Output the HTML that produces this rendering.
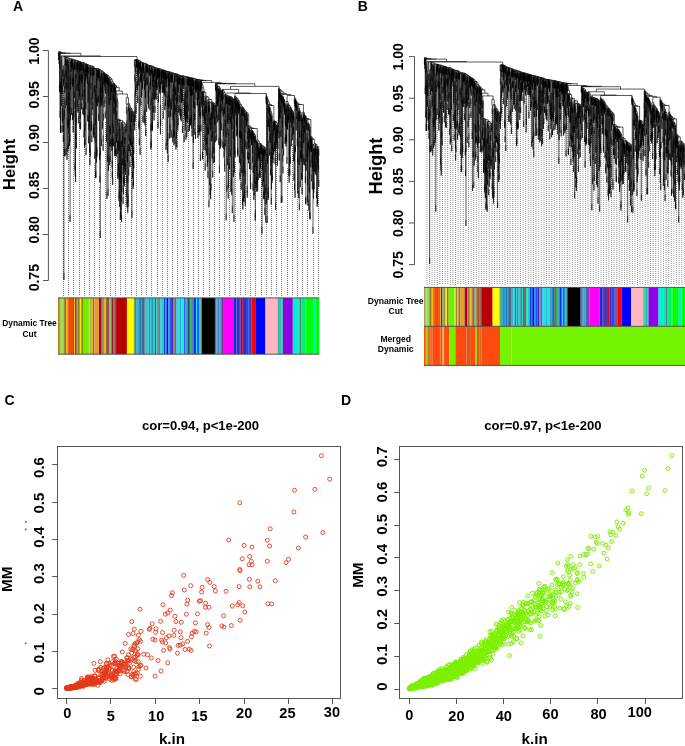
<!DOCTYPE html><html><head><meta charset="utf-8"><style>html,body{margin:0;padding:0;background:#fff;overflow:hidden}svg{display:block;will-change:transform}</style></head><body><svg width="685" height="746" viewBox="0 0 685 746"><rect width="685" height="746" fill="#fff"/><g font-family="Liberation Sans, sans-serif" font-weight="bold" fill="#000"><text x="13.0" y="10.8" font-size="14.0" text-anchor="start">A</text><text x="357.8" y="10.5" font-size="14.0" text-anchor="start">B</text><text x="4.4" y="404.7" font-size="14.0" text-anchor="start">C</text><text x="341.0" y="404.7" font-size="14.0" text-anchor="start">D</text></g><g stroke="#555" stroke-width="1" fill="none"><path d="M48.4 50.5V280.5M43.0 50.5H48.4M43.0 96.5H48.4M43.0 142.5H48.4M43.0 188.5H48.4M43.0 234.5H48.4M43.0 280.5H48.4"/></g><g font-family="Liberation Sans, sans-serif" font-weight="bold" fill="#000"><text x="38.6" y="51.1" font-size="14.0" text-anchor="middle" transform="rotate(-90 38.6 51.1)">1.00</text><text x="38.6" y="94.8" font-size="14.0" text-anchor="middle" transform="rotate(-90 38.6 94.8)">0.95</text><text x="38.6" y="137.9" font-size="14.0" text-anchor="middle" transform="rotate(-90 38.6 137.9)">0.90</text><text x="38.6" y="185.3" font-size="14.0" text-anchor="middle" transform="rotate(-90 38.6 185.3)">0.85</text><text x="38.6" y="229.9" font-size="14.0" text-anchor="middle" transform="rotate(-90 38.6 229.9)">0.80</text><text x="38.6" y="277.7" font-size="14.0" text-anchor="middle" transform="rotate(-90 38.6 277.7)">0.75</text><text x="15.0" y="164.3" font-size="16.5" text-anchor="middle" transform="rotate(-90 15.0 164.3)">Height</text></g><path d="M63.5 91V296M68.5 130V296M73.5 122V296M79.5 104V296M84.5 91V296M89.5 122V296M94.5 163V296M99.5 187V296M105.5 122V296M110.5 139V296M115.5 99V296M120.5 222V296M125.5 138V296M131.5 126V296M136.5 71V296M141.5 102V296M146.5 116V296M151.5 135V296M157.5 94V296M162.5 97V296M167.5 111V296M172.5 146V296M177.5 95V296M183.5 90V296M188.5 115V296M193.5 112V296M198.5 104V296M203.5 110V296M209.5 211V296M214.5 158V296M219.5 177V296M224.5 176V296M229.5 109V296M235.5 162V296M240.5 142V296M245.5 188V296M250.5 193V296M255.5 171V296M261.5 156V296M266.5 108V296M271.5 194V296M276.5 140V296M281.5 207V296M287.5 168V296M292.5 144V296M297.5 167V296M302.5 176V296M307.5 210V296M313.5 238V296M318.5 174V296" stroke="#7a7a7a" stroke-width="1" stroke-dasharray="1 1" fill="none"/><defs><path id="dg" d="M58.8 51.6V51.5H60.7V52.7M59.1 57.1V52.7H62.3V52.8M59.3 59.7V52.8H65.2V53.2M59.8 53.7V53.2H70.6V53.3M60.3 86.0V53.3H80.9V55.9M61.2 56.0V55.9H100.7V56.5M64.3 56.6V56.5H137.0V59.6M135.9 59.6V59.6H138.1V60.1M137.4 60.1V60.1H138.8V60.5M138.2 60.7V60.5H139.5V60.7M138.6 61.4V60.7H140.3V61.7M139.6 61.8V61.7H141.0V61.9M140.2 62.1V61.9H141.9V62.6M140.9 62.8V62.6H142.9V62.9M142.2 63.2V62.9H143.6V63.1M142.8 63.4V63.1H144.3V63.3M143.3 63.4V63.3H145.3V63.4M144.3 72.3V63.4H146.3V64.1M145.8 64.4V64.1H146.8V64.1M146.3 64.2V64.1H147.4V64.6M146.7 67.3V64.6H148.0V65.2M147.3 65.4V65.2H148.7V65.3M147.7 72.2V65.3H149.7V65.6M148.7 66.7V65.6H150.7V65.6M149.3 72.5V65.6H152.2V66.3M150.6 66.4V66.3H153.7V67.2M152.5 67.2V67.2H155.0V67.3M154.3 68.8V67.3H155.6V67.6M154.9 68.3V67.6H156.4V68.1M155.7 68.7V68.1H157.1V68.3M156.7 79.4V68.3H157.4V68.3M157.0 83.1V68.3H157.8V68.5M157.2 75.4V68.5H158.4V68.6M157.4 72.5V68.6H159.3V68.8M158.2 69.0V68.8H160.3V69.0M158.9 69.0V69.0H161.7V69.8M160.4 69.9V69.8H163.1V70.0M162.2 70.1V70.0H163.9V70.2M163.2 70.4V70.2H164.7V70.6M164.1 70.8V70.6H165.4V70.8M164.8 71.2V70.8H165.9V70.8M165.3 71.9V70.8H166.6V71.5M165.7 78.4V71.5H167.5V71.5M166.1 72.7V71.5H169.0V71.8M167.8 71.9V71.8H170.1V72.2M169.1 72.6V72.2H171.2V72.4M169.8 72.6V72.4H172.5V72.9M171.4 73.1V72.9H173.6V73.3M172.6 73.6V73.3H174.6V73.5M173.9 81.3V73.5H175.2V73.7M174.4 75.2V73.7H176.0V73.9M175.0 74.3V73.9H177.1V74.3M176.2 74.4V74.3H177.9V74.4M177.2 74.6V74.4H178.7V74.8M177.9 75.2V74.8H179.4V75.4M178.5 78.1V75.4H180.4V75.8M179.1 78.4V75.8H181.6V75.8M179.5 82.7V75.8H183.8V76.2M182.1 76.2V76.2H185.5V76.6M184.2 78.3V76.6H186.9V76.8M185.8 77.6V76.8H188.0V77.1M187.0 78.9V77.1H188.9V77.3M188.0 77.4V77.3H189.8V77.4M189.1 84.3V77.4H190.5V77.5M189.6 78.0V77.5H191.3V77.9M190.5 78.4V77.9H192.2V78.0M191.4 78.2V78.0H192.9V78.3M191.9 78.7V78.3H193.9V78.4M192.7 78.7V78.4H195.1V78.8M193.7 79.7V78.8H196.5V79.4M195.0 80.6V79.4H198.1V79.5M196.1 79.5V79.5H200.0V79.8M197.4 80.0V79.8H202.6V80.4M198.9 80.9V80.4H206.2V80.5M200.9 80.7V80.5H211.5V82.4M202.3 85.1V82.4H220.7V83.4M215.6 83.7V83.4H225.7V83.4M215.8 90.3V83.4H235.7V83.8M216.5 83.8V83.8H254.8V86.4M230.6 89.4V86.4H279.0V88.1M278.6 88.3V88.1H279.4V89.4M279.0 131.4V89.4H279.9V89.6M279.4 111.8V89.6H280.4V89.8M279.7 109.4V89.8H281.0V90.8M279.9 93.3V90.8H282.1V92.0M280.4 92.9V92.0H283.8V93.5M281.1 94.5V93.5H286.5V94.5M282.2 95.9V94.5H290.9V95.5M287.1 101.6V95.5H294.6V97.3M294.3 104.2V97.3H295.0V99.2M294.5 106.1V99.2H295.5V99.2M295.1 99.9V99.2H295.9V99.4M295.6 106.3V99.4H296.1V101.3M295.8 108.2V101.3H296.4V101.6M296.0 104.0V101.6H296.8V101.7M296.4 108.6V101.7H297.2V102.9M296.5 109.8V102.9H297.9V103.1M296.8 103.3V103.1H298.9V104.4M297.1 111.3V104.4H300.8V104.5M298.2 106.0V104.5H303.4V112.0M302.8 118.8V112.0H304.0V112.3M303.7 114.4V112.3H304.2V113.9M304.0 157.5V113.9H304.4V114.8M304.2 121.7V114.8H304.7V115.0M304.4 125.2V115.0H304.9V115.3M304.6 122.2V115.3H305.3V115.9M304.8 127.4V115.9H305.7V116.6M305.2 134.4V116.6H306.1V116.8M305.5 123.7V116.8H306.7V118.5M305.8 196.6V118.5H307.6V118.6M306.1 163.8V118.6H309.1V119.5M307.2 119.9V119.5H310.9V136.6M310.5 143.5V136.6H311.4V136.7M310.8 137.3V136.7H312.0V137.9M311.4 145.1V137.9H312.6V138.4M311.8 139.9V138.4H313.4V139.4M312.3 144.0V139.4H314.6V143.9M313.5 145.3V143.9H315.7V143.9M315.2 144.8V143.9H316.2V144.5M315.6 148.9V144.5H316.9V146.2M316.2 149.3V146.2H317.6V146.8M317.0 147.2V146.8H318.2V146.8M317.7 148.8V146.8H318.7V148.8M318.4 151.3V148.8H318.9V155.7M318.2 155.3V151.3H318.6V165.6M318.5 172.5V165.6H318.7V180.0M318.7 186.9V180.0H318.8V186.9M318.0 162.2V155.3H318.3V158.6M318.2 162.9V158.6H318.4V165.5M318.2 169.8V162.9H318.3V169.8M317.6 196.6V148.8H317.8V148.9M317.8 155.8V148.9H317.9V155.8M317.5 203.5V196.6H317.6V203.5M316.9 154.1V147.2H317.1V153.0M317.0 159.9V153.0H317.3V156.0M317.2 199.8V156.0H317.4V162.9M317.1 206.7V199.8H317.2V206.7M316.0 161.8V149.3H316.4V152.9M316.2 159.8V152.9H316.6V160.8M316.4 168.7V160.8H316.7V167.7M316.3 175.6V168.7H316.5V191.4M316.5 198.3V191.4H316.6V198.3M315.9 165.0V161.8H316.1V168.7M315.8 171.9V165.0H315.9V171.9M315.5 155.8V148.9H315.7V155.8M314.9 148.4V144.8H315.4V167.6M315.3 174.5V167.6H315.4V174.5M314.7 148.9V148.4H315.2V155.3M314.5 159.6V148.9H314.9V151.3M314.8 158.1V151.3H315.0V158.2M314.8 165.0V158.1H314.9V165.0M314.4 165.0V159.6H314.6V166.5M314.4 171.9V165.0H314.5V171.9M312.9 150.1V145.3H314.0V147.7M313.8 148.8V147.7H314.2V154.6M313.5 149.3V148.8H314.1V182.1M314.0 189.0V182.1H314.1V189.0M313.3 156.2V149.3H313.7V159.7M313.5 191.6V159.7H313.8V185.7M313.7 192.6V185.7H313.9V192.6M313.5 198.5V191.6H313.6V198.5M312.8 161.0V150.1H313.1V152.6M313.0 227.0V152.6H313.2V159.5M312.9 233.9V227.0H313.1V233.9M312.7 167.9V161.0H312.8V167.9M312.1 155.7V144.0H312.5V164.2M312.4 182.4V164.2H312.6V171.1M312.3 189.3V182.4H312.4V189.3M312.0 162.6V155.7H312.2V162.6M311.7 174.5V139.9H311.9V146.8M311.6 181.4V174.5H311.8V181.4M311.4 152.0V145.1H311.5V152.0M310.6 144.2V137.3H311.0V138.9M310.9 139.5V138.9H311.2V144.1M311.1 151.0V144.1H311.3V151.0M310.8 160.4V139.5H311.0V146.4M310.7 167.3V160.4H310.9V167.3M306.5 120.0V119.9H307.9V122.7M307.4 123.9V122.7H308.4V123.3M308.1 130.2V123.3H308.6V123.8M308.3 130.7V123.8H308.9V124.2M308.4 131.1V124.2H309.5V126.4M309.0 126.6V126.4H309.9V127.0M309.7 129.6V127.0H310.1V138.1M310.0 212.5V138.1H310.3V144.7M310.2 151.6V144.7H310.3V151.6M310.0 219.4V212.5H310.1V219.4M309.6 136.5V129.6H309.8V211.6M309.7 218.5V211.6H309.8V218.5M308.8 140.6V126.6H309.3V171.1M309.2 185.6V171.1H309.4V178.0M309.2 192.5V185.6H309.3V192.5M308.6 142.7V140.6H308.9V150.2M308.8 203.8V150.2H309.0V157.1M308.8 210.7V203.8H308.9V210.7M308.5 149.6V142.7H308.6V149.6M307.1 133.4V123.9H307.8V138.0M307.7 178.4V138.0H307.9V198.9M307.9 205.8V198.9H308.0V205.8M307.6 185.3V178.4H307.7V185.3M306.9 155.2V133.4H307.3V142.7M307.2 149.6V142.7H307.4V195.1M307.3 202.0V195.1H307.5V202.0M307.1 156.5V149.6H307.2V156.5M306.8 162.1V155.2H307.0V162.1M306.3 126.9V120.0H306.6V121.8M306.5 123.0V121.8H306.7V128.7M306.4 129.9V123.0H306.6V129.9M306.0 170.7V163.8H306.2V170.7M305.7 203.5V196.6H305.8V197.6M305.8 204.5V197.6H305.9V204.5M305.1 141.3V134.4H305.3V176.2M305.3 183.1V176.2H305.4V183.1M304.7 134.3V127.4H304.9V158.7M304.9 165.6V158.7H305.0V165.6M304.4 132.1V125.2H304.5V132.1M304.0 164.4V157.5H304.1V164.4M303.5 129.9V114.4H303.8V121.3M303.4 136.8V129.9H303.6V136.2M303.6 143.1V136.2H303.7V143.1M302.6 165.0V118.8H303.1V125.3M302.9 141.2V125.3H303.3V132.2M302.8 148.1V141.2H303.1V154.5M303.0 158.0V154.5H303.2V161.4M302.9 164.9V158.0H303.1V164.9M302.5 172.9V165.0H302.7V171.9M302.4 179.8V172.9H302.5V179.8M297.5 114.8V106.0H298.9V108.0M298.4 110.8V108.0H299.4V109.1M299.0 141.4V109.1H299.8V110.5M299.4 111.8V110.5H300.2V112.0M299.7 130.8V112.0H300.6V112.6M300.0 114.1V112.6H301.3V114.8M300.8 114.9V114.8H301.7V116.7M301.3 117.2V116.7H302.1V118.1M301.9 119.4V118.1H302.3V125.0M301.8 150.7V119.4H302.1V187.4M302.0 194.3V187.4H302.1V194.3M301.7 157.6V150.7H301.9V157.6M301.2 154.9V117.2H301.5V133.2M301.4 172.5V133.2H301.6V140.1M301.4 179.4V172.5H301.5V179.4M301.1 161.8V154.9H301.2V161.8M300.6 141.2V114.9H301.0V121.8M300.5 149.5V141.2H300.8V148.1M300.3 150.9V149.5H300.6V151.4M300.6 158.3V151.4H300.7V158.3M300.2 157.8V150.9H300.4V180.3M300.3 187.2V180.3H300.4V187.2M299.9 121.0V114.1H300.1V121.0M299.7 137.7V130.8H299.8V137.7M299.3 203.4V111.8H299.5V118.7M299.3 210.3V203.4H299.4V210.3M298.9 148.3V141.4H299.1V158.1M299.0 165.0V158.1H299.1V165.0M298.3 112.3V110.8H298.6V111.0M298.5 117.9V111.0H298.7V191.2M298.6 198.1V191.2H298.8V198.1M298.2 114.2V112.3H298.4V119.2M298.1 121.1V114.2H298.2V121.1M297.3 139.1V114.8H297.7V119.5M297.5 156.5V119.5H297.9V182.0M297.8 188.9V182.0H298.0V188.9M297.5 163.4V156.5H297.6V186.7M297.6 193.6V186.7H297.7V193.6M297.2 146.0V139.1H297.3V146.0M296.7 112.3V103.3H296.9V110.2M296.7 119.2V112.3H296.8V119.2M295.9 110.9V104.0H296.1V117.1M296.0 124.0V117.1H296.2V123.6M296.1 130.5V123.6H296.3V130.5M294.8 146.8V99.9H295.4V100.1M295.3 145.0V100.1H295.5V107.0M295.2 151.9V145.0H295.4V151.9M294.7 183.4V146.8H294.9V146.9M294.8 153.8V146.9H295.0V190.9M295.0 197.8V190.9H295.1V197.8M294.6 190.3V183.4H294.7V190.3M286.1 104.1V101.6H288.0V103.3M287.5 106.8V103.3H288.5V104.2M288.0 104.7V104.2H289.0V105.5M288.5 107.2V105.5H289.6V105.6M289.0 112.5V105.6H290.1V107.4M289.3 109.6V107.4H290.9V107.6M290.5 108.0V107.6H291.4V109.0M291.0 111.0V109.0H291.7V109.5M291.5 110.3V109.5H292.0V110.4M291.7 117.3V110.4H292.2V111.0M291.9 117.9V111.0H292.6V111.3M292.0 118.2V111.3H293.2V112.3M292.7 112.6V112.3H293.6V115.6M293.4 122.5V115.6H293.9V116.2M293.6 126.8V116.2H294.1V154.7M294.0 173.9V154.7H294.2V161.6M293.9 180.8V173.9H294.1V180.8M293.5 133.7V126.8H293.7V154.3M293.7 161.2V154.3H293.8V161.2M292.4 118.0V112.6H293.0V112.9M292.9 116.0V112.9H293.2V113.0M293.2 119.9V113.0H293.3V119.9M292.7 125.8V116.0H293.0V122.9M292.6 132.7V125.8H292.8V127.8M292.8 134.7V127.8H292.9V134.7M292.2 132.9V118.0H292.5V124.9M292.1 139.8V132.9H292.3V133.4M292.2 140.3V133.4H292.4V140.3M291.4 139.3V110.3H291.6V117.2M291.3 146.2V139.3H291.5V146.2M290.9 115.8V111.0H291.1V120.7M291.1 127.6V120.7H291.2V127.6M290.8 122.7V115.8H290.9V122.7M290.3 109.4V108.0H290.7V114.9M290.1 125.9V109.4H290.5V113.0M290.4 119.9V113.0H290.6V119.9M289.9 143.6V125.9H290.2V157.0M290.2 163.9V157.0H290.3V163.9M289.8 168.6V143.6H290.0V150.5M289.8 175.5V168.6H289.9V175.5M289.2 175.8V109.6H289.5V148.8M289.4 155.7V148.8H289.6V159.6M289.5 166.5V159.6H289.6V166.5M289.1 182.7V175.8H289.2V182.7M288.3 114.1V107.2H288.6V113.6M288.5 120.5V113.6H288.7V113.7M288.6 120.6V113.7H288.8V169.1M288.7 176.0V169.1H288.9V176.0M287.9 111.6V104.7H288.1V116.2M288.1 123.1V116.2H288.2V123.1M287.2 122.7V106.8H287.7V113.7M287.6 115.5V113.7H287.8V120.6M287.5 122.1V115.5H287.7V122.4M287.4 129.0V122.1H287.6V129.0M287.2 129.6V122.7H287.3V129.6M285.5 119.7V104.1H286.7V105.0M286.5 106.8V105.0H287.0V156.9M286.9 163.8V156.9H287.0V163.8M286.2 108.9V106.8H286.8V113.7M286.0 109.4V108.9H286.5V134.1M286.4 141.0V134.1H286.6V135.1M286.5 142.0V135.1H286.6V142.0M285.8 133.7V109.4H286.2V136.5M286.1 143.4V136.5H286.3V143.4M285.7 140.6V133.7H285.9V139.7M285.9 146.6V139.7H286.0V146.6M285.5 126.6V119.7H285.6V126.6M281.7 96.1V95.9H282.7V96.2M282.3 115.8V96.2H283.1V96.9M282.8 154.9V96.9H283.3V97.2M283.1 104.1V97.2H283.5V98.2M283.3 105.1V98.2H283.7V99.0M283.4 105.9V99.0H283.9V99.3M283.7 99.8V99.3H284.2V99.9M283.9 106.8V99.9H284.5V100.7M284.2 101.7V100.7H284.8V103.6M284.6 107.8V103.6H285.0V104.3M284.8 111.2V104.3H285.2V110.0M285.1 117.0V110.0H285.3V116.9M285.0 137.0V117.0H285.2V123.9M285.0 143.9V137.0H285.1V143.9M284.6 114.7V107.8H284.7V114.7M284.0 108.6V101.7H284.3V102.6M284.2 109.5V102.6H284.4V105.2M284.3 112.1V105.2H284.4V112.1M283.6 148.4V99.8H283.8V106.7M283.5 155.3V148.4H283.7V155.3M282.7 161.8V154.9H282.9V166.4M282.9 173.3V166.4H283.0V173.3M282.2 122.7V115.8H282.4V120.7M282.3 127.6V120.7H282.5V141.6M282.5 148.5V141.6H282.6V148.5M281.6 103.0V96.1H281.8V96.4M281.7 103.3V96.4H282.0V98.4M281.9 195.7V98.4H282.1V105.3M281.8 202.6V195.7H282.0V202.6M280.8 104.8V94.5H281.3V94.8M281.2 196.1V94.8H281.4V101.7M281.2 203.0V196.1H281.3V203.0M280.7 111.7V104.8H280.9V106.2M280.9 129.8V106.2H281.0V113.1M280.8 136.7V129.8H280.9V136.7M280.3 111.3V92.9H280.5V99.8M280.2 175.2V111.3H280.4V118.2M280.1 182.1V175.2H280.3V182.1M279.9 100.2V93.3H280.0V100.2M279.6 116.3V109.4H279.7V116.3M279.3 153.7V111.8H279.5V118.7M279.2 160.6V153.7H279.4V160.6M279.0 138.3V131.4H279.1V138.3M278.5 101.3V88.3H278.8V115.3M278.7 122.2V115.3H278.8V122.2M278.4 119.9V101.3H278.6V108.2M278.3 126.8V119.9H278.4V126.8M222.4 89.6V89.4H238.7V93.0M226.7 95.4V93.0H250.6V93.5M235.0 96.5V93.5H266.3V94.1M266.1 101.0V94.1H266.5V96.6M266.2 103.5V96.6H266.9V96.7M266.6 96.9V96.7H267.1V97.1M266.9 104.0V97.1H267.4V98.7M267.0 105.6V98.7H267.9V99.9M267.3 120.0V99.9H268.5V102.1M267.6 156.9V102.1H269.4V104.1M268.4 105.6V104.1H270.3V104.6M268.9 111.5V104.6H271.7V105.5M269.6 107.1V105.5H273.9V120.8M273.2 122.1V120.8H274.6V121.1M274.0 121.5V121.1H275.1V121.2M274.5 122.3V121.2H275.8V121.7M275.0 121.7V121.7H276.5V122.8M275.6 123.5V122.8H277.4V124.9M276.9 125.2V124.9H277.9V125.6M277.7 130.4V125.6H278.1V125.8M278.1 132.7V125.8H278.2V132.7M277.6 153.0V130.4H277.9V142.0M277.8 148.9V142.0H277.9V148.9M277.5 159.9V153.0H277.7V159.9M276.5 125.3V125.2H277.2V138.1M277.1 145.0V138.1H277.3V158.9M277.3 165.8V158.9H277.4V165.8M276.2 125.3V125.3H276.9V126.1M276.8 128.3V126.1H277.0V133.0M276.7 129.3V128.3H276.9V135.2M276.6 131.2V129.3H276.8V136.2M276.5 138.1V131.2H276.6V138.1M276.0 141.5V125.3H276.3V136.0M276.2 142.9V136.0H276.4V142.9M276.0 148.4V141.5H276.1V148.4M275.4 142.9V123.5H275.7V133.2M275.6 203.0V133.2H275.8V140.1M275.6 209.9V203.0H275.7V209.9M275.3 149.8V142.9H275.4V149.8M274.9 128.6V121.7H275.1V157.6M275.1 164.5V157.6H275.2V164.5M274.4 129.2V122.3H274.6V142.1M274.5 149.0V142.1H274.7V144.6M274.7 151.5V144.6H274.8V151.5M273.8 121.7V121.5H274.2V123.6M274.1 130.5V123.6H274.3V130.5M273.7 129.5V121.7H274.0V123.3M273.9 130.2V123.3H274.0V130.2M273.6 148.2V129.5H273.8V136.4M273.5 155.1V148.2H273.6V155.1M273.0 124.6V122.1H273.4V129.0M272.8 153.0V124.6H273.1V146.5M273.0 156.3V146.5H273.2V153.4M273.0 163.2V156.3H273.1V163.2M272.7 159.9V153.0H272.8V159.9M269.2 118.9V107.1H270.0V108.0M269.6 108.2V108.0H270.3V108.6M269.8 115.5V108.6H270.7V111.3M270.1 132.9V111.3H271.4V113.2M270.8 113.9V113.2H272.0V115.9M271.7 116.3V115.9H272.3V130.4M272.1 160.7V130.4H272.5V144.0M272.5 150.9V144.0H272.6V150.9M272.0 176.0V160.7H272.3V173.4M272.2 180.3V173.4H272.3V180.3M271.9 182.9V176.0H272.1V182.9M271.6 152.5V116.3H271.8V123.2M271.5 182.6V152.5H271.7V159.4M271.4 189.5V182.6H271.5V189.5M270.5 114.8V113.9H271.1V115.0M271.0 151.9V115.0H271.2V197.5M271.2 204.4V197.5H271.3V204.4M270.9 158.8V151.9H271.0V158.8M270.4 121.7V114.8H270.7V159.2M270.6 168.4V159.2H270.8V166.1M270.5 175.3V168.4H270.6V175.3M270.0 139.8V132.9H270.2V136.0M270.1 142.9V136.0H270.2V142.9M269.5 148.7V108.2H269.7V115.1M269.5 155.6V148.7H269.6V155.6M269.1 125.8V118.9H269.3V124.5M269.2 131.4V124.5H269.3V131.4M268.1 140.9V105.6H268.6V106.0M268.5 112.9V106.0H268.7V120.1M268.7 127.0V120.1H268.8V127.0M267.9 153.4V140.9H268.4V190.8M268.3 197.7V190.8H268.4V197.7M267.8 160.3V153.4H268.0V187.1M267.9 194.0V187.1H268.1V193.1M268.0 200.0V193.1H268.2V200.0M267.5 163.8V156.9H267.6V163.8M267.2 216.2V120.0H267.4V126.9M267.1 223.1V216.2H267.2V223.1M266.4 97.0V96.9H266.7V103.8M266.3 103.9V97.0H266.5V196.9M266.5 203.8V196.9H266.6V203.8M234.5 108.4V96.5H235.5V96.7M234.8 103.6V96.7H236.1V97.6M235.5 98.2V97.6H236.7V98.1M236.1 98.8V98.1H237.4V98.6M236.6 129.4V98.6H238.1V100.1M237.5 100.1V100.1H238.8V100.7M238.2 102.2V100.7H239.3V102.0M238.6 102.1V102.0H240.0V104.1M239.4 105.2V104.1H240.6V104.3M239.8 111.2V104.3H241.4V105.9M240.7 106.9V105.9H242.2V107.0M241.4 108.4V107.0H242.9V107.7M242.4 108.0V107.7H243.4V107.9M242.9 169.1V107.9H243.9V109.0M243.3 109.0V109.0H244.4V109.6M243.8 116.5V109.6H245.1V110.8M244.5 110.8V110.8H245.6V111.2M244.9 112.9V111.2H246.3V112.5M245.9 113.4V112.5H246.7V112.7M246.2 142.0V112.7H247.2V112.8M246.5 119.1V112.8H248.0V114.6M247.3 114.7V114.6H248.7V125.7M247.8 152.4V125.7H249.6V126.1M248.6 126.1V126.1H250.6V127.6M249.2 128.3V127.6H252.1V128.2M249.9 134.7V128.2H254.3V128.5M251.3 129.8V128.5H257.3V140.0M256.3 141.1V140.0H258.3V141.2M257.2 142.0V141.2H259.4V143.5M258.2 144.4V143.5H260.6V143.7M259.9 144.6V143.7H261.2V144.1M260.8 144.5V144.1H261.6V145.1M261.2 145.1V145.1H262.1V145.7M261.5 147.1V145.7H262.6V145.7M261.9 147.0V145.7H263.3V146.5M262.8 148.0V146.5H263.9V146.5M263.2 148.9V146.5H264.6V147.6M264.0 148.8V147.6H265.1V147.7M264.6 154.6V147.7H265.6V148.9M265.4 150.1V148.9H265.9V155.8M265.2 166.2V150.1H265.5V159.7M265.4 166.6V159.7H265.7V187.6M265.6 194.5V187.6H265.7V215.7M265.7 222.6V215.7H265.8V222.6M265.0 184.7V166.2H265.3V173.1M264.9 197.6V184.7H265.2V191.6M264.8 208.2V197.6H265.0V204.5M264.8 215.1V208.2H264.9V215.1M263.7 192.2V148.8H264.3V149.2M264.1 149.7V149.2H264.5V156.1M264.0 153.5V149.7H264.3V191.9M264.3 198.8V191.9H264.4V198.8M263.9 160.4V153.5H264.1V190.6M264.0 197.5V190.6H264.1V197.5M263.6 199.1V192.2H263.7V199.1M263.1 155.8V148.9H263.3V149.2M263.2 156.1V149.2H263.4V174.6M263.3 181.5V174.6H263.5V181.5M262.6 148.4V148.0H262.9V154.9M262.4 153.9V148.4H262.8V155.3M262.3 156.1V153.9H262.6V179.7M262.6 186.6V179.7H262.7V186.6M262.2 163.0V156.1H262.4V163.2M262.3 170.1V163.2H262.4V170.1M261.8 153.9V147.0H262.0V227.0M261.9 233.9V227.0H262.0V233.9M261.5 147.8V147.1H261.6V154.0M261.4 154.7V147.8H261.5V154.7M261.1 152.0V145.1H261.3V152.0M260.7 147.2V144.5H260.9V154.6M260.9 161.5V154.6H261.0V161.5M260.6 154.1V147.2H260.7V154.1M259.4 147.6V144.6H260.4V161.5M260.3 168.4V161.5H260.5V168.4M259.1 151.2V147.6H259.7V149.2M259.4 156.1V149.2H260.0V158.7M259.8 162.5V158.7H260.1V171.1M260.1 178.0V171.1H260.2V178.0M259.7 168.8V162.5H260.0V169.4M259.6 170.8V168.8H259.8V175.7M259.6 177.7V170.8H259.7V177.7M259.0 158.1V151.2H259.2V154.5M259.2 161.4V154.5H259.3V161.4M257.9 151.3V144.4H258.5V146.4M258.2 147.3V146.4H258.8V147.0M258.7 151.6V147.0H258.9V153.9M258.7 158.5V151.6H258.8V158.5M258.0 154.2V147.3H258.3V147.9M258.2 173.2V147.9H258.5V150.3M258.4 157.2V150.3H258.5V157.2M258.1 180.1V173.2H258.3V180.1M256.9 176.9V142.0H257.5V142.0M257.3 143.1V142.0H257.7V184.5M257.6 191.4V184.5H257.7V191.4M257.2 153.7V143.1H257.5V150.0M257.1 160.6V153.7H257.3V177.7M257.2 184.6V177.7H257.4V184.6M256.8 183.8V176.9H257.0V183.8M256.0 146.9V141.1H256.5V141.1M256.4 148.0V141.1H256.6V184.8M256.6 191.7V184.8H256.7V191.7M255.9 160.0V146.9H256.2V163.9M256.1 180.7V163.9H256.3V170.8M256.0 187.6V180.7H256.2V187.6M255.8 166.9V160.0H255.9V166.9M250.7 130.5V129.8H251.9V130.5M251.5 131.2V130.5H252.3V130.8M251.9 130.8V130.8H252.6V131.0M252.1 137.9V131.0H253.1V132.0M252.5 132.3V132.0H253.7V133.0M253.3 133.1V133.0H254.2V134.2M253.7 141.1V134.2H254.6V134.3M254.0 164.3V134.3H255.2V135.9M254.8 136.2V135.9H255.7V142.8M254.4 143.1V136.2H255.2V136.3M254.9 137.2V136.3H255.5V143.2M254.6 137.5V137.2H255.1V143.5M254.9 181.7V143.5H255.3V210.1M255.2 213.8V210.1H255.4V217.0M255.1 220.7V213.8H255.3V220.7M254.9 188.6V181.7H255.0V188.6M254.6 177.0V137.5H254.7V144.4M254.5 183.9V177.0H254.6V183.9M253.9 193.0V164.3H254.2V188.1M254.1 195.0V188.1H254.2V195.0M253.8 199.9V193.0H254.0V199.9M253.1 135.3V133.1H253.5V133.3M253.4 140.2V133.3H253.6V140.2M253.0 183.8V135.3H253.2V166.0M253.2 172.9V166.0H253.3V172.9M252.9 190.7V183.8H253.1V190.7M252.3 156.2V132.3H252.7V139.4M252.6 146.5V139.4H252.8V146.3M252.5 153.4V146.5H252.7V153.4M252.3 163.1V156.2H252.4V163.1M251.9 137.7V130.8H252.0V137.7M251.3 137.3V131.2H251.7V132.1M251.6 138.1V132.1H251.8V139.0M251.5 145.0V138.1H251.6V145.0M251.2 144.2V137.3H251.4V144.2M250.2 131.8V130.5H251.1V137.4M250.1 138.7V131.8H250.4V132.0M250.2 138.9V132.0H250.7V144.4M250.4 174.7V144.4H250.9V163.2M250.8 170.1V163.2H251.0V170.1M250.3 181.6V174.7H250.5V181.9M250.4 188.8V181.9H250.6V182.2M250.6 189.1V182.2H250.7V189.1M249.8 141.6V134.7H249.9V141.6M248.9 135.2V128.3H249.4V129.0M249.3 129.0V129.0H249.6V162.0M249.5 168.9V162.0H249.7V168.9M249.1 140.6V129.0H249.4V135.9M249.0 147.5V140.6H249.2V152.7M249.1 159.6V152.7H249.3V159.6M248.4 128.1V126.1H248.8V133.0M248.3 135.9V128.1H248.6V156.4M248.5 163.3V156.4H248.6V163.3M248.2 141.7V135.9H248.4V142.8M248.1 148.6V141.7H248.2V148.6M247.7 159.3V152.4H247.9V152.4M247.8 159.3V152.4H248.0V159.3M247.1 117.0V114.7H247.6V121.6M246.8 118.9V117.0H247.3V131.8M247.2 185.8V131.8H247.5V138.7M247.1 192.7V185.8H247.3V190.7M247.2 197.6V190.7H247.3V197.6M246.7 119.5V118.9H246.9V125.8M246.7 126.4V119.5H246.8V126.4M246.4 126.0V119.1H246.5V126.0M246.2 148.9V142.0H246.3V148.9M245.7 118.8V113.4H246.0V120.3M245.5 125.6V118.8H245.9V125.7M245.3 140.1V125.6H245.8V132.5M245.1 147.0V140.1H245.5V170.3M245.4 177.5V170.3H245.6V177.2M245.3 199.2V177.5H245.5V184.4M245.2 206.1V199.2H245.4V206.1M244.9 119.8V112.9H245.0V119.8M244.3 114.8V110.8H244.7V117.7M244.1 120.0V114.8H244.5V191.1M244.5 198.0V191.1H244.6V198.0M244.0 195.3V120.0H244.3V166.7M244.2 173.6V166.7H244.3V173.6M243.9 202.2V195.3H244.1V202.2M243.2 115.9V109.0H243.4V151.5M243.3 158.4V151.5H243.5V160.2M243.4 167.1V160.2H243.6V194.5M243.5 201.4V194.5H243.7V201.4M242.8 202.6V169.1H243.0V176.0M242.8 209.5V202.6H242.9V209.5M242.1 108.1V108.0H242.6V114.9M241.9 137.2V108.1H242.3V109.5M242.2 116.4V109.5H242.4V197.8M242.4 204.7V197.8H242.5V204.7M241.8 166.1V137.2H242.1V146.7M242.0 153.6V146.7H242.1V153.6M241.7 173.0V166.1H241.9V173.0M241.3 115.3V108.4H241.5V132.6M241.5 139.5V132.6H241.6V139.5M240.4 114.0V106.9H241.0V135.4M240.9 142.3V135.4H241.1V182.9M241.1 189.8V182.9H241.2V189.8M240.2 131.1V114.0H240.5V131.2M240.4 138.1V131.2H240.7V131.2M240.6 138.1V131.2H240.7V158.5M240.7 165.4V158.5H240.8V165.4M240.1 169.2V131.1H240.3V138.0M240.0 172.7V169.2H240.2V176.1M239.9 179.6V172.7H240.0V179.6M239.3 155.9V105.2H239.6V130.6M239.5 137.5V130.6H239.6V137.5M239.3 162.8V155.9H239.4V162.8M238.5 109.0V102.1H238.8V102.8M238.6 109.7V102.8H239.0V105.2M238.9 105.9V105.2H239.1V112.1M238.8 107.4V105.9H239.0V112.8M238.7 114.3V107.4H238.9V114.3M238.1 102.9V102.2H238.3V109.1M238.1 109.8V102.9H238.2V109.8M237.0 100.2V100.1H237.9V149.8M237.8 156.7V149.8H238.0V156.7M236.8 107.1V100.2H237.3V101.1M237.1 118.0V101.1H237.5V101.7M237.4 128.3V101.7H237.6V147.6M237.6 154.5V147.6H237.7V154.5M237.3 135.2V128.3H237.4V135.2M237.0 120.7V118.0H237.2V124.9M236.9 127.6V120.7H237.0V127.6M236.5 136.3V129.4H236.6V136.3M236.0 105.9V98.8H236.3V118.4M236.3 125.3V118.4H236.4V125.3M235.9 112.8V105.9H236.1V108.9M236.0 115.8V108.9H236.1V115.8M235.2 98.7V98.2H235.7V105.1M235.0 105.6V98.7H235.4V99.1M235.2 105.5V99.1H235.5V101.3M235.5 108.2V101.3H235.6V108.2M235.2 150.7V105.5H235.3V112.4M235.1 157.6V150.7H235.2V157.6M234.4 165.6V108.4H234.6V146.6M234.6 153.5V146.6H234.7V153.5M234.3 172.5V165.6H234.4V172.5M225.7 95.6V95.4H227.8V95.8M226.5 96.4V95.8H229.0V96.3M228.0 96.5V96.3H230.0V96.7M229.3 97.0V96.7H230.8V96.7M230.2 98.5V96.7H231.4V97.1M230.9 98.4V97.1H231.8V97.5M231.2 178.7V97.5H232.4V98.2M231.8 98.9V98.2H233.1V98.8M232.6 99.0V98.8H233.5V99.3M233.2 132.0V99.3H233.8V99.6M233.6 112.3V99.6H234.1V126.5M234.0 215.0V126.5H234.2V133.4M233.9 221.9V215.0H234.0V221.9M233.5 119.2V112.3H233.7V161.2M233.7 168.1V161.2H233.8V168.1M233.1 138.9V132.0H233.3V170.1M233.3 177.0V170.1H233.4V177.0M232.4 107.8V99.0H232.8V99.7M232.6 106.6V99.7H232.9V100.3M232.8 106.0V100.3H233.0V107.2M232.7 112.9V106.0H232.9V112.9M232.3 206.2V107.8H232.5V114.7M232.2 213.1V206.2H232.4V213.1M231.5 104.1V98.9H232.0V111.7M231.9 122.3V111.7H232.1V118.6M231.8 129.2V122.3H232.0V129.2M231.4 111.0V104.1H231.6V188.0M231.6 194.9V188.0H231.7V194.9M231.2 185.6V178.7H231.3V185.6M230.8 116.8V98.4H231.0V105.3M230.7 123.7V116.8H230.9V185.2M230.8 192.1V185.2H230.9V192.1M230.0 105.4V98.5H230.4V107.8M230.3 116.2V107.8H230.5V114.7M230.2 149.6V116.2H230.4V123.1M230.1 156.5V149.6H230.3V156.5M229.0 113.4V97.0H229.6V97.5M229.3 97.7V97.5H229.8V97.6M229.7 104.5V97.6H229.9V104.5M229.2 104.6V97.7H229.5V98.4M229.4 105.3V98.4H229.6V162.3M229.5 169.2V162.3H229.6V169.2M229.0 120.3V113.4H229.1V120.3M227.7 96.5V96.5H228.3V97.5M228.0 117.1V97.5H228.7V98.2M228.5 128.9V98.2H228.8V105.1M228.4 132.9V128.9H228.7V135.8M228.3 191.7V132.9H228.5V181.2M228.4 188.1V181.2H228.6V188.1M228.2 198.6V191.7H228.3V198.6M227.9 124.0V117.1H228.1V124.0M227.6 115.1V96.5H227.8V103.4M227.5 122.0V115.1H227.7V122.0M226.3 96.5V96.4H226.8V96.6M226.6 103.5V96.6H227.0V97.6M226.8 104.5V97.6H227.2V106.3M227.0 127.8V106.3H227.3V158.3M227.3 165.2V158.3H227.4V165.2M226.9 184.8V127.8H227.1V134.7M226.9 191.7V184.8H227.0V191.7M226.2 213.5V96.5H226.4V97.5M226.4 104.4V97.5H226.5V104.4M226.1 220.4V213.5H226.2V220.4M225.6 102.5V95.6H225.8V119.3M225.7 126.2V119.3H225.9V130.6M225.8 137.5V130.6H226.0V137.5M221.9 90.7V89.6H223.0V90.1M222.3 90.5V90.1H223.6V90.9M222.9 92.4V90.9H224.3V92.7M223.4 99.6V92.7H225.2V93.9M224.9 94.4V93.9H225.5V100.8M224.5 96.0V94.4H225.3V139.3M225.2 146.2V139.3H225.3V146.2M224.1 103.3V96.0H224.9V119.8M224.8 143.9V119.8H225.1V126.7M224.6 159.2V143.9H224.9V150.8M224.5 166.1V159.2H224.7V164.7M224.7 171.6V164.7H224.8V171.6M223.9 108.9V103.3H224.3V107.3M224.3 114.2V107.3H224.4V114.2M223.7 123.6V108.9H224.1V150.8M224.0 157.7V150.8H224.1V157.7M223.6 129.5V123.6H223.9V130.5M223.5 136.4V129.5H223.7V142.4M223.6 149.3V142.4H223.8V149.3M222.8 140.9V92.4H223.1V107.1M223.0 114.0V107.1H223.2V109.6M223.1 116.5V109.6H223.2V116.5M222.7 147.8V140.9H222.8V147.8M222.2 97.4V90.5H222.4V91.1M222.3 98.0V91.1H222.5V96.3M222.5 103.2V96.3H222.6V103.2M221.8 97.6V90.7H222.0V103.8M221.9 110.7V103.8H222.1V110.7M216.0 126.4V83.8H217.0V85.1M216.5 85.7V85.1H217.5V85.9M217.1 86.2V85.9H218.0V86.1M217.3 115.6V86.1H218.7V86.5M217.8 95.1V86.5H219.6V87.9M218.8 88.0V87.9H220.4V90.0M220.0 104.7V90.0H220.9V90.2M220.5 139.1V90.2H221.3V90.8M221.0 92.1V90.8H221.6V93.2M221.4 94.7V93.2H221.7V100.1M221.3 123.4V94.7H221.5V101.6M221.3 130.3V123.4H221.4V130.3M220.9 105.7V92.1H221.2V99.0M220.8 139.4V105.7H221.0V112.6M220.8 146.3V139.4H220.9V146.3M220.4 146.0V139.1H220.6V140.5M220.5 147.4V140.5H220.6V147.4M219.9 111.6V104.7H220.1V117.4M220.0 124.3V117.4H220.2V141.9M220.1 148.8V141.9H220.2V148.8M218.2 94.9V88.0H219.4V88.8M219.0 89.2V88.8H219.7V95.7M218.6 89.4V89.2H219.4V89.8M219.3 109.5V89.8H219.6V96.7M219.2 116.4V109.5H219.4V166.3M219.3 173.2V166.3H219.5V173.2M218.3 96.3V89.4H218.9V90.2M218.7 91.3V90.2H219.1V97.1M218.6 94.6V91.3H218.9V138.1M218.8 145.0V138.1H218.9V145.0M218.5 113.5V94.6H218.7V101.5M218.4 120.4V113.5H218.6V120.4M217.7 97.1V95.1H218.0V102.0M217.5 104.0V97.1H217.8V97.4M217.7 99.3V97.4H217.9V104.3M217.6 106.2V99.3H217.8V106.2M217.2 122.5V115.6H217.4V122.5M217.0 93.1V86.2H217.1V93.1M216.3 101.1V85.7H216.8V91.9M216.7 133.7V91.9H216.9V98.8M216.6 140.6V133.7H216.7V140.6M216.2 108.0V101.1H216.4V110.7M216.3 117.6V110.7H216.5V117.6M215.9 133.3V126.4H216.1V133.3M215.6 90.6V83.7H215.7V90.6M201.7 97.5V85.1H203.0V87.8M202.0 91.2V87.8H203.9V91.6M203.0 91.6V91.6H204.8V92.4M203.8 98.5V92.4H205.8V96.0M204.9 101.0V96.0H206.7V96.7M205.6 97.5V96.7H207.7V97.1M206.4 101.3V97.1H208.9V99.4M207.5 103.5V99.4H210.3V99.5M208.8 101.0V99.5H211.7V102.0M210.7 102.3V102.0H212.7V102.8M212.1 110.5V102.8H213.4V102.9M212.5 106.2V102.9H214.3V103.4M213.6 103.7V103.4H215.0V105.1M214.8 116.7V105.1H215.3V105.1M215.2 112.0V105.1H215.4V135.3M215.3 142.2V135.3H215.4V142.2M214.6 117.3V116.7H215.0V118.5M214.9 125.4V118.5H215.0V125.4M214.5 138.3V117.3H214.8V124.2M214.4 145.2V138.3H214.6V155.1M214.5 162.0V155.1H214.6V162.0M213.3 104.0V103.7H213.9V104.5M213.7 111.4V104.5H214.1V105.2M213.9 111.5V105.2H214.2V147.2M214.1 154.1V147.2H214.3V154.1M213.9 118.4V111.5H214.0V118.4M213.1 109.3V104.0H213.5V105.2M213.5 112.1V105.2H213.6V112.1M213.0 145.6V109.3H213.3V156.3M213.2 163.2V156.3H213.3V163.2M213.0 152.5V145.6H213.1V152.5M212.4 113.1V106.2H212.7V131.1M212.6 138.0V131.1H212.8V170.8M212.7 177.7V170.8H212.8V177.7M211.9 117.4V110.5H212.2V112.7M212.1 151.6V112.7H212.3V119.6M212.0 158.5V151.6H212.2V158.5M209.9 107.9V102.3H211.6V103.1M211.3 111.8V103.1H211.8V110.0M211.1 113.4V111.8H211.6V122.1M211.5 134.3V122.1H211.7V129.0M211.4 141.2V134.3H211.5V141.2M211.0 116.5V113.4H211.3V120.3M210.9 183.6V116.5H211.1V123.4M210.8 184.0V183.6H211.0V190.5M210.7 192.4V184.0H210.9V190.9M210.6 199.3V192.4H210.7V199.3M209.7 118.5V107.9H210.1V113.5M210.0 120.4V113.5H210.3V117.6M210.2 188.1V117.6H210.4V123.4M210.3 130.3V123.4H210.5V130.3M210.1 195.0V188.1H210.2V195.0M209.6 125.4V118.5H209.8V178.0M209.7 184.9V178.0H209.8V184.9M208.5 101.9V101.0H209.2V101.0M208.9 148.2V101.0H209.4V105.3M209.3 112.2V105.3H209.4V112.2M208.8 155.1V148.2H209.1V154.5M209.0 200.4V154.5H209.2V161.4M208.9 207.3V200.4H209.0V207.3M208.3 106.6V101.9H208.6V127.3M208.5 134.2V127.3H208.7V134.2M208.3 113.5V106.6H208.4V113.5M207.2 128.1V103.5H207.9V114.2M207.7 155.5V114.2H208.0V127.9M207.9 171.2V127.9H208.1V134.8M207.9 178.1V171.2H208.0V178.1M207.6 162.4V155.5H207.7V162.4M207.1 135.0V128.1H207.4V152.3M207.3 159.9V152.3H207.5V159.2M207.2 166.8V159.9H207.4V166.8M206.2 107.2V101.3H206.6V106.1M206.4 113.0V106.1H206.8V124.3M206.7 138.1V124.3H207.0V131.2M206.6 148.6V138.1H206.8V145.0M206.6 155.5V148.6H206.7V155.5M206.1 137.3V107.2H206.3V114.1M206.1 144.2V137.3H206.2V144.2M205.5 104.4V97.5H205.8V104.9M205.7 111.8V104.9H205.9V143.7M205.8 150.6V143.7H205.9V150.6M204.5 101.5V101.0H205.3V117.6M205.2 163.6V117.6H205.4V124.5M205.1 170.5V163.6H205.3V170.5M204.2 115.8V101.5H204.8V104.0M204.7 107.6V104.0H204.9V135.1M204.9 142.0V135.1H205.0V142.0M204.6 113.3V107.6H204.7V114.5M204.5 120.2V113.3H204.6V120.2M204.0 143.1V115.8H204.3V116.9M204.2 123.8V116.9H204.4V123.8M204.0 150.0V143.1H204.1V150.0M203.7 105.4V98.5H203.8V105.4M202.6 92.4V91.6H203.5V91.9M203.3 94.3V91.9H203.6V98.8M203.3 110.4V94.3H203.4V101.2M203.2 117.3V110.4H203.3V117.3M202.3 108.6V92.4H202.9V92.9M202.8 107.2V92.9H203.1V99.8M202.6 151.5V107.2H202.9V114.1M202.5 158.4V151.5H202.7V152.6M202.7 159.5V152.6H202.8V159.5M202.3 115.5V108.6H202.4V115.5M202.0 100.6V91.2H202.1V98.1M201.9 107.5V100.6H202.0V107.5M201.6 104.4V97.5H201.8V104.4M200.4 80.9V80.7H201.4V81.0M201.3 81.4V81.0H201.5V87.9M201.2 81.4V81.4H201.4V88.3M201.1 88.3V81.4H201.2V88.3M200.1 81.4V80.9H200.8V81.8M200.7 88.7V81.8H200.9V124.5M200.8 131.4V124.5H201.0V131.4M199.9 109.3V81.4H200.3V82.2M200.1 85.0V82.2H200.5V111.6M200.4 154.1V111.6H200.6V118.5M200.3 161.0V154.1H200.5V161.0M200.1 91.9V85.0H200.2V91.9M199.8 116.2V109.3H199.9V116.2M198.6 82.2V80.9H199.3V81.0M199.0 104.5V81.0H199.6V83.5M199.4 101.4V83.5H199.7V90.4M199.3 125.5V101.4H199.5V108.3M199.3 132.4V125.5H199.4V132.4M198.9 111.4V104.5H199.1V128.5M199.0 135.4V128.5H199.2V135.4M198.4 88.5V82.2H198.7V93.1M198.6 100.0V93.1H198.8V100.0M198.4 95.4V88.5H198.5V95.4M196.9 85.9V80.0H197.9V80.2M197.7 80.5V80.2H198.2V124.9M198.1 131.8V124.9H198.2V131.8M197.5 80.7V80.5H197.9V131.0M197.8 137.9V131.0H198.0V137.9M197.4 83.3V80.7H197.7V98.3M197.6 105.2V98.3H197.7V105.2M197.3 90.2V83.3H197.5V90.2M196.8 92.8V85.9H197.0V93.1M196.9 100.0V93.1H197.1V98.5M197.1 105.4V98.5H197.2V105.4M195.7 80.5V79.5H196.5V79.5M196.4 86.4V79.5H196.6V82.4M196.5 89.3V82.4H196.7V89.3M195.5 80.6V80.5H196.0V81.3M195.8 83.7V81.3H196.2V82.0M196.1 85.7V82.0H196.3V88.9M196.0 92.6V85.7H196.2V92.6M195.8 90.6V83.7H195.9V90.6M195.4 87.5V80.6H195.6V131.8M195.5 138.7V131.8H195.6V138.7M194.8 92.3V80.6H195.2V82.5M195.1 89.4V82.5H195.2V89.4M194.6 101.5V92.3H195.0V99.2M194.5 108.4V101.5H194.8V102.1M194.7 113.1V102.1H194.9V109.0M194.6 120.0V113.1H194.7V120.0M193.4 84.4V79.7H194.0V80.2M193.9 82.2V80.2H194.2V119.0M194.1 125.9V119.0H194.3V127.9M194.2 134.8V127.9H194.3V134.8M193.8 89.1V82.2H193.9V89.1M193.2 88.5V84.4H193.6V100.7M193.6 107.6V100.7H193.7V107.6M193.1 162.2V88.5H193.4V136.0M193.3 142.9V136.0H193.4V142.9M193.0 169.1V162.2H193.2V169.1M192.5 79.4V78.7H192.8V78.9M192.8 85.8V78.9H192.9V85.8M192.3 80.0V79.4H192.6V86.3M192.3 86.9V80.0H192.4V88.3M192.4 95.2V88.3H192.5V95.2M191.8 122.0V78.7H192.1V129.4M192.0 136.3V129.4H192.1V136.3M191.7 128.9V122.0H191.9V128.9M191.3 78.8V78.2H191.6V85.1M191.1 88.7V78.8H191.4V114.6M191.3 121.5V114.6H191.5V121.5M191.1 95.6V88.7H191.2V95.6M190.2 78.9V78.4H190.9V118.4M190.8 125.3V118.4H190.9V125.3M190.0 116.8V78.9H190.3V80.3M190.2 87.2V80.3H190.5V83.5M190.4 118.4V83.5H190.6V88.7M190.6 95.6V88.7H190.7V95.6M190.3 125.3V118.4H190.4V125.3M189.9 123.7V116.8H190.0V123.7M189.4 84.5V78.0H189.8V84.9M189.3 91.4V84.5H189.5V119.6M189.5 124.3V119.6H189.6V126.5M189.4 131.2V124.3H189.5V131.2M187.4 84.3V77.4H188.5V77.6M188.3 78.6V77.6H188.8V77.7M188.7 78.5V77.7H188.9V78.5M188.9 85.4V78.5H189.0V85.4M188.6 85.4V78.5H188.7V85.4M188.1 78.6V78.6H188.5V85.5M187.9 80.3V78.6H188.3V104.5M188.2 111.4V104.5H188.3V111.4M187.7 112.3V80.3H188.0V125.2M188.0 132.1V125.2H188.1V132.1M187.6 115.8V112.3H187.8V119.2M187.6 122.7V115.8H187.7V122.7M186.9 85.8V78.9H187.1V91.0M187.0 97.9V91.0H187.2V111.7M187.2 118.6V111.7H187.3V118.6M185.1 78.0V77.6H186.4V86.6M186.3 102.0V86.6H186.6V111.2M186.5 118.1V111.2H186.7V130.3M186.7 137.2V130.3H186.8V137.2M186.1 106.2V102.0H186.4V108.9M186.0 114.8V106.2H186.3V113.1M185.9 132.9V114.8H186.1V121.7M185.9 139.8V132.9H186.0V139.8M184.8 93.7V78.0H185.5V90.8M185.3 123.7V90.8H185.6V113.2M185.5 115.5V113.2H185.7V120.1M185.5 122.4V115.5H185.6V122.4M185.2 130.6V123.7H185.3V130.6M184.6 102.1V93.7H185.0V112.7M185.0 119.6V112.7H185.1V119.6M184.5 108.6V102.1H184.8V105.1M184.7 112.0V105.1H184.8V112.0M184.4 115.5V108.6H184.6V115.5M184.0 98.3V78.3H184.3V85.2M183.9 105.2V98.3H184.1V135.2M184.0 142.1V135.2H184.2V142.1M180.9 76.4V76.2H183.2V76.7M183.0 83.6V76.7H183.4V76.8M183.2 79.1V76.8H183.6V77.3M183.5 77.4V77.3H183.7V82.2M183.7 89.1V82.2H183.8V89.1M183.4 84.3V77.4H183.5V84.3M183.1 86.0V79.1H183.3V86.0M179.8 76.9V76.4H182.1V76.4M181.4 76.9V76.4H182.8V77.8M182.7 84.7V77.8H182.9V84.7M180.8 77.3V76.9H182.0V78.0M181.8 78.7V78.0H182.3V78.2M182.2 94.2V78.2H182.5V93.6M182.4 100.5V93.6H182.6V126.1M182.5 133.0V126.1H182.6V133.0M182.1 101.1V94.2H182.2V101.1M181.6 96.0V78.7H181.9V94.0M181.8 100.9V94.0H182.0V100.9M181.6 102.9V96.0H181.7V102.9M180.6 77.9V77.3H181.1V80.5M180.9 87.4V80.5H181.2V89.7M181.1 96.6V89.7H181.3V108.9M181.2 114.5V108.9H181.4V115.8M181.2 121.4V114.5H181.3V121.4M180.4 87.8V77.9H180.8V84.8M180.3 94.7V87.8H180.6V108.7M180.5 112.6V108.7H180.7V115.6M180.4 119.5V112.6H180.5V119.5M179.6 83.8V76.9H179.9V77.2M179.8 84.1V77.2H180.0V95.7M179.9 108.6V95.7H180.1V102.6M179.9 115.5V108.6H180.0V115.5M178.9 85.7V78.4H179.4V85.3M178.7 92.6V85.7H179.1V95.0M179.0 105.6V95.0H179.2V101.9M178.9 105.7V105.6H179.1V112.5M178.8 112.6V105.7H179.0V112.6M178.4 78.4V78.1H178.6V85.0M178.3 85.3V78.4H178.4V85.3M177.7 123.5V75.2H178.0V84.3M177.9 91.2V84.3H178.1V118.1M178.1 125.0V118.1H178.2V125.0M177.7 130.4V123.5H177.8V130.4M177.0 76.1V74.6H177.4V76.9M177.3 95.3V76.9H177.5V83.8M177.3 102.2V95.3H177.4V102.2M176.8 140.3V76.1H177.1V88.2M177.0 95.1V88.2H177.1V95.1M176.8 147.2V140.3H176.9V147.2M175.8 74.7V74.4H176.6V81.3M175.6 81.6V74.7H176.0V93.7M175.7 100.6V93.7H176.3V97.1M176.2 97.5V97.1H176.5V104.0M176.0 105.1V97.5H176.3V131.7M176.2 138.6V131.7H176.4V138.6M175.9 142.6V105.1H176.1V112.0M175.8 149.5V142.6H176.0V149.5M174.7 108.0V74.3H175.2V86.6M175.1 104.9V86.6H175.4V88.4M175.3 95.3V88.4H175.5V95.3M175.0 136.8V104.9H175.2V111.8M174.9 143.7V136.8H175.1V143.7M174.7 114.9V108.0H174.8V114.9M174.3 129.6V75.2H174.5V82.1M174.3 136.5V129.6H174.4V136.5M173.7 131.2V81.3H174.1V120.1M174.0 138.5V120.1H174.2V127.0M173.9 145.4V138.5H174.0V145.4M173.6 138.1V131.2H173.8V138.1M172.3 73.8V73.6H173.0V83.1M172.7 135.4V83.1H173.3V84.5M173.1 88.5V84.5H173.5V91.4M172.9 95.3V88.5H173.3V129.9M173.2 136.8V129.9H173.4V136.8M172.9 102.2V95.3H173.0V113.2M173.0 120.1V113.2H173.1V120.1M172.6 142.3V135.4H172.7V142.3M172.2 73.9V73.8H172.5V80.7M172.0 74.2V73.9H172.3V80.8M171.9 75.4V74.2H172.1V76.0M172.1 82.9V76.0H172.2V82.9M171.8 82.3V75.4H171.9V82.3M171.1 73.4V73.1H171.7V80.0M170.8 73.9V73.4H171.5V102.6M171.4 109.5V102.6H171.5V109.5M170.5 80.8V73.9H171.1V75.1M170.9 98.4V75.1H171.3V82.0M170.7 110.0V98.4H171.1V129.7M171.0 131.1V129.7H171.2V136.6M170.9 138.0V131.1H171.0V138.0M170.6 116.9V110.0H170.8V116.9M169.5 131.5V72.6H170.1V75.6M169.9 81.1V75.6H170.4V82.5M169.7 88.0V81.1H170.1V99.4M169.9 99.7V99.4H170.2V124.2M170.1 131.1V124.2H170.2V131.1M169.9 106.6V99.7H170.0V106.6M169.5 138.4V131.5H169.6V138.4M168.9 72.7V72.6H169.3V95.5M169.2 102.4V95.5H169.3V102.4M168.7 110.5V72.7H169.0V79.0M168.9 85.9V79.0H169.1V85.9M168.7 117.4V110.5H168.8V117.4M167.6 78.8V71.9H168.0V72.6M167.8 79.5V72.6H168.3V73.1M168.1 74.4V73.1H168.5V101.6M168.4 108.5V101.6H168.6V108.5M168.0 134.0V74.4H168.3V81.3M167.9 140.9V134.0H168.1V155.0M168.0 161.9V155.0H168.2V161.9M165.8 79.6V72.7H166.4V72.8M166.1 74.3V72.8H166.6V73.0M166.4 76.5V73.0H166.9V79.8M166.7 80.4V79.8H167.0V91.1M166.9 98.0V91.1H167.2V95.4M167.1 138.6V95.4H167.4V99.7M167.3 146.6V99.7H167.5V106.6M167.3 153.5V146.6H167.4V153.5M167.0 145.5V138.6H167.1V145.5M166.6 87.3V80.4H166.7V87.3M166.3 83.4V76.5H166.5V83.4M166.0 143.1V74.3H166.2V81.2M165.9 150.0V143.1H166.1V150.0M165.2 78.8V71.9H165.4V73.4M165.3 80.3V73.4H165.5V98.9M165.4 105.8V98.9H165.6V105.8M164.6 88.3V71.2H164.9V89.8M164.8 103.2V89.8H165.0V96.7M164.8 110.1V103.2H164.9V110.1M164.5 95.2V88.3H164.6V95.2M163.9 71.8V70.8H164.2V79.1M164.1 86.0V79.1H164.3V83.8M164.3 90.7V83.8H164.4V90.7M163.8 86.2V71.8H164.0V78.7M163.7 93.1V86.2H163.9V93.1M162.8 70.5V70.4H163.5V70.6M163.4 85.3V70.6H163.6V77.5M163.3 111.8V85.3H163.5V92.2M163.2 118.7V111.8H163.3V118.7M162.7 77.4V70.5H163.0V71.9M162.9 80.7V71.9H163.1V78.8M162.8 87.6V80.7H163.0V87.6M161.9 70.3V70.1H162.6V77.0M161.6 71.2V70.3H162.2V70.7M162.0 77.6V70.7H162.3V85.3M162.2 86.1V85.3H162.4V92.2M162.2 93.0V86.1H162.3V93.0M161.4 78.1V71.2H161.7V71.4M161.6 77.6V71.4H161.8V75.9M161.8 82.8V75.9H161.9V82.8M161.5 84.5V77.6H161.7V84.5M159.6 70.0V69.9H161.2V71.0M161.1 71.1V71.0H161.3V77.9M161.0 78.0V71.1H161.1V78.0M159.3 76.9V70.0H160.0V70.5M159.6 70.6V70.5H160.4V78.9M160.1 85.8V78.9H160.6V82.4M160.4 82.5V82.4H160.9V89.3M160.2 89.4V82.5H160.5V104.7M160.4 127.5V104.7H160.7V119.3M160.6 126.2V119.3H160.7V126.2M160.4 134.4V127.5H160.5V134.4M159.4 77.5V70.6H159.8V72.5M159.6 85.4V72.5H159.9V86.9M159.8 93.8V86.9H160.0V93.8M159.6 92.3V85.4H159.7V92.3M158.8 75.9V69.0H159.1V72.7M159.0 80.2V72.7H159.2V79.6M158.9 87.1V80.2H159.0V87.1M157.9 69.3V69.0H158.6V71.1M158.5 78.0V71.1H158.7V78.0M157.7 69.8V69.3H158.0V69.6M157.9 76.5V69.6H158.2V70.7M158.1 121.6V70.7H158.3V95.5M158.3 102.4V95.5H158.4V102.4M158.0 128.5V121.6H158.1V128.5M157.6 76.7V69.8H157.7V76.7M157.4 79.4V72.5H157.5V79.4M157.0 90.0V83.1H157.1V90.0M156.6 81.3V79.4H156.8V86.3M156.6 88.2V81.3H156.7V88.2M155.4 80.3V68.7H155.9V69.6M155.7 76.5V69.6H156.2V69.7M156.0 78.9V69.7H156.3V75.9M156.2 92.7V75.9H156.4V82.8M156.2 99.6V92.7H156.3V99.6M155.9 85.6V78.9H156.1V85.8M155.8 92.5V85.6H155.9V92.5M155.3 91.9V80.3H155.5V87.2M155.3 98.8V91.9H155.4V98.8M154.7 68.8V68.3H155.0V80.1M154.9 106.0V80.1H155.1V87.0M154.9 112.9V106.0H155.0V112.9M154.6 75.7V68.8H154.8V75.7M154.2 75.7V68.8H154.4V92.8M154.4 99.7V92.8H154.5V99.7M151.8 74.1V67.2H153.2V67.3M152.5 68.8V67.3H153.8V71.2M153.6 71.4V71.2H154.0V113.6M154.0 120.5V113.6H154.1V120.5M153.4 74.7V71.4H153.8V78.3M153.2 81.6V74.7H153.6V85.1M153.5 92.9V85.1H153.7V92.0M153.4 105.8V92.9H153.6V99.8M153.3 112.7V105.8H153.5V112.7M152.3 69.0V68.8H152.8V69.2M152.7 76.1V69.2H153.0V75.2M152.9 79.8V75.2H153.1V82.1M152.8 86.7V79.8H152.9V86.7M152.1 92.7V69.0H152.5V123.3M152.4 130.2V123.3H152.5V130.2M152.0 124.4V92.7H152.2V121.9M152.1 128.8V121.9H152.3V128.8M151.9 131.3V124.4H152.0V131.3M149.7 66.5V66.4H151.4V67.4M151.3 67.7V67.4H151.6V74.3M151.0 70.8V67.7H151.5V74.6M150.8 123.9V70.8H151.3V98.0M151.2 140.5V98.0H151.4V104.9M151.1 147.4V140.5H151.2V147.4M150.7 130.8V123.9H150.9V142.5M150.8 149.4V142.5H151.0V149.4M149.4 73.4V66.5H150.0V66.5M149.6 69.0V66.5H150.4V68.8M150.2 69.3V68.8H150.6V75.7M150.0 82.7V69.3H150.4V78.4M150.3 85.3V78.4H150.5V85.3M149.8 89.6V82.7H150.1V82.9M150.0 103.3V82.9H150.2V89.8M149.9 110.2V103.3H150.1V110.2M149.5 75.9V69.0H149.7V75.9M148.2 67.9V66.7H149.2V73.6M147.9 97.4V67.9H148.5V69.7M148.2 90.5V69.7H148.8V86.2M148.5 89.3V86.2H149.0V93.1M148.4 96.2V89.3H148.7V89.8M148.6 101.5V89.8H148.8V95.7M148.8 102.6V95.7H148.9V102.6M148.5 108.4V101.5H148.6V108.4M148.1 97.4V90.5H148.2V97.4M147.9 104.3V97.4H148.0V104.3M147.1 77.2V65.4H147.5V65.9M147.5 72.8V65.9H147.6V72.8M146.9 84.1V77.2H147.2V77.8M147.1 84.7V77.8H147.3V78.7M147.2 85.6V78.7H147.3V85.6M146.6 104.9V67.3H146.8V74.2M146.6 111.8V104.9H146.7V111.8M146.2 71.1V64.2H146.4V64.9M146.3 71.8V64.9H146.4V71.8M145.5 66.6V64.4H146.0V71.3M145.2 67.8V66.6H145.9V73.5M144.8 82.9V67.8H145.5V70.7M145.3 91.0V70.7H145.6V79.9M145.5 86.8V79.9H145.7V129.1M145.6 136.0V129.1H145.8V136.0M145.2 97.9V91.0H145.4V97.9M144.7 89.8V82.9H145.0V108.3M144.9 115.2V108.3H145.1V118.6M145.0 125.5V118.6H145.1V125.5M144.0 73.8V72.3H144.6V79.2M143.8 80.7V73.8H144.1V75.5M143.9 82.4V75.5H144.4V83.4M144.2 110.5V83.4H144.5V90.3M144.1 116.1V110.5H144.3V117.4M144.1 123.0V116.1H144.2V123.0M143.2 70.3V63.4H143.5V64.1M143.4 66.4V64.1H143.6V64.5M143.6 71.4V64.5H143.7V71.4M143.3 73.3V66.4H143.4V73.3M142.7 64.3V63.4H143.0V115.6M142.9 122.5V115.6H143.0V122.5M142.6 81.5V64.3H142.8V71.2M142.5 88.4V81.5H142.6V88.4M142.1 66.1V63.2H142.4V70.1M141.9 66.8V66.1H142.3V73.0M141.7 69.2V66.8H142.1V83.2M142.0 90.1V83.2H142.1V90.1M141.6 89.2V69.2H141.9V76.1M141.5 90.8V89.2H141.7V96.1M141.5 97.7V90.8H141.6V97.7M140.7 69.7V62.8H141.1V68.0M140.9 98.7V68.0H141.2V73.2M141.1 75.6V73.2H141.3V80.1M141.1 82.5V75.6H141.2V82.5M140.8 105.6V98.7H141.0V105.6M140.0 62.7V62.1H140.4V63.0M140.3 69.9V63.0H140.5V74.6M140.4 81.5V74.6H140.6V81.5M139.9 69.6V62.7H140.1V148.0M140.0 154.9V148.0H140.2V154.9M139.5 63.6V61.8H139.8V68.7M139.3 66.5V63.6H139.6V70.5M139.1 76.9V66.5H139.5V73.4M139.0 120.3V76.9H139.3V138.4M139.3 145.3V138.4H139.4V145.3M138.9 127.2V120.3H139.1V122.4M139.0 129.3V122.4H139.1V129.3M138.5 78.6V61.4H138.7V68.3M138.5 85.5V78.6H138.6V85.5M138.1 61.3V60.7H138.3V67.6M137.9 66.7V61.3H138.2V68.2M137.8 73.6V66.7H138.0V70.0M138.0 76.9V70.0H138.1V76.9M137.2 60.2V60.1H137.6V96.2M137.6 103.1V96.2H137.7V103.1M136.9 61.2V60.2H137.4V67.1M136.8 68.1V61.2H137.0V80.8M136.9 87.7V80.8H137.1V82.1M137.0 89.0V82.1H137.2V83.5M137.2 90.4V83.5H137.3V90.4M135.3 59.6V59.6H136.6V59.7M136.5 60.0V59.7H136.7V66.6M136.4 66.9V60.0H136.5V66.9M134.6 60.0V59.6H135.9V59.9M135.6 65.3V59.9H136.3V66.8M135.4 72.2V65.3H135.9V66.7M135.7 77.9V66.7H136.1V73.6M135.5 86.6V77.9H135.8V89.5M135.7 96.4V89.5H135.9V106.6M135.9 113.5V106.6H136.0V113.5M135.5 93.5V86.6H135.6V93.5M134.4 66.9V60.0H134.8V74.4M134.6 81.3V74.4H134.9V93.3M134.8 123.6V93.3H135.1V110.8M135.0 114.8V110.8H135.2V117.7M135.0 121.7V114.8H135.1V121.7M134.7 130.5V123.6H134.8V130.5M62.8 66.0V56.6H65.8V57.4M64.4 64.9V57.4H67.2V57.5M65.7 58.0V57.5H68.8V58.7M67.3 59.3V58.7H70.3V58.8M69.2 59.5V58.8H71.5V59.0M71.0 59.7V59.0H71.9V59.2M71.3 66.1V59.2H72.6V59.2M71.6 60.4V59.2H73.5V59.8M72.3 60.0V59.8H74.8V60.0M74.0 62.5V60.0H75.5V60.1M74.4 91.2V60.1H76.7V60.7M75.4 60.8V60.7H78.1V61.3M77.1 61.9V61.3H79.0V61.5M78.2 61.6V61.5H79.9V61.6M79.0 63.2V61.6H80.8V62.4M79.4 88.7V62.4H82.2V62.5M80.6 62.5V62.5H83.9V63.0M82.8 63.1V63.0H85.0V63.3M83.5 63.4V63.3H86.4V64.4M85.5 64.5V64.4H87.4V64.5M86.7 64.9V64.5H88.1V64.7M87.1 65.6V64.7H89.0V65.8M87.7 65.8V65.8H90.3V65.8M89.1 66.8V65.8H91.5V65.8M90.4 66.7V65.8H92.6V66.6M91.6 67.0V66.6H93.6V67.0M93.0 67.3V67.0H94.2V67.9M93.7 74.8V67.9H94.7V68.5M93.9 69.2V68.5H95.4V68.5M94.3 85.9V68.5H96.5V68.6M95.2 85.3V68.6H97.8V68.6M96.5 69.0V68.6H99.1V69.3M98.2 69.8V69.3H100.1V69.7M99.4 74.5V69.7H100.8V70.5M99.9 74.7V70.5H101.7V71.2M100.8 80.6V71.2H102.7V71.7M101.7 72.1V71.7H103.6V72.4M103.1 73.3V72.4H104.1V72.7M103.8 79.6V72.7H104.4V72.7M104.0 100.3V72.7H104.8V73.8M104.2 80.7V73.8H105.3V74.0M104.6 74.1V74.0H106.0V74.1M105.7 75.0V74.1H106.3V74.2M105.9 81.1V74.2H106.6V74.4M106.1 76.7V74.4H107.0V74.8M106.4 74.9V74.8H107.7V75.3M107.0 75.6V75.3H108.3V76.0M107.5 76.4V76.0H109.1V77.6M108.5 78.6V77.6H109.7V77.6M108.9 84.5V77.6H110.4V78.0M109.5 80.5V78.0H111.3V79.4M110.3 80.2V79.4H112.3V81.4M111.4 82.4V81.4H113.1V83.0M112.4 84.9V83.0H113.8V83.1M113.3 83.9V83.1H114.3V84.0M113.8 84.7V84.0H114.7V84.3M114.2 84.6V84.3H115.1V85.3M114.6 149.3V85.3H115.6V85.4M114.9 85.8V85.4H116.4V87.0M115.3 106.9V87.0H117.4V87.3M115.7 88.0V87.3H119.2V91.0M116.2 113.0V91.0H122.3V94.0M117.1 98.9V94.0H127.4V97.7M126.2 104.6V97.7H128.5V103.5M127.6 104.4V103.5H129.4V104.8M128.9 108.9V104.8H130.0V107.1M129.4 108.6V107.1H130.6V108.0M129.8 114.9V108.0H131.5V108.8M130.9 108.9V108.8H132.1V110.8M131.6 111.9V110.8H132.6V111.6M132.0 152.9V111.6H133.1V111.7M132.6 141.9V111.7H133.7V112.4M133.3 113.0V112.4H134.1V114.8M134.1 121.7V114.8H134.2V118.4M134.2 125.3V118.4H134.3V125.3M133.1 182.0V113.0H133.5V136.4M133.3 143.3V136.4H133.8V146.9M133.6 157.0V146.9H133.9V153.8M133.5 179.4V157.0H133.7V161.6M133.7 168.5V161.6H133.8V168.5M133.4 186.3V179.4H133.5V186.3M133.0 188.9V182.0H133.1V188.9M132.3 142.6V141.9H132.8V148.0M132.7 171.6V148.0H132.9V154.9M132.6 178.5V171.6H132.7V178.5M132.2 149.5V142.6H132.4V158.7M132.4 165.6V158.7H132.5V165.6M131.9 211.0V152.9H132.1V159.8M131.8 217.9V211.0H132.0V217.9M131.4 115.2V111.9H131.7V118.8M131.3 122.1V115.2H131.5V139.6M131.4 146.5V139.6H131.6V146.5M130.7 111.7V108.9H131.2V115.8M130.3 118.8V111.7H131.0V115.3M130.9 122.2V115.3H131.1V122.2M130.0 138.1V118.8H130.6V120.5M130.4 124.6V120.5H130.7V138.0M130.7 144.9V138.0H130.8V144.9M130.3 149.4V124.6H130.5V131.5M130.3 156.3V149.4H130.4V156.3M129.9 160.3V138.1H130.1V145.0M129.9 167.2V160.3H130.0V167.2M129.3 144.3V108.6H129.6V112.7M129.5 119.6V112.7H129.6V119.6M129.2 151.2V144.3H129.4V151.2M128.7 144.2V108.9H129.0V134.3M129.0 141.2V134.3H129.1V141.2M128.6 151.1V144.2H128.8V168.6M128.7 175.5V168.6H128.8V175.5M126.8 107.0V104.4H128.5V111.3M126.4 113.9V107.0H127.2V109.3M126.8 120.5V109.3H127.6V145.9M127.4 153.8V145.9H127.9V149.3M127.7 206.0V149.3H128.1V175.7M127.9 182.6V175.7H128.2V194.7M128.1 200.0V194.7H128.3V201.6M128.1 206.9V200.0H128.2V206.9M127.7 212.9V206.0H127.8V212.9M127.3 160.7V153.8H127.5V155.3M127.4 162.2V155.3H127.5V162.2M126.7 175.8V120.5H127.0V197.6M126.9 204.5V197.6H127.1V200.4M127.0 207.3V200.4H127.2V207.3M126.6 190.4V175.8H126.8V182.7M126.5 197.3V190.4H126.6V197.3M116.8 110.3V98.9H117.5V100.8M117.0 107.7V100.8H117.9V119.0M117.3 129.2V119.0H118.6V119.1M117.6 126.0V119.1H119.5V120.2M118.0 142.1V120.2H121.0V120.4M119.4 120.4V120.4H122.6V122.1M121.8 122.5V122.1H123.4V122.2M122.4 126.0V122.2H124.4V124.0M123.3 133.1V124.0H125.6V124.1M125.1 126.7V124.1H126.0V124.7M126.0 131.6V124.7H126.1V131.6M124.3 127.4V126.7H125.8V133.6M123.8 134.3V127.4H124.8V129.1M124.4 137.8V129.1H125.2V130.5M125.0 137.0V130.5H125.4V151.6M125.2 158.5V151.6H125.6V160.1M125.5 164.6V160.1H125.7V167.0M125.4 167.9V164.6H125.6V171.5M125.3 174.8V167.9H125.5V174.8M124.9 143.9V137.0H125.1V143.9M124.2 148.9V137.8H124.7V145.4M124.6 162.7V145.4H124.8V152.3M124.5 169.6V162.7H124.7V169.6M124.0 158.7V148.9H124.4V179.4M124.3 186.3V179.4H124.4V186.3M123.9 165.6V158.7H124.1V176.2M124.0 183.1V176.2H124.2V183.1M123.1 147.6V133.1H123.5V177.1M123.4 184.0V177.1H123.6V187.5M123.5 194.4V187.5H123.6V194.4M123.0 167.5V147.6H123.2V154.5M122.9 174.4V167.5H123.0V197.0M123.0 203.9V197.0H123.1V203.9M122.3 140.2V126.0H122.6V135.7M122.5 142.6V135.7H122.7V158.4M122.6 165.3V158.4H122.7V165.3M122.2 147.1V140.2H122.3V147.1M121.5 124.2V122.5H122.1V129.4M121.1 141.1V124.2H121.8V161.3M121.7 185.3V161.3H121.9V168.2M121.7 192.2V185.3H121.8V192.2M120.9 142.5V141.1H121.4V176.5M121.3 183.4V176.5H121.5V215.0M121.4 221.9V215.0H121.6V221.9M120.7 203.1V142.5H121.1V173.0M121.0 194.7V173.0H121.2V179.9M120.9 201.6V194.7H121.0V201.6M120.6 211.3V203.1H120.8V210.0M120.5 218.2V211.3H120.6V218.2M118.9 122.8V120.4H119.9V121.2M119.7 173.2V121.2H120.2V128.9M120.1 170.5V128.9H120.3V213.1M120.2 220.0V213.1H120.4V220.0M120.0 177.4V170.5H120.1V177.4M119.6 173.4V173.2H119.9V180.1M119.5 180.3V173.4H119.7V200.0M119.6 206.9V200.0H119.7V206.9M118.7 140.3V122.8H119.1V126.3M119.0 193.9V126.3H119.3V191.2M119.2 198.1V191.2H119.3V198.1M118.9 200.8V193.9H119.1V200.8M118.6 143.8V140.3H118.8V147.2M118.6 150.7V143.8H118.7V150.7M117.8 172.2V142.1H118.2V163.5M118.1 169.7V163.5H118.4V163.8M118.3 170.7V163.8H118.4V170.7M118.0 176.6V169.7H118.2V176.6M117.8 179.1V172.2H117.9V179.1M117.1 136.1V129.2H117.4V140.3M117.3 147.2V140.3H117.5V147.2M117.3 154.1V147.2H117.4V154.1M116.7 135.7V110.3H116.9V117.2M116.6 142.6V135.7H116.7V142.6M116.0 119.9V113.0H116.4V133.1M116.2 148.7V133.1H116.5V140.0M116.1 149.8V148.7H116.3V155.6M116.1 156.7V149.8H116.2V156.7M115.6 94.9V88.0H115.8V99.8M115.7 106.7V99.8H115.8V106.7M115.2 113.8V106.9H115.4V148.1M115.3 155.0V148.1H115.4V155.0M114.8 92.7V85.8H115.0V141.7M114.9 148.6V141.7H115.0V148.6M114.5 156.2V149.3H114.7V156.2M114.1 91.5V84.6H114.3V96.5M114.3 103.4V96.5H114.4V103.4M113.7 91.6V84.7H113.9V106.8M113.9 113.7V106.8H114.0V113.7M113.0 138.9V83.9H113.5V93.5M113.4 126.2V93.5H113.6V100.4M113.3 139.5V126.2H113.5V133.1M113.2 146.4V139.5H113.3V146.4M113.0 145.8V138.9H113.1V145.8M112.1 160.5V84.9H112.6V120.5M112.4 127.4V120.5H112.7V137.9M112.6 178.1V137.9H112.8V144.8M112.6 185.0V178.1H112.7V185.0M112.0 167.4V160.5H112.2V171.4M112.2 178.3V171.4H112.3V178.3M111.2 85.5V82.4H111.6V84.4M111.5 91.3V84.4H111.8V85.0M111.7 91.9V85.0H111.9V144.0M111.8 150.9V144.0H111.9V150.9M111.1 137.3V85.5H111.4V92.4M111.0 144.2V137.3H111.2V139.6M111.1 146.5V139.6H111.3V146.5M110.0 125.5V80.2H110.7V82.7M110.5 87.6V82.7H110.8V93.5M110.7 100.4V93.5H110.9V100.4M110.4 127.9V87.6H110.6V94.5M110.4 134.8V127.9H110.5V134.8M109.9 139.4V125.5H110.2V155.4M110.1 162.3V155.4H110.2V162.3M109.8 146.3V139.4H110.0V146.3M109.3 84.8V80.5H109.7V87.4M109.1 97.8V84.8H109.4V125.3M109.3 132.2V125.3H109.5V158.3M109.4 165.2V158.3H109.6V165.2M109.1 104.7V97.8H109.2V104.7M108.2 79.4V78.6H108.7V79.0M108.7 85.9V79.0H108.8V85.9M108.0 85.4V79.4H108.5V164.0M108.4 170.9V164.0H108.5V170.9M107.9 92.3V85.4H108.2V89.2M108.1 188.8V89.2H108.3V96.1M108.0 195.7V188.8H108.1V195.7M107.4 83.3V76.4H107.7V78.4M107.6 155.1V78.4H107.8V85.3M107.5 162.0V155.1H107.6V162.0M106.9 76.4V75.6H107.2V82.5M106.7 83.3V76.4H107.0V77.5M106.9 192.1V77.5H107.1V84.4M106.8 199.0V192.1H107.0V199.0M106.3 81.8V74.9H106.5V134.7M106.4 141.6V134.7H106.6V141.6M106.1 83.6V76.7H106.2V83.6M105.6 75.2V75.0H105.8V81.9M105.5 86.8V75.2H105.7V82.1M105.4 93.7V86.8H105.5V93.7M104.4 75.5V74.1H104.8V74.6M104.7 79.9V74.6H105.0V84.0M104.9 90.9V84.0H105.1V96.7M105.0 103.6V96.7H105.2V111.4M105.1 118.3V111.4H105.3V118.3M104.6 86.8V79.9H104.8V86.8M104.4 82.4V75.5H104.5V82.4M104.0 107.2V100.3H104.1V107.2M102.5 73.3V73.3H103.6V77.9M103.6 84.8V77.9H103.7V84.8M102.2 85.4V73.3H102.8V78.0M102.6 81.0V78.0H103.1V86.4M102.9 91.4V86.4H103.3V113.8M103.2 135.3V113.8H103.5V120.7M103.1 143.8V135.3H103.3V142.2M103.1 150.7V143.8H103.2V150.7M102.8 98.3V91.4H102.9V98.3M102.5 121.8V81.0H102.7V87.9M102.4 128.7V121.8H102.5V128.7M102.2 92.3V85.4H102.3V92.3M101.4 72.6V72.1H102.0V98.1M101.9 105.0V98.1H102.0V105.0M101.2 79.5V72.6H101.6V73.7M101.5 95.3V73.7H101.8V80.6M101.4 139.2V95.3H101.6V102.2M101.4 146.1V139.2H101.5V146.1M100.7 94.0V80.6H101.0V85.8M100.9 99.8V85.8H101.1V92.7M100.8 106.7V99.8H101.0V106.7M100.6 100.9V94.0H100.7V100.9M99.6 152.8V74.7H100.2V76.1M100.0 88.1V76.1H100.4V148.7M100.3 231.0V148.7H100.5V155.6M100.2 237.9V231.0H100.3V237.9M99.9 175.7V88.1H100.1V95.0M99.8 182.6V175.7H99.9V182.6M99.5 159.7V152.8H99.7V159.7M99.3 81.4V74.5H99.4V81.4M97.8 70.2V69.8H98.6V69.9M98.3 71.4V69.9H98.9V70.3M98.7 70.8V70.3H99.1V70.7M99.0 77.6V70.7H99.2V77.6M98.5 77.7V70.8H98.8V96.1M98.7 113.9V96.1H98.9V103.0M98.6 120.8V113.9H98.8V120.8M98.2 78.3V71.4H98.4V78.3M97.7 99.4V70.2H98.0V70.3M97.9 77.2V70.3H98.1V95.5M98.0 102.4V95.5H98.1V102.4M97.6 106.3V99.4H97.7V106.3M96.1 69.1V69.0H97.0V69.2M96.6 98.0V69.2H97.3V70.4M97.2 70.5V70.4H97.5V77.3M97.1 73.6V70.5H97.3V77.4M96.9 147.0V73.6H97.2V80.5M96.8 153.9V147.0H97.0V149.6M96.9 156.5V149.6H97.1V156.5M96.5 155.7V98.0H96.7V104.9M96.4 162.6V155.7H96.6V162.6M96.0 170.9V69.1H96.2V81.2M96.2 88.1V81.2H96.3V88.1M95.9 177.8V170.9H96.0V177.8M94.9 88.7V85.3H95.5V90.4M95.3 118.4V90.4H95.7V94.8M95.6 171.3V94.8H95.8V101.7M95.5 178.2V171.3H95.6V178.2M95.3 125.3V118.4H95.4V125.3M94.6 127.5V88.7H95.1V95.6M94.5 134.4V127.5H94.7V132.6M94.6 139.5V132.6H94.9V135.6M94.8 152.0V135.6H95.0V142.5M94.7 158.9V152.0H94.9V158.9M94.2 92.8V85.9H94.3V92.8M93.8 76.1V69.2H94.0V123.6M93.9 130.5V123.6H94.1V130.5M92.8 67.8V67.3H93.2V69.6M93.0 76.5V69.6H93.4V124.9M93.2 128.1V124.9H93.5V130.6M93.4 137.5V130.6H93.6V137.5M93.2 135.0V128.1H93.3V135.0M92.7 67.9V67.8H92.9V74.7M92.6 74.8V67.9H92.8V74.8M91.1 68.4V67.0H92.1V68.6M91.8 108.2V68.6H92.3V68.6M92.2 92.3V68.6H92.5V102.3M92.4 109.2V102.3H92.5V109.2M92.1 99.2V92.3H92.3V99.2M91.7 121.4V108.2H92.0V115.1M91.5 121.7V121.4H91.8V135.3M91.7 142.2V135.3H91.9V142.2M91.5 128.6V121.7H91.6V128.6M90.8 71.2V68.4H91.3V75.3M90.7 78.1V71.2H90.9V83.0M90.8 89.9V83.0H91.1V97.8M91.0 104.7V97.8H91.2V124.2M91.1 131.1V124.2H91.2V131.1M90.2 149.5V66.7H90.5V68.2M90.4 75.1V68.2H90.6V75.1M90.2 156.4V149.5H90.3V156.4M88.6 66.9V66.8H89.6V67.9M89.3 78.5V67.9H90.0V158.5M89.9 165.4V158.5H90.0V165.4M89.1 123.2V78.5H89.5V109.3M89.3 120.1V109.3H89.6V110.7M89.5 117.6V110.7H89.7V145.5M89.7 152.4V145.5H89.8V152.4M89.3 127.0V120.1H89.4V127.0M89.0 130.1V123.2H89.1V130.1M88.3 68.1V66.9H88.9V73.8M88.0 95.4V68.1H88.6V81.6M88.4 88.5V81.6H88.7V88.5M88.2 95.4V88.5H88.5V115.3M88.4 136.4V115.3H88.6V122.2M88.4 143.3V136.4H88.5V143.3M88.0 102.3V95.4H88.1V102.3M87.6 114.5V65.8H87.8V72.7M87.6 121.4V114.5H87.7V121.4M87.0 71.2V65.6H87.3V65.9M87.2 72.8V65.9H87.4V76.5M87.3 83.4V76.5H87.4V83.4M86.9 78.1V71.2H87.0V78.1M86.6 68.9V64.9H86.8V71.8M86.5 75.8V68.9H86.7V75.8M84.8 64.5V64.5H86.2V64.6M86.0 66.6V64.6H86.4V71.5M85.7 68.4V66.6H86.3V73.5M85.6 73.7V68.4H85.9V68.6M85.8 102.3V68.6H86.1V148.3M86.0 155.2V148.3H86.1V155.2M85.7 109.2V102.3H85.9V109.2M85.5 80.6V73.7H85.6V80.6M84.3 65.4V64.5H85.3V64.6M85.2 138.2V64.6H85.4V71.5M85.1 145.1V138.2H85.2V145.1M84.0 69.1V65.4H84.7V70.0M84.5 141.0V70.0H84.8V110.4M84.7 117.3V110.4H84.9V123.4M84.8 130.3V123.4H85.0V130.3M84.4 147.9V141.0H84.6V147.9M83.8 76.0V69.1H84.2V79.8M84.1 89.2V79.8H84.3V86.7M84.0 130.5V89.2H84.2V96.1M83.9 137.4V130.5H84.1V137.4M83.4 65.7V63.4H83.7V70.3M83.3 108.3V65.7H83.5V72.6M83.3 115.2V108.3H83.4V115.2M82.5 64.2V63.1H83.1V70.0M82.2 64.5V64.2H82.9V72.4M82.7 89.9V72.4H83.0V79.3M82.6 96.8V89.9H82.8V107.1M82.8 114.0V107.1H82.9V114.0M82.0 69.3V64.5H82.5V71.4M81.7 74.7V69.3H82.2V75.6M82.1 83.0V75.6H82.4V82.5M82.0 93.3V83.0H82.2V89.9M82.0 100.2V93.3H82.1V100.2M81.6 81.6V74.7H81.8V76.4M81.7 83.3V76.4H81.8V83.3M80.0 62.5V62.5H81.1V62.6M81.0 62.8V62.6H81.3V63.5M81.2 70.4V63.5H81.4V102.5M81.3 109.4V102.5H81.5V109.4M80.9 63.1V62.8H81.1V69.7M80.8 70.0V63.1H80.9V70.0M79.7 75.9V62.5H80.3V62.7M80.1 64.5V62.7H80.5V73.7M80.4 80.6V73.7H80.6V122.5M80.5 129.4V122.5H80.7V129.4M80.0 71.4V64.5H80.2V111.7M80.1 118.6V111.7H80.3V118.6M79.6 82.8V75.9H79.8V121.6M79.8 128.5V121.6H79.9V128.5M79.4 95.6V88.7H79.5V95.6M78.8 70.1V63.2H79.1V78.2M79.0 92.7V78.2H79.2V85.1M79.0 99.6V92.7H79.1V99.6M77.7 61.7V61.6H78.7V116.4M78.6 123.3V116.4H78.7V123.3M77.5 99.4V61.7H77.9V62.4M77.7 69.3V62.4H78.1V64.7M78.0 104.5V64.7H78.3V80.9M78.2 87.8V80.9H78.4V84.1M78.3 91.0V84.1H78.5V91.0M77.9 105.7V104.5H78.1V111.4M77.8 112.6V105.7H77.9V112.6M77.4 106.3V99.4H77.5V106.3M76.9 62.1V61.9H77.3V68.8M76.7 62.3V62.1H77.1V65.0M77.0 71.9V65.0H77.2V71.9M76.4 71.7V62.3H76.9V69.2M76.2 78.6V71.7H76.6V84.2M76.5 117.6V84.2H76.8V91.1M76.4 141.6V117.6H76.6V124.5M76.4 148.5V141.6H76.5V148.5M75.0 61.6V60.8H75.8V63.5M75.7 70.4V63.5H75.9V74.4M75.9 81.3V74.4H76.0V133.9M76.0 140.8V133.9H76.1V140.8M74.6 61.8V61.6H75.3V74.4M75.1 99.8V74.4H75.5V175.1M75.5 182.0V175.1H75.6V182.0M74.9 101.8V99.8H75.3V169.5M75.2 176.4V169.5H75.3V176.4M74.8 108.7V101.8H75.0V163.0M74.9 169.9V163.0H75.1V169.9M74.5 68.7V61.8H74.7V68.7M74.3 98.1V91.2H74.4V98.1M73.9 64.0V62.5H74.2V69.4M73.7 78.2V64.0H74.0V70.9M73.6 85.1V78.2H73.8V110.8M73.8 117.7V110.8H73.9V117.7M71.8 66.9V60.0H72.7V60.1M72.3 60.1V60.1H73.1V63.2M72.9 70.1V63.2H73.3V70.8M73.1 78.0V70.8H73.4V117.7M73.4 124.6V117.7H73.5V124.6M73.0 84.9V78.0H73.2V125.6M73.1 132.5V125.6H73.2V132.5M72.1 60.4V60.1H72.6V80.0M72.5 86.9V80.0H72.7V113.1M72.6 120.0V113.1H72.7V120.0M71.9 67.3V60.4H72.2V62.9M72.1 77.3V62.9H72.3V69.8M72.1 84.2V77.3H72.2V84.2M71.5 107.9V60.4H71.7V67.3M71.4 114.8V107.9H71.6V114.8M70.8 61.4V59.7H71.2V66.6M70.5 61.5V61.4H71.0V68.3M70.3 69.2V61.5H70.8V65.2M70.8 72.1V65.2H70.9V72.1M70.1 215.0V69.2H70.4V73.6M70.3 82.8V73.6H70.6V113.6M70.5 120.5V113.6H70.6V120.5M70.3 89.7V82.8H70.4V89.7M70.0 221.9V215.0H70.1V221.9M68.9 98.1V59.5H69.4V76.9M69.2 92.5V76.9H69.7V107.0M69.6 113.9V107.0H69.8V134.8M69.7 141.7V134.8H69.9V141.7M69.1 99.4V92.5H69.3V103.3M69.2 110.2V103.3H69.4V139.0M69.3 145.9V139.0H69.5V145.9M68.8 119.5V98.1H69.0V105.0M68.7 126.4V119.5H68.8V126.4M66.6 71.6V59.3H67.9V59.9M67.4 60.3V59.9H68.3V64.4M68.2 71.3V64.4H68.5V126.7M68.4 142.2V126.7H68.6V133.6M68.3 149.1V142.2H68.4V149.1M67.2 118.2V60.3H67.7V60.4M67.5 61.5V60.4H68.0V121.5M67.9 128.4V121.5H68.0V128.4M67.4 68.4V61.5H67.6V105.0M67.5 111.9V105.0H67.7V145.0M67.6 151.9V145.0H67.8V151.9M67.1 153.0V118.2H67.3V125.1M67.0 159.9V153.0H67.1V159.9M66.5 78.5V71.6H66.8V82.9M66.7 98.3V82.9H66.9V89.8M66.6 105.2V98.3H66.7V105.2M65.4 58.7V58.0H65.9V58.3M65.7 65.2V58.3H66.1V58.6M65.9 81.6V58.6H66.2V94.1M66.2 147.7V94.1H66.3V101.0M66.1 154.6V147.7H66.2V154.6M65.8 88.5V81.6H66.0V88.5M65.3 69.9V58.7H65.6V65.6M65.2 101.0V69.9H65.4V76.8M65.1 149.4V101.0H65.3V107.9M65.0 156.3V149.4H65.2V156.3M64.0 77.4V64.9H64.8V74.0M64.7 80.9V74.0H64.8V86.1M64.8 93.0V86.1H64.9V93.0M63.7 84.3V77.4H64.2V98.1M64.0 112.5V98.1H64.4V109.6M64.3 149.2V109.6H64.5V116.5M64.3 156.1V149.2H64.4V156.1M63.9 273.0V112.5H64.1V119.4M63.9 279.9V273.0H64.0V279.9M62.2 68.6V66.0H63.4V70.0M63.2 79.5V70.0H63.6V76.9M63.0 106.0V79.5H63.5V86.4M62.8 116.8V106.0H63.2V125.7M63.1 132.6V125.7H63.3V134.9M63.2 141.8V134.9H63.4V141.8M62.7 123.7V116.8H62.9V125.0M62.8 131.9V125.0H63.0V131.9M62.0 87.0V68.6H62.4V70.4M62.3 108.1V70.4H62.6V77.3M62.2 115.0V108.1H62.4V114.3M62.3 121.2V114.3H62.4V121.2M61.9 93.9V87.0H62.1V93.9M61.0 60.7V56.0H61.5V77.4M61.3 85.1V77.4H61.6V79.0M61.5 85.9V79.0H61.7V99.2M61.7 106.1V99.2H61.8V106.1M61.3 92.0V85.1H61.4V92.0M60.8 82.8V60.7H61.1V67.6M60.7 125.5V82.8H60.9V125.9M60.9 132.8V125.9H61.0V132.8M60.6 132.4V125.5H60.7V132.4M60.2 92.9V86.0H60.4V125.7M60.4 132.6V125.7H60.5V132.6M59.6 62.1V53.7H59.9V81.4M59.8 88.3V81.4H60.0V111.0M60.0 117.9V111.0H60.1V117.9M59.5 84.9V62.1H59.7V69.0M59.4 91.8V84.9H59.6V91.8M59.1 64.0V57.1H59.2V64.0M58.7 52.9V51.6H58.9V58.5M58.7 59.8V52.9H58.8V59.8" stroke="#000" stroke-width="0.65" fill="none" vector-effect="non-scaling-stroke"/></defs><use href="#dg"/><rect x="58.00" y="297.90" width="1.05" height="56.30" fill="#c07830"/><rect x="59.00" y="297.90" width="0.95" height="56.30" fill="#70a060"/><rect x="59.90" y="297.90" width="1.05" height="56.30" fill="#a0e040"/><rect x="60.90" y="297.90" width="1.35" height="56.30" fill="#70e090"/><rect x="62.20" y="297.90" width="1.45" height="56.30" fill="#a0e040"/><rect x="63.60" y="297.90" width="0.95" height="56.30" fill="#808030"/><rect x="64.50" y="297.90" width="1.45" height="56.30" fill="#806020"/><rect x="65.90" y="297.90" width="1.95" height="56.30" fill="#f0c000"/><rect x="67.80" y="297.90" width="0.75" height="56.30" fill="#a03010"/><rect x="68.50" y="297.90" width="4.65" height="56.30" fill="#ff4500"/><rect x="73.10" y="297.90" width="1.05" height="56.30" fill="#a04020"/><rect x="74.10" y="297.90" width="1.05" height="56.30" fill="#e8d000"/><rect x="75.10" y="297.90" width="1.35" height="56.30" fill="#b01010"/><rect x="76.40" y="297.90" width="0.65" height="56.30" fill="#906030"/><rect x="77.00" y="297.90" width="1.05" height="56.30" fill="#40d0b0"/><rect x="78.00" y="297.90" width="1.05" height="56.30" fill="#808030"/><rect x="79.00" y="297.90" width="0.75" height="56.30" fill="#905020"/><rect x="79.70" y="297.90" width="1.65" height="56.30" fill="#f0f000"/><rect x="81.30" y="297.90" width="1.65" height="56.30" fill="#907020"/><rect x="82.90" y="297.90" width="6.05" height="56.30" fill="#70f000"/><rect x="88.90" y="297.90" width="1.65" height="56.30" fill="#d0e800"/><rect x="90.50" y="297.90" width="1.05" height="56.30" fill="#906020"/><rect x="91.50" y="297.90" width="1.35" height="56.30" fill="#f0c000"/><rect x="92.80" y="297.90" width="1.65" height="56.30" fill="#907030"/><rect x="94.40" y="297.90" width="4.65" height="56.30" fill="#e0a030"/><rect x="99.00" y="297.90" width="2.65" height="56.30" fill="#b00020"/><rect x="101.60" y="297.90" width="1.05" height="56.30" fill="#709060"/><rect x="102.60" y="297.90" width="1.05" height="56.30" fill="#905020"/><rect x="103.60" y="297.90" width="1.05" height="56.30" fill="#e07000"/><rect x="104.60" y="297.90" width="1.35" height="56.30" fill="#f0c000"/><rect x="105.90" y="297.90" width="1.05" height="56.30" fill="#907030"/><rect x="106.90" y="297.90" width="1.05" height="56.30" fill="#c04010"/><rect x="107.90" y="297.90" width="0.95" height="56.30" fill="#a01010"/><rect x="108.80" y="297.90" width="1.75" height="56.30" fill="#40e0a0"/><rect x="110.50" y="297.90" width="1.35" height="56.30" fill="#908030"/><rect x="111.80" y="297.90" width="1.35" height="56.30" fill="#a02010"/><rect x="113.10" y="297.90" width="1.05" height="56.30" fill="#c06020"/><rect x="114.10" y="297.90" width="1.05" height="56.30" fill="#806070"/><rect x="115.10" y="297.90" width="1.05" height="56.30" fill="#a04010"/><rect x="116.10" y="297.90" width="10.85" height="56.30" fill="#b80000"/><rect x="126.90" y="297.90" width="6.95" height="56.30" fill="#ffff00"/><rect x="133.80" y="297.90" width="1.05" height="56.30" fill="#80a040"/><rect x="134.80" y="297.90" width="1.35" height="56.30" fill="#20a070"/><rect x="136.10" y="297.90" width="1.35" height="56.30" fill="#30b0c0"/><rect x="137.40" y="297.90" width="1.05" height="56.30" fill="#3080b0"/><rect x="138.40" y="297.90" width="1.65" height="56.30" fill="#1090e0"/><rect x="140.00" y="297.90" width="1.65" height="56.30" fill="#2080c0"/><rect x="141.60" y="297.90" width="1.45" height="56.30" fill="#407080"/><rect x="143.00" y="297.90" width="1.35" height="56.30" fill="#1070e0"/><rect x="144.30" y="297.90" width="1.05" height="56.30" fill="#507080"/><rect x="145.30" y="297.90" width="1.35" height="56.30" fill="#20c0d0"/><rect x="146.60" y="297.90" width="1.05" height="56.30" fill="#2080e0"/><rect x="147.60" y="297.90" width="1.65" height="56.30" fill="#20e0c0"/><rect x="149.20" y="297.90" width="1.35" height="56.30" fill="#208080"/><rect x="150.50" y="297.90" width="1.05" height="56.30" fill="#20d0d0"/><rect x="151.50" y="297.90" width="1.35" height="56.30" fill="#1060e0"/><rect x="152.80" y="297.90" width="2.05" height="56.30" fill="#20e0a0"/><rect x="154.80" y="297.90" width="1.35" height="56.30" fill="#1060d0"/><rect x="156.10" y="297.90" width="1.35" height="56.30" fill="#20e0c0"/><rect x="157.40" y="297.90" width="1.05" height="56.30" fill="#1060e0"/><rect x="158.40" y="297.90" width="1.05" height="56.30" fill="#806060"/><rect x="159.40" y="297.90" width="1.05" height="56.30" fill="#1060e0"/><rect x="160.40" y="297.90" width="1.65" height="56.30" fill="#30e0b0"/><rect x="162.00" y="297.90" width="2.05" height="56.30" fill="#20d0d0"/><rect x="164.00" y="297.90" width="1.35" height="56.30" fill="#1040e0"/><rect x="165.30" y="297.90" width="1.35" height="56.30" fill="#2090d0"/><rect x="166.60" y="297.90" width="1.75" height="56.30" fill="#0000ff"/><rect x="168.30" y="297.90" width="1.35" height="56.30" fill="#20a0e0"/><rect x="169.60" y="297.90" width="2.35" height="56.30" fill="#2050f0"/><rect x="171.90" y="297.90" width="1.65" height="56.30" fill="#5020c0"/><rect x="173.50" y="297.90" width="1.35" height="56.30" fill="#a08020"/><rect x="174.80" y="297.90" width="1.75" height="56.30" fill="#3070e0"/><rect x="176.50" y="297.90" width="1.65" height="56.30" fill="#20d0f0"/><rect x="178.10" y="297.90" width="2.05" height="56.30" fill="#20e0e0"/><rect x="180.10" y="297.90" width="1.05" height="56.30" fill="#3090d0"/><rect x="181.10" y="297.90" width="2.95" height="56.30" fill="#10f0e0"/><rect x="184.00" y="297.90" width="1.05" height="56.30" fill="#2070e0"/><rect x="185.00" y="297.90" width="1.35" height="56.30" fill="#50a0a0"/><rect x="186.30" y="297.90" width="1.35" height="56.30" fill="#3080c0"/><rect x="187.60" y="297.90" width="1.35" height="56.30" fill="#2030b0"/><rect x="188.90" y="297.90" width="1.35" height="56.30" fill="#408040"/><rect x="190.20" y="297.90" width="1.75" height="56.30" fill="#20c020"/><rect x="191.90" y="297.90" width="0.95" height="56.30" fill="#4070a0"/><rect x="192.80" y="297.90" width="1.05" height="56.30" fill="#3080d0"/><rect x="193.80" y="297.90" width="2.35" height="56.30" fill="#1030f0"/><rect x="196.10" y="297.90" width="1.05" height="56.30" fill="#20e0f0"/><rect x="197.10" y="297.90" width="2.05" height="56.30" fill="#1060f0"/><rect x="199.10" y="297.90" width="1.35" height="56.30" fill="#20d0d0"/><rect x="200.40" y="297.90" width="1.35" height="56.30" fill="#40a090"/><rect x="201.70" y="297.90" width="13.25" height="56.30" fill="#000000"/><rect x="214.90" y="297.90" width="1.35" height="56.30" fill="#2080d0"/><rect x="216.20" y="297.90" width="1.65" height="56.30" fill="#60a0b0"/><rect x="217.80" y="297.90" width="1.35" height="56.30" fill="#3080d0"/><rect x="219.10" y="297.90" width="1.35" height="56.30" fill="#20c0e0"/><rect x="220.40" y="297.90" width="1.05" height="56.30" fill="#3060d0"/><rect x="221.40" y="297.90" width="1.75" height="56.30" fill="#803080"/><rect x="223.10" y="297.90" width="0.95" height="56.30" fill="#c020c0"/><rect x="224.00" y="297.90" width="9.95" height="56.30" fill="#ff00ff"/><rect x="233.90" y="297.90" width="2.65" height="56.30" fill="#1030e0"/><rect x="236.50" y="297.90" width="1.65" height="56.30" fill="#5030b0"/><rect x="238.10" y="297.90" width="1.05" height="56.30" fill="#2020c0"/><rect x="239.10" y="297.90" width="1.35" height="56.30" fill="#b01040"/><rect x="240.40" y="297.90" width="1.75" height="56.30" fill="#4020b0"/><rect x="242.10" y="297.90" width="1.95" height="56.30" fill="#c01040"/><rect x="244.00" y="297.90" width="2.05" height="56.30" fill="#5020b0"/><rect x="246.00" y="297.90" width="2.65" height="56.30" fill="#1050f0"/><rect x="248.60" y="297.90" width="1.45" height="56.30" fill="#6030b0"/><rect x="250.00" y="297.90" width="0.95" height="56.30" fill="#2040e0"/><rect x="250.90" y="297.90" width="0.75" height="56.30" fill="#a01020"/><rect x="251.60" y="297.90" width="4.35" height="56.30" fill="#ff0000"/><rect x="255.90" y="297.90" width="9.55" height="56.30" fill="#0000ff"/><rect x="265.40" y="297.90" width="12.45" height="56.30" fill="#ffb6c1"/><rect x="277.80" y="297.90" width="1.05" height="56.30" fill="#2090a0"/><rect x="278.80" y="297.90" width="1.35" height="56.30" fill="#00ee70"/><rect x="280.10" y="297.90" width="1.35" height="56.30" fill="#20b0c0"/><rect x="281.40" y="297.90" width="1.45" height="56.30" fill="#20e080"/><rect x="282.80" y="297.90" width="10.05" height="56.30" fill="#9000e8"/><rect x="292.80" y="297.90" width="5.45" height="56.30" fill="#00f0d8"/><rect x="298.20" y="297.90" width="1.75" height="56.30" fill="#10e0b0"/><rect x="299.90" y="297.90" width="1.65" height="56.30" fill="#508080"/><rect x="301.50" y="297.90" width="4.35" height="56.30" fill="#00f070"/><rect x="305.80" y="297.90" width="1.05" height="56.30" fill="#00ff20"/><rect x="306.80" y="297.90" width="6.25" height="56.30" fill="#00ff00"/><rect x="313.00" y="297.90" width="3.05" height="56.30" fill="#00ecd8"/><rect x="316.00" y="297.90" width="3.35" height="56.30" fill="#00ff00"/><path d="M58 297.9H319.3M58 354.2H319.3" stroke="#444" stroke-width="0.9"/><g font-family="Liberation Sans, sans-serif" font-weight="bold" fill="#000"><text x="29.5" y="325.5" font-size="8.4" text-anchor="middle">Dynamic Tree</text><text x="29.5" y="336.5" font-size="8.4" text-anchor="middle">Cut</text></g><g stroke="#555" stroke-width="1" fill="none"><path d="M414.5 56.6V264.6M409.0 56.6H414.5M409.0 98.2H414.5M409.0 139.8H414.5M409.0 181.4H414.5M409.0 223.0H414.5M409.0 264.6H414.5"/></g><g font-family="Liberation Sans, sans-serif" font-weight="bold" fill="#000"><text x="403.3" y="56.9" font-size="14.0" text-anchor="middle" transform="rotate(-90 403.3 56.9)">1.00</text><text x="403.3" y="98.5" font-size="14.0" text-anchor="middle" transform="rotate(-90 403.3 98.5)">0.95</text><text x="403.3" y="140.1" font-size="14.0" text-anchor="middle" transform="rotate(-90 403.3 140.1)">0.90</text><text x="403.3" y="181.7" font-size="14.0" text-anchor="middle" transform="rotate(-90 403.3 181.7)">0.85</text><text x="403.3" y="223.3" font-size="14.0" text-anchor="middle" transform="rotate(-90 403.3 223.3)">0.80</text><text x="403.3" y="264.9" font-size="14.0" text-anchor="middle" transform="rotate(-90 403.3 264.9)">0.75</text><text x="381.5" y="166.0" font-size="18.3" text-anchor="middle" transform="rotate(-90 381.5 166.0)">Height</text></g><path d="M426.9 76V285M429.5 91V285M432.1 106V285M434.7 110V285M437.3 118V285M439.9 77V285M442.5 97V285M445.1 101V285M447.7 105V285M450.3 148V285M452.9 80V285M455.5 152V285M458.1 113V285M460.7 143V285M463.3 111V285M465.9 230V285M468.5 103V285M471.1 99V285M473.7 192V285M476.3 100V285M478.9 147V285M481.5 111V285M484.1 169V285M486.7 197V285M489.3 190V285M491.9 109V285M494.5 173V285M497.1 147V285M499.7 125V285M502.3 75V285M504.9 146V285M507.5 83V285M510.1 121V285M512.7 91V285M515.3 83V285M517.9 131V285M520.5 83V285M523.1 86V285M525.7 99V285M528.3 84V285M530.9 86V285M533.5 86V285M536.1 89V285M538.7 123V285M541.3 88V285M543.9 128V285M546.5 91V285M549.1 91V285M551.7 141V285M554.3 92V285M556.9 101V285M559.5 95V285M562.1 93V285M564.7 137V285M567.3 109V285M569.9 127V285M572.5 146V285M575.1 116V285M577.7 158V285M580.3 161V285M582.9 125V285M585.5 115V285M588.1 108V285M590.7 129V285M593.3 125V285M595.9 156V285M598.5 117V285M601.1 116V285M603.7 156V285M606.3 140V285M608.9 119V285M611.5 134V285M614.1 144V285M616.7 168V285M619.3 141V285M621.9 184V285M624.5 158V285M627.1 154V285M629.7 193V285M632.3 199V285M634.9 133V285M637.5 126V285M640.1 131V285M642.7 135V285M645.3 120V285M647.9 126V285M650.5 115V285M653.1 131V285M655.7 151V285M658.3 135V285M660.9 152V285M663.5 185V285M666.1 184V285M668.7 164V285M671.3 199V285M673.9 133V285M676.5 166V285M679.1 156V285M681.7 170V285M684.3 171V285" stroke="#8a8a8a" stroke-width="0.9" stroke-dasharray="1 1" fill="none"/><use href="#dg" transform="matrix(1 0 0 0.904348 365.7 10.9304)"/><rect x="424.00" y="287.40" width="0.75" height="38.90" fill="#c07830"/><rect x="424.70" y="287.40" width="0.95" height="38.90" fill="#70a060"/><rect x="425.60" y="287.40" width="1.05" height="38.90" fill="#a0e040"/><rect x="426.60" y="287.40" width="1.35" height="38.90" fill="#70e090"/><rect x="427.90" y="287.40" width="1.45" height="38.90" fill="#a0e040"/><rect x="429.30" y="287.40" width="0.95" height="38.90" fill="#808030"/><rect x="430.20" y="287.40" width="1.45" height="38.90" fill="#806020"/><rect x="431.60" y="287.40" width="1.95" height="38.90" fill="#f0c000"/><rect x="433.50" y="287.40" width="0.75" height="38.90" fill="#a03010"/><rect x="434.20" y="287.40" width="4.65" height="38.90" fill="#ff4500"/><rect x="438.80" y="287.40" width="1.05" height="38.90" fill="#a04020"/><rect x="439.80" y="287.40" width="1.05" height="38.90" fill="#e8d000"/><rect x="440.80" y="287.40" width="1.35" height="38.90" fill="#b01010"/><rect x="442.10" y="287.40" width="0.65" height="38.90" fill="#906030"/><rect x="442.70" y="287.40" width="1.05" height="38.90" fill="#40d0b0"/><rect x="443.70" y="287.40" width="1.05" height="38.90" fill="#808030"/><rect x="444.70" y="287.40" width="0.75" height="38.90" fill="#905020"/><rect x="445.40" y="287.40" width="1.65" height="38.90" fill="#f0f000"/><rect x="447.00" y="287.40" width="1.65" height="38.90" fill="#907020"/><rect x="448.60" y="287.40" width="6.05" height="38.90" fill="#70f000"/><rect x="454.60" y="287.40" width="1.65" height="38.90" fill="#d0e800"/><rect x="456.20" y="287.40" width="1.05" height="38.90" fill="#906020"/><rect x="457.20" y="287.40" width="1.35" height="38.90" fill="#f0c000"/><rect x="458.50" y="287.40" width="1.65" height="38.90" fill="#907030"/><rect x="460.10" y="287.40" width="4.65" height="38.90" fill="#e0a030"/><rect x="464.70" y="287.40" width="2.65" height="38.90" fill="#b00020"/><rect x="467.30" y="287.40" width="1.05" height="38.90" fill="#709060"/><rect x="468.30" y="287.40" width="1.05" height="38.90" fill="#905020"/><rect x="469.30" y="287.40" width="1.05" height="38.90" fill="#e07000"/><rect x="470.30" y="287.40" width="1.35" height="38.90" fill="#f0c000"/><rect x="471.60" y="287.40" width="1.05" height="38.90" fill="#907030"/><rect x="472.60" y="287.40" width="1.05" height="38.90" fill="#c04010"/><rect x="473.60" y="287.40" width="0.95" height="38.90" fill="#a01010"/><rect x="474.50" y="287.40" width="1.75" height="38.90" fill="#40e0a0"/><rect x="476.20" y="287.40" width="1.35" height="38.90" fill="#908030"/><rect x="477.50" y="287.40" width="1.35" height="38.90" fill="#a02010"/><rect x="478.80" y="287.40" width="1.05" height="38.90" fill="#c06020"/><rect x="479.80" y="287.40" width="1.05" height="38.90" fill="#806070"/><rect x="480.80" y="287.40" width="1.05" height="38.90" fill="#a04010"/><rect x="481.80" y="287.40" width="10.85" height="38.90" fill="#b80000"/><rect x="492.60" y="287.40" width="6.95" height="38.90" fill="#ffff00"/><rect x="499.50" y="287.40" width="1.05" height="38.90" fill="#80a040"/><rect x="500.50" y="287.40" width="1.35" height="38.90" fill="#20a070"/><rect x="501.80" y="287.40" width="1.35" height="38.90" fill="#30b0c0"/><rect x="503.10" y="287.40" width="1.05" height="38.90" fill="#3080b0"/><rect x="504.10" y="287.40" width="1.65" height="38.90" fill="#1090e0"/><rect x="505.70" y="287.40" width="1.65" height="38.90" fill="#2080c0"/><rect x="507.30" y="287.40" width="1.45" height="38.90" fill="#407080"/><rect x="508.70" y="287.40" width="1.35" height="38.90" fill="#1070e0"/><rect x="510.00" y="287.40" width="1.05" height="38.90" fill="#507080"/><rect x="511.00" y="287.40" width="1.35" height="38.90" fill="#20c0d0"/><rect x="512.30" y="287.40" width="1.05" height="38.90" fill="#2080e0"/><rect x="513.30" y="287.40" width="1.65" height="38.90" fill="#20e0c0"/><rect x="514.90" y="287.40" width="1.35" height="38.90" fill="#208080"/><rect x="516.20" y="287.40" width="1.05" height="38.90" fill="#20d0d0"/><rect x="517.20" y="287.40" width="1.35" height="38.90" fill="#1060e0"/><rect x="518.50" y="287.40" width="2.05" height="38.90" fill="#20e0a0"/><rect x="520.50" y="287.40" width="1.35" height="38.90" fill="#1060d0"/><rect x="521.80" y="287.40" width="1.35" height="38.90" fill="#20e0c0"/><rect x="523.10" y="287.40" width="1.05" height="38.90" fill="#1060e0"/><rect x="524.10" y="287.40" width="1.05" height="38.90" fill="#806060"/><rect x="525.10" y="287.40" width="1.05" height="38.90" fill="#1060e0"/><rect x="526.10" y="287.40" width="1.65" height="38.90" fill="#30e0b0"/><rect x="527.70" y="287.40" width="2.05" height="38.90" fill="#20d0d0"/><rect x="529.70" y="287.40" width="1.35" height="38.90" fill="#1040e0"/><rect x="531.00" y="287.40" width="1.35" height="38.90" fill="#2090d0"/><rect x="532.30" y="287.40" width="1.75" height="38.90" fill="#0000ff"/><rect x="534.00" y="287.40" width="1.35" height="38.90" fill="#20a0e0"/><rect x="535.30" y="287.40" width="2.35" height="38.90" fill="#2050f0"/><rect x="537.60" y="287.40" width="1.65" height="38.90" fill="#5020c0"/><rect x="539.20" y="287.40" width="1.35" height="38.90" fill="#a08020"/><rect x="540.50" y="287.40" width="1.75" height="38.90" fill="#3070e0"/><rect x="542.20" y="287.40" width="1.65" height="38.90" fill="#20d0f0"/><rect x="543.80" y="287.40" width="2.05" height="38.90" fill="#20e0e0"/><rect x="545.80" y="287.40" width="1.05" height="38.90" fill="#3090d0"/><rect x="546.80" y="287.40" width="2.95" height="38.90" fill="#10f0e0"/><rect x="549.70" y="287.40" width="1.05" height="38.90" fill="#2070e0"/><rect x="550.70" y="287.40" width="1.35" height="38.90" fill="#50a0a0"/><rect x="552.00" y="287.40" width="1.35" height="38.90" fill="#3080c0"/><rect x="553.30" y="287.40" width="1.35" height="38.90" fill="#2030b0"/><rect x="554.60" y="287.40" width="1.35" height="38.90" fill="#408040"/><rect x="555.90" y="287.40" width="1.75" height="38.90" fill="#20c020"/><rect x="557.60" y="287.40" width="0.95" height="38.90" fill="#4070a0"/><rect x="558.50" y="287.40" width="1.05" height="38.90" fill="#3080d0"/><rect x="559.50" y="287.40" width="2.35" height="38.90" fill="#1030f0"/><rect x="561.80" y="287.40" width="1.05" height="38.90" fill="#20e0f0"/><rect x="562.80" y="287.40" width="2.05" height="38.90" fill="#1060f0"/><rect x="564.80" y="287.40" width="1.35" height="38.90" fill="#20d0d0"/><rect x="566.10" y="287.40" width="1.35" height="38.90" fill="#40a090"/><rect x="567.40" y="287.40" width="13.25" height="38.90" fill="#000000"/><rect x="580.60" y="287.40" width="1.35" height="38.90" fill="#2080d0"/><rect x="581.90" y="287.40" width="1.65" height="38.90" fill="#60a0b0"/><rect x="583.50" y="287.40" width="1.35" height="38.90" fill="#3080d0"/><rect x="584.80" y="287.40" width="1.35" height="38.90" fill="#20c0e0"/><rect x="586.10" y="287.40" width="1.05" height="38.90" fill="#3060d0"/><rect x="587.10" y="287.40" width="1.75" height="38.90" fill="#803080"/><rect x="588.80" y="287.40" width="0.95" height="38.90" fill="#c020c0"/><rect x="589.70" y="287.40" width="9.95" height="38.90" fill="#ff00ff"/><rect x="599.60" y="287.40" width="2.65" height="38.90" fill="#1030e0"/><rect x="602.20" y="287.40" width="1.65" height="38.90" fill="#5030b0"/><rect x="603.80" y="287.40" width="1.05" height="38.90" fill="#2020c0"/><rect x="604.80" y="287.40" width="1.35" height="38.90" fill="#b01040"/><rect x="606.10" y="287.40" width="1.75" height="38.90" fill="#4020b0"/><rect x="607.80" y="287.40" width="1.95" height="38.90" fill="#c01040"/><rect x="609.70" y="287.40" width="2.05" height="38.90" fill="#5020b0"/><rect x="611.70" y="287.40" width="2.65" height="38.90" fill="#1050f0"/><rect x="614.30" y="287.40" width="1.45" height="38.90" fill="#6030b0"/><rect x="615.70" y="287.40" width="0.95" height="38.90" fill="#2040e0"/><rect x="616.60" y="287.40" width="0.75" height="38.90" fill="#a01020"/><rect x="617.30" y="287.40" width="4.35" height="38.90" fill="#ff0000"/><rect x="621.60" y="287.40" width="9.55" height="38.90" fill="#0000ff"/><rect x="631.10" y="287.40" width="12.45" height="38.90" fill="#ffb6c1"/><rect x="643.50" y="287.40" width="1.05" height="38.90" fill="#2090a0"/><rect x="644.50" y="287.40" width="1.35" height="38.90" fill="#00ee70"/><rect x="645.80" y="287.40" width="1.35" height="38.90" fill="#20b0c0"/><rect x="647.10" y="287.40" width="1.45" height="38.90" fill="#20e080"/><rect x="648.50" y="287.40" width="10.05" height="38.90" fill="#9000e8"/><rect x="658.50" y="287.40" width="5.45" height="38.90" fill="#00f0d8"/><rect x="663.90" y="287.40" width="1.75" height="38.90" fill="#10e0b0"/><rect x="665.60" y="287.40" width="1.65" height="38.90" fill="#508080"/><rect x="667.20" y="287.40" width="4.35" height="38.90" fill="#00f070"/><rect x="671.50" y="287.40" width="1.05" height="38.90" fill="#00ff20"/><rect x="672.50" y="287.40" width="6.25" height="38.90" fill="#00ff00"/><rect x="678.70" y="287.40" width="3.05" height="38.90" fill="#00ecd8"/><rect x="681.70" y="287.40" width="3.35" height="38.90" fill="#00ff00"/><rect x="424.00" y="326.30" width="1.85" height="39.10" fill="#ff4a10"/><rect x="425.80" y="326.30" width="1.55" height="39.10" fill="#a0d020"/><rect x="427.30" y="326.30" width="2.95" height="39.10" fill="#c08020"/><rect x="430.20" y="326.30" width="1.55" height="39.10" fill="#ff4a10"/><rect x="431.70" y="326.30" width="0.75" height="39.10" fill="#c05020"/><rect x="432.40" y="326.30" width="6.65" height="39.10" fill="#ff4a10"/><rect x="439.00" y="326.30" width="1.45" height="39.10" fill="#e06020"/><rect x="440.40" y="326.30" width="2.25" height="39.10" fill="#ff4a10"/><rect x="442.60" y="326.30" width="1.55" height="39.10" fill="#a0e020"/><rect x="444.10" y="326.30" width="5.15" height="39.10" fill="#ff4a10"/><rect x="449.20" y="326.30" width="6.25" height="39.10" fill="#74f000"/><rect x="455.40" y="326.30" width="11.15" height="39.10" fill="#ff4a10"/><rect x="466.50" y="326.30" width="3.65" height="39.10" fill="#d06020"/><rect x="470.10" y="326.30" width="5.55" height="39.10" fill="#ff4a10"/><rect x="475.60" y="326.30" width="1.45" height="39.10" fill="#90e020"/><rect x="477.00" y="326.30" width="2.65" height="39.10" fill="#ff4a10"/><rect x="479.60" y="326.30" width="2.25" height="39.10" fill="#d07020"/><rect x="481.80" y="326.30" width="18.25" height="39.10" fill="#ff4a10"/><rect x="500.00" y="326.30" width="9.95" height="39.10" fill="#74f400"/><rect x="509.90" y="326.30" width="1.55" height="39.10" fill="#90e000"/><rect x="511.40" y="326.30" width="173.65" height="39.10" fill="#74f400"/><path d="M424 287.4H685M424 326.3H685M424 365.4H685" stroke="#444" stroke-width="0.9"/><g font-family="Liberation Sans, sans-serif" font-weight="bold" fill="#000"><text x="395.7" y="304.0" font-size="8.6" text-anchor="middle">Dynamic Tree</text><text x="395.7" y="314.4" font-size="8.6" text-anchor="middle">Cut</text><text x="395.7" y="341.6" font-size="8.6" text-anchor="middle">Merged</text><text x="395.7" y="351.6" font-size="8.6" text-anchor="middle">Dynamic</text></g><rect x="57.5" y="446.5" width="283.0" height="252.0" fill="none" stroke="#555" stroke-width="1"/><path d="M52.2 688.5H57.5M52.2 651.5H57.5M52.2 614.5H57.5M52.2 576.5H57.5M52.2 539.5H57.5M52.2 502.5H57.5M52.2 464.5H57.5M66.5 698.5V704.0M110.5 698.5V704.0M155.5 698.5V704.0M199.5 698.5V704.0M244.5 698.5V704.0M288.5 698.5V704.0M332.5 698.5V704.0" stroke="#555" stroke-width="1" fill="none"/><g font-family="Liberation Sans, sans-serif" font-weight="bold" fill="#000"><text x="44.4" y="691.4" font-size="15.0" text-anchor="middle" transform="rotate(-90 44.4 691.4)">0</text><text x="44.4" y="652.9" font-size="15.0" text-anchor="middle" transform="rotate(-90 44.4 652.9)">0.1</text><text x="44.4" y="613.5" font-size="15.0" text-anchor="middle" transform="rotate(-90 44.4 613.5)">0.2</text><text x="44.4" y="573.6" font-size="15.0" text-anchor="middle" transform="rotate(-90 44.4 573.6)">0.3</text><text x="44.4" y="537.2" font-size="15.0" text-anchor="middle" transform="rotate(-90 44.4 537.2)">0.4</text><text x="44.4" y="503.1" font-size="15.0" text-anchor="middle" transform="rotate(-90 44.4 503.1)">0.5</text><text x="44.4" y="467.5" font-size="15.0" text-anchor="middle" transform="rotate(-90 44.4 467.5)">0.6</text><text x="67.2" y="718.0" font-size="14.6" text-anchor="middle">0</text><text x="110.8" y="720.5" font-size="14.6" text-anchor="middle">5</text><text x="156.2" y="720.5" font-size="14.6" text-anchor="middle">10</text><text x="199.4" y="720.5" font-size="14.6" text-anchor="middle">15</text><text x="244.2" y="717.5" font-size="14.6" text-anchor="middle">20</text><text x="287.4" y="717.5" font-size="14.6" text-anchor="middle">25</text><text x="331.9" y="717.4" font-size="14.6" text-anchor="middle">30</text><text x="200.5" y="430.0" font-size="13.1" text-anchor="middle">cor=0.94, p&lt;1e-200</text><text x="11.8" y="579.3" font-size="15.2" text-anchor="middle" transform="rotate(-90 11.8 579.3)">MM</text><text x="172.0" y="744.3" font-size="15.2" text-anchor="middle">k.in</text></g><rect x="399.5" y="446.5" width="283.0" height="252.0" fill="none" stroke="#555" stroke-width="1"/><path d="M394.2 689.5H399.5M394.2 656.5H399.5M394.2 623.5H399.5M394.2 590.5H399.5M394.2 557.5H399.5M394.2 525.5H399.5M394.2 492.5H399.5M394.2 459.5H399.5M409.5 698.5V704.0M456.5 698.5V704.0M503.5 698.5V704.0M550.5 698.5V704.0M597.5 698.5V704.0M645.5 698.5V704.0" stroke="#555" stroke-width="1" fill="none"/><g font-family="Liberation Sans, sans-serif" font-weight="bold" fill="#000"><text x="387.0" y="686.7" font-size="15.0" text-anchor="middle" transform="rotate(-90 387.0 686.7)">0</text><text x="387.0" y="654.5" font-size="15.0" text-anchor="middle" transform="rotate(-90 387.0 654.5)">0.1</text><text x="387.0" y="619.2" font-size="15.0" text-anchor="middle" transform="rotate(-90 387.0 619.2)">0.2</text><text x="387.0" y="586.3" font-size="15.0" text-anchor="middle" transform="rotate(-90 387.0 586.3)">0.3</text><text x="387.0" y="554.4" font-size="15.0" text-anchor="middle" transform="rotate(-90 387.0 554.4)">0.4</text><text x="387.0" y="524.3" font-size="15.0" text-anchor="middle" transform="rotate(-90 387.0 524.3)">0.5</text><text x="387.0" y="492.0" font-size="15.0" text-anchor="middle" transform="rotate(-90 387.0 492.0)">0.6</text><text x="387.0" y="456.8" font-size="15.0" text-anchor="middle" transform="rotate(-90 387.0 456.8)">0.7</text><text x="409.2" y="720.2" font-size="14.6" text-anchor="middle">0</text><text x="456.4" y="720.8" font-size="14.6" text-anchor="middle">20</text><text x="503.8" y="720.8" font-size="14.6" text-anchor="middle">40</text><text x="550.4" y="718.8" font-size="14.6" text-anchor="middle">60</text><text x="598.6" y="718.8" font-size="14.6" text-anchor="middle">80</text><text x="639.7" y="716.8" font-size="14.6" text-anchor="middle">100</text><text x="542.9" y="430.0" font-size="13.1" text-anchor="middle">cor=0.97, p&lt;1e-200</text><text x="363.2" y="575.2" font-size="15.2" text-anchor="middle" transform="rotate(-90 363.2 575.2)">MM</text><text x="534.7" y="744.3" font-size="15.2" text-anchor="middle">k.in</text></g><g fill="#555"><circle cx="25.9" cy="522.0" r="0.9"/><circle cx="25.7" cy="529.4" r="0.9"/><circle cx="25.6" cy="643.3" r="0.9"/></g><path d="M96.2 670.4a2.00 2.00 0 1 0 4.00 0a2.00 2.00 0 1 0 -4.00 0M76.4 685.5a2.00 2.00 0 1 0 4.00 0a2.00 2.00 0 1 0 -4.00 0M85.2 683.7a2.00 2.00 0 1 0 4.00 0a2.00 2.00 0 1 0 -4.00 0M72.9 686.2a2.00 2.00 0 1 0 4.00 0a2.00 2.00 0 1 0 -4.00 0M64.9 688.4a2.00 2.00 0 1 0 4.00 0a2.00 2.00 0 1 0 -4.00 0M71.3 687.8a2.00 2.00 0 1 0 4.00 0a2.00 2.00 0 1 0 -4.00 0M74.7 686.3a2.00 2.00 0 1 0 4.00 0a2.00 2.00 0 1 0 -4.00 0M66.2 687.9a2.00 2.00 0 1 0 4.00 0a2.00 2.00 0 1 0 -4.00 0M65.3 688.5a2.00 2.00 0 1 0 4.00 0a2.00 2.00 0 1 0 -4.00 0M80.4 684.6a2.00 2.00 0 1 0 4.00 0a2.00 2.00 0 1 0 -4.00 0M81.8 682.3a2.00 2.00 0 1 0 4.00 0a2.00 2.00 0 1 0 -4.00 0M83.0 682.9a2.00 2.00 0 1 0 4.00 0a2.00 2.00 0 1 0 -4.00 0M68.0 687.1a2.00 2.00 0 1 0 4.00 0a2.00 2.00 0 1 0 -4.00 0M99.3 680.3a2.00 2.00 0 1 0 4.00 0a2.00 2.00 0 1 0 -4.00 0M87.3 683.1a2.00 2.00 0 1 0 4.00 0a2.00 2.00 0 1 0 -4.00 0M96.6 682.0a2.00 2.00 0 1 0 4.00 0a2.00 2.00 0 1 0 -4.00 0M72.7 686.8a2.00 2.00 0 1 0 4.00 0a2.00 2.00 0 1 0 -4.00 0M65.7 687.7a2.00 2.00 0 1 0 4.00 0a2.00 2.00 0 1 0 -4.00 0M71.4 687.5a2.00 2.00 0 1 0 4.00 0a2.00 2.00 0 1 0 -4.00 0M73.5 686.7a2.00 2.00 0 1 0 4.00 0a2.00 2.00 0 1 0 -4.00 0M98.3 661.6a2.00 2.00 0 1 0 4.00 0a2.00 2.00 0 1 0 -4.00 0M65.1 688.5a2.00 2.00 0 1 0 4.00 0a2.00 2.00 0 1 0 -4.00 0M66.5 688.2a2.00 2.00 0 1 0 4.00 0a2.00 2.00 0 1 0 -4.00 0M78.2 686.2a2.00 2.00 0 1 0 4.00 0a2.00 2.00 0 1 0 -4.00 0M70.1 687.2a2.00 2.00 0 1 0 4.00 0a2.00 2.00 0 1 0 -4.00 0M75.5 683.4a2.00 2.00 0 1 0 4.00 0a2.00 2.00 0 1 0 -4.00 0M83.4 680.9a2.00 2.00 0 1 0 4.00 0a2.00 2.00 0 1 0 -4.00 0M65.1 688.2a2.00 2.00 0 1 0 4.00 0a2.00 2.00 0 1 0 -4.00 0M92.7 682.7a2.00 2.00 0 1 0 4.00 0a2.00 2.00 0 1 0 -4.00 0M64.4 688.0a2.00 2.00 0 1 0 4.00 0a2.00 2.00 0 1 0 -4.00 0M98.7 667.4a2.00 2.00 0 1 0 4.00 0a2.00 2.00 0 1 0 -4.00 0M79.2 685.6a2.00 2.00 0 1 0 4.00 0a2.00 2.00 0 1 0 -4.00 0M69.3 686.4a2.00 2.00 0 1 0 4.00 0a2.00 2.00 0 1 0 -4.00 0M75.5 687.1a2.00 2.00 0 1 0 4.00 0a2.00 2.00 0 1 0 -4.00 0M85.3 676.9a2.00 2.00 0 1 0 4.00 0a2.00 2.00 0 1 0 -4.00 0M72.7 686.0a2.00 2.00 0 1 0 4.00 0a2.00 2.00 0 1 0 -4.00 0M71.3 687.0a2.00 2.00 0 1 0 4.00 0a2.00 2.00 0 1 0 -4.00 0M81.7 686.0a2.00 2.00 0 1 0 4.00 0a2.00 2.00 0 1 0 -4.00 0M88.0 684.3a2.00 2.00 0 1 0 4.00 0a2.00 2.00 0 1 0 -4.00 0M70.2 686.6a2.00 2.00 0 1 0 4.00 0a2.00 2.00 0 1 0 -4.00 0M70.4 687.7a2.00 2.00 0 1 0 4.00 0a2.00 2.00 0 1 0 -4.00 0M69.3 687.2a2.00 2.00 0 1 0 4.00 0a2.00 2.00 0 1 0 -4.00 0M98.2 682.3a2.00 2.00 0 1 0 4.00 0a2.00 2.00 0 1 0 -4.00 0M85.8 677.6a2.00 2.00 0 1 0 4.00 0a2.00 2.00 0 1 0 -4.00 0M64.6 688.3a2.00 2.00 0 1 0 4.00 0a2.00 2.00 0 1 0 -4.00 0M73.5 687.4a2.00 2.00 0 1 0 4.00 0a2.00 2.00 0 1 0 -4.00 0M65.9 688.4a2.00 2.00 0 1 0 4.00 0a2.00 2.00 0 1 0 -4.00 0M84.4 684.5a2.00 2.00 0 1 0 4.00 0a2.00 2.00 0 1 0 -4.00 0M80.6 684.9a2.00 2.00 0 1 0 4.00 0a2.00 2.00 0 1 0 -4.00 0M76.9 685.9a2.00 2.00 0 1 0 4.00 0a2.00 2.00 0 1 0 -4.00 0M74.0 685.5a2.00 2.00 0 1 0 4.00 0a2.00 2.00 0 1 0 -4.00 0M87.0 683.4a2.00 2.00 0 1 0 4.00 0a2.00 2.00 0 1 0 -4.00 0M69.6 686.7a2.00 2.00 0 1 0 4.00 0a2.00 2.00 0 1 0 -4.00 0M70.9 687.6a2.00 2.00 0 1 0 4.00 0a2.00 2.00 0 1 0 -4.00 0M105.8 673.2a2.00 2.00 0 1 0 4.00 0a2.00 2.00 0 1 0 -4.00 0M84.8 684.6a2.00 2.00 0 1 0 4.00 0a2.00 2.00 0 1 0 -4.00 0M85.6 684.1a2.00 2.00 0 1 0 4.00 0a2.00 2.00 0 1 0 -4.00 0M66.4 688.2a2.00 2.00 0 1 0 4.00 0a2.00 2.00 0 1 0 -4.00 0M77.6 686.8a2.00 2.00 0 1 0 4.00 0a2.00 2.00 0 1 0 -4.00 0M70.6 687.0a2.00 2.00 0 1 0 4.00 0a2.00 2.00 0 1 0 -4.00 0M66.3 688.2a2.00 2.00 0 1 0 4.00 0a2.00 2.00 0 1 0 -4.00 0M88.3 681.5a2.00 2.00 0 1 0 4.00 0a2.00 2.00 0 1 0 -4.00 0M98.8 681.5a2.00 2.00 0 1 0 4.00 0a2.00 2.00 0 1 0 -4.00 0M79.0 685.2a2.00 2.00 0 1 0 4.00 0a2.00 2.00 0 1 0 -4.00 0M103.7 672.2a2.00 2.00 0 1 0 4.00 0a2.00 2.00 0 1 0 -4.00 0M66.3 687.8a2.00 2.00 0 1 0 4.00 0a2.00 2.00 0 1 0 -4.00 0M78.6 686.1a2.00 2.00 0 1 0 4.00 0a2.00 2.00 0 1 0 -4.00 0M99.3 681.3a2.00 2.00 0 1 0 4.00 0a2.00 2.00 0 1 0 -4.00 0M67.7 688.2a2.00 2.00 0 1 0 4.00 0a2.00 2.00 0 1 0 -4.00 0M111.0 676.3a2.00 2.00 0 1 0 4.00 0a2.00 2.00 0 1 0 -4.00 0M74.3 685.1a2.00 2.00 0 1 0 4.00 0a2.00 2.00 0 1 0 -4.00 0M78.0 684.8a2.00 2.00 0 1 0 4.00 0a2.00 2.00 0 1 0 -4.00 0M100.7 673.4a2.00 2.00 0 1 0 4.00 0a2.00 2.00 0 1 0 -4.00 0M117.1 665.5a2.00 2.00 0 1 0 4.00 0a2.00 2.00 0 1 0 -4.00 0M90.2 678.1a2.00 2.00 0 1 0 4.00 0a2.00 2.00 0 1 0 -4.00 0M66.3 687.8a2.00 2.00 0 1 0 4.00 0a2.00 2.00 0 1 0 -4.00 0M90.9 679.9a2.00 2.00 0 1 0 4.00 0a2.00 2.00 0 1 0 -4.00 0M123.1 665.8a2.00 2.00 0 1 0 4.00 0a2.00 2.00 0 1 0 -4.00 0M77.1 684.7a2.00 2.00 0 1 0 4.00 0a2.00 2.00 0 1 0 -4.00 0M78.7 684.3a2.00 2.00 0 1 0 4.00 0a2.00 2.00 0 1 0 -4.00 0M75.6 686.3a2.00 2.00 0 1 0 4.00 0a2.00 2.00 0 1 0 -4.00 0M91.0 679.6a2.00 2.00 0 1 0 4.00 0a2.00 2.00 0 1 0 -4.00 0M93.1 670.3a2.00 2.00 0 1 0 4.00 0a2.00 2.00 0 1 0 -4.00 0M79.6 685.4a2.00 2.00 0 1 0 4.00 0a2.00 2.00 0 1 0 -4.00 0M64.4 688.5a2.00 2.00 0 1 0 4.00 0a2.00 2.00 0 1 0 -4.00 0M79.7 684.9a2.00 2.00 0 1 0 4.00 0a2.00 2.00 0 1 0 -4.00 0M71.2 687.5a2.00 2.00 0 1 0 4.00 0a2.00 2.00 0 1 0 -4.00 0M117.2 670.4a2.00 2.00 0 1 0 4.00 0a2.00 2.00 0 1 0 -4.00 0M75.2 685.7a2.00 2.00 0 1 0 4.00 0a2.00 2.00 0 1 0 -4.00 0M77.6 682.7a2.00 2.00 0 1 0 4.00 0a2.00 2.00 0 1 0 -4.00 0M77.9 685.1a2.00 2.00 0 1 0 4.00 0a2.00 2.00 0 1 0 -4.00 0M92.4 680.8a2.00 2.00 0 1 0 4.00 0a2.00 2.00 0 1 0 -4.00 0M66.9 688.0a2.00 2.00 0 1 0 4.00 0a2.00 2.00 0 1 0 -4.00 0M74.4 687.5a2.00 2.00 0 1 0 4.00 0a2.00 2.00 0 1 0 -4.00 0M66.0 688.3a2.00 2.00 0 1 0 4.00 0a2.00 2.00 0 1 0 -4.00 0M82.8 683.3a2.00 2.00 0 1 0 4.00 0a2.00 2.00 0 1 0 -4.00 0M114.5 675.2a2.00 2.00 0 1 0 4.00 0a2.00 2.00 0 1 0 -4.00 0M68.5 687.4a2.00 2.00 0 1 0 4.00 0a2.00 2.00 0 1 0 -4.00 0M77.1 685.3a2.00 2.00 0 1 0 4.00 0a2.00 2.00 0 1 0 -4.00 0M77.1 685.2a2.00 2.00 0 1 0 4.00 0a2.00 2.00 0 1 0 -4.00 0M68.3 686.8a2.00 2.00 0 1 0 4.00 0a2.00 2.00 0 1 0 -4.00 0M89.8 682.8a2.00 2.00 0 1 0 4.00 0a2.00 2.00 0 1 0 -4.00 0M72.8 686.7a2.00 2.00 0 1 0 4.00 0a2.00 2.00 0 1 0 -4.00 0M80.8 685.4a2.00 2.00 0 1 0 4.00 0a2.00 2.00 0 1 0 -4.00 0M78.0 685.4a2.00 2.00 0 1 0 4.00 0a2.00 2.00 0 1 0 -4.00 0M97.0 669.1a2.00 2.00 0 1 0 4.00 0a2.00 2.00 0 1 0 -4.00 0M64.8 687.9a2.00 2.00 0 1 0 4.00 0a2.00 2.00 0 1 0 -4.00 0M64.4 687.8a2.00 2.00 0 1 0 4.00 0a2.00 2.00 0 1 0 -4.00 0M68.7 687.4a2.00 2.00 0 1 0 4.00 0a2.00 2.00 0 1 0 -4.00 0M71.7 686.6a2.00 2.00 0 1 0 4.00 0a2.00 2.00 0 1 0 -4.00 0M88.2 678.9a2.00 2.00 0 1 0 4.00 0a2.00 2.00 0 1 0 -4.00 0M78.3 685.0a2.00 2.00 0 1 0 4.00 0a2.00 2.00 0 1 0 -4.00 0M90.9 680.0a2.00 2.00 0 1 0 4.00 0a2.00 2.00 0 1 0 -4.00 0M75.7 686.2a2.00 2.00 0 1 0 4.00 0a2.00 2.00 0 1 0 -4.00 0M91.9 663.4a2.00 2.00 0 1 0 4.00 0a2.00 2.00 0 1 0 -4.00 0M68.8 687.2a2.00 2.00 0 1 0 4.00 0a2.00 2.00 0 1 0 -4.00 0M86.1 679.3a2.00 2.00 0 1 0 4.00 0a2.00 2.00 0 1 0 -4.00 0M69.4 687.0a2.00 2.00 0 1 0 4.00 0a2.00 2.00 0 1 0 -4.00 0M78.1 685.5a2.00 2.00 0 1 0 4.00 0a2.00 2.00 0 1 0 -4.00 0M90.8 679.3a2.00 2.00 0 1 0 4.00 0a2.00 2.00 0 1 0 -4.00 0M83.0 680.5a2.00 2.00 0 1 0 4.00 0a2.00 2.00 0 1 0 -4.00 0M83.4 683.7a2.00 2.00 0 1 0 4.00 0a2.00 2.00 0 1 0 -4.00 0M71.7 687.0a2.00 2.00 0 1 0 4.00 0a2.00 2.00 0 1 0 -4.00 0M64.6 688.4a2.00 2.00 0 1 0 4.00 0a2.00 2.00 0 1 0 -4.00 0M65.2 688.3a2.00 2.00 0 1 0 4.00 0a2.00 2.00 0 1 0 -4.00 0M67.1 687.4a2.00 2.00 0 1 0 4.00 0a2.00 2.00 0 1 0 -4.00 0M74.4 685.4a2.00 2.00 0 1 0 4.00 0a2.00 2.00 0 1 0 -4.00 0M67.6 688.2a2.00 2.00 0 1 0 4.00 0a2.00 2.00 0 1 0 -4.00 0M65.2 688.5a2.00 2.00 0 1 0 4.00 0a2.00 2.00 0 1 0 -4.00 0M76.4 685.0a2.00 2.00 0 1 0 4.00 0a2.00 2.00 0 1 0 -4.00 0M65.7 687.6a2.00 2.00 0 1 0 4.00 0a2.00 2.00 0 1 0 -4.00 0M80.0 684.4a2.00 2.00 0 1 0 4.00 0a2.00 2.00 0 1 0 -4.00 0M69.9 687.7a2.00 2.00 0 1 0 4.00 0a2.00 2.00 0 1 0 -4.00 0M72.4 687.7a2.00 2.00 0 1 0 4.00 0a2.00 2.00 0 1 0 -4.00 0M90.2 681.0a2.00 2.00 0 1 0 4.00 0a2.00 2.00 0 1 0 -4.00 0M77.1 684.4a2.00 2.00 0 1 0 4.00 0a2.00 2.00 0 1 0 -4.00 0M89.8 680.0a2.00 2.00 0 1 0 4.00 0a2.00 2.00 0 1 0 -4.00 0M73.0 687.0a2.00 2.00 0 1 0 4.00 0a2.00 2.00 0 1 0 -4.00 0M71.5 686.9a2.00 2.00 0 1 0 4.00 0a2.00 2.00 0 1 0 -4.00 0M82.4 682.9a2.00 2.00 0 1 0 4.00 0a2.00 2.00 0 1 0 -4.00 0M75.7 685.7a2.00 2.00 0 1 0 4.00 0a2.00 2.00 0 1 0 -4.00 0M90.1 684.3a2.00 2.00 0 1 0 4.00 0a2.00 2.00 0 1 0 -4.00 0M72.8 687.3a2.00 2.00 0 1 0 4.00 0a2.00 2.00 0 1 0 -4.00 0M79.6 680.1a2.00 2.00 0 1 0 4.00 0a2.00 2.00 0 1 0 -4.00 0M78.2 685.2a2.00 2.00 0 1 0 4.00 0a2.00 2.00 0 1 0 -4.00 0M94.1 681.6a2.00 2.00 0 1 0 4.00 0a2.00 2.00 0 1 0 -4.00 0M71.0 687.8a2.00 2.00 0 1 0 4.00 0a2.00 2.00 0 1 0 -4.00 0M75.5 686.6a2.00 2.00 0 1 0 4.00 0a2.00 2.00 0 1 0 -4.00 0M79.5 678.4a2.00 2.00 0 1 0 4.00 0a2.00 2.00 0 1 0 -4.00 0M65.1 688.5a2.00 2.00 0 1 0 4.00 0a2.00 2.00 0 1 0 -4.00 0M64.8 688.1a2.00 2.00 0 1 0 4.00 0a2.00 2.00 0 1 0 -4.00 0M70.3 687.3a2.00 2.00 0 1 0 4.00 0a2.00 2.00 0 1 0 -4.00 0M91.9 680.9a2.00 2.00 0 1 0 4.00 0a2.00 2.00 0 1 0 -4.00 0M95.3 682.5a2.00 2.00 0 1 0 4.00 0a2.00 2.00 0 1 0 -4.00 0M65.4 688.4a2.00 2.00 0 1 0 4.00 0a2.00 2.00 0 1 0 -4.00 0M82.5 682.9a2.00 2.00 0 1 0 4.00 0a2.00 2.00 0 1 0 -4.00 0M85.8 683.1a2.00 2.00 0 1 0 4.00 0a2.00 2.00 0 1 0 -4.00 0M102.9 674.1a2.00 2.00 0 1 0 4.00 0a2.00 2.00 0 1 0 -4.00 0M81.2 685.9a2.00 2.00 0 1 0 4.00 0a2.00 2.00 0 1 0 -4.00 0M97.9 682.5a2.00 2.00 0 1 0 4.00 0a2.00 2.00 0 1 0 -4.00 0M129.6 652.9a2.00 2.00 0 1 0 4.00 0a2.00 2.00 0 1 0 -4.00 0M86.9 677.1a2.00 2.00 0 1 0 4.00 0a2.00 2.00 0 1 0 -4.00 0M112.7 677.7a2.00 2.00 0 1 0 4.00 0a2.00 2.00 0 1 0 -4.00 0M117.0 671.4a2.00 2.00 0 1 0 4.00 0a2.00 2.00 0 1 0 -4.00 0M112.6 656.3a2.00 2.00 0 1 0 4.00 0a2.00 2.00 0 1 0 -4.00 0M69.3 688.0a2.00 2.00 0 1 0 4.00 0a2.00 2.00 0 1 0 -4.00 0M67.2 687.8a2.00 2.00 0 1 0 4.00 0a2.00 2.00 0 1 0 -4.00 0M87.8 683.4a2.00 2.00 0 1 0 4.00 0a2.00 2.00 0 1 0 -4.00 0M102.0 672.1a2.00 2.00 0 1 0 4.00 0a2.00 2.00 0 1 0 -4.00 0M74.9 685.7a2.00 2.00 0 1 0 4.00 0a2.00 2.00 0 1 0 -4.00 0M75.8 685.0a2.00 2.00 0 1 0 4.00 0a2.00 2.00 0 1 0 -4.00 0M69.5 687.6a2.00 2.00 0 1 0 4.00 0a2.00 2.00 0 1 0 -4.00 0M102.1 679.1a2.00 2.00 0 1 0 4.00 0a2.00 2.00 0 1 0 -4.00 0M115.5 663.1a2.00 2.00 0 1 0 4.00 0a2.00 2.00 0 1 0 -4.00 0M105.8 659.8a2.00 2.00 0 1 0 4.00 0a2.00 2.00 0 1 0 -4.00 0M136.5 669.3a2.00 2.00 0 1 0 4.00 0a2.00 2.00 0 1 0 -4.00 0M89.9 678.0a2.00 2.00 0 1 0 4.00 0a2.00 2.00 0 1 0 -4.00 0M79.7 685.0a2.00 2.00 0 1 0 4.00 0a2.00 2.00 0 1 0 -4.00 0M80.4 681.8a2.00 2.00 0 1 0 4.00 0a2.00 2.00 0 1 0 -4.00 0M104.7 670.0a2.00 2.00 0 1 0 4.00 0a2.00 2.00 0 1 0 -4.00 0M73.3 686.5a2.00 2.00 0 1 0 4.00 0a2.00 2.00 0 1 0 -4.00 0M90.6 683.9a2.00 2.00 0 1 0 4.00 0a2.00 2.00 0 1 0 -4.00 0M75.0 686.6a2.00 2.00 0 1 0 4.00 0a2.00 2.00 0 1 0 -4.00 0M64.4 688.2a2.00 2.00 0 1 0 4.00 0a2.00 2.00 0 1 0 -4.00 0M67.0 687.0a2.00 2.00 0 1 0 4.00 0a2.00 2.00 0 1 0 -4.00 0M104.3 676.4a2.00 2.00 0 1 0 4.00 0a2.00 2.00 0 1 0 -4.00 0M130.4 659.0a2.00 2.00 0 1 0 4.00 0a2.00 2.00 0 1 0 -4.00 0M74.6 685.5a2.00 2.00 0 1 0 4.00 0a2.00 2.00 0 1 0 -4.00 0M118.9 665.7a2.00 2.00 0 1 0 4.00 0a2.00 2.00 0 1 0 -4.00 0M73.5 686.1a2.00 2.00 0 1 0 4.00 0a2.00 2.00 0 1 0 -4.00 0M78.0 682.9a2.00 2.00 0 1 0 4.00 0a2.00 2.00 0 1 0 -4.00 0M73.9 687.4a2.00 2.00 0 1 0 4.00 0a2.00 2.00 0 1 0 -4.00 0M123.3 663.0a2.00 2.00 0 1 0 4.00 0a2.00 2.00 0 1 0 -4.00 0M69.3 688.1a2.00 2.00 0 1 0 4.00 0a2.00 2.00 0 1 0 -4.00 0M119.5 663.4a2.00 2.00 0 1 0 4.00 0a2.00 2.00 0 1 0 -4.00 0M80.6 681.7a2.00 2.00 0 1 0 4.00 0a2.00 2.00 0 1 0 -4.00 0M114.4 673.8a2.00 2.00 0 1 0 4.00 0a2.00 2.00 0 1 0 -4.00 0M90.4 677.9a2.00 2.00 0 1 0 4.00 0a2.00 2.00 0 1 0 -4.00 0M83.0 683.3a2.00 2.00 0 1 0 4.00 0a2.00 2.00 0 1 0 -4.00 0M128.8 648.9a2.00 2.00 0 1 0 4.00 0a2.00 2.00 0 1 0 -4.00 0M68.5 687.5a2.00 2.00 0 1 0 4.00 0a2.00 2.00 0 1 0 -4.00 0M113.9 664.3a2.00 2.00 0 1 0 4.00 0a2.00 2.00 0 1 0 -4.00 0M126.3 661.0a2.00 2.00 0 1 0 4.00 0a2.00 2.00 0 1 0 -4.00 0M104.3 678.0a2.00 2.00 0 1 0 4.00 0a2.00 2.00 0 1 0 -4.00 0M104.1 668.9a2.00 2.00 0 1 0 4.00 0a2.00 2.00 0 1 0 -4.00 0M91.8 679.7a2.00 2.00 0 1 0 4.00 0a2.00 2.00 0 1 0 -4.00 0M136.2 661.6a2.00 2.00 0 1 0 4.00 0a2.00 2.00 0 1 0 -4.00 0M70.3 687.1a2.00 2.00 0 1 0 4.00 0a2.00 2.00 0 1 0 -4.00 0M96.3 677.6a2.00 2.00 0 1 0 4.00 0a2.00 2.00 0 1 0 -4.00 0M86.2 680.9a2.00 2.00 0 1 0 4.00 0a2.00 2.00 0 1 0 -4.00 0M71.8 686.3a2.00 2.00 0 1 0 4.00 0a2.00 2.00 0 1 0 -4.00 0M104.3 676.4a2.00 2.00 0 1 0 4.00 0a2.00 2.00 0 1 0 -4.00 0M122.5 671.7a2.00 2.00 0 1 0 4.00 0a2.00 2.00 0 1 0 -4.00 0M125.3 657.6a2.00 2.00 0 1 0 4.00 0a2.00 2.00 0 1 0 -4.00 0M72.9 685.5a2.00 2.00 0 1 0 4.00 0a2.00 2.00 0 1 0 -4.00 0M112.2 672.1a2.00 2.00 0 1 0 4.00 0a2.00 2.00 0 1 0 -4.00 0M138.3 676.2a2.00 2.00 0 1 0 4.00 0a2.00 2.00 0 1 0 -4.00 0M104.7 671.4a2.00 2.00 0 1 0 4.00 0a2.00 2.00 0 1 0 -4.00 0M120.3 652.0a2.00 2.00 0 1 0 4.00 0a2.00 2.00 0 1 0 -4.00 0M90.7 680.8a2.00 2.00 0 1 0 4.00 0a2.00 2.00 0 1 0 -4.00 0M68.5 687.1a2.00 2.00 0 1 0 4.00 0a2.00 2.00 0 1 0 -4.00 0M109.8 678.2a2.00 2.00 0 1 0 4.00 0a2.00 2.00 0 1 0 -4.00 0M105.1 670.1a2.00 2.00 0 1 0 4.00 0a2.00 2.00 0 1 0 -4.00 0M114.4 659.2a2.00 2.00 0 1 0 4.00 0a2.00 2.00 0 1 0 -4.00 0M118.6 666.7a2.00 2.00 0 1 0 4.00 0a2.00 2.00 0 1 0 -4.00 0M138.5 641.4a2.00 2.00 0 1 0 4.00 0a2.00 2.00 0 1 0 -4.00 0M80.7 682.3a2.00 2.00 0 1 0 4.00 0a2.00 2.00 0 1 0 -4.00 0M92.9 678.8a2.00 2.00 0 1 0 4.00 0a2.00 2.00 0 1 0 -4.00 0M79.6 684.9a2.00 2.00 0 1 0 4.00 0a2.00 2.00 0 1 0 -4.00 0M97.1 678.3a2.00 2.00 0 1 0 4.00 0a2.00 2.00 0 1 0 -4.00 0M70.0 687.6a2.00 2.00 0 1 0 4.00 0a2.00 2.00 0 1 0 -4.00 0M96.5 680.6a2.00 2.00 0 1 0 4.00 0a2.00 2.00 0 1 0 -4.00 0M133.1 643.5a2.00 2.00 0 1 0 4.00 0a2.00 2.00 0 1 0 -4.00 0M66.2 688.1a2.00 2.00 0 1 0 4.00 0a2.00 2.00 0 1 0 -4.00 0M112.4 663.5a2.00 2.00 0 1 0 4.00 0a2.00 2.00 0 1 0 -4.00 0M81.7 684.7a2.00 2.00 0 1 0 4.00 0a2.00 2.00 0 1 0 -4.00 0M76.7 684.1a2.00 2.00 0 1 0 4.00 0a2.00 2.00 0 1 0 -4.00 0M104.4 667.6a2.00 2.00 0 1 0 4.00 0a2.00 2.00 0 1 0 -4.00 0M64.6 688.5a2.00 2.00 0 1 0 4.00 0a2.00 2.00 0 1 0 -4.00 0M96.7 681.4a2.00 2.00 0 1 0 4.00 0a2.00 2.00 0 1 0 -4.00 0M88.5 682.8a2.00 2.00 0 1 0 4.00 0a2.00 2.00 0 1 0 -4.00 0M64.7 688.6a2.00 2.00 0 1 0 4.00 0a2.00 2.00 0 1 0 -4.00 0M75.3 685.3a2.00 2.00 0 1 0 4.00 0a2.00 2.00 0 1 0 -4.00 0M71.3 687.7a2.00 2.00 0 1 0 4.00 0a2.00 2.00 0 1 0 -4.00 0M91.5 681.4a2.00 2.00 0 1 0 4.00 0a2.00 2.00 0 1 0 -4.00 0M65.4 688.0a2.00 2.00 0 1 0 4.00 0a2.00 2.00 0 1 0 -4.00 0M87.3 680.7a2.00 2.00 0 1 0 4.00 0a2.00 2.00 0 1 0 -4.00 0M89.0 681.7a2.00 2.00 0 1 0 4.00 0a2.00 2.00 0 1 0 -4.00 0M103.0 675.8a2.00 2.00 0 1 0 4.00 0a2.00 2.00 0 1 0 -4.00 0M138.0 609.2a2.00 2.00 0 1 0 4.00 0a2.00 2.00 0 1 0 -4.00 0M75.6 686.8a2.00 2.00 0 1 0 4.00 0a2.00 2.00 0 1 0 -4.00 0M77.0 684.6a2.00 2.00 0 1 0 4.00 0a2.00 2.00 0 1 0 -4.00 0M131.3 649.8a2.00 2.00 0 1 0 4.00 0a2.00 2.00 0 1 0 -4.00 0M81.7 684.5a2.00 2.00 0 1 0 4.00 0a2.00 2.00 0 1 0 -4.00 0M82.8 685.0a2.00 2.00 0 1 0 4.00 0a2.00 2.00 0 1 0 -4.00 0M100.3 679.4a2.00 2.00 0 1 0 4.00 0a2.00 2.00 0 1 0 -4.00 0M104.4 663.4a2.00 2.00 0 1 0 4.00 0a2.00 2.00 0 1 0 -4.00 0M89.4 680.5a2.00 2.00 0 1 0 4.00 0a2.00 2.00 0 1 0 -4.00 0M68.4 688.0a2.00 2.00 0 1 0 4.00 0a2.00 2.00 0 1 0 -4.00 0M128.4 658.8a2.00 2.00 0 1 0 4.00 0a2.00 2.00 0 1 0 -4.00 0M75.7 685.4a2.00 2.00 0 1 0 4.00 0a2.00 2.00 0 1 0 -4.00 0M114.1 672.0a2.00 2.00 0 1 0 4.00 0a2.00 2.00 0 1 0 -4.00 0M92.5 684.1a2.00 2.00 0 1 0 4.00 0a2.00 2.00 0 1 0 -4.00 0M136.8 666.5a2.00 2.00 0 1 0 4.00 0a2.00 2.00 0 1 0 -4.00 0M76.2 686.6a2.00 2.00 0 1 0 4.00 0a2.00 2.00 0 1 0 -4.00 0M118.2 673.8a2.00 2.00 0 1 0 4.00 0a2.00 2.00 0 1 0 -4.00 0M119.8 661.5a2.00 2.00 0 1 0 4.00 0a2.00 2.00 0 1 0 -4.00 0M76.8 685.3a2.00 2.00 0 1 0 4.00 0a2.00 2.00 0 1 0 -4.00 0M125.9 674.6a2.00 2.00 0 1 0 4.00 0a2.00 2.00 0 1 0 -4.00 0M130.5 649.4a2.00 2.00 0 1 0 4.00 0a2.00 2.00 0 1 0 -4.00 0M72.6 685.9a2.00 2.00 0 1 0 4.00 0a2.00 2.00 0 1 0 -4.00 0M104.7 667.3a2.00 2.00 0 1 0 4.00 0a2.00 2.00 0 1 0 -4.00 0M77.3 683.8a2.00 2.00 0 1 0 4.00 0a2.00 2.00 0 1 0 -4.00 0M126.5 634.4a2.00 2.00 0 1 0 4.00 0a2.00 2.00 0 1 0 -4.00 0M77.2 685.5a2.00 2.00 0 1 0 4.00 0a2.00 2.00 0 1 0 -4.00 0M109.9 670.2a2.00 2.00 0 1 0 4.00 0a2.00 2.00 0 1 0 -4.00 0M83.3 684.2a2.00 2.00 0 1 0 4.00 0a2.00 2.00 0 1 0 -4.00 0M83.0 681.6a2.00 2.00 0 1 0 4.00 0a2.00 2.00 0 1 0 -4.00 0M89.4 680.1a2.00 2.00 0 1 0 4.00 0a2.00 2.00 0 1 0 -4.00 0M76.4 686.1a2.00 2.00 0 1 0 4.00 0a2.00 2.00 0 1 0 -4.00 0M66.2 688.5a2.00 2.00 0 1 0 4.00 0a2.00 2.00 0 1 0 -4.00 0M119.5 662.6a2.00 2.00 0 1 0 4.00 0a2.00 2.00 0 1 0 -4.00 0M127.0 668.1a2.00 2.00 0 1 0 4.00 0a2.00 2.00 0 1 0 -4.00 0M85.8 678.7a2.00 2.00 0 1 0 4.00 0a2.00 2.00 0 1 0 -4.00 0M67.0 687.8a2.00 2.00 0 1 0 4.00 0a2.00 2.00 0 1 0 -4.00 0M107.1 668.7a2.00 2.00 0 1 0 4.00 0a2.00 2.00 0 1 0 -4.00 0M132.2 660.8a2.00 2.00 0 1 0 4.00 0a2.00 2.00 0 1 0 -4.00 0M74.9 686.2a2.00 2.00 0 1 0 4.00 0a2.00 2.00 0 1 0 -4.00 0M78.9 684.3a2.00 2.00 0 1 0 4.00 0a2.00 2.00 0 1 0 -4.00 0M133.3 650.7a2.00 2.00 0 1 0 4.00 0a2.00 2.00 0 1 0 -4.00 0M102.4 681.1a2.00 2.00 0 1 0 4.00 0a2.00 2.00 0 1 0 -4.00 0M86.9 677.6a2.00 2.00 0 1 0 4.00 0a2.00 2.00 0 1 0 -4.00 0M69.6 687.5a2.00 2.00 0 1 0 4.00 0a2.00 2.00 0 1 0 -4.00 0M77.5 685.7a2.00 2.00 0 1 0 4.00 0a2.00 2.00 0 1 0 -4.00 0M129.1 676.7a2.00 2.00 0 1 0 4.00 0a2.00 2.00 0 1 0 -4.00 0M111.9 679.6a2.00 2.00 0 1 0 4.00 0a2.00 2.00 0 1 0 -4.00 0M92.9 676.2a2.00 2.00 0 1 0 4.00 0a2.00 2.00 0 1 0 -4.00 0M103.1 674.0a2.00 2.00 0 1 0 4.00 0a2.00 2.00 0 1 0 -4.00 0M135.1 655.6a2.00 2.00 0 1 0 4.00 0a2.00 2.00 0 1 0 -4.00 0M66.3 688.4a2.00 2.00 0 1 0 4.00 0a2.00 2.00 0 1 0 -4.00 0M130.4 674.3a2.00 2.00 0 1 0 4.00 0a2.00 2.00 0 1 0 -4.00 0M83.9 684.5a2.00 2.00 0 1 0 4.00 0a2.00 2.00 0 1 0 -4.00 0M91.7 680.6a2.00 2.00 0 1 0 4.00 0a2.00 2.00 0 1 0 -4.00 0M114.1 671.3a2.00 2.00 0 1 0 4.00 0a2.00 2.00 0 1 0 -4.00 0M69.9 687.1a2.00 2.00 0 1 0 4.00 0a2.00 2.00 0 1 0 -4.00 0M131.1 633.5a2.00 2.00 0 1 0 4.00 0a2.00 2.00 0 1 0 -4.00 0M72.7 687.3a2.00 2.00 0 1 0 4.00 0a2.00 2.00 0 1 0 -4.00 0M90.0 677.8a2.00 2.00 0 1 0 4.00 0a2.00 2.00 0 1 0 -4.00 0M87.1 680.3a2.00 2.00 0 1 0 4.00 0a2.00 2.00 0 1 0 -4.00 0M96.4 670.0a2.00 2.00 0 1 0 4.00 0a2.00 2.00 0 1 0 -4.00 0M106.2 666.6a2.00 2.00 0 1 0 4.00 0a2.00 2.00 0 1 0 -4.00 0M67.9 687.7a2.00 2.00 0 1 0 4.00 0a2.00 2.00 0 1 0 -4.00 0M66.5 688.1a2.00 2.00 0 1 0 4.00 0a2.00 2.00 0 1 0 -4.00 0M95.9 685.3a2.00 2.00 0 1 0 4.00 0a2.00 2.00 0 1 0 -4.00 0M137.4 639.7a2.00 2.00 0 1 0 4.00 0a2.00 2.00 0 1 0 -4.00 0M66.2 688.2a2.00 2.00 0 1 0 4.00 0a2.00 2.00 0 1 0 -4.00 0M80.0 684.8a2.00 2.00 0 1 0 4.00 0a2.00 2.00 0 1 0 -4.00 0M107.8 664.9a2.00 2.00 0 1 0 4.00 0a2.00 2.00 0 1 0 -4.00 0M100.8 678.4a2.00 2.00 0 1 0 4.00 0a2.00 2.00 0 1 0 -4.00 0M107.8 679.2a2.00 2.00 0 1 0 4.00 0a2.00 2.00 0 1 0 -4.00 0M107.0 663.3a2.00 2.00 0 1 0 4.00 0a2.00 2.00 0 1 0 -4.00 0M88.8 680.6a2.00 2.00 0 1 0 4.00 0a2.00 2.00 0 1 0 -4.00 0M76.9 686.5a2.00 2.00 0 1 0 4.00 0a2.00 2.00 0 1 0 -4.00 0M79.7 683.5a2.00 2.00 0 1 0 4.00 0a2.00 2.00 0 1 0 -4.00 0M82.3 683.3a2.00 2.00 0 1 0 4.00 0a2.00 2.00 0 1 0 -4.00 0M113.0 679.1a2.00 2.00 0 1 0 4.00 0a2.00 2.00 0 1 0 -4.00 0M109.7 675.7a2.00 2.00 0 1 0 4.00 0a2.00 2.00 0 1 0 -4.00 0M68.9 688.1a2.00 2.00 0 1 0 4.00 0a2.00 2.00 0 1 0 -4.00 0M114.4 668.9a2.00 2.00 0 1 0 4.00 0a2.00 2.00 0 1 0 -4.00 0M78.1 685.2a2.00 2.00 0 1 0 4.00 0a2.00 2.00 0 1 0 -4.00 0M134.1 661.6a2.00 2.00 0 1 0 4.00 0a2.00 2.00 0 1 0 -4.00 0M65.1 688.1a2.00 2.00 0 1 0 4.00 0a2.00 2.00 0 1 0 -4.00 0M93.4 682.5a2.00 2.00 0 1 0 4.00 0a2.00 2.00 0 1 0 -4.00 0M124.7 657.8a2.00 2.00 0 1 0 4.00 0a2.00 2.00 0 1 0 -4.00 0M116.8 670.4a2.00 2.00 0 1 0 4.00 0a2.00 2.00 0 1 0 -4.00 0M109.5 674.4a2.00 2.00 0 1 0 4.00 0a2.00 2.00 0 1 0 -4.00 0M66.9 688.2a2.00 2.00 0 1 0 4.00 0a2.00 2.00 0 1 0 -4.00 0M132.8 646.0a2.00 2.00 0 1 0 4.00 0a2.00 2.00 0 1 0 -4.00 0M79.0 685.0a2.00 2.00 0 1 0 4.00 0a2.00 2.00 0 1 0 -4.00 0M91.3 680.1a2.00 2.00 0 1 0 4.00 0a2.00 2.00 0 1 0 -4.00 0M66.9 688.1a2.00 2.00 0 1 0 4.00 0a2.00 2.00 0 1 0 -4.00 0M66.9 688.3a2.00 2.00 0 1 0 4.00 0a2.00 2.00 0 1 0 -4.00 0M92.0 678.5a2.00 2.00 0 1 0 4.00 0a2.00 2.00 0 1 0 -4.00 0M78.1 685.4a2.00 2.00 0 1 0 4.00 0a2.00 2.00 0 1 0 -4.00 0M94.9 679.8a2.00 2.00 0 1 0 4.00 0a2.00 2.00 0 1 0 -4.00 0M113.6 678.3a2.00 2.00 0 1 0 4.00 0a2.00 2.00 0 1 0 -4.00 0M78.5 683.9a2.00 2.00 0 1 0 4.00 0a2.00 2.00 0 1 0 -4.00 0M92.2 682.0a2.00 2.00 0 1 0 4.00 0a2.00 2.00 0 1 0 -4.00 0M70.4 687.8a2.00 2.00 0 1 0 4.00 0a2.00 2.00 0 1 0 -4.00 0M101.2 676.5a2.00 2.00 0 1 0 4.00 0a2.00 2.00 0 1 0 -4.00 0M114.6 670.5a2.00 2.00 0 1 0 4.00 0a2.00 2.00 0 1 0 -4.00 0M101.0 678.3a2.00 2.00 0 1 0 4.00 0a2.00 2.00 0 1 0 -4.00 0M115.5 671.4a2.00 2.00 0 1 0 4.00 0a2.00 2.00 0 1 0 -4.00 0M80.9 684.3a2.00 2.00 0 1 0 4.00 0a2.00 2.00 0 1 0 -4.00 0M91.1 683.2a2.00 2.00 0 1 0 4.00 0a2.00 2.00 0 1 0 -4.00 0M80.0 684.7a2.00 2.00 0 1 0 4.00 0a2.00 2.00 0 1 0 -4.00 0M66.4 687.7a2.00 2.00 0 1 0 4.00 0a2.00 2.00 0 1 0 -4.00 0M125.1 671.6a2.00 2.00 0 1 0 4.00 0a2.00 2.00 0 1 0 -4.00 0M117.9 665.7a2.00 2.00 0 1 0 4.00 0a2.00 2.00 0 1 0 -4.00 0M110.6 661.7a2.00 2.00 0 1 0 4.00 0a2.00 2.00 0 1 0 -4.00 0M133.6 674.3a2.00 2.00 0 1 0 4.00 0a2.00 2.00 0 1 0 -4.00 0M85.8 679.6a2.00 2.00 0 1 0 4.00 0a2.00 2.00 0 1 0 -4.00 0M81.0 686.1a2.00 2.00 0 1 0 4.00 0a2.00 2.00 0 1 0 -4.00 0M134.9 642.9a2.00 2.00 0 1 0 4.00 0a2.00 2.00 0 1 0 -4.00 0M76.6 686.6a2.00 2.00 0 1 0 4.00 0a2.00 2.00 0 1 0 -4.00 0M127.5 663.2a2.00 2.00 0 1 0 4.00 0a2.00 2.00 0 1 0 -4.00 0M135.3 653.9a2.00 2.00 0 1 0 4.00 0a2.00 2.00 0 1 0 -4.00 0M111.4 656.4a2.00 2.00 0 1 0 4.00 0a2.00 2.00 0 1 0 -4.00 0M110.5 670.5a2.00 2.00 0 1 0 4.00 0a2.00 2.00 0 1 0 -4.00 0M67.9 687.4a2.00 2.00 0 1 0 4.00 0a2.00 2.00 0 1 0 -4.00 0M68.1 687.7a2.00 2.00 0 1 0 4.00 0a2.00 2.00 0 1 0 -4.00 0M95.4 682.4a2.00 2.00 0 1 0 4.00 0a2.00 2.00 0 1 0 -4.00 0M98.8 674.3a2.00 2.00 0 1 0 4.00 0a2.00 2.00 0 1 0 -4.00 0M89.3 680.5a2.00 2.00 0 1 0 4.00 0a2.00 2.00 0 1 0 -4.00 0M133.5 656.9a2.00 2.00 0 1 0 4.00 0a2.00 2.00 0 1 0 -4.00 0M123.9 667.8a2.00 2.00 0 1 0 4.00 0a2.00 2.00 0 1 0 -4.00 0M108.9 676.8a2.00 2.00 0 1 0 4.00 0a2.00 2.00 0 1 0 -4.00 0M81.2 684.3a2.00 2.00 0 1 0 4.00 0a2.00 2.00 0 1 0 -4.00 0M127.3 660.7a2.00 2.00 0 1 0 4.00 0a2.00 2.00 0 1 0 -4.00 0M89.9 676.0a2.00 2.00 0 1 0 4.00 0a2.00 2.00 0 1 0 -4.00 0M65.0 688.5a2.00 2.00 0 1 0 4.00 0a2.00 2.00 0 1 0 -4.00 0M126.4 654.8a2.00 2.00 0 1 0 4.00 0a2.00 2.00 0 1 0 -4.00 0M92.9 675.7a2.00 2.00 0 1 0 4.00 0a2.00 2.00 0 1 0 -4.00 0M92.2 684.3a2.00 2.00 0 1 0 4.00 0a2.00 2.00 0 1 0 -4.00 0M64.5 688.1a2.00 2.00 0 1 0 4.00 0a2.00 2.00 0 1 0 -4.00 0M100.4 678.3a2.00 2.00 0 1 0 4.00 0a2.00 2.00 0 1 0 -4.00 0M119.1 661.5a2.00 2.00 0 1 0 4.00 0a2.00 2.00 0 1 0 -4.00 0M117.7 667.8a2.00 2.00 0 1 0 4.00 0a2.00 2.00 0 1 0 -4.00 0M113.0 662.7a2.00 2.00 0 1 0 4.00 0a2.00 2.00 0 1 0 -4.00 0M104.5 674.4a2.00 2.00 0 1 0 4.00 0a2.00 2.00 0 1 0 -4.00 0M114.1 678.7a2.00 2.00 0 1 0 4.00 0a2.00 2.00 0 1 0 -4.00 0M126.2 667.5a2.00 2.00 0 1 0 4.00 0a2.00 2.00 0 1 0 -4.00 0M131.9 657.2a2.00 2.00 0 1 0 4.00 0a2.00 2.00 0 1 0 -4.00 0M129.8 621.6a2.00 2.00 0 1 0 4.00 0a2.00 2.00 0 1 0 -4.00 0M100.0 674.2a2.00 2.00 0 1 0 4.00 0a2.00 2.00 0 1 0 -4.00 0M113.2 661.1a2.00 2.00 0 1 0 4.00 0a2.00 2.00 0 1 0 -4.00 0M119.0 665.6a2.00 2.00 0 1 0 4.00 0a2.00 2.00 0 1 0 -4.00 0M131.7 667.1a2.00 2.00 0 1 0 4.00 0a2.00 2.00 0 1 0 -4.00 0M122.0 669.7a2.00 2.00 0 1 0 4.00 0a2.00 2.00 0 1 0 -4.00 0M131.3 675.2a2.00 2.00 0 1 0 4.00 0a2.00 2.00 0 1 0 -4.00 0M126.8 668.8a2.00 2.00 0 1 0 4.00 0a2.00 2.00 0 1 0 -4.00 0M102.8 667.4a2.00 2.00 0 1 0 4.00 0a2.00 2.00 0 1 0 -4.00 0M138.3 665.7a2.00 2.00 0 1 0 4.00 0a2.00 2.00 0 1 0 -4.00 0M121.7 664.2a2.00 2.00 0 1 0 4.00 0a2.00 2.00 0 1 0 -4.00 0M123.5 664.4a2.00 2.00 0 1 0 4.00 0a2.00 2.00 0 1 0 -4.00 0M110.0 676.5a2.00 2.00 0 1 0 4.00 0a2.00 2.00 0 1 0 -4.00 0M135.2 673.2a2.00 2.00 0 1 0 4.00 0a2.00 2.00 0 1 0 -4.00 0M138.9 665.2a2.00 2.00 0 1 0 4.00 0a2.00 2.00 0 1 0 -4.00 0M113.3 674.1a2.00 2.00 0 1 0 4.00 0a2.00 2.00 0 1 0 -4.00 0M119.0 663.6a2.00 2.00 0 1 0 4.00 0a2.00 2.00 0 1 0 -4.00 0M102.4 673.8a2.00 2.00 0 1 0 4.00 0a2.00 2.00 0 1 0 -4.00 0M129.7 676.6a2.00 2.00 0 1 0 4.00 0a2.00 2.00 0 1 0 -4.00 0M125.1 660.6a2.00 2.00 0 1 0 4.00 0a2.00 2.00 0 1 0 -4.00 0M109.0 675.1a2.00 2.00 0 1 0 4.00 0a2.00 2.00 0 1 0 -4.00 0M132.3 629.3a2.00 2.00 0 1 0 4.00 0a2.00 2.00 0 1 0 -4.00 0M121.3 670.6a2.00 2.00 0 1 0 4.00 0a2.00 2.00 0 1 0 -4.00 0M136.2 654.6a2.00 2.00 0 1 0 4.00 0a2.00 2.00 0 1 0 -4.00 0M132.0 645.2a2.00 2.00 0 1 0 4.00 0a2.00 2.00 0 1 0 -4.00 0M103.8 674.1a2.00 2.00 0 1 0 4.00 0a2.00 2.00 0 1 0 -4.00 0M109.2 665.6a2.00 2.00 0 1 0 4.00 0a2.00 2.00 0 1 0 -4.00 0M133.1 673.5a2.00 2.00 0 1 0 4.00 0a2.00 2.00 0 1 0 -4.00 0M101.2 677.7a2.00 2.00 0 1 0 4.00 0a2.00 2.00 0 1 0 -4.00 0M105.0 676.5a2.00 2.00 0 1 0 4.00 0a2.00 2.00 0 1 0 -4.00 0M135.8 648.8a2.00 2.00 0 1 0 4.00 0a2.00 2.00 0 1 0 -4.00 0M131.6 671.7a2.00 2.00 0 1 0 4.00 0a2.00 2.00 0 1 0 -4.00 0M109.9 680.4a2.00 2.00 0 1 0 4.00 0a2.00 2.00 0 1 0 -4.00 0M113.2 663.4a2.00 2.00 0 1 0 4.00 0a2.00 2.00 0 1 0 -4.00 0M101.4 668.1a2.00 2.00 0 1 0 4.00 0a2.00 2.00 0 1 0 -4.00 0M104.9 663.9a2.00 2.00 0 1 0 4.00 0a2.00 2.00 0 1 0 -4.00 0M100.4 671.6a2.00 2.00 0 1 0 4.00 0a2.00 2.00 0 1 0 -4.00 0M319.4 455.7a2.00 2.00 0 1 0 4.00 0a2.00 2.00 0 1 0 -4.00 0M327.7 479.1a2.00 2.00 0 1 0 4.00 0a2.00 2.00 0 1 0 -4.00 0M292.5 490.3a2.00 2.00 0 1 0 4.00 0a2.00 2.00 0 1 0 -4.00 0M312.9 489.4a2.00 2.00 0 1 0 4.00 0a2.00 2.00 0 1 0 -4.00 0M237.7 502.8a2.00 2.00 0 1 0 4.00 0a2.00 2.00 0 1 0 -4.00 0M291.9 512.1a2.00 2.00 0 1 0 4.00 0a2.00 2.00 0 1 0 -4.00 0M268.2 528.8a2.00 2.00 0 1 0 4.00 0a2.00 2.00 0 1 0 -4.00 0M320.9 532.5a2.00 2.00 0 1 0 4.00 0a2.00 2.00 0 1 0 -4.00 0M303.6 537.0a2.00 2.00 0 1 0 4.00 0a2.00 2.00 0 1 0 -4.00 0M226.8 540.1a2.00 2.00 0 1 0 4.00 0a2.00 2.00 0 1 0 -4.00 0M265.3 540.3a2.00 2.00 0 1 0 4.00 0a2.00 2.00 0 1 0 -4.00 0M242.1 545.4a2.00 2.00 0 1 0 4.00 0a2.00 2.00 0 1 0 -4.00 0M249.9 547.1a2.00 2.00 0 1 0 4.00 0a2.00 2.00 0 1 0 -4.00 0M267.6 546.0a2.00 2.00 0 1 0 4.00 0a2.00 2.00 0 1 0 -4.00 0M296.4 548.1a2.00 2.00 0 1 0 4.00 0a2.00 2.00 0 1 0 -4.00 0M247.6 556.5a2.00 2.00 0 1 0 4.00 0a2.00 2.00 0 1 0 -4.00 0M240.2 558.8a2.00 2.00 0 1 0 4.00 0a2.00 2.00 0 1 0 -4.00 0M249.3 561.3a2.00 2.00 0 1 0 4.00 0a2.00 2.00 0 1 0 -4.00 0M286.5 559.4a2.00 2.00 0 1 0 4.00 0a2.00 2.00 0 1 0 -4.00 0M284.0 562.7a2.00 2.00 0 1 0 4.00 0a2.00 2.00 0 1 0 -4.00 0M265.3 561.3a2.00 2.00 0 1 0 4.00 0a2.00 2.00 0 1 0 -4.00 0M247.0 564.8a2.00 2.00 0 1 0 4.00 0a2.00 2.00 0 1 0 -4.00 0M250.1 564.8a2.00 2.00 0 1 0 4.00 0a2.00 2.00 0 1 0 -4.00 0M237.7 569.5a2.00 2.00 0 1 0 4.00 0a2.00 2.00 0 1 0 -4.00 0M238.1 570.7a2.00 2.00 0 1 0 4.00 0a2.00 2.00 0 1 0 -4.00 0M205.6 579.6a2.00 2.00 0 1 0 4.00 0a2.00 2.00 0 1 0 -4.00 0M207.9 582.4a2.00 2.00 0 1 0 4.00 0a2.00 2.00 0 1 0 -4.00 0M200.1 587.4a2.00 2.00 0 1 0 4.00 0a2.00 2.00 0 1 0 -4.00 0M199.6 592.1a2.00 2.00 0 1 0 4.00 0a2.00 2.00 0 1 0 -4.00 0M212.2 586.6a2.00 2.00 0 1 0 4.00 0a2.00 2.00 0 1 0 -4.00 0M213.4 590.9a2.00 2.00 0 1 0 4.00 0a2.00 2.00 0 1 0 -4.00 0M224.1 591.3a2.00 2.00 0 1 0 4.00 0a2.00 2.00 0 1 0 -4.00 0M237.1 586.6a2.00 2.00 0 1 0 4.00 0a2.00 2.00 0 1 0 -4.00 0M247.4 579.3a2.00 2.00 0 1 0 4.00 0a2.00 2.00 0 1 0 -4.00 0M247.8 586.8a2.00 2.00 0 1 0 4.00 0a2.00 2.00 0 1 0 -4.00 0M255.8 581.2a2.00 2.00 0 1 0 4.00 0a2.00 2.00 0 1 0 -4.00 0M257.9 586.8a2.00 2.00 0 1 0 4.00 0a2.00 2.00 0 1 0 -4.00 0M273.3 580.8a2.00 2.00 0 1 0 4.00 0a2.00 2.00 0 1 0 -4.00 0M198.6 600.8a2.00 2.00 0 1 0 4.00 0a2.00 2.00 0 1 0 -4.00 0M203.6 603.2a2.00 2.00 0 1 0 4.00 0a2.00 2.00 0 1 0 -4.00 0M203.4 607.3a2.00 2.00 0 1 0 4.00 0a2.00 2.00 0 1 0 -4.00 0M206.9 607.3a2.00 2.00 0 1 0 4.00 0a2.00 2.00 0 1 0 -4.00 0M230.3 606.1a2.00 2.00 0 1 0 4.00 0a2.00 2.00 0 1 0 -4.00 0M235.7 604.7a2.00 2.00 0 1 0 4.00 0a2.00 2.00 0 1 0 -4.00 0M237.1 602.6a2.00 2.00 0 1 0 4.00 0a2.00 2.00 0 1 0 -4.00 0M240.8 605.9a2.00 2.00 0 1 0 4.00 0a2.00 2.00 0 1 0 -4.00 0M242.9 612.1a2.00 2.00 0 1 0 4.00 0a2.00 2.00 0 1 0 -4.00 0M265.9 603.8a2.00 2.00 0 1 0 4.00 0a2.00 2.00 0 1 0 -4.00 0M269.6 603.8a2.00 2.00 0 1 0 4.00 0a2.00 2.00 0 1 0 -4.00 0M221.5 615.8a2.00 2.00 0 1 0 4.00 0a2.00 2.00 0 1 0 -4.00 0M238.1 620.3a2.00 2.00 0 1 0 4.00 0a2.00 2.00 0 1 0 -4.00 0M205.6 624.6a2.00 2.00 0 1 0 4.00 0a2.00 2.00 0 1 0 -4.00 0M207.1 627.5a2.00 2.00 0 1 0 4.00 0a2.00 2.00 0 1 0 -4.00 0M219.8 625.9a2.00 2.00 0 1 0 4.00 0a2.00 2.00 0 1 0 -4.00 0M221.9 627.1a2.00 2.00 0 1 0 4.00 0a2.00 2.00 0 1 0 -4.00 0M229.3 625.5a2.00 2.00 0 1 0 4.00 0a2.00 2.00 0 1 0 -4.00 0M204.2 633.1a2.00 2.00 0 1 0 4.00 0a2.00 2.00 0 1 0 -4.00 0M207.5 646.0a2.00 2.00 0 1 0 4.00 0a2.00 2.00 0 1 0 -4.00 0M181.7 575.4a2.00 2.00 0 1 0 4.00 0a2.00 2.00 0 1 0 -4.00 0M188.7 585.7a2.00 2.00 0 1 0 4.00 0a2.00 2.00 0 1 0 -4.00 0M170.3 592.8a2.00 2.00 0 1 0 4.00 0a2.00 2.00 0 1 0 -4.00 0M169.5 595.6a2.00 2.00 0 1 0 4.00 0a2.00 2.00 0 1 0 -4.00 0M182.3 590.0a2.00 2.00 0 1 0 4.00 0a2.00 2.00 0 1 0 -4.00 0M185.7 600.1a2.00 2.00 0 1 0 4.00 0a2.00 2.00 0 1 0 -4.00 0M184.9 604.1a2.00 2.00 0 1 0 4.00 0a2.00 2.00 0 1 0 -4.00 0M197.3 601.1a2.00 2.00 0 1 0 4.00 0a2.00 2.00 0 1 0 -4.00 0M160.9 604.8a2.00 2.00 0 1 0 4.00 0a2.00 2.00 0 1 0 -4.00 0M168.2 610.1a2.00 2.00 0 1 0 4.00 0a2.00 2.00 0 1 0 -4.00 0M165.8 612.9a2.00 2.00 0 1 0 4.00 0a2.00 2.00 0 1 0 -4.00 0M163.3 614.2a2.00 2.00 0 1 0 4.00 0a2.00 2.00 0 1 0 -4.00 0M184.4 614.2a2.00 2.00 0 1 0 4.00 0a2.00 2.00 0 1 0 -4.00 0M195.4 613.8a2.00 2.00 0 1 0 4.00 0a2.00 2.00 0 1 0 -4.00 0M172.9 616.3a2.00 2.00 0 1 0 4.00 0a2.00 2.00 0 1 0 -4.00 0M158.6 621.3a2.00 2.00 0 1 0 4.00 0a2.00 2.00 0 1 0 -4.00 0M174.0 621.5a2.00 2.00 0 1 0 4.00 0a2.00 2.00 0 1 0 -4.00 0M179.3 622.3a2.00 2.00 0 1 0 4.00 0a2.00 2.00 0 1 0 -4.00 0M193.4 622.8a2.00 2.00 0 1 0 4.00 0a2.00 2.00 0 1 0 -4.00 0M150.2 623.8a2.00 2.00 0 1 0 4.00 0a2.00 2.00 0 1 0 -4.00 0M147.4 629.4a2.00 2.00 0 1 0 4.00 0a2.00 2.00 0 1 0 -4.00 0M147.9 628.3a2.00 2.00 0 1 0 4.00 0a2.00 2.00 0 1 0 -4.00 0M154.0 628.8a2.00 2.00 0 1 0 4.00 0a2.00 2.00 0 1 0 -4.00 0M153.6 632.2a2.00 2.00 0 1 0 4.00 0a2.00 2.00 0 1 0 -4.00 0M138.9 631.3a2.00 2.00 0 1 0 4.00 0a2.00 2.00 0 1 0 -4.00 0M123.2 643.4a2.00 2.00 0 1 0 4.00 0a2.00 2.00 0 1 0 -4.00 0M135.6 641.8a2.00 2.00 0 1 0 4.00 0a2.00 2.00 0 1 0 -4.00 0M136.3 635.2a2.00 2.00 0 1 0 4.00 0a2.00 2.00 0 1 0 -4.00 0M153.1 676.1a2.00 2.00 0 1 0 4.00 0a2.00 2.00 0 1 0 -4.00 0M159.0 671.0a2.00 2.00 0 1 0 4.00 0a2.00 2.00 0 1 0 -4.00 0M165.7 662.8a2.00 2.00 0 1 0 4.00 0a2.00 2.00 0 1 0 -4.00 0M133.3 679.1a2.00 2.00 0 1 0 4.00 0a2.00 2.00 0 1 0 -4.00 0M134.4 679.6a2.00 2.00 0 1 0 4.00 0a2.00 2.00 0 1 0 -4.00 0M156.0 660.5a2.00 2.00 0 1 0 4.00 0a2.00 2.00 0 1 0 -4.00 0M144.0 668.0a2.00 2.00 0 1 0 4.00 0a2.00 2.00 0 1 0 -4.00 0M160.5 632.6a2.00 2.00 0 1 0 4.00 0a2.00 2.00 0 1 0 -4.00 0M172.2 630.3a2.00 2.00 0 1 0 4.00 0a2.00 2.00 0 1 0 -4.00 0M178.3 631.8a2.00 2.00 0 1 0 4.00 0a2.00 2.00 0 1 0 -4.00 0M190.0 633.2a2.00 2.00 0 1 0 4.00 0a2.00 2.00 0 1 0 -4.00 0M192.4 631.3a2.00 2.00 0 1 0 4.00 0a2.00 2.00 0 1 0 -4.00 0M194.3 631.8a2.00 2.00 0 1 0 4.00 0a2.00 2.00 0 1 0 -4.00 0M171.8 635.4a2.00 2.00 0 1 0 4.00 0a2.00 2.00 0 1 0 -4.00 0M167.1 636.0a2.00 2.00 0 1 0 4.00 0a2.00 2.00 0 1 0 -4.00 0M164.3 637.7a2.00 2.00 0 1 0 4.00 0a2.00 2.00 0 1 0 -4.00 0M178.9 637.7a2.00 2.00 0 1 0 4.00 0a2.00 2.00 0 1 0 -4.00 0M189.4 636.7a2.00 2.00 0 1 0 4.00 0a2.00 2.00 0 1 0 -4.00 0M150.8 639.2a2.00 2.00 0 1 0 4.00 0a2.00 2.00 0 1 0 -4.00 0M153.0 640.1a2.00 2.00 0 1 0 4.00 0a2.00 2.00 0 1 0 -4.00 0M159.6 640.1a2.00 2.00 0 1 0 4.00 0a2.00 2.00 0 1 0 -4.00 0M160.5 642.0a2.00 2.00 0 1 0 4.00 0a2.00 2.00 0 1 0 -4.00 0M163.7 642.9a2.00 2.00 0 1 0 4.00 0a2.00 2.00 0 1 0 -4.00 0M185.5 641.4a2.00 2.00 0 1 0 4.00 0a2.00 2.00 0 1 0 -4.00 0M180.8 643.9a2.00 2.00 0 1 0 4.00 0a2.00 2.00 0 1 0 -4.00 0M167.5 647.6a2.00 2.00 0 1 0 4.00 0a2.00 2.00 0 1 0 -4.00 0M168.0 649.1a2.00 2.00 0 1 0 4.00 0a2.00 2.00 0 1 0 -4.00 0M176.1 645.4a2.00 2.00 0 1 0 4.00 0a2.00 2.00 0 1 0 -4.00 0M178.3 645.2a2.00 2.00 0 1 0 4.00 0a2.00 2.00 0 1 0 -4.00 0M183.0 649.5a2.00 2.00 0 1 0 4.00 0a2.00 2.00 0 1 0 -4.00 0M187.2 649.1a2.00 2.00 0 1 0 4.00 0a2.00 2.00 0 1 0 -4.00 0M189.2 650.4a2.00 2.00 0 1 0 4.00 0a2.00 2.00 0 1 0 -4.00 0M161.5 650.4a2.00 2.00 0 1 0 4.00 0a2.00 2.00 0 1 0 -4.00 0M175.5 653.2a2.00 2.00 0 1 0 4.00 0a2.00 2.00 0 1 0 -4.00 0M141.8 654.2a2.00 2.00 0 1 0 4.00 0a2.00 2.00 0 1 0 -4.00 0M145.5 654.7a2.00 2.00 0 1 0 4.00 0a2.00 2.00 0 1 0 -4.00 0M149.3 657.9a2.00 2.00 0 1 0 4.00 0a2.00 2.00 0 1 0 -4.00 0" fill="none" stroke="#e23a1a" stroke-width="0.90"/><path d="M439.7 674.1a1.90 1.90 0 1 0 3.80 0a1.90 1.90 0 1 0 -3.80 0M431.2 681.6a1.90 1.90 0 1 0 3.80 0a1.90 1.90 0 1 0 -3.80 0M426.6 680.4a1.90 1.90 0 1 0 3.80 0a1.90 1.90 0 1 0 -3.80 0M441.7 672.7a1.90 1.90 0 1 0 3.80 0a1.90 1.90 0 1 0 -3.80 0M425.7 678.9a1.90 1.90 0 1 0 3.80 0a1.90 1.90 0 1 0 -3.80 0M459.2 661.3a1.90 1.90 0 1 0 3.80 0a1.90 1.90 0 1 0 -3.80 0M443.4 677.9a1.90 1.90 0 1 0 3.80 0a1.90 1.90 0 1 0 -3.80 0M438.7 679.8a1.90 1.90 0 1 0 3.80 0a1.90 1.90 0 1 0 -3.80 0M412.1 687.2a1.90 1.90 0 1 0 3.80 0a1.90 1.90 0 1 0 -3.80 0M408.7 686.9a1.90 1.90 0 1 0 3.80 0a1.90 1.90 0 1 0 -3.80 0M412.9 686.6a1.90 1.90 0 1 0 3.80 0a1.90 1.90 0 1 0 -3.80 0M445.3 678.5a1.90 1.90 0 1 0 3.80 0a1.90 1.90 0 1 0 -3.80 0M438.0 677.7a1.90 1.90 0 1 0 3.80 0a1.90 1.90 0 1 0 -3.80 0M410.5 687.8a1.90 1.90 0 1 0 3.80 0a1.90 1.90 0 1 0 -3.80 0M444.9 666.8a1.90 1.90 0 1 0 3.80 0a1.90 1.90 0 1 0 -3.80 0M419.2 684.4a1.90 1.90 0 1 0 3.80 0a1.90 1.90 0 1 0 -3.80 0M419.3 686.2a1.90 1.90 0 1 0 3.80 0a1.90 1.90 0 1 0 -3.80 0M479.8 650.7a1.90 1.90 0 1 0 3.80 0a1.90 1.90 0 1 0 -3.80 0M436.0 670.8a1.90 1.90 0 1 0 3.80 0a1.90 1.90 0 1 0 -3.80 0M441.9 673.8a1.90 1.90 0 1 0 3.80 0a1.90 1.90 0 1 0 -3.80 0M442.3 679.1a1.90 1.90 0 1 0 3.80 0a1.90 1.90 0 1 0 -3.80 0M410.4 687.8a1.90 1.90 0 1 0 3.80 0a1.90 1.90 0 1 0 -3.80 0M443.9 672.7a1.90 1.90 0 1 0 3.80 0a1.90 1.90 0 1 0 -3.80 0M565.6 564.5a1.90 1.90 0 1 0 3.80 0a1.90 1.90 0 1 0 -3.80 0M413.6 686.2a1.90 1.90 0 1 0 3.80 0a1.90 1.90 0 1 0 -3.80 0M463.4 661.5a1.90 1.90 0 1 0 3.80 0a1.90 1.90 0 1 0 -3.80 0M468.7 666.2a1.90 1.90 0 1 0 3.80 0a1.90 1.90 0 1 0 -3.80 0M467.9 658.5a1.90 1.90 0 1 0 3.80 0a1.90 1.90 0 1 0 -3.80 0M421.7 680.7a1.90 1.90 0 1 0 3.80 0a1.90 1.90 0 1 0 -3.80 0M426.3 684.0a1.90 1.90 0 1 0 3.80 0a1.90 1.90 0 1 0 -3.80 0M413.8 687.2a1.90 1.90 0 1 0 3.80 0a1.90 1.90 0 1 0 -3.80 0M433.4 681.3a1.90 1.90 0 1 0 3.80 0a1.90 1.90 0 1 0 -3.80 0M496.0 635.6a1.90 1.90 0 1 0 3.80 0a1.90 1.90 0 1 0 -3.80 0M419.5 684.3a1.90 1.90 0 1 0 3.80 0a1.90 1.90 0 1 0 -3.80 0M408.1 688.4a1.90 1.90 0 1 0 3.80 0a1.90 1.90 0 1 0 -3.80 0M436.5 674.2a1.90 1.90 0 1 0 3.80 0a1.90 1.90 0 1 0 -3.80 0M469.1 656.8a1.90 1.90 0 1 0 3.80 0a1.90 1.90 0 1 0 -3.80 0M428.7 680.0a1.90 1.90 0 1 0 3.80 0a1.90 1.90 0 1 0 -3.80 0M523.5 628.4a1.90 1.90 0 1 0 3.80 0a1.90 1.90 0 1 0 -3.80 0M430.4 681.5a1.90 1.90 0 1 0 3.80 0a1.90 1.90 0 1 0 -3.80 0M435.7 678.5a1.90 1.90 0 1 0 3.80 0a1.90 1.90 0 1 0 -3.80 0M414.6 683.8a1.90 1.90 0 1 0 3.80 0a1.90 1.90 0 1 0 -3.80 0M426.8 681.8a1.90 1.90 0 1 0 3.80 0a1.90 1.90 0 1 0 -3.80 0M467.2 656.7a1.90 1.90 0 1 0 3.80 0a1.90 1.90 0 1 0 -3.80 0M468.0 659.5a1.90 1.90 0 1 0 3.80 0a1.90 1.90 0 1 0 -3.80 0M490.0 639.8a1.90 1.90 0 1 0 3.80 0a1.90 1.90 0 1 0 -3.80 0M463.7 666.3a1.90 1.90 0 1 0 3.80 0a1.90 1.90 0 1 0 -3.80 0M452.9 675.6a1.90 1.90 0 1 0 3.80 0a1.90 1.90 0 1 0 -3.80 0M417.7 684.3a1.90 1.90 0 1 0 3.80 0a1.90 1.90 0 1 0 -3.80 0M422.8 680.6a1.90 1.90 0 1 0 3.80 0a1.90 1.90 0 1 0 -3.80 0M459.4 673.4a1.90 1.90 0 1 0 3.80 0a1.90 1.90 0 1 0 -3.80 0M433.2 681.1a1.90 1.90 0 1 0 3.80 0a1.90 1.90 0 1 0 -3.80 0M460.7 666.6a1.90 1.90 0 1 0 3.80 0a1.90 1.90 0 1 0 -3.80 0M437.0 675.9a1.90 1.90 0 1 0 3.80 0a1.90 1.90 0 1 0 -3.80 0M415.4 686.6a1.90 1.90 0 1 0 3.80 0a1.90 1.90 0 1 0 -3.80 0M418.4 680.6a1.90 1.90 0 1 0 3.80 0a1.90 1.90 0 1 0 -3.80 0M446.6 673.5a1.90 1.90 0 1 0 3.80 0a1.90 1.90 0 1 0 -3.80 0M423.5 682.3a1.90 1.90 0 1 0 3.80 0a1.90 1.90 0 1 0 -3.80 0M408.1 688.2a1.90 1.90 0 1 0 3.80 0a1.90 1.90 0 1 0 -3.80 0M453.6 665.0a1.90 1.90 0 1 0 3.80 0a1.90 1.90 0 1 0 -3.80 0M477.6 650.8a1.90 1.90 0 1 0 3.80 0a1.90 1.90 0 1 0 -3.80 0M472.6 652.3a1.90 1.90 0 1 0 3.80 0a1.90 1.90 0 1 0 -3.80 0M473.9 658.6a1.90 1.90 0 1 0 3.80 0a1.90 1.90 0 1 0 -3.80 0M410.5 686.7a1.90 1.90 0 1 0 3.80 0a1.90 1.90 0 1 0 -3.80 0M517.1 613.1a1.90 1.90 0 1 0 3.80 0a1.90 1.90 0 1 0 -3.80 0M431.2 673.4a1.90 1.90 0 1 0 3.80 0a1.90 1.90 0 1 0 -3.80 0M416.6 684.7a1.90 1.90 0 1 0 3.80 0a1.90 1.90 0 1 0 -3.80 0M424.5 683.1a1.90 1.90 0 1 0 3.80 0a1.90 1.90 0 1 0 -3.80 0M419.5 682.2a1.90 1.90 0 1 0 3.80 0a1.90 1.90 0 1 0 -3.80 0M412.8 686.6a1.90 1.90 0 1 0 3.80 0a1.90 1.90 0 1 0 -3.80 0M434.7 677.7a1.90 1.90 0 1 0 3.80 0a1.90 1.90 0 1 0 -3.80 0M440.1 674.9a1.90 1.90 0 1 0 3.80 0a1.90 1.90 0 1 0 -3.80 0M429.8 681.4a1.90 1.90 0 1 0 3.80 0a1.90 1.90 0 1 0 -3.80 0M439.9 677.1a1.90 1.90 0 1 0 3.80 0a1.90 1.90 0 1 0 -3.80 0M430.5 679.5a1.90 1.90 0 1 0 3.80 0a1.90 1.90 0 1 0 -3.80 0M419.3 686.2a1.90 1.90 0 1 0 3.80 0a1.90 1.90 0 1 0 -3.80 0M421.8 683.3a1.90 1.90 0 1 0 3.80 0a1.90 1.90 0 1 0 -3.80 0M452.5 676.6a1.90 1.90 0 1 0 3.80 0a1.90 1.90 0 1 0 -3.80 0M411.1 688.0a1.90 1.90 0 1 0 3.80 0a1.90 1.90 0 1 0 -3.80 0M422.6 681.8a1.90 1.90 0 1 0 3.80 0a1.90 1.90 0 1 0 -3.80 0M471.5 659.4a1.90 1.90 0 1 0 3.80 0a1.90 1.90 0 1 0 -3.80 0M442.1 673.4a1.90 1.90 0 1 0 3.80 0a1.90 1.90 0 1 0 -3.80 0M457.6 666.4a1.90 1.90 0 1 0 3.80 0a1.90 1.90 0 1 0 -3.80 0M435.0 683.6a1.90 1.90 0 1 0 3.80 0a1.90 1.90 0 1 0 -3.80 0M413.4 685.7a1.90 1.90 0 1 0 3.80 0a1.90 1.90 0 1 0 -3.80 0M425.3 682.8a1.90 1.90 0 1 0 3.80 0a1.90 1.90 0 1 0 -3.80 0M438.5 678.3a1.90 1.90 0 1 0 3.80 0a1.90 1.90 0 1 0 -3.80 0M425.3 682.8a1.90 1.90 0 1 0 3.80 0a1.90 1.90 0 1 0 -3.80 0M430.5 685.1a1.90 1.90 0 1 0 3.80 0a1.90 1.90 0 1 0 -3.80 0M440.4 680.7a1.90 1.90 0 1 0 3.80 0a1.90 1.90 0 1 0 -3.80 0M468.6 657.3a1.90 1.90 0 1 0 3.80 0a1.90 1.90 0 1 0 -3.80 0M424.1 685.6a1.90 1.90 0 1 0 3.80 0a1.90 1.90 0 1 0 -3.80 0M483.6 647.0a1.90 1.90 0 1 0 3.80 0a1.90 1.90 0 1 0 -3.80 0M435.1 676.0a1.90 1.90 0 1 0 3.80 0a1.90 1.90 0 1 0 -3.80 0M474.0 662.9a1.90 1.90 0 1 0 3.80 0a1.90 1.90 0 1 0 -3.80 0M482.0 657.4a1.90 1.90 0 1 0 3.80 0a1.90 1.90 0 1 0 -3.80 0M522.8 627.3a1.90 1.90 0 1 0 3.80 0a1.90 1.90 0 1 0 -3.80 0M478.5 659.5a1.90 1.90 0 1 0 3.80 0a1.90 1.90 0 1 0 -3.80 0M479.2 655.1a1.90 1.90 0 1 0 3.80 0a1.90 1.90 0 1 0 -3.80 0M520.4 622.6a1.90 1.90 0 1 0 3.80 0a1.90 1.90 0 1 0 -3.80 0M409.5 688.4a1.90 1.90 0 1 0 3.80 0a1.90 1.90 0 1 0 -3.80 0M416.0 686.9a1.90 1.90 0 1 0 3.80 0a1.90 1.90 0 1 0 -3.80 0M477.2 645.1a1.90 1.90 0 1 0 3.80 0a1.90 1.90 0 1 0 -3.80 0M441.2 675.3a1.90 1.90 0 1 0 3.80 0a1.90 1.90 0 1 0 -3.80 0M441.0 677.9a1.90 1.90 0 1 0 3.80 0a1.90 1.90 0 1 0 -3.80 0M410.6 688.1a1.90 1.90 0 1 0 3.80 0a1.90 1.90 0 1 0 -3.80 0M416.6 685.4a1.90 1.90 0 1 0 3.80 0a1.90 1.90 0 1 0 -3.80 0M460.0 665.7a1.90 1.90 0 1 0 3.80 0a1.90 1.90 0 1 0 -3.80 0M455.5 665.0a1.90 1.90 0 1 0 3.80 0a1.90 1.90 0 1 0 -3.80 0M422.1 684.1a1.90 1.90 0 1 0 3.80 0a1.90 1.90 0 1 0 -3.80 0M417.9 684.6a1.90 1.90 0 1 0 3.80 0a1.90 1.90 0 1 0 -3.80 0M419.7 685.6a1.90 1.90 0 1 0 3.80 0a1.90 1.90 0 1 0 -3.80 0M452.6 677.1a1.90 1.90 0 1 0 3.80 0a1.90 1.90 0 1 0 -3.80 0M436.7 679.8a1.90 1.90 0 1 0 3.80 0a1.90 1.90 0 1 0 -3.80 0M411.1 687.9a1.90 1.90 0 1 0 3.80 0a1.90 1.90 0 1 0 -3.80 0M471.9 663.6a1.90 1.90 0 1 0 3.80 0a1.90 1.90 0 1 0 -3.80 0M442.5 673.4a1.90 1.90 0 1 0 3.80 0a1.90 1.90 0 1 0 -3.80 0M496.6 634.7a1.90 1.90 0 1 0 3.80 0a1.90 1.90 0 1 0 -3.80 0M408.2 687.6a1.90 1.90 0 1 0 3.80 0a1.90 1.90 0 1 0 -3.80 0M421.5 684.8a1.90 1.90 0 1 0 3.80 0a1.90 1.90 0 1 0 -3.80 0M509.1 621.9a1.90 1.90 0 1 0 3.80 0a1.90 1.90 0 1 0 -3.80 0M413.9 686.6a1.90 1.90 0 1 0 3.80 0a1.90 1.90 0 1 0 -3.80 0M495.0 638.3a1.90 1.90 0 1 0 3.80 0a1.90 1.90 0 1 0 -3.80 0M441.3 674.0a1.90 1.90 0 1 0 3.80 0a1.90 1.90 0 1 0 -3.80 0M441.0 677.4a1.90 1.90 0 1 0 3.80 0a1.90 1.90 0 1 0 -3.80 0M462.2 667.3a1.90 1.90 0 1 0 3.80 0a1.90 1.90 0 1 0 -3.80 0M415.6 684.8a1.90 1.90 0 1 0 3.80 0a1.90 1.90 0 1 0 -3.80 0M421.5 684.1a1.90 1.90 0 1 0 3.80 0a1.90 1.90 0 1 0 -3.80 0M412.8 687.2a1.90 1.90 0 1 0 3.80 0a1.90 1.90 0 1 0 -3.80 0M439.4 673.7a1.90 1.90 0 1 0 3.80 0a1.90 1.90 0 1 0 -3.80 0M540.0 603.8a1.90 1.90 0 1 0 3.80 0a1.90 1.90 0 1 0 -3.80 0M426.3 683.5a1.90 1.90 0 1 0 3.80 0a1.90 1.90 0 1 0 -3.80 0M454.3 662.2a1.90 1.90 0 1 0 3.80 0a1.90 1.90 0 1 0 -3.80 0M448.9 670.5a1.90 1.90 0 1 0 3.80 0a1.90 1.90 0 1 0 -3.80 0M442.6 678.6a1.90 1.90 0 1 0 3.80 0a1.90 1.90 0 1 0 -3.80 0M431.4 680.4a1.90 1.90 0 1 0 3.80 0a1.90 1.90 0 1 0 -3.80 0M498.9 640.1a1.90 1.90 0 1 0 3.80 0a1.90 1.90 0 1 0 -3.80 0M439.5 677.7a1.90 1.90 0 1 0 3.80 0a1.90 1.90 0 1 0 -3.80 0M424.2 680.5a1.90 1.90 0 1 0 3.80 0a1.90 1.90 0 1 0 -3.80 0M484.5 658.5a1.90 1.90 0 1 0 3.80 0a1.90 1.90 0 1 0 -3.80 0M468.0 668.7a1.90 1.90 0 1 0 3.80 0a1.90 1.90 0 1 0 -3.80 0M447.5 671.4a1.90 1.90 0 1 0 3.80 0a1.90 1.90 0 1 0 -3.80 0M433.2 681.3a1.90 1.90 0 1 0 3.80 0a1.90 1.90 0 1 0 -3.80 0M522.6 621.8a1.90 1.90 0 1 0 3.80 0a1.90 1.90 0 1 0 -3.80 0M437.7 681.1a1.90 1.90 0 1 0 3.80 0a1.90 1.90 0 1 0 -3.80 0M422.5 680.6a1.90 1.90 0 1 0 3.80 0a1.90 1.90 0 1 0 -3.80 0M460.0 660.8a1.90 1.90 0 1 0 3.80 0a1.90 1.90 0 1 0 -3.80 0M429.3 681.9a1.90 1.90 0 1 0 3.80 0a1.90 1.90 0 1 0 -3.80 0M437.4 679.9a1.90 1.90 0 1 0 3.80 0a1.90 1.90 0 1 0 -3.80 0M428.1 680.6a1.90 1.90 0 1 0 3.80 0a1.90 1.90 0 1 0 -3.80 0M432.7 676.9a1.90 1.90 0 1 0 3.80 0a1.90 1.90 0 1 0 -3.80 0M410.1 687.9a1.90 1.90 0 1 0 3.80 0a1.90 1.90 0 1 0 -3.80 0M418.5 685.4a1.90 1.90 0 1 0 3.80 0a1.90 1.90 0 1 0 -3.80 0M419.9 686.1a1.90 1.90 0 1 0 3.80 0a1.90 1.90 0 1 0 -3.80 0M430.1 680.1a1.90 1.90 0 1 0 3.80 0a1.90 1.90 0 1 0 -3.80 0M446.6 665.2a1.90 1.90 0 1 0 3.80 0a1.90 1.90 0 1 0 -3.80 0M416.3 686.9a1.90 1.90 0 1 0 3.80 0a1.90 1.90 0 1 0 -3.80 0M567.1 606.5a1.90 1.90 0 1 0 3.80 0a1.90 1.90 0 1 0 -3.80 0M433.2 682.7a1.90 1.90 0 1 0 3.80 0a1.90 1.90 0 1 0 -3.80 0M451.7 671.8a1.90 1.90 0 1 0 3.80 0a1.90 1.90 0 1 0 -3.80 0M414.7 685.2a1.90 1.90 0 1 0 3.80 0a1.90 1.90 0 1 0 -3.80 0M417.6 684.0a1.90 1.90 0 1 0 3.80 0a1.90 1.90 0 1 0 -3.80 0M523.6 618.2a1.90 1.90 0 1 0 3.80 0a1.90 1.90 0 1 0 -3.80 0M462.3 667.4a1.90 1.90 0 1 0 3.80 0a1.90 1.90 0 1 0 -3.80 0M433.4 675.3a1.90 1.90 0 1 0 3.80 0a1.90 1.90 0 1 0 -3.80 0M412.0 687.0a1.90 1.90 0 1 0 3.80 0a1.90 1.90 0 1 0 -3.80 0M520.0 608.7a1.90 1.90 0 1 0 3.80 0a1.90 1.90 0 1 0 -3.80 0M417.0 685.3a1.90 1.90 0 1 0 3.80 0a1.90 1.90 0 1 0 -3.80 0M425.4 682.3a1.90 1.90 0 1 0 3.80 0a1.90 1.90 0 1 0 -3.80 0M433.2 676.1a1.90 1.90 0 1 0 3.80 0a1.90 1.90 0 1 0 -3.80 0M450.8 674.9a1.90 1.90 0 1 0 3.80 0a1.90 1.90 0 1 0 -3.80 0M438.3 681.1a1.90 1.90 0 1 0 3.80 0a1.90 1.90 0 1 0 -3.80 0M436.9 676.8a1.90 1.90 0 1 0 3.80 0a1.90 1.90 0 1 0 -3.80 0M553.3 615.9a1.90 1.90 0 1 0 3.80 0a1.90 1.90 0 1 0 -3.80 0M441.6 674.7a1.90 1.90 0 1 0 3.80 0a1.90 1.90 0 1 0 -3.80 0M454.7 664.5a1.90 1.90 0 1 0 3.80 0a1.90 1.90 0 1 0 -3.80 0M470.0 657.8a1.90 1.90 0 1 0 3.80 0a1.90 1.90 0 1 0 -3.80 0M421.7 683.9a1.90 1.90 0 1 0 3.80 0a1.90 1.90 0 1 0 -3.80 0M419.8 683.7a1.90 1.90 0 1 0 3.80 0a1.90 1.90 0 1 0 -3.80 0M437.8 676.7a1.90 1.90 0 1 0 3.80 0a1.90 1.90 0 1 0 -3.80 0M414.2 687.5a1.90 1.90 0 1 0 3.80 0a1.90 1.90 0 1 0 -3.80 0M414.2 685.8a1.90 1.90 0 1 0 3.80 0a1.90 1.90 0 1 0 -3.80 0M490.6 649.8a1.90 1.90 0 1 0 3.80 0a1.90 1.90 0 1 0 -3.80 0M426.1 678.8a1.90 1.90 0 1 0 3.80 0a1.90 1.90 0 1 0 -3.80 0M435.4 675.8a1.90 1.90 0 1 0 3.80 0a1.90 1.90 0 1 0 -3.80 0M429.5 681.4a1.90 1.90 0 1 0 3.80 0a1.90 1.90 0 1 0 -3.80 0M433.6 678.6a1.90 1.90 0 1 0 3.80 0a1.90 1.90 0 1 0 -3.80 0M486.8 648.0a1.90 1.90 0 1 0 3.80 0a1.90 1.90 0 1 0 -3.80 0M419.7 682.8a1.90 1.90 0 1 0 3.80 0a1.90 1.90 0 1 0 -3.80 0M454.8 672.4a1.90 1.90 0 1 0 3.80 0a1.90 1.90 0 1 0 -3.80 0M488.5 649.0a1.90 1.90 0 1 0 3.80 0a1.90 1.90 0 1 0 -3.80 0M413.5 684.8a1.90 1.90 0 1 0 3.80 0a1.90 1.90 0 1 0 -3.80 0M475.3 655.2a1.90 1.90 0 1 0 3.80 0a1.90 1.90 0 1 0 -3.80 0M408.5 688.4a1.90 1.90 0 1 0 3.80 0a1.90 1.90 0 1 0 -3.80 0M464.4 654.8a1.90 1.90 0 1 0 3.80 0a1.90 1.90 0 1 0 -3.80 0M428.3 681.2a1.90 1.90 0 1 0 3.80 0a1.90 1.90 0 1 0 -3.80 0M414.5 686.8a1.90 1.90 0 1 0 3.80 0a1.90 1.90 0 1 0 -3.80 0M434.1 672.3a1.90 1.90 0 1 0 3.80 0a1.90 1.90 0 1 0 -3.80 0M422.3 684.9a1.90 1.90 0 1 0 3.80 0a1.90 1.90 0 1 0 -3.80 0M409.6 687.1a1.90 1.90 0 1 0 3.80 0a1.90 1.90 0 1 0 -3.80 0M485.7 642.0a1.90 1.90 0 1 0 3.80 0a1.90 1.90 0 1 0 -3.80 0M491.2 647.0a1.90 1.90 0 1 0 3.80 0a1.90 1.90 0 1 0 -3.80 0M415.6 686.5a1.90 1.90 0 1 0 3.80 0a1.90 1.90 0 1 0 -3.80 0M426.4 680.8a1.90 1.90 0 1 0 3.80 0a1.90 1.90 0 1 0 -3.80 0M424.7 681.5a1.90 1.90 0 1 0 3.80 0a1.90 1.90 0 1 0 -3.80 0M430.4 684.1a1.90 1.90 0 1 0 3.80 0a1.90 1.90 0 1 0 -3.80 0M412.6 687.6a1.90 1.90 0 1 0 3.80 0a1.90 1.90 0 1 0 -3.80 0M479.7 654.9a1.90 1.90 0 1 0 3.80 0a1.90 1.90 0 1 0 -3.80 0M439.8 677.0a1.90 1.90 0 1 0 3.80 0a1.90 1.90 0 1 0 -3.80 0M416.5 687.1a1.90 1.90 0 1 0 3.80 0a1.90 1.90 0 1 0 -3.80 0M425.1 684.6a1.90 1.90 0 1 0 3.80 0a1.90 1.90 0 1 0 -3.80 0M419.7 685.0a1.90 1.90 0 1 0 3.80 0a1.90 1.90 0 1 0 -3.80 0M432.5 679.0a1.90 1.90 0 1 0 3.80 0a1.90 1.90 0 1 0 -3.80 0M463.9 663.4a1.90 1.90 0 1 0 3.80 0a1.90 1.90 0 1 0 -3.80 0M464.7 663.5a1.90 1.90 0 1 0 3.80 0a1.90 1.90 0 1 0 -3.80 0M415.0 687.7a1.90 1.90 0 1 0 3.80 0a1.90 1.90 0 1 0 -3.80 0M441.4 678.4a1.90 1.90 0 1 0 3.80 0a1.90 1.90 0 1 0 -3.80 0M417.6 685.5a1.90 1.90 0 1 0 3.80 0a1.90 1.90 0 1 0 -3.80 0M409.3 687.6a1.90 1.90 0 1 0 3.80 0a1.90 1.90 0 1 0 -3.80 0M415.1 688.0a1.90 1.90 0 1 0 3.80 0a1.90 1.90 0 1 0 -3.80 0M437.7 671.4a1.90 1.90 0 1 0 3.80 0a1.90 1.90 0 1 0 -3.80 0M410.6 687.3a1.90 1.90 0 1 0 3.80 0a1.90 1.90 0 1 0 -3.80 0M420.4 685.8a1.90 1.90 0 1 0 3.80 0a1.90 1.90 0 1 0 -3.80 0M454.3 666.8a1.90 1.90 0 1 0 3.80 0a1.90 1.90 0 1 0 -3.80 0M420.8 685.5a1.90 1.90 0 1 0 3.80 0a1.90 1.90 0 1 0 -3.80 0M420.2 683.4a1.90 1.90 0 1 0 3.80 0a1.90 1.90 0 1 0 -3.80 0M416.6 685.5a1.90 1.90 0 1 0 3.80 0a1.90 1.90 0 1 0 -3.80 0M408.7 687.9a1.90 1.90 0 1 0 3.80 0a1.90 1.90 0 1 0 -3.80 0M430.0 676.2a1.90 1.90 0 1 0 3.80 0a1.90 1.90 0 1 0 -3.80 0M438.6 678.5a1.90 1.90 0 1 0 3.80 0a1.90 1.90 0 1 0 -3.80 0M441.4 673.2a1.90 1.90 0 1 0 3.80 0a1.90 1.90 0 1 0 -3.80 0M415.6 683.4a1.90 1.90 0 1 0 3.80 0a1.90 1.90 0 1 0 -3.80 0M416.0 684.9a1.90 1.90 0 1 0 3.80 0a1.90 1.90 0 1 0 -3.80 0M472.1 651.5a1.90 1.90 0 1 0 3.80 0a1.90 1.90 0 1 0 -3.80 0M416.8 684.8a1.90 1.90 0 1 0 3.80 0a1.90 1.90 0 1 0 -3.80 0M429.0 679.0a1.90 1.90 0 1 0 3.80 0a1.90 1.90 0 1 0 -3.80 0M415.1 687.1a1.90 1.90 0 1 0 3.80 0a1.90 1.90 0 1 0 -3.80 0M415.1 685.7a1.90 1.90 0 1 0 3.80 0a1.90 1.90 0 1 0 -3.80 0M410.7 686.8a1.90 1.90 0 1 0 3.80 0a1.90 1.90 0 1 0 -3.80 0M512.9 624.9a1.90 1.90 0 1 0 3.80 0a1.90 1.90 0 1 0 -3.80 0M427.9 681.4a1.90 1.90 0 1 0 3.80 0a1.90 1.90 0 1 0 -3.80 0M408.5 688.1a1.90 1.90 0 1 0 3.80 0a1.90 1.90 0 1 0 -3.80 0M438.6 676.4a1.90 1.90 0 1 0 3.80 0a1.90 1.90 0 1 0 -3.80 0M436.6 676.3a1.90 1.90 0 1 0 3.80 0a1.90 1.90 0 1 0 -3.80 0M437.5 678.7a1.90 1.90 0 1 0 3.80 0a1.90 1.90 0 1 0 -3.80 0M506.0 623.9a1.90 1.90 0 1 0 3.80 0a1.90 1.90 0 1 0 -3.80 0M435.2 675.5a1.90 1.90 0 1 0 3.80 0a1.90 1.90 0 1 0 -3.80 0M437.5 679.0a1.90 1.90 0 1 0 3.80 0a1.90 1.90 0 1 0 -3.80 0M420.4 685.3a1.90 1.90 0 1 0 3.80 0a1.90 1.90 0 1 0 -3.80 0M415.6 685.9a1.90 1.90 0 1 0 3.80 0a1.90 1.90 0 1 0 -3.80 0M436.3 677.7a1.90 1.90 0 1 0 3.80 0a1.90 1.90 0 1 0 -3.80 0M433.8 680.0a1.90 1.90 0 1 0 3.80 0a1.90 1.90 0 1 0 -3.80 0M417.0 683.6a1.90 1.90 0 1 0 3.80 0a1.90 1.90 0 1 0 -3.80 0M424.4 685.1a1.90 1.90 0 1 0 3.80 0a1.90 1.90 0 1 0 -3.80 0M439.5 675.1a1.90 1.90 0 1 0 3.80 0a1.90 1.90 0 1 0 -3.80 0M442.0 674.1a1.90 1.90 0 1 0 3.80 0a1.90 1.90 0 1 0 -3.80 0M422.9 683.5a1.90 1.90 0 1 0 3.80 0a1.90 1.90 0 1 0 -3.80 0M445.0 679.8a1.90 1.90 0 1 0 3.80 0a1.90 1.90 0 1 0 -3.80 0M427.3 683.6a1.90 1.90 0 1 0 3.80 0a1.90 1.90 0 1 0 -3.80 0M416.5 685.3a1.90 1.90 0 1 0 3.80 0a1.90 1.90 0 1 0 -3.80 0M424.3 679.2a1.90 1.90 0 1 0 3.80 0a1.90 1.90 0 1 0 -3.80 0M413.6 687.3a1.90 1.90 0 1 0 3.80 0a1.90 1.90 0 1 0 -3.80 0M444.8 678.5a1.90 1.90 0 1 0 3.80 0a1.90 1.90 0 1 0 -3.80 0M426.9 681.0a1.90 1.90 0 1 0 3.80 0a1.90 1.90 0 1 0 -3.80 0M409.6 687.6a1.90 1.90 0 1 0 3.80 0a1.90 1.90 0 1 0 -3.80 0M448.6 671.4a1.90 1.90 0 1 0 3.80 0a1.90 1.90 0 1 0 -3.80 0M454.5 675.7a1.90 1.90 0 1 0 3.80 0a1.90 1.90 0 1 0 -3.80 0M431.6 681.1a1.90 1.90 0 1 0 3.80 0a1.90 1.90 0 1 0 -3.80 0M456.5 664.3a1.90 1.90 0 1 0 3.80 0a1.90 1.90 0 1 0 -3.80 0M410.6 687.2a1.90 1.90 0 1 0 3.80 0a1.90 1.90 0 1 0 -3.80 0M497.6 628.3a1.90 1.90 0 1 0 3.80 0a1.90 1.90 0 1 0 -3.80 0M448.2 674.3a1.90 1.90 0 1 0 3.80 0a1.90 1.90 0 1 0 -3.80 0M483.2 645.4a1.90 1.90 0 1 0 3.80 0a1.90 1.90 0 1 0 -3.80 0M410.8 686.5a1.90 1.90 0 1 0 3.80 0a1.90 1.90 0 1 0 -3.80 0M422.5 681.8a1.90 1.90 0 1 0 3.80 0a1.90 1.90 0 1 0 -3.80 0M428.6 679.9a1.90 1.90 0 1 0 3.80 0a1.90 1.90 0 1 0 -3.80 0M542.3 602.5a1.90 1.90 0 1 0 3.80 0a1.90 1.90 0 1 0 -3.80 0M436.3 676.5a1.90 1.90 0 1 0 3.80 0a1.90 1.90 0 1 0 -3.80 0M412.9 687.4a1.90 1.90 0 1 0 3.80 0a1.90 1.90 0 1 0 -3.80 0M456.3 670.7a1.90 1.90 0 1 0 3.80 0a1.90 1.90 0 1 0 -3.80 0M443.5 672.4a1.90 1.90 0 1 0 3.80 0a1.90 1.90 0 1 0 -3.80 0M419.9 680.9a1.90 1.90 0 1 0 3.80 0a1.90 1.90 0 1 0 -3.80 0M471.3 659.9a1.90 1.90 0 1 0 3.80 0a1.90 1.90 0 1 0 -3.80 0M491.2 645.4a1.90 1.90 0 1 0 3.80 0a1.90 1.90 0 1 0 -3.80 0M430.3 677.4a1.90 1.90 0 1 0 3.80 0a1.90 1.90 0 1 0 -3.80 0M416.2 686.8a1.90 1.90 0 1 0 3.80 0a1.90 1.90 0 1 0 -3.80 0M463.6 668.5a1.90 1.90 0 1 0 3.80 0a1.90 1.90 0 1 0 -3.80 0M451.3 671.9a1.90 1.90 0 1 0 3.80 0a1.90 1.90 0 1 0 -3.80 0M428.8 683.6a1.90 1.90 0 1 0 3.80 0a1.90 1.90 0 1 0 -3.80 0M418.3 686.6a1.90 1.90 0 1 0 3.80 0a1.90 1.90 0 1 0 -3.80 0M429.6 681.0a1.90 1.90 0 1 0 3.80 0a1.90 1.90 0 1 0 -3.80 0M454.4 671.0a1.90 1.90 0 1 0 3.80 0a1.90 1.90 0 1 0 -3.80 0M439.1 680.8a1.90 1.90 0 1 0 3.80 0a1.90 1.90 0 1 0 -3.80 0M461.8 658.6a1.90 1.90 0 1 0 3.80 0a1.90 1.90 0 1 0 -3.80 0M538.2 610.3a1.90 1.90 0 1 0 3.80 0a1.90 1.90 0 1 0 -3.80 0M451.4 675.2a1.90 1.90 0 1 0 3.80 0a1.90 1.90 0 1 0 -3.80 0M474.3 659.3a1.90 1.90 0 1 0 3.80 0a1.90 1.90 0 1 0 -3.80 0M438.3 675.8a1.90 1.90 0 1 0 3.80 0a1.90 1.90 0 1 0 -3.80 0M561.5 582.0a1.90 1.90 0 1 0 3.80 0a1.90 1.90 0 1 0 -3.80 0M438.0 677.4a1.90 1.90 0 1 0 3.80 0a1.90 1.90 0 1 0 -3.80 0M509.8 607.3a1.90 1.90 0 1 0 3.80 0a1.90 1.90 0 1 0 -3.80 0M519.3 615.4a1.90 1.90 0 1 0 3.80 0a1.90 1.90 0 1 0 -3.80 0M433.7 675.9a1.90 1.90 0 1 0 3.80 0a1.90 1.90 0 1 0 -3.80 0M474.3 661.8a1.90 1.90 0 1 0 3.80 0a1.90 1.90 0 1 0 -3.80 0M410.7 687.4a1.90 1.90 0 1 0 3.80 0a1.90 1.90 0 1 0 -3.80 0M452.5 666.5a1.90 1.90 0 1 0 3.80 0a1.90 1.90 0 1 0 -3.80 0M410.6 687.3a1.90 1.90 0 1 0 3.80 0a1.90 1.90 0 1 0 -3.80 0M459.4 672.7a1.90 1.90 0 1 0 3.80 0a1.90 1.90 0 1 0 -3.80 0M426.1 681.4a1.90 1.90 0 1 0 3.80 0a1.90 1.90 0 1 0 -3.80 0M432.2 679.3a1.90 1.90 0 1 0 3.80 0a1.90 1.90 0 1 0 -3.80 0M417.5 684.4a1.90 1.90 0 1 0 3.80 0a1.90 1.90 0 1 0 -3.80 0M447.1 672.7a1.90 1.90 0 1 0 3.80 0a1.90 1.90 0 1 0 -3.80 0M468.3 655.2a1.90 1.90 0 1 0 3.80 0a1.90 1.90 0 1 0 -3.80 0M417.3 685.4a1.90 1.90 0 1 0 3.80 0a1.90 1.90 0 1 0 -3.80 0M429.1 676.1a1.90 1.90 0 1 0 3.80 0a1.90 1.90 0 1 0 -3.80 0M447.4 675.0a1.90 1.90 0 1 0 3.80 0a1.90 1.90 0 1 0 -3.80 0M422.6 681.3a1.90 1.90 0 1 0 3.80 0a1.90 1.90 0 1 0 -3.80 0M500.4 630.2a1.90 1.90 0 1 0 3.80 0a1.90 1.90 0 1 0 -3.80 0M565.5 559.7a1.90 1.90 0 1 0 3.80 0a1.90 1.90 0 1 0 -3.80 0M447.6 673.7a1.90 1.90 0 1 0 3.80 0a1.90 1.90 0 1 0 -3.80 0M435.6 675.6a1.90 1.90 0 1 0 3.80 0a1.90 1.90 0 1 0 -3.80 0M443.8 678.6a1.90 1.90 0 1 0 3.80 0a1.90 1.90 0 1 0 -3.80 0M418.9 686.3a1.90 1.90 0 1 0 3.80 0a1.90 1.90 0 1 0 -3.80 0M411.3 687.4a1.90 1.90 0 1 0 3.80 0a1.90 1.90 0 1 0 -3.80 0M420.1 685.2a1.90 1.90 0 1 0 3.80 0a1.90 1.90 0 1 0 -3.80 0M447.4 671.3a1.90 1.90 0 1 0 3.80 0a1.90 1.90 0 1 0 -3.80 0M429.6 681.2a1.90 1.90 0 1 0 3.80 0a1.90 1.90 0 1 0 -3.80 0M417.9 683.4a1.90 1.90 0 1 0 3.80 0a1.90 1.90 0 1 0 -3.80 0M415.8 687.3a1.90 1.90 0 1 0 3.80 0a1.90 1.90 0 1 0 -3.80 0M438.7 675.1a1.90 1.90 0 1 0 3.80 0a1.90 1.90 0 1 0 -3.80 0M429.1 681.2a1.90 1.90 0 1 0 3.80 0a1.90 1.90 0 1 0 -3.80 0M469.7 663.2a1.90 1.90 0 1 0 3.80 0a1.90 1.90 0 1 0 -3.80 0M415.7 686.6a1.90 1.90 0 1 0 3.80 0a1.90 1.90 0 1 0 -3.80 0M436.0 681.4a1.90 1.90 0 1 0 3.80 0a1.90 1.90 0 1 0 -3.80 0M571.3 568.7a1.90 1.90 0 1 0 3.80 0a1.90 1.90 0 1 0 -3.80 0M428.7 683.3a1.90 1.90 0 1 0 3.80 0a1.90 1.90 0 1 0 -3.80 0M459.4 669.4a1.90 1.90 0 1 0 3.80 0a1.90 1.90 0 1 0 -3.80 0M425.3 684.9a1.90 1.90 0 1 0 3.80 0a1.90 1.90 0 1 0 -3.80 0M538.9 625.6a1.90 1.90 0 1 0 3.80 0a1.90 1.90 0 1 0 -3.80 0M468.8 658.9a1.90 1.90 0 1 0 3.80 0a1.90 1.90 0 1 0 -3.80 0M420.9 685.6a1.90 1.90 0 1 0 3.80 0a1.90 1.90 0 1 0 -3.80 0M433.5 677.5a1.90 1.90 0 1 0 3.80 0a1.90 1.90 0 1 0 -3.80 0M468.7 663.9a1.90 1.90 0 1 0 3.80 0a1.90 1.90 0 1 0 -3.80 0M420.5 683.8a1.90 1.90 0 1 0 3.80 0a1.90 1.90 0 1 0 -3.80 0M423.2 682.1a1.90 1.90 0 1 0 3.80 0a1.90 1.90 0 1 0 -3.80 0M449.0 673.2a1.90 1.90 0 1 0 3.80 0a1.90 1.90 0 1 0 -3.80 0M563.6 601.9a1.90 1.90 0 1 0 3.80 0a1.90 1.90 0 1 0 -3.80 0M413.5 685.3a1.90 1.90 0 1 0 3.80 0a1.90 1.90 0 1 0 -3.80 0M442.4 672.6a1.90 1.90 0 1 0 3.80 0a1.90 1.90 0 1 0 -3.80 0M452.7 671.1a1.90 1.90 0 1 0 3.80 0a1.90 1.90 0 1 0 -3.80 0M450.8 669.4a1.90 1.90 0 1 0 3.80 0a1.90 1.90 0 1 0 -3.80 0M430.1 681.9a1.90 1.90 0 1 0 3.80 0a1.90 1.90 0 1 0 -3.80 0M424.6 682.6a1.90 1.90 0 1 0 3.80 0a1.90 1.90 0 1 0 -3.80 0M409.5 687.4a1.90 1.90 0 1 0 3.80 0a1.90 1.90 0 1 0 -3.80 0M551.0 598.0a1.90 1.90 0 1 0 3.80 0a1.90 1.90 0 1 0 -3.80 0M508.2 626.7a1.90 1.90 0 1 0 3.80 0a1.90 1.90 0 1 0 -3.80 0M421.7 678.7a1.90 1.90 0 1 0 3.80 0a1.90 1.90 0 1 0 -3.80 0M437.8 674.8a1.90 1.90 0 1 0 3.80 0a1.90 1.90 0 1 0 -3.80 0M430.7 682.4a1.90 1.90 0 1 0 3.80 0a1.90 1.90 0 1 0 -3.80 0M427.0 683.4a1.90 1.90 0 1 0 3.80 0a1.90 1.90 0 1 0 -3.80 0M415.0 684.6a1.90 1.90 0 1 0 3.80 0a1.90 1.90 0 1 0 -3.80 0M432.2 676.7a1.90 1.90 0 1 0 3.80 0a1.90 1.90 0 1 0 -3.80 0M470.1 653.0a1.90 1.90 0 1 0 3.80 0a1.90 1.90 0 1 0 -3.80 0M433.1 676.4a1.90 1.90 0 1 0 3.80 0a1.90 1.90 0 1 0 -3.80 0M449.7 668.5a1.90 1.90 0 1 0 3.80 0a1.90 1.90 0 1 0 -3.80 0M526.0 620.6a1.90 1.90 0 1 0 3.80 0a1.90 1.90 0 1 0 -3.80 0M442.5 672.3a1.90 1.90 0 1 0 3.80 0a1.90 1.90 0 1 0 -3.80 0M520.9 635.8a1.90 1.90 0 1 0 3.80 0a1.90 1.90 0 1 0 -3.80 0M421.8 681.7a1.90 1.90 0 1 0 3.80 0a1.90 1.90 0 1 0 -3.80 0M467.7 661.9a1.90 1.90 0 1 0 3.80 0a1.90 1.90 0 1 0 -3.80 0M513.6 610.6a1.90 1.90 0 1 0 3.80 0a1.90 1.90 0 1 0 -3.80 0M472.3 651.2a1.90 1.90 0 1 0 3.80 0a1.90 1.90 0 1 0 -3.80 0M421.9 682.8a1.90 1.90 0 1 0 3.80 0a1.90 1.90 0 1 0 -3.80 0M428.7 680.7a1.90 1.90 0 1 0 3.80 0a1.90 1.90 0 1 0 -3.80 0M422.3 684.5a1.90 1.90 0 1 0 3.80 0a1.90 1.90 0 1 0 -3.80 0M451.4 669.8a1.90 1.90 0 1 0 3.80 0a1.90 1.90 0 1 0 -3.80 0M433.3 679.1a1.90 1.90 0 1 0 3.80 0a1.90 1.90 0 1 0 -3.80 0M420.2 685.2a1.90 1.90 0 1 0 3.80 0a1.90 1.90 0 1 0 -3.80 0M413.4 686.8a1.90 1.90 0 1 0 3.80 0a1.90 1.90 0 1 0 -3.80 0M422.3 684.4a1.90 1.90 0 1 0 3.80 0a1.90 1.90 0 1 0 -3.80 0M437.9 679.4a1.90 1.90 0 1 0 3.80 0a1.90 1.90 0 1 0 -3.80 0M469.5 661.6a1.90 1.90 0 1 0 3.80 0a1.90 1.90 0 1 0 -3.80 0M453.3 663.3a1.90 1.90 0 1 0 3.80 0a1.90 1.90 0 1 0 -3.80 0M466.1 666.9a1.90 1.90 0 1 0 3.80 0a1.90 1.90 0 1 0 -3.80 0M502.2 635.8a1.90 1.90 0 1 0 3.80 0a1.90 1.90 0 1 0 -3.80 0M454.8 669.8a1.90 1.90 0 1 0 3.80 0a1.90 1.90 0 1 0 -3.80 0M411.1 686.4a1.90 1.90 0 1 0 3.80 0a1.90 1.90 0 1 0 -3.80 0M431.6 680.2a1.90 1.90 0 1 0 3.80 0a1.90 1.90 0 1 0 -3.80 0M411.9 687.6a1.90 1.90 0 1 0 3.80 0a1.90 1.90 0 1 0 -3.80 0M443.3 673.7a1.90 1.90 0 1 0 3.80 0a1.90 1.90 0 1 0 -3.80 0M409.4 688.1a1.90 1.90 0 1 0 3.80 0a1.90 1.90 0 1 0 -3.80 0M436.7 682.3a1.90 1.90 0 1 0 3.80 0a1.90 1.90 0 1 0 -3.80 0M442.9 675.9a1.90 1.90 0 1 0 3.80 0a1.90 1.90 0 1 0 -3.80 0M462.2 664.4a1.90 1.90 0 1 0 3.80 0a1.90 1.90 0 1 0 -3.80 0M438.4 678.8a1.90 1.90 0 1 0 3.80 0a1.90 1.90 0 1 0 -3.80 0M426.3 680.4a1.90 1.90 0 1 0 3.80 0a1.90 1.90 0 1 0 -3.80 0M474.2 656.6a1.90 1.90 0 1 0 3.80 0a1.90 1.90 0 1 0 -3.80 0M425.8 680.5a1.90 1.90 0 1 0 3.80 0a1.90 1.90 0 1 0 -3.80 0M426.1 677.0a1.90 1.90 0 1 0 3.80 0a1.90 1.90 0 1 0 -3.80 0M444.9 673.8a1.90 1.90 0 1 0 3.80 0a1.90 1.90 0 1 0 -3.80 0M409.0 687.9a1.90 1.90 0 1 0 3.80 0a1.90 1.90 0 1 0 -3.80 0M474.9 656.4a1.90 1.90 0 1 0 3.80 0a1.90 1.90 0 1 0 -3.80 0M437.1 679.1a1.90 1.90 0 1 0 3.80 0a1.90 1.90 0 1 0 -3.80 0M466.1 656.9a1.90 1.90 0 1 0 3.80 0a1.90 1.90 0 1 0 -3.80 0M414.0 684.5a1.90 1.90 0 1 0 3.80 0a1.90 1.90 0 1 0 -3.80 0M517.7 613.9a1.90 1.90 0 1 0 3.80 0a1.90 1.90 0 1 0 -3.80 0M496.9 628.2a1.90 1.90 0 1 0 3.80 0a1.90 1.90 0 1 0 -3.80 0M483.0 652.8a1.90 1.90 0 1 0 3.80 0a1.90 1.90 0 1 0 -3.80 0M434.6 680.0a1.90 1.90 0 1 0 3.80 0a1.90 1.90 0 1 0 -3.80 0M473.2 653.6a1.90 1.90 0 1 0 3.80 0a1.90 1.90 0 1 0 -3.80 0M436.9 676.2a1.90 1.90 0 1 0 3.80 0a1.90 1.90 0 1 0 -3.80 0M500.4 635.0a1.90 1.90 0 1 0 3.80 0a1.90 1.90 0 1 0 -3.80 0M409.2 686.6a1.90 1.90 0 1 0 3.80 0a1.90 1.90 0 1 0 -3.80 0M440.2 677.2a1.90 1.90 0 1 0 3.80 0a1.90 1.90 0 1 0 -3.80 0M507.9 618.4a1.90 1.90 0 1 0 3.80 0a1.90 1.90 0 1 0 -3.80 0M475.7 656.2a1.90 1.90 0 1 0 3.80 0a1.90 1.90 0 1 0 -3.80 0M478.8 651.2a1.90 1.90 0 1 0 3.80 0a1.90 1.90 0 1 0 -3.80 0M473.5 654.1a1.90 1.90 0 1 0 3.80 0a1.90 1.90 0 1 0 -3.80 0M445.2 672.6a1.90 1.90 0 1 0 3.80 0a1.90 1.90 0 1 0 -3.80 0M417.3 682.9a1.90 1.90 0 1 0 3.80 0a1.90 1.90 0 1 0 -3.80 0M457.9 671.2a1.90 1.90 0 1 0 3.80 0a1.90 1.90 0 1 0 -3.80 0M427.0 682.7a1.90 1.90 0 1 0 3.80 0a1.90 1.90 0 1 0 -3.80 0M431.1 678.1a1.90 1.90 0 1 0 3.80 0a1.90 1.90 0 1 0 -3.80 0M435.4 679.3a1.90 1.90 0 1 0 3.80 0a1.90 1.90 0 1 0 -3.80 0M438.9 671.3a1.90 1.90 0 1 0 3.80 0a1.90 1.90 0 1 0 -3.80 0M416.7 684.7a1.90 1.90 0 1 0 3.80 0a1.90 1.90 0 1 0 -3.80 0M467.8 659.0a1.90 1.90 0 1 0 3.80 0a1.90 1.90 0 1 0 -3.80 0M446.2 672.5a1.90 1.90 0 1 0 3.80 0a1.90 1.90 0 1 0 -3.80 0M495.3 639.4a1.90 1.90 0 1 0 3.80 0a1.90 1.90 0 1 0 -3.80 0M567.8 575.3a1.90 1.90 0 1 0 3.80 0a1.90 1.90 0 1 0 -3.80 0M471.8 654.7a1.90 1.90 0 1 0 3.80 0a1.90 1.90 0 1 0 -3.80 0M443.2 674.9a1.90 1.90 0 1 0 3.80 0a1.90 1.90 0 1 0 -3.80 0M412.3 687.1a1.90 1.90 0 1 0 3.80 0a1.90 1.90 0 1 0 -3.80 0M438.0 679.1a1.90 1.90 0 1 0 3.80 0a1.90 1.90 0 1 0 -3.80 0M446.4 676.3a1.90 1.90 0 1 0 3.80 0a1.90 1.90 0 1 0 -3.80 0M450.0 667.2a1.90 1.90 0 1 0 3.80 0a1.90 1.90 0 1 0 -3.80 0M440.9 676.5a1.90 1.90 0 1 0 3.80 0a1.90 1.90 0 1 0 -3.80 0M425.0 683.0a1.90 1.90 0 1 0 3.80 0a1.90 1.90 0 1 0 -3.80 0M480.7 651.5a1.90 1.90 0 1 0 3.80 0a1.90 1.90 0 1 0 -3.80 0M444.9 671.1a1.90 1.90 0 1 0 3.80 0a1.90 1.90 0 1 0 -3.80 0M489.0 638.0a1.90 1.90 0 1 0 3.80 0a1.90 1.90 0 1 0 -3.80 0M421.1 685.3a1.90 1.90 0 1 0 3.80 0a1.90 1.90 0 1 0 -3.80 0M451.3 671.6a1.90 1.90 0 1 0 3.80 0a1.90 1.90 0 1 0 -3.80 0M498.9 632.7a1.90 1.90 0 1 0 3.80 0a1.90 1.90 0 1 0 -3.80 0M499.1 633.6a1.90 1.90 0 1 0 3.80 0a1.90 1.90 0 1 0 -3.80 0M414.8 686.6a1.90 1.90 0 1 0 3.80 0a1.90 1.90 0 1 0 -3.80 0M436.5 676.4a1.90 1.90 0 1 0 3.80 0a1.90 1.90 0 1 0 -3.80 0M428.9 682.3a1.90 1.90 0 1 0 3.80 0a1.90 1.90 0 1 0 -3.80 0M499.1 638.7a1.90 1.90 0 1 0 3.80 0a1.90 1.90 0 1 0 -3.80 0M455.5 676.5a1.90 1.90 0 1 0 3.80 0a1.90 1.90 0 1 0 -3.80 0M422.3 683.8a1.90 1.90 0 1 0 3.80 0a1.90 1.90 0 1 0 -3.80 0M438.6 679.0a1.90 1.90 0 1 0 3.80 0a1.90 1.90 0 1 0 -3.80 0M425.7 680.0a1.90 1.90 0 1 0 3.80 0a1.90 1.90 0 1 0 -3.80 0M440.7 670.5a1.90 1.90 0 1 0 3.80 0a1.90 1.90 0 1 0 -3.80 0M427.2 685.4a1.90 1.90 0 1 0 3.80 0a1.90 1.90 0 1 0 -3.80 0M447.5 674.6a1.90 1.90 0 1 0 3.80 0a1.90 1.90 0 1 0 -3.80 0M499.8 624.3a1.90 1.90 0 1 0 3.80 0a1.90 1.90 0 1 0 -3.80 0M475.5 650.6a1.90 1.90 0 1 0 3.80 0a1.90 1.90 0 1 0 -3.80 0M551.9 602.4a1.90 1.90 0 1 0 3.80 0a1.90 1.90 0 1 0 -3.80 0M467.8 664.1a1.90 1.90 0 1 0 3.80 0a1.90 1.90 0 1 0 -3.80 0M471.6 654.7a1.90 1.90 0 1 0 3.80 0a1.90 1.90 0 1 0 -3.80 0M457.6 665.3a1.90 1.90 0 1 0 3.80 0a1.90 1.90 0 1 0 -3.80 0M437.1 678.4a1.90 1.90 0 1 0 3.80 0a1.90 1.90 0 1 0 -3.80 0M415.7 686.2a1.90 1.90 0 1 0 3.80 0a1.90 1.90 0 1 0 -3.80 0M432.5 682.3a1.90 1.90 0 1 0 3.80 0a1.90 1.90 0 1 0 -3.80 0M454.0 668.0a1.90 1.90 0 1 0 3.80 0a1.90 1.90 0 1 0 -3.80 0M417.5 685.9a1.90 1.90 0 1 0 3.80 0a1.90 1.90 0 1 0 -3.80 0M438.8 674.9a1.90 1.90 0 1 0 3.80 0a1.90 1.90 0 1 0 -3.80 0M434.7 677.1a1.90 1.90 0 1 0 3.80 0a1.90 1.90 0 1 0 -3.80 0M435.1 677.1a1.90 1.90 0 1 0 3.80 0a1.90 1.90 0 1 0 -3.80 0M440.3 675.7a1.90 1.90 0 1 0 3.80 0a1.90 1.90 0 1 0 -3.80 0M463.2 665.4a1.90 1.90 0 1 0 3.80 0a1.90 1.90 0 1 0 -3.80 0M429.4 679.7a1.90 1.90 0 1 0 3.80 0a1.90 1.90 0 1 0 -3.80 0M434.5 679.7a1.90 1.90 0 1 0 3.80 0a1.90 1.90 0 1 0 -3.80 0M417.7 685.9a1.90 1.90 0 1 0 3.80 0a1.90 1.90 0 1 0 -3.80 0M427.9 680.6a1.90 1.90 0 1 0 3.80 0a1.90 1.90 0 1 0 -3.80 0M418.9 685.6a1.90 1.90 0 1 0 3.80 0a1.90 1.90 0 1 0 -3.80 0M454.8 667.1a1.90 1.90 0 1 0 3.80 0a1.90 1.90 0 1 0 -3.80 0M544.8 606.9a1.90 1.90 0 1 0 3.80 0a1.90 1.90 0 1 0 -3.80 0M422.0 684.3a1.90 1.90 0 1 0 3.80 0a1.90 1.90 0 1 0 -3.80 0M456.8 669.0a1.90 1.90 0 1 0 3.80 0a1.90 1.90 0 1 0 -3.80 0M441.4 674.0a1.90 1.90 0 1 0 3.80 0a1.90 1.90 0 1 0 -3.80 0M408.8 688.7a1.90 1.90 0 1 0 3.80 0a1.90 1.90 0 1 0 -3.80 0M407.6 687.8a1.90 1.90 0 1 0 3.80 0a1.90 1.90 0 1 0 -3.80 0M420.7 685.0a1.90 1.90 0 1 0 3.80 0a1.90 1.90 0 1 0 -3.80 0M432.8 679.6a1.90 1.90 0 1 0 3.80 0a1.90 1.90 0 1 0 -3.80 0M411.3 686.8a1.90 1.90 0 1 0 3.80 0a1.90 1.90 0 1 0 -3.80 0M415.3 685.7a1.90 1.90 0 1 0 3.80 0a1.90 1.90 0 1 0 -3.80 0M416.7 684.1a1.90 1.90 0 1 0 3.80 0a1.90 1.90 0 1 0 -3.80 0M415.4 684.1a1.90 1.90 0 1 0 3.80 0a1.90 1.90 0 1 0 -3.80 0M411.8 686.5a1.90 1.90 0 1 0 3.80 0a1.90 1.90 0 1 0 -3.80 0M430.0 679.0a1.90 1.90 0 1 0 3.80 0a1.90 1.90 0 1 0 -3.80 0M463.0 665.8a1.90 1.90 0 1 0 3.80 0a1.90 1.90 0 1 0 -3.80 0M446.7 671.7a1.90 1.90 0 1 0 3.80 0a1.90 1.90 0 1 0 -3.80 0M416.6 685.2a1.90 1.90 0 1 0 3.80 0a1.90 1.90 0 1 0 -3.80 0M432.0 677.1a1.90 1.90 0 1 0 3.80 0a1.90 1.90 0 1 0 -3.80 0M438.2 673.1a1.90 1.90 0 1 0 3.80 0a1.90 1.90 0 1 0 -3.80 0M408.2 688.5a1.90 1.90 0 1 0 3.80 0a1.90 1.90 0 1 0 -3.80 0M479.6 658.5a1.90 1.90 0 1 0 3.80 0a1.90 1.90 0 1 0 -3.80 0M419.5 682.4a1.90 1.90 0 1 0 3.80 0a1.90 1.90 0 1 0 -3.80 0M411.8 687.9a1.90 1.90 0 1 0 3.80 0a1.90 1.90 0 1 0 -3.80 0M414.7 685.4a1.90 1.90 0 1 0 3.80 0a1.90 1.90 0 1 0 -3.80 0M427.8 682.0a1.90 1.90 0 1 0 3.80 0a1.90 1.90 0 1 0 -3.80 0M419.0 686.6a1.90 1.90 0 1 0 3.80 0a1.90 1.90 0 1 0 -3.80 0M479.8 650.9a1.90 1.90 0 1 0 3.80 0a1.90 1.90 0 1 0 -3.80 0M428.6 683.2a1.90 1.90 0 1 0 3.80 0a1.90 1.90 0 1 0 -3.80 0M410.4 688.1a1.90 1.90 0 1 0 3.80 0a1.90 1.90 0 1 0 -3.80 0M407.6 688.8a1.90 1.90 0 1 0 3.80 0a1.90 1.90 0 1 0 -3.80 0M422.6 679.6a1.90 1.90 0 1 0 3.80 0a1.90 1.90 0 1 0 -3.80 0M553.1 600.8a1.90 1.90 0 1 0 3.80 0a1.90 1.90 0 1 0 -3.80 0M414.2 685.0a1.90 1.90 0 1 0 3.80 0a1.90 1.90 0 1 0 -3.80 0M496.8 627.8a1.90 1.90 0 1 0 3.80 0a1.90 1.90 0 1 0 -3.80 0M416.9 686.4a1.90 1.90 0 1 0 3.80 0a1.90 1.90 0 1 0 -3.80 0M431.3 679.8a1.90 1.90 0 1 0 3.80 0a1.90 1.90 0 1 0 -3.80 0M445.6 677.2a1.90 1.90 0 1 0 3.80 0a1.90 1.90 0 1 0 -3.80 0M432.9 677.5a1.90 1.90 0 1 0 3.80 0a1.90 1.90 0 1 0 -3.80 0M421.0 684.5a1.90 1.90 0 1 0 3.80 0a1.90 1.90 0 1 0 -3.80 0M447.7 676.8a1.90 1.90 0 1 0 3.80 0a1.90 1.90 0 1 0 -3.80 0M422.4 686.4a1.90 1.90 0 1 0 3.80 0a1.90 1.90 0 1 0 -3.80 0M453.0 667.6a1.90 1.90 0 1 0 3.80 0a1.90 1.90 0 1 0 -3.80 0M411.0 686.7a1.90 1.90 0 1 0 3.80 0a1.90 1.90 0 1 0 -3.80 0M413.8 687.4a1.90 1.90 0 1 0 3.80 0a1.90 1.90 0 1 0 -3.80 0M433.1 682.1a1.90 1.90 0 1 0 3.80 0a1.90 1.90 0 1 0 -3.80 0M433.0 679.5a1.90 1.90 0 1 0 3.80 0a1.90 1.90 0 1 0 -3.80 0M472.0 651.9a1.90 1.90 0 1 0 3.80 0a1.90 1.90 0 1 0 -3.80 0M426.9 679.0a1.90 1.90 0 1 0 3.80 0a1.90 1.90 0 1 0 -3.80 0M438.0 680.8a1.90 1.90 0 1 0 3.80 0a1.90 1.90 0 1 0 -3.80 0M433.9 677.3a1.90 1.90 0 1 0 3.80 0a1.90 1.90 0 1 0 -3.80 0M453.7 664.8a1.90 1.90 0 1 0 3.80 0a1.90 1.90 0 1 0 -3.80 0M453.3 668.4a1.90 1.90 0 1 0 3.80 0a1.90 1.90 0 1 0 -3.80 0M435.5 678.4a1.90 1.90 0 1 0 3.80 0a1.90 1.90 0 1 0 -3.80 0M472.8 660.1a1.90 1.90 0 1 0 3.80 0a1.90 1.90 0 1 0 -3.80 0M509.6 643.6a1.90 1.90 0 1 0 3.80 0a1.90 1.90 0 1 0 -3.80 0M420.3 684.8a1.90 1.90 0 1 0 3.80 0a1.90 1.90 0 1 0 -3.80 0M421.7 685.1a1.90 1.90 0 1 0 3.80 0a1.90 1.90 0 1 0 -3.80 0M420.9 683.2a1.90 1.90 0 1 0 3.80 0a1.90 1.90 0 1 0 -3.80 0M419.7 684.0a1.90 1.90 0 1 0 3.80 0a1.90 1.90 0 1 0 -3.80 0M420.6 680.2a1.90 1.90 0 1 0 3.80 0a1.90 1.90 0 1 0 -3.80 0M438.3 670.6a1.90 1.90 0 1 0 3.80 0a1.90 1.90 0 1 0 -3.80 0M466.9 658.8a1.90 1.90 0 1 0 3.80 0a1.90 1.90 0 1 0 -3.80 0M420.1 683.6a1.90 1.90 0 1 0 3.80 0a1.90 1.90 0 1 0 -3.80 0M451.7 676.1a1.90 1.90 0 1 0 3.80 0a1.90 1.90 0 1 0 -3.80 0M425.2 684.0a1.90 1.90 0 1 0 3.80 0a1.90 1.90 0 1 0 -3.80 0M444.6 676.6a1.90 1.90 0 1 0 3.80 0a1.90 1.90 0 1 0 -3.80 0M465.4 669.8a1.90 1.90 0 1 0 3.80 0a1.90 1.90 0 1 0 -3.80 0M415.4 685.1a1.90 1.90 0 1 0 3.80 0a1.90 1.90 0 1 0 -3.80 0M417.0 686.5a1.90 1.90 0 1 0 3.80 0a1.90 1.90 0 1 0 -3.80 0M443.0 675.8a1.90 1.90 0 1 0 3.80 0a1.90 1.90 0 1 0 -3.80 0M418.5 683.8a1.90 1.90 0 1 0 3.80 0a1.90 1.90 0 1 0 -3.80 0M434.4 677.4a1.90 1.90 0 1 0 3.80 0a1.90 1.90 0 1 0 -3.80 0M489.6 631.2a1.90 1.90 0 1 0 3.80 0a1.90 1.90 0 1 0 -3.80 0M419.0 685.7a1.90 1.90 0 1 0 3.80 0a1.90 1.90 0 1 0 -3.80 0M417.3 683.8a1.90 1.90 0 1 0 3.80 0a1.90 1.90 0 1 0 -3.80 0M441.2 675.1a1.90 1.90 0 1 0 3.80 0a1.90 1.90 0 1 0 -3.80 0M428.6 683.0a1.90 1.90 0 1 0 3.80 0a1.90 1.90 0 1 0 -3.80 0M459.9 672.8a1.90 1.90 0 1 0 3.80 0a1.90 1.90 0 1 0 -3.80 0M431.9 682.9a1.90 1.90 0 1 0 3.80 0a1.90 1.90 0 1 0 -3.80 0M414.2 684.6a1.90 1.90 0 1 0 3.80 0a1.90 1.90 0 1 0 -3.80 0M407.6 688.2a1.90 1.90 0 1 0 3.80 0a1.90 1.90 0 1 0 -3.80 0M447.7 668.1a1.90 1.90 0 1 0 3.80 0a1.90 1.90 0 1 0 -3.80 0M419.2 683.3a1.90 1.90 0 1 0 3.80 0a1.90 1.90 0 1 0 -3.80 0M439.5 675.5a1.90 1.90 0 1 0 3.80 0a1.90 1.90 0 1 0 -3.80 0M418.4 686.0a1.90 1.90 0 1 0 3.80 0a1.90 1.90 0 1 0 -3.80 0M448.0 671.0a1.90 1.90 0 1 0 3.80 0a1.90 1.90 0 1 0 -3.80 0M480.5 659.1a1.90 1.90 0 1 0 3.80 0a1.90 1.90 0 1 0 -3.80 0M482.1 642.9a1.90 1.90 0 1 0 3.80 0a1.90 1.90 0 1 0 -3.80 0M495.4 642.5a1.90 1.90 0 1 0 3.80 0a1.90 1.90 0 1 0 -3.80 0M435.0 676.2a1.90 1.90 0 1 0 3.80 0a1.90 1.90 0 1 0 -3.80 0M476.4 661.6a1.90 1.90 0 1 0 3.80 0a1.90 1.90 0 1 0 -3.80 0M447.3 679.7a1.90 1.90 0 1 0 3.80 0a1.90 1.90 0 1 0 -3.80 0M428.7 678.8a1.90 1.90 0 1 0 3.80 0a1.90 1.90 0 1 0 -3.80 0M423.7 681.9a1.90 1.90 0 1 0 3.80 0a1.90 1.90 0 1 0 -3.80 0M417.9 684.7a1.90 1.90 0 1 0 3.80 0a1.90 1.90 0 1 0 -3.80 0M480.0 657.7a1.90 1.90 0 1 0 3.80 0a1.90 1.90 0 1 0 -3.80 0M437.0 677.6a1.90 1.90 0 1 0 3.80 0a1.90 1.90 0 1 0 -3.80 0M418.9 682.6a1.90 1.90 0 1 0 3.80 0a1.90 1.90 0 1 0 -3.80 0M432.0 681.7a1.90 1.90 0 1 0 3.80 0a1.90 1.90 0 1 0 -3.80 0M542.6 600.8a1.90 1.90 0 1 0 3.80 0a1.90 1.90 0 1 0 -3.80 0M410.8 687.8a1.90 1.90 0 1 0 3.80 0a1.90 1.90 0 1 0 -3.80 0M411.1 687.6a1.90 1.90 0 1 0 3.80 0a1.90 1.90 0 1 0 -3.80 0M507.0 625.8a1.90 1.90 0 1 0 3.80 0a1.90 1.90 0 1 0 -3.80 0M410.6 686.8a1.90 1.90 0 1 0 3.80 0a1.90 1.90 0 1 0 -3.80 0M503.9 631.4a1.90 1.90 0 1 0 3.80 0a1.90 1.90 0 1 0 -3.80 0M421.7 682.2a1.90 1.90 0 1 0 3.80 0a1.90 1.90 0 1 0 -3.80 0M450.3 668.7a1.90 1.90 0 1 0 3.80 0a1.90 1.90 0 1 0 -3.80 0M498.5 642.2a1.90 1.90 0 1 0 3.80 0a1.90 1.90 0 1 0 -3.80 0M498.7 642.4a1.90 1.90 0 1 0 3.80 0a1.90 1.90 0 1 0 -3.80 0M467.6 661.5a1.90 1.90 0 1 0 3.80 0a1.90 1.90 0 1 0 -3.80 0M435.4 674.7a1.90 1.90 0 1 0 3.80 0a1.90 1.90 0 1 0 -3.80 0M428.3 680.0a1.90 1.90 0 1 0 3.80 0a1.90 1.90 0 1 0 -3.80 0M428.9 680.6a1.90 1.90 0 1 0 3.80 0a1.90 1.90 0 1 0 -3.80 0M517.3 616.4a1.90 1.90 0 1 0 3.80 0a1.90 1.90 0 1 0 -3.80 0M447.7 678.6a1.90 1.90 0 1 0 3.80 0a1.90 1.90 0 1 0 -3.80 0M490.6 643.0a1.90 1.90 0 1 0 3.80 0a1.90 1.90 0 1 0 -3.80 0M426.5 681.2a1.90 1.90 0 1 0 3.80 0a1.90 1.90 0 1 0 -3.80 0M446.9 675.0a1.90 1.90 0 1 0 3.80 0a1.90 1.90 0 1 0 -3.80 0M425.8 677.0a1.90 1.90 0 1 0 3.80 0a1.90 1.90 0 1 0 -3.80 0M568.3 603.3a1.90 1.90 0 1 0 3.80 0a1.90 1.90 0 1 0 -3.80 0M413.2 687.2a1.90 1.90 0 1 0 3.80 0a1.90 1.90 0 1 0 -3.80 0M456.3 668.4a1.90 1.90 0 1 0 3.80 0a1.90 1.90 0 1 0 -3.80 0M474.5 654.3a1.90 1.90 0 1 0 3.80 0a1.90 1.90 0 1 0 -3.80 0M417.3 686.6a1.90 1.90 0 1 0 3.80 0a1.90 1.90 0 1 0 -3.80 0M473.4 659.6a1.90 1.90 0 1 0 3.80 0a1.90 1.90 0 1 0 -3.80 0M452.2 669.0a1.90 1.90 0 1 0 3.80 0a1.90 1.90 0 1 0 -3.80 0M512.8 621.9a1.90 1.90 0 1 0 3.80 0a1.90 1.90 0 1 0 -3.80 0M435.5 672.2a1.90 1.90 0 1 0 3.80 0a1.90 1.90 0 1 0 -3.80 0M480.4 649.8a1.90 1.90 0 1 0 3.80 0a1.90 1.90 0 1 0 -3.80 0M452.1 674.5a1.90 1.90 0 1 0 3.80 0a1.90 1.90 0 1 0 -3.80 0M424.6 682.6a1.90 1.90 0 1 0 3.80 0a1.90 1.90 0 1 0 -3.80 0M463.6 661.5a1.90 1.90 0 1 0 3.80 0a1.90 1.90 0 1 0 -3.80 0M456.0 664.3a1.90 1.90 0 1 0 3.80 0a1.90 1.90 0 1 0 -3.80 0M523.0 610.4a1.90 1.90 0 1 0 3.80 0a1.90 1.90 0 1 0 -3.80 0M410.9 688.2a1.90 1.90 0 1 0 3.80 0a1.90 1.90 0 1 0 -3.80 0M411.2 687.2a1.90 1.90 0 1 0 3.80 0a1.90 1.90 0 1 0 -3.80 0M418.6 684.5a1.90 1.90 0 1 0 3.80 0a1.90 1.90 0 1 0 -3.80 0M463.8 660.3a1.90 1.90 0 1 0 3.80 0a1.90 1.90 0 1 0 -3.80 0M486.9 648.5a1.90 1.90 0 1 0 3.80 0a1.90 1.90 0 1 0 -3.80 0M433.3 679.6a1.90 1.90 0 1 0 3.80 0a1.90 1.90 0 1 0 -3.80 0M446.0 673.4a1.90 1.90 0 1 0 3.80 0a1.90 1.90 0 1 0 -3.80 0M438.6 674.3a1.90 1.90 0 1 0 3.80 0a1.90 1.90 0 1 0 -3.80 0M409.4 687.0a1.90 1.90 0 1 0 3.80 0a1.90 1.90 0 1 0 -3.80 0M417.6 685.7a1.90 1.90 0 1 0 3.80 0a1.90 1.90 0 1 0 -3.80 0M477.2 659.2a1.90 1.90 0 1 0 3.80 0a1.90 1.90 0 1 0 -3.80 0M473.5 647.7a1.90 1.90 0 1 0 3.80 0a1.90 1.90 0 1 0 -3.80 0M493.5 635.8a1.90 1.90 0 1 0 3.80 0a1.90 1.90 0 1 0 -3.80 0M465.6 663.4a1.90 1.90 0 1 0 3.80 0a1.90 1.90 0 1 0 -3.80 0M447.7 671.5a1.90 1.90 0 1 0 3.80 0a1.90 1.90 0 1 0 -3.80 0M450.4 667.3a1.90 1.90 0 1 0 3.80 0a1.90 1.90 0 1 0 -3.80 0M411.5 688.0a1.90 1.90 0 1 0 3.80 0a1.90 1.90 0 1 0 -3.80 0M547.5 599.3a1.90 1.90 0 1 0 3.80 0a1.90 1.90 0 1 0 -3.80 0M432.8 682.6a1.90 1.90 0 1 0 3.80 0a1.90 1.90 0 1 0 -3.80 0M479.7 653.3a1.90 1.90 0 1 0 3.80 0a1.90 1.90 0 1 0 -3.80 0M470.5 662.5a1.90 1.90 0 1 0 3.80 0a1.90 1.90 0 1 0 -3.80 0M461.7 670.3a1.90 1.90 0 1 0 3.80 0a1.90 1.90 0 1 0 -3.80 0M509.3 613.2a1.90 1.90 0 1 0 3.80 0a1.90 1.90 0 1 0 -3.80 0M433.0 682.6a1.90 1.90 0 1 0 3.80 0a1.90 1.90 0 1 0 -3.80 0M479.7 650.5a1.90 1.90 0 1 0 3.80 0a1.90 1.90 0 1 0 -3.80 0M454.6 670.5a1.90 1.90 0 1 0 3.80 0a1.90 1.90 0 1 0 -3.80 0M412.6 685.3a1.90 1.90 0 1 0 3.80 0a1.90 1.90 0 1 0 -3.80 0M421.0 686.2a1.90 1.90 0 1 0 3.80 0a1.90 1.90 0 1 0 -3.80 0M412.9 686.5a1.90 1.90 0 1 0 3.80 0a1.90 1.90 0 1 0 -3.80 0M409.8 688.3a1.90 1.90 0 1 0 3.80 0a1.90 1.90 0 1 0 -3.80 0M455.5 666.3a1.90 1.90 0 1 0 3.80 0a1.90 1.90 0 1 0 -3.80 0M481.4 653.5a1.90 1.90 0 1 0 3.80 0a1.90 1.90 0 1 0 -3.80 0M429.8 678.3a1.90 1.90 0 1 0 3.80 0a1.90 1.90 0 1 0 -3.80 0M429.5 680.2a1.90 1.90 0 1 0 3.80 0a1.90 1.90 0 1 0 -3.80 0M412.4 687.1a1.90 1.90 0 1 0 3.80 0a1.90 1.90 0 1 0 -3.80 0M451.1 670.4a1.90 1.90 0 1 0 3.80 0a1.90 1.90 0 1 0 -3.80 0M416.4 685.8a1.90 1.90 0 1 0 3.80 0a1.90 1.90 0 1 0 -3.80 0M463.4 662.0a1.90 1.90 0 1 0 3.80 0a1.90 1.90 0 1 0 -3.80 0M465.6 669.9a1.90 1.90 0 1 0 3.80 0a1.90 1.90 0 1 0 -3.80 0M409.0 688.1a1.90 1.90 0 1 0 3.80 0a1.90 1.90 0 1 0 -3.80 0M455.9 671.7a1.90 1.90 0 1 0 3.80 0a1.90 1.90 0 1 0 -3.80 0M472.4 654.3a1.90 1.90 0 1 0 3.80 0a1.90 1.90 0 1 0 -3.80 0M414.5 687.6a1.90 1.90 0 1 0 3.80 0a1.90 1.90 0 1 0 -3.80 0M502.0 636.0a1.90 1.90 0 1 0 3.80 0a1.90 1.90 0 1 0 -3.80 0M445.0 677.9a1.90 1.90 0 1 0 3.80 0a1.90 1.90 0 1 0 -3.80 0M465.9 664.4a1.90 1.90 0 1 0 3.80 0a1.90 1.90 0 1 0 -3.80 0M470.1 659.2a1.90 1.90 0 1 0 3.80 0a1.90 1.90 0 1 0 -3.80 0M417.5 682.6a1.90 1.90 0 1 0 3.80 0a1.90 1.90 0 1 0 -3.80 0M528.9 614.2a1.90 1.90 0 1 0 3.80 0a1.90 1.90 0 1 0 -3.80 0M438.9 676.1a1.90 1.90 0 1 0 3.80 0a1.90 1.90 0 1 0 -3.80 0M434.0 679.4a1.90 1.90 0 1 0 3.80 0a1.90 1.90 0 1 0 -3.80 0M409.4 687.3a1.90 1.90 0 1 0 3.80 0a1.90 1.90 0 1 0 -3.80 0M416.3 685.1a1.90 1.90 0 1 0 3.80 0a1.90 1.90 0 1 0 -3.80 0M436.1 679.4a1.90 1.90 0 1 0 3.80 0a1.90 1.90 0 1 0 -3.80 0M506.5 643.9a1.90 1.90 0 1 0 3.80 0a1.90 1.90 0 1 0 -3.80 0M500.3 627.5a1.90 1.90 0 1 0 3.80 0a1.90 1.90 0 1 0 -3.80 0M429.5 681.3a1.90 1.90 0 1 0 3.80 0a1.90 1.90 0 1 0 -3.80 0M413.1 687.2a1.90 1.90 0 1 0 3.80 0a1.90 1.90 0 1 0 -3.80 0M412.3 686.8a1.90 1.90 0 1 0 3.80 0a1.90 1.90 0 1 0 -3.80 0M532.4 600.4a1.90 1.90 0 1 0 3.80 0a1.90 1.90 0 1 0 -3.80 0M447.9 678.6a1.90 1.90 0 1 0 3.80 0a1.90 1.90 0 1 0 -3.80 0M414.2 686.5a1.90 1.90 0 1 0 3.80 0a1.90 1.90 0 1 0 -3.80 0M518.1 621.0a1.90 1.90 0 1 0 3.80 0a1.90 1.90 0 1 0 -3.80 0M458.9 659.6a1.90 1.90 0 1 0 3.80 0a1.90 1.90 0 1 0 -3.80 0M469.9 665.7a1.90 1.90 0 1 0 3.80 0a1.90 1.90 0 1 0 -3.80 0M475.1 651.5a1.90 1.90 0 1 0 3.80 0a1.90 1.90 0 1 0 -3.80 0M450.1 673.6a1.90 1.90 0 1 0 3.80 0a1.90 1.90 0 1 0 -3.80 0M423.7 679.1a1.90 1.90 0 1 0 3.80 0a1.90 1.90 0 1 0 -3.80 0M409.3 688.1a1.90 1.90 0 1 0 3.80 0a1.90 1.90 0 1 0 -3.80 0M411.4 687.7a1.90 1.90 0 1 0 3.80 0a1.90 1.90 0 1 0 -3.80 0M416.8 684.9a1.90 1.90 0 1 0 3.80 0a1.90 1.90 0 1 0 -3.80 0M457.6 662.7a1.90 1.90 0 1 0 3.80 0a1.90 1.90 0 1 0 -3.80 0M419.2 685.4a1.90 1.90 0 1 0 3.80 0a1.90 1.90 0 1 0 -3.80 0M472.1 659.3a1.90 1.90 0 1 0 3.80 0a1.90 1.90 0 1 0 -3.80 0M477.9 655.6a1.90 1.90 0 1 0 3.80 0a1.90 1.90 0 1 0 -3.80 0M518.9 611.8a1.90 1.90 0 1 0 3.80 0a1.90 1.90 0 1 0 -3.80 0M521.6 605.2a1.90 1.90 0 1 0 3.80 0a1.90 1.90 0 1 0 -3.80 0M527.9 629.5a1.90 1.90 0 1 0 3.80 0a1.90 1.90 0 1 0 -3.80 0M445.7 672.8a1.90 1.90 0 1 0 3.80 0a1.90 1.90 0 1 0 -3.80 0M443.2 678.6a1.90 1.90 0 1 0 3.80 0a1.90 1.90 0 1 0 -3.80 0M421.6 685.9a1.90 1.90 0 1 0 3.80 0a1.90 1.90 0 1 0 -3.80 0M447.8 675.8a1.90 1.90 0 1 0 3.80 0a1.90 1.90 0 1 0 -3.80 0M442.4 672.7a1.90 1.90 0 1 0 3.80 0a1.90 1.90 0 1 0 -3.80 0M420.9 683.3a1.90 1.90 0 1 0 3.80 0a1.90 1.90 0 1 0 -3.80 0M408.4 688.1a1.90 1.90 0 1 0 3.80 0a1.90 1.90 0 1 0 -3.80 0M508.7 629.7a1.90 1.90 0 1 0 3.80 0a1.90 1.90 0 1 0 -3.80 0M461.2 663.5a1.90 1.90 0 1 0 3.80 0a1.90 1.90 0 1 0 -3.80 0M415.6 685.2a1.90 1.90 0 1 0 3.80 0a1.90 1.90 0 1 0 -3.80 0M425.2 682.4a1.90 1.90 0 1 0 3.80 0a1.90 1.90 0 1 0 -3.80 0M472.5 658.2a1.90 1.90 0 1 0 3.80 0a1.90 1.90 0 1 0 -3.80 0M423.8 682.5a1.90 1.90 0 1 0 3.80 0a1.90 1.90 0 1 0 -3.80 0M450.2 669.2a1.90 1.90 0 1 0 3.80 0a1.90 1.90 0 1 0 -3.80 0M488.5 635.7a1.90 1.90 0 1 0 3.80 0a1.90 1.90 0 1 0 -3.80 0M477.4 660.4a1.90 1.90 0 1 0 3.80 0a1.90 1.90 0 1 0 -3.80 0M434.2 682.5a1.90 1.90 0 1 0 3.80 0a1.90 1.90 0 1 0 -3.80 0M417.6 686.9a1.90 1.90 0 1 0 3.80 0a1.90 1.90 0 1 0 -3.80 0M428.0 683.5a1.90 1.90 0 1 0 3.80 0a1.90 1.90 0 1 0 -3.80 0M471.9 658.1a1.90 1.90 0 1 0 3.80 0a1.90 1.90 0 1 0 -3.80 0M433.4 679.3a1.90 1.90 0 1 0 3.80 0a1.90 1.90 0 1 0 -3.80 0M533.4 604.8a1.90 1.90 0 1 0 3.80 0a1.90 1.90 0 1 0 -3.80 0M545.9 588.8a1.90 1.90 0 1 0 3.80 0a1.90 1.90 0 1 0 -3.80 0M520.8 604.6a1.90 1.90 0 1 0 3.80 0a1.90 1.90 0 1 0 -3.80 0M470.5 664.1a1.90 1.90 0 1 0 3.80 0a1.90 1.90 0 1 0 -3.80 0M413.3 686.3a1.90 1.90 0 1 0 3.80 0a1.90 1.90 0 1 0 -3.80 0M537.9 598.5a1.90 1.90 0 1 0 3.80 0a1.90 1.90 0 1 0 -3.80 0M473.1 660.2a1.90 1.90 0 1 0 3.80 0a1.90 1.90 0 1 0 -3.80 0M421.8 686.2a1.90 1.90 0 1 0 3.80 0a1.90 1.90 0 1 0 -3.80 0M417.9 684.9a1.90 1.90 0 1 0 3.80 0a1.90 1.90 0 1 0 -3.80 0M422.6 679.8a1.90 1.90 0 1 0 3.80 0a1.90 1.90 0 1 0 -3.80 0M445.0 673.9a1.90 1.90 0 1 0 3.80 0a1.90 1.90 0 1 0 -3.80 0M411.1 688.3a1.90 1.90 0 1 0 3.80 0a1.90 1.90 0 1 0 -3.80 0M498.6 622.6a1.90 1.90 0 1 0 3.80 0a1.90 1.90 0 1 0 -3.80 0M428.7 678.8a1.90 1.90 0 1 0 3.80 0a1.90 1.90 0 1 0 -3.80 0M462.6 665.5a1.90 1.90 0 1 0 3.80 0a1.90 1.90 0 1 0 -3.80 0M409.3 688.4a1.90 1.90 0 1 0 3.80 0a1.90 1.90 0 1 0 -3.80 0M487.9 631.8a1.90 1.90 0 1 0 3.80 0a1.90 1.90 0 1 0 -3.80 0M435.9 681.1a1.90 1.90 0 1 0 3.80 0a1.90 1.90 0 1 0 -3.80 0M413.4 687.1a1.90 1.90 0 1 0 3.80 0a1.90 1.90 0 1 0 -3.80 0M521.8 614.8a1.90 1.90 0 1 0 3.80 0a1.90 1.90 0 1 0 -3.80 0M427.2 681.0a1.90 1.90 0 1 0 3.80 0a1.90 1.90 0 1 0 -3.80 0M426.5 682.5a1.90 1.90 0 1 0 3.80 0a1.90 1.90 0 1 0 -3.80 0M417.2 685.6a1.90 1.90 0 1 0 3.80 0a1.90 1.90 0 1 0 -3.80 0M412.7 686.2a1.90 1.90 0 1 0 3.80 0a1.90 1.90 0 1 0 -3.80 0M436.1 676.5a1.90 1.90 0 1 0 3.80 0a1.90 1.90 0 1 0 -3.80 0M439.4 672.2a1.90 1.90 0 1 0 3.80 0a1.90 1.90 0 1 0 -3.80 0M426.5 680.3a1.90 1.90 0 1 0 3.80 0a1.90 1.90 0 1 0 -3.80 0M414.2 687.4a1.90 1.90 0 1 0 3.80 0a1.90 1.90 0 1 0 -3.80 0M520.2 613.5a1.90 1.90 0 1 0 3.80 0a1.90 1.90 0 1 0 -3.80 0M528.4 609.1a1.90 1.90 0 1 0 3.80 0a1.90 1.90 0 1 0 -3.80 0M417.6 686.0a1.90 1.90 0 1 0 3.80 0a1.90 1.90 0 1 0 -3.80 0M504.1 625.0a1.90 1.90 0 1 0 3.80 0a1.90 1.90 0 1 0 -3.80 0M439.7 673.5a1.90 1.90 0 1 0 3.80 0a1.90 1.90 0 1 0 -3.80 0M435.9 679.9a1.90 1.90 0 1 0 3.80 0a1.90 1.90 0 1 0 -3.80 0M564.2 566.4a1.90 1.90 0 1 0 3.80 0a1.90 1.90 0 1 0 -3.80 0M554.0 591.7a1.90 1.90 0 1 0 3.80 0a1.90 1.90 0 1 0 -3.80 0M425.7 681.6a1.90 1.90 0 1 0 3.80 0a1.90 1.90 0 1 0 -3.80 0M467.5 668.6a1.90 1.90 0 1 0 3.80 0a1.90 1.90 0 1 0 -3.80 0M421.5 683.3a1.90 1.90 0 1 0 3.80 0a1.90 1.90 0 1 0 -3.80 0M409.3 688.3a1.90 1.90 0 1 0 3.80 0a1.90 1.90 0 1 0 -3.80 0M476.2 662.9a1.90 1.90 0 1 0 3.80 0a1.90 1.90 0 1 0 -3.80 0M454.5 668.5a1.90 1.90 0 1 0 3.80 0a1.90 1.90 0 1 0 -3.80 0M468.0 654.7a1.90 1.90 0 1 0 3.80 0a1.90 1.90 0 1 0 -3.80 0M428.8 681.6a1.90 1.90 0 1 0 3.80 0a1.90 1.90 0 1 0 -3.80 0M456.0 672.8a1.90 1.90 0 1 0 3.80 0a1.90 1.90 0 1 0 -3.80 0M442.3 670.6a1.90 1.90 0 1 0 3.80 0a1.90 1.90 0 1 0 -3.80 0M408.0 688.6a1.90 1.90 0 1 0 3.80 0a1.90 1.90 0 1 0 -3.80 0M430.8 680.1a1.90 1.90 0 1 0 3.80 0a1.90 1.90 0 1 0 -3.80 0M409.5 687.5a1.90 1.90 0 1 0 3.80 0a1.90 1.90 0 1 0 -3.80 0M438.3 680.1a1.90 1.90 0 1 0 3.80 0a1.90 1.90 0 1 0 -3.80 0M414.0 686.7a1.90 1.90 0 1 0 3.80 0a1.90 1.90 0 1 0 -3.80 0M413.1 687.5a1.90 1.90 0 1 0 3.80 0a1.90 1.90 0 1 0 -3.80 0M509.7 628.5a1.90 1.90 0 1 0 3.80 0a1.90 1.90 0 1 0 -3.80 0M424.9 681.1a1.90 1.90 0 1 0 3.80 0a1.90 1.90 0 1 0 -3.80 0M428.0 682.3a1.90 1.90 0 1 0 3.80 0a1.90 1.90 0 1 0 -3.80 0M448.0 672.4a1.90 1.90 0 1 0 3.80 0a1.90 1.90 0 1 0 -3.80 0M415.7 685.3a1.90 1.90 0 1 0 3.80 0a1.90 1.90 0 1 0 -3.80 0M418.1 686.0a1.90 1.90 0 1 0 3.80 0a1.90 1.90 0 1 0 -3.80 0M451.3 667.8a1.90 1.90 0 1 0 3.80 0a1.90 1.90 0 1 0 -3.80 0M444.1 673.6a1.90 1.90 0 1 0 3.80 0a1.90 1.90 0 1 0 -3.80 0M420.3 685.9a1.90 1.90 0 1 0 3.80 0a1.90 1.90 0 1 0 -3.80 0M536.2 606.0a1.90 1.90 0 1 0 3.80 0a1.90 1.90 0 1 0 -3.80 0M422.2 685.9a1.90 1.90 0 1 0 3.80 0a1.90 1.90 0 1 0 -3.80 0M417.5 684.8a1.90 1.90 0 1 0 3.80 0a1.90 1.90 0 1 0 -3.80 0M450.0 670.7a1.90 1.90 0 1 0 3.80 0a1.90 1.90 0 1 0 -3.80 0M418.7 685.5a1.90 1.90 0 1 0 3.80 0a1.90 1.90 0 1 0 -3.80 0M495.5 646.6a1.90 1.90 0 1 0 3.80 0a1.90 1.90 0 1 0 -3.80 0M446.6 671.9a1.90 1.90 0 1 0 3.80 0a1.90 1.90 0 1 0 -3.80 0M418.7 684.4a1.90 1.90 0 1 0 3.80 0a1.90 1.90 0 1 0 -3.80 0M424.8 681.8a1.90 1.90 0 1 0 3.80 0a1.90 1.90 0 1 0 -3.80 0M434.4 682.8a1.90 1.90 0 1 0 3.80 0a1.90 1.90 0 1 0 -3.80 0M446.5 674.6a1.90 1.90 0 1 0 3.80 0a1.90 1.90 0 1 0 -3.80 0M447.4 674.8a1.90 1.90 0 1 0 3.80 0a1.90 1.90 0 1 0 -3.80 0M450.0 668.3a1.90 1.90 0 1 0 3.80 0a1.90 1.90 0 1 0 -3.80 0M411.2 686.8a1.90 1.90 0 1 0 3.80 0a1.90 1.90 0 1 0 -3.80 0M437.4 676.3a1.90 1.90 0 1 0 3.80 0a1.90 1.90 0 1 0 -3.80 0M407.7 688.5a1.90 1.90 0 1 0 3.80 0a1.90 1.90 0 1 0 -3.80 0M428.2 681.6a1.90 1.90 0 1 0 3.80 0a1.90 1.90 0 1 0 -3.80 0M431.7 673.8a1.90 1.90 0 1 0 3.80 0a1.90 1.90 0 1 0 -3.80 0M455.5 670.0a1.90 1.90 0 1 0 3.80 0a1.90 1.90 0 1 0 -3.80 0M417.2 685.7a1.90 1.90 0 1 0 3.80 0a1.90 1.90 0 1 0 -3.80 0M444.8 677.0a1.90 1.90 0 1 0 3.80 0a1.90 1.90 0 1 0 -3.80 0M423.8 682.0a1.90 1.90 0 1 0 3.80 0a1.90 1.90 0 1 0 -3.80 0M437.7 677.1a1.90 1.90 0 1 0 3.80 0a1.90 1.90 0 1 0 -3.80 0M415.4 684.2a1.90 1.90 0 1 0 3.80 0a1.90 1.90 0 1 0 -3.80 0M477.5 652.8a1.90 1.90 0 1 0 3.80 0a1.90 1.90 0 1 0 -3.80 0M474.1 663.2a1.90 1.90 0 1 0 3.80 0a1.90 1.90 0 1 0 -3.80 0M409.2 687.0a1.90 1.90 0 1 0 3.80 0a1.90 1.90 0 1 0 -3.80 0M427.6 681.9a1.90 1.90 0 1 0 3.80 0a1.90 1.90 0 1 0 -3.80 0M425.1 681.6a1.90 1.90 0 1 0 3.80 0a1.90 1.90 0 1 0 -3.80 0M411.4 687.2a1.90 1.90 0 1 0 3.80 0a1.90 1.90 0 1 0 -3.80 0M427.6 681.9a1.90 1.90 0 1 0 3.80 0a1.90 1.90 0 1 0 -3.80 0M411.8 686.5a1.90 1.90 0 1 0 3.80 0a1.90 1.90 0 1 0 -3.80 0M439.2 676.5a1.90 1.90 0 1 0 3.80 0a1.90 1.90 0 1 0 -3.80 0M462.8 668.5a1.90 1.90 0 1 0 3.80 0a1.90 1.90 0 1 0 -3.80 0M419.5 685.5a1.90 1.90 0 1 0 3.80 0a1.90 1.90 0 1 0 -3.80 0M457.4 667.1a1.90 1.90 0 1 0 3.80 0a1.90 1.90 0 1 0 -3.80 0M502.3 625.6a1.90 1.90 0 1 0 3.80 0a1.90 1.90 0 1 0 -3.80 0M419.7 684.5a1.90 1.90 0 1 0 3.80 0a1.90 1.90 0 1 0 -3.80 0M488.7 645.3a1.90 1.90 0 1 0 3.80 0a1.90 1.90 0 1 0 -3.80 0M490.0 641.4a1.90 1.90 0 1 0 3.80 0a1.90 1.90 0 1 0 -3.80 0M501.7 632.1a1.90 1.90 0 1 0 3.80 0a1.90 1.90 0 1 0 -3.80 0M436.4 681.8a1.90 1.90 0 1 0 3.80 0a1.90 1.90 0 1 0 -3.80 0M445.6 676.0a1.90 1.90 0 1 0 3.80 0a1.90 1.90 0 1 0 -3.80 0M417.4 683.2a1.90 1.90 0 1 0 3.80 0a1.90 1.90 0 1 0 -3.80 0M473.8 655.6a1.90 1.90 0 1 0 3.80 0a1.90 1.90 0 1 0 -3.80 0M467.0 667.1a1.90 1.90 0 1 0 3.80 0a1.90 1.90 0 1 0 -3.80 0M450.0 678.0a1.90 1.90 0 1 0 3.80 0a1.90 1.90 0 1 0 -3.80 0M436.3 678.1a1.90 1.90 0 1 0 3.80 0a1.90 1.90 0 1 0 -3.80 0M420.1 684.5a1.90 1.90 0 1 0 3.80 0a1.90 1.90 0 1 0 -3.80 0M407.4 688.8a1.90 1.90 0 1 0 3.80 0a1.90 1.90 0 1 0 -3.80 0M422.0 684.4a1.90 1.90 0 1 0 3.80 0a1.90 1.90 0 1 0 -3.80 0M432.3 678.5a1.90 1.90 0 1 0 3.80 0a1.90 1.90 0 1 0 -3.80 0M417.3 684.3a1.90 1.90 0 1 0 3.80 0a1.90 1.90 0 1 0 -3.80 0M421.1 683.4a1.90 1.90 0 1 0 3.80 0a1.90 1.90 0 1 0 -3.80 0M415.9 686.6a1.90 1.90 0 1 0 3.80 0a1.90 1.90 0 1 0 -3.80 0M540.3 598.8a1.90 1.90 0 1 0 3.80 0a1.90 1.90 0 1 0 -3.80 0M409.3 687.9a1.90 1.90 0 1 0 3.80 0a1.90 1.90 0 1 0 -3.80 0M493.6 643.6a1.90 1.90 0 1 0 3.80 0a1.90 1.90 0 1 0 -3.80 0M496.7 633.8a1.90 1.90 0 1 0 3.80 0a1.90 1.90 0 1 0 -3.80 0M434.3 682.5a1.90 1.90 0 1 0 3.80 0a1.90 1.90 0 1 0 -3.80 0M411.4 686.7a1.90 1.90 0 1 0 3.80 0a1.90 1.90 0 1 0 -3.80 0M421.8 681.2a1.90 1.90 0 1 0 3.80 0a1.90 1.90 0 1 0 -3.80 0M442.2 672.4a1.90 1.90 0 1 0 3.80 0a1.90 1.90 0 1 0 -3.80 0M474.9 657.4a1.90 1.90 0 1 0 3.80 0a1.90 1.90 0 1 0 -3.80 0M459.1 659.2a1.90 1.90 0 1 0 3.80 0a1.90 1.90 0 1 0 -3.80 0M453.9 662.0a1.90 1.90 0 1 0 3.80 0a1.90 1.90 0 1 0 -3.80 0M425.6 683.7a1.90 1.90 0 1 0 3.80 0a1.90 1.90 0 1 0 -3.80 0M487.7 644.3a1.90 1.90 0 1 0 3.80 0a1.90 1.90 0 1 0 -3.80 0M414.8 685.6a1.90 1.90 0 1 0 3.80 0a1.90 1.90 0 1 0 -3.80 0M420.2 683.6a1.90 1.90 0 1 0 3.80 0a1.90 1.90 0 1 0 -3.80 0M443.5 673.3a1.90 1.90 0 1 0 3.80 0a1.90 1.90 0 1 0 -3.80 0M470.1 663.8a1.90 1.90 0 1 0 3.80 0a1.90 1.90 0 1 0 -3.80 0M455.5 670.5a1.90 1.90 0 1 0 3.80 0a1.90 1.90 0 1 0 -3.80 0M457.7 666.0a1.90 1.90 0 1 0 3.80 0a1.90 1.90 0 1 0 -3.80 0M424.4 678.6a1.90 1.90 0 1 0 3.80 0a1.90 1.90 0 1 0 -3.80 0M482.5 644.7a1.90 1.90 0 1 0 3.80 0a1.90 1.90 0 1 0 -3.80 0M420.8 682.2a1.90 1.90 0 1 0 3.80 0a1.90 1.90 0 1 0 -3.80 0M411.6 687.1a1.90 1.90 0 1 0 3.80 0a1.90 1.90 0 1 0 -3.80 0M414.1 686.7a1.90 1.90 0 1 0 3.80 0a1.90 1.90 0 1 0 -3.80 0M453.9 672.0a1.90 1.90 0 1 0 3.80 0a1.90 1.90 0 1 0 -3.80 0M472.4 664.7a1.90 1.90 0 1 0 3.80 0a1.90 1.90 0 1 0 -3.80 0M415.3 686.4a1.90 1.90 0 1 0 3.80 0a1.90 1.90 0 1 0 -3.80 0M437.2 676.8a1.90 1.90 0 1 0 3.80 0a1.90 1.90 0 1 0 -3.80 0M550.9 601.3a1.90 1.90 0 1 0 3.80 0a1.90 1.90 0 1 0 -3.80 0M448.8 676.6a1.90 1.90 0 1 0 3.80 0a1.90 1.90 0 1 0 -3.80 0M514.8 638.3a1.90 1.90 0 1 0 3.80 0a1.90 1.90 0 1 0 -3.80 0M487.2 657.5a1.90 1.90 0 1 0 3.80 0a1.90 1.90 0 1 0 -3.80 0M494.5 630.5a1.90 1.90 0 1 0 3.80 0a1.90 1.90 0 1 0 -3.80 0M428.9 676.4a1.90 1.90 0 1 0 3.80 0a1.90 1.90 0 1 0 -3.80 0M451.6 666.3a1.90 1.90 0 1 0 3.80 0a1.90 1.90 0 1 0 -3.80 0M419.1 683.9a1.90 1.90 0 1 0 3.80 0a1.90 1.90 0 1 0 -3.80 0M500.1 631.0a1.90 1.90 0 1 0 3.80 0a1.90 1.90 0 1 0 -3.80 0M422.7 685.0a1.90 1.90 0 1 0 3.80 0a1.90 1.90 0 1 0 -3.80 0M440.1 668.5a1.90 1.90 0 1 0 3.80 0a1.90 1.90 0 1 0 -3.80 0M463.0 664.5a1.90 1.90 0 1 0 3.80 0a1.90 1.90 0 1 0 -3.80 0M427.1 681.8a1.90 1.90 0 1 0 3.80 0a1.90 1.90 0 1 0 -3.80 0M431.2 680.8a1.90 1.90 0 1 0 3.80 0a1.90 1.90 0 1 0 -3.80 0M413.3 687.5a1.90 1.90 0 1 0 3.80 0a1.90 1.90 0 1 0 -3.80 0M433.9 677.4a1.90 1.90 0 1 0 3.80 0a1.90 1.90 0 1 0 -3.80 0M411.9 685.8a1.90 1.90 0 1 0 3.80 0a1.90 1.90 0 1 0 -3.80 0M453.5 668.4a1.90 1.90 0 1 0 3.80 0a1.90 1.90 0 1 0 -3.80 0M441.9 679.9a1.90 1.90 0 1 0 3.80 0a1.90 1.90 0 1 0 -3.80 0M488.7 658.1a1.90 1.90 0 1 0 3.80 0a1.90 1.90 0 1 0 -3.80 0M430.6 676.5a1.90 1.90 0 1 0 3.80 0a1.90 1.90 0 1 0 -3.80 0M488.0 639.3a1.90 1.90 0 1 0 3.80 0a1.90 1.90 0 1 0 -3.80 0M494.6 649.0a1.90 1.90 0 1 0 3.80 0a1.90 1.90 0 1 0 -3.80 0M499.4 637.4a1.90 1.90 0 1 0 3.80 0a1.90 1.90 0 1 0 -3.80 0M470.5 649.5a1.90 1.90 0 1 0 3.80 0a1.90 1.90 0 1 0 -3.80 0M455.1 670.8a1.90 1.90 0 1 0 3.80 0a1.90 1.90 0 1 0 -3.80 0M447.9 673.6a1.90 1.90 0 1 0 3.80 0a1.90 1.90 0 1 0 -3.80 0M425.2 682.5a1.90 1.90 0 1 0 3.80 0a1.90 1.90 0 1 0 -3.80 0M436.2 676.7a1.90 1.90 0 1 0 3.80 0a1.90 1.90 0 1 0 -3.80 0M436.7 677.5a1.90 1.90 0 1 0 3.80 0a1.90 1.90 0 1 0 -3.80 0M568.8 569.5a1.90 1.90 0 1 0 3.80 0a1.90 1.90 0 1 0 -3.80 0M412.8 687.2a1.90 1.90 0 1 0 3.80 0a1.90 1.90 0 1 0 -3.80 0M430.0 681.7a1.90 1.90 0 1 0 3.80 0a1.90 1.90 0 1 0 -3.80 0M447.2 677.9a1.90 1.90 0 1 0 3.80 0a1.90 1.90 0 1 0 -3.80 0M416.2 685.7a1.90 1.90 0 1 0 3.80 0a1.90 1.90 0 1 0 -3.80 0M468.1 651.0a1.90 1.90 0 1 0 3.80 0a1.90 1.90 0 1 0 -3.80 0M421.3 683.5a1.90 1.90 0 1 0 3.80 0a1.90 1.90 0 1 0 -3.80 0M451.0 666.7a1.90 1.90 0 1 0 3.80 0a1.90 1.90 0 1 0 -3.80 0M439.0 676.2a1.90 1.90 0 1 0 3.80 0a1.90 1.90 0 1 0 -3.80 0M461.6 663.7a1.90 1.90 0 1 0 3.80 0a1.90 1.90 0 1 0 -3.80 0M412.1 688.3a1.90 1.90 0 1 0 3.80 0a1.90 1.90 0 1 0 -3.80 0M449.5 673.7a1.90 1.90 0 1 0 3.80 0a1.90 1.90 0 1 0 -3.80 0M514.8 638.9a1.90 1.90 0 1 0 3.80 0a1.90 1.90 0 1 0 -3.80 0M475.7 660.7a1.90 1.90 0 1 0 3.80 0a1.90 1.90 0 1 0 -3.80 0M437.6 678.3a1.90 1.90 0 1 0 3.80 0a1.90 1.90 0 1 0 -3.80 0M439.6 677.2a1.90 1.90 0 1 0 3.80 0a1.90 1.90 0 1 0 -3.80 0M444.0 677.8a1.90 1.90 0 1 0 3.80 0a1.90 1.90 0 1 0 -3.80 0M431.2 680.5a1.90 1.90 0 1 0 3.80 0a1.90 1.90 0 1 0 -3.80 0M417.8 684.4a1.90 1.90 0 1 0 3.80 0a1.90 1.90 0 1 0 -3.80 0M437.9 675.8a1.90 1.90 0 1 0 3.80 0a1.90 1.90 0 1 0 -3.80 0M435.8 679.9a1.90 1.90 0 1 0 3.80 0a1.90 1.90 0 1 0 -3.80 0M566.0 583.1a1.90 1.90 0 1 0 3.80 0a1.90 1.90 0 1 0 -3.80 0M457.4 670.5a1.90 1.90 0 1 0 3.80 0a1.90 1.90 0 1 0 -3.80 0M436.8 677.9a1.90 1.90 0 1 0 3.80 0a1.90 1.90 0 1 0 -3.80 0M451.2 672.3a1.90 1.90 0 1 0 3.80 0a1.90 1.90 0 1 0 -3.80 0M439.0 672.6a1.90 1.90 0 1 0 3.80 0a1.90 1.90 0 1 0 -3.80 0M418.0 682.1a1.90 1.90 0 1 0 3.80 0a1.90 1.90 0 1 0 -3.80 0M416.2 685.1a1.90 1.90 0 1 0 3.80 0a1.90 1.90 0 1 0 -3.80 0M429.7 676.0a1.90 1.90 0 1 0 3.80 0a1.90 1.90 0 1 0 -3.80 0M482.1 660.3a1.90 1.90 0 1 0 3.80 0a1.90 1.90 0 1 0 -3.80 0M414.7 686.0a1.90 1.90 0 1 0 3.80 0a1.90 1.90 0 1 0 -3.80 0M411.6 687.2a1.90 1.90 0 1 0 3.80 0a1.90 1.90 0 1 0 -3.80 0M436.3 674.5a1.90 1.90 0 1 0 3.80 0a1.90 1.90 0 1 0 -3.80 0M421.5 684.1a1.90 1.90 0 1 0 3.80 0a1.90 1.90 0 1 0 -3.80 0M420.4 686.2a1.90 1.90 0 1 0 3.80 0a1.90 1.90 0 1 0 -3.80 0M522.9 627.8a1.90 1.90 0 1 0 3.80 0a1.90 1.90 0 1 0 -3.80 0M435.9 676.8a1.90 1.90 0 1 0 3.80 0a1.90 1.90 0 1 0 -3.80 0M459.4 666.5a1.90 1.90 0 1 0 3.80 0a1.90 1.90 0 1 0 -3.80 0M434.9 677.4a1.90 1.90 0 1 0 3.80 0a1.90 1.90 0 1 0 -3.80 0M469.5 655.3a1.90 1.90 0 1 0 3.80 0a1.90 1.90 0 1 0 -3.80 0M434.5 680.2a1.90 1.90 0 1 0 3.80 0a1.90 1.90 0 1 0 -3.80 0M432.0 678.5a1.90 1.90 0 1 0 3.80 0a1.90 1.90 0 1 0 -3.80 0M464.3 662.0a1.90 1.90 0 1 0 3.80 0a1.90 1.90 0 1 0 -3.80 0M434.7 679.5a1.90 1.90 0 1 0 3.80 0a1.90 1.90 0 1 0 -3.80 0M500.9 638.0a1.90 1.90 0 1 0 3.80 0a1.90 1.90 0 1 0 -3.80 0M419.7 685.2a1.90 1.90 0 1 0 3.80 0a1.90 1.90 0 1 0 -3.80 0M515.4 613.8a1.90 1.90 0 1 0 3.80 0a1.90 1.90 0 1 0 -3.80 0M413.8 686.3a1.90 1.90 0 1 0 3.80 0a1.90 1.90 0 1 0 -3.80 0M425.5 682.4a1.90 1.90 0 1 0 3.80 0a1.90 1.90 0 1 0 -3.80 0M440.7 674.0a1.90 1.90 0 1 0 3.80 0a1.90 1.90 0 1 0 -3.80 0M413.5 685.2a1.90 1.90 0 1 0 3.80 0a1.90 1.90 0 1 0 -3.80 0M421.6 682.9a1.90 1.90 0 1 0 3.80 0a1.90 1.90 0 1 0 -3.80 0M466.0 657.8a1.90 1.90 0 1 0 3.80 0a1.90 1.90 0 1 0 -3.80 0M429.5 682.5a1.90 1.90 0 1 0 3.80 0a1.90 1.90 0 1 0 -3.80 0M418.9 684.9a1.90 1.90 0 1 0 3.80 0a1.90 1.90 0 1 0 -3.80 0M467.0 661.1a1.90 1.90 0 1 0 3.80 0a1.90 1.90 0 1 0 -3.80 0M439.8 674.2a1.90 1.90 0 1 0 3.80 0a1.90 1.90 0 1 0 -3.80 0M458.8 673.2a1.90 1.90 0 1 0 3.80 0a1.90 1.90 0 1 0 -3.80 0M511.9 620.7a1.90 1.90 0 1 0 3.80 0a1.90 1.90 0 1 0 -3.80 0M436.7 677.2a1.90 1.90 0 1 0 3.80 0a1.90 1.90 0 1 0 -3.80 0M448.9 668.1a1.90 1.90 0 1 0 3.80 0a1.90 1.90 0 1 0 -3.80 0M407.8 688.7a1.90 1.90 0 1 0 3.80 0a1.90 1.90 0 1 0 -3.80 0M443.6 678.9a1.90 1.90 0 1 0 3.80 0a1.90 1.90 0 1 0 -3.80 0M418.2 684.8a1.90 1.90 0 1 0 3.80 0a1.90 1.90 0 1 0 -3.80 0M452.7 674.7a1.90 1.90 0 1 0 3.80 0a1.90 1.90 0 1 0 -3.80 0M417.9 683.3a1.90 1.90 0 1 0 3.80 0a1.90 1.90 0 1 0 -3.80 0M424.6 684.6a1.90 1.90 0 1 0 3.80 0a1.90 1.90 0 1 0 -3.80 0M411.8 686.9a1.90 1.90 0 1 0 3.80 0a1.90 1.90 0 1 0 -3.80 0M467.1 663.8a1.90 1.90 0 1 0 3.80 0a1.90 1.90 0 1 0 -3.80 0M437.3 678.4a1.90 1.90 0 1 0 3.80 0a1.90 1.90 0 1 0 -3.80 0M428.5 680.8a1.90 1.90 0 1 0 3.80 0a1.90 1.90 0 1 0 -3.80 0M414.6 686.9a1.90 1.90 0 1 0 3.80 0a1.90 1.90 0 1 0 -3.80 0M493.1 636.6a1.90 1.90 0 1 0 3.80 0a1.90 1.90 0 1 0 -3.80 0M409.1 687.7a1.90 1.90 0 1 0 3.80 0a1.90 1.90 0 1 0 -3.80 0M485.3 662.3a1.90 1.90 0 1 0 3.80 0a1.90 1.90 0 1 0 -3.80 0M450.8 672.6a1.90 1.90 0 1 0 3.80 0a1.90 1.90 0 1 0 -3.80 0M423.1 685.0a1.90 1.90 0 1 0 3.80 0a1.90 1.90 0 1 0 -3.80 0M439.7 675.6a1.90 1.90 0 1 0 3.80 0a1.90 1.90 0 1 0 -3.80 0M410.5 687.7a1.90 1.90 0 1 0 3.80 0a1.90 1.90 0 1 0 -3.80 0M508.3 633.2a1.90 1.90 0 1 0 3.80 0a1.90 1.90 0 1 0 -3.80 0M412.0 686.9a1.90 1.90 0 1 0 3.80 0a1.90 1.90 0 1 0 -3.80 0M422.1 685.0a1.90 1.90 0 1 0 3.80 0a1.90 1.90 0 1 0 -3.80 0M475.5 661.1a1.90 1.90 0 1 0 3.80 0a1.90 1.90 0 1 0 -3.80 0M426.0 683.4a1.90 1.90 0 1 0 3.80 0a1.90 1.90 0 1 0 -3.80 0M444.6 671.1a1.90 1.90 0 1 0 3.80 0a1.90 1.90 0 1 0 -3.80 0M443.2 674.0a1.90 1.90 0 1 0 3.80 0a1.90 1.90 0 1 0 -3.80 0M420.1 684.3a1.90 1.90 0 1 0 3.80 0a1.90 1.90 0 1 0 -3.80 0M424.3 681.7a1.90 1.90 0 1 0 3.80 0a1.90 1.90 0 1 0 -3.80 0M535.4 620.4a1.90 1.90 0 1 0 3.80 0a1.90 1.90 0 1 0 -3.80 0M475.2 656.3a1.90 1.90 0 1 0 3.80 0a1.90 1.90 0 1 0 -3.80 0M459.0 668.6a1.90 1.90 0 1 0 3.80 0a1.90 1.90 0 1 0 -3.80 0M439.0 673.6a1.90 1.90 0 1 0 3.80 0a1.90 1.90 0 1 0 -3.80 0M416.9 685.8a1.90 1.90 0 1 0 3.80 0a1.90 1.90 0 1 0 -3.80 0M411.8 687.7a1.90 1.90 0 1 0 3.80 0a1.90 1.90 0 1 0 -3.80 0M460.6 664.5a1.90 1.90 0 1 0 3.80 0a1.90 1.90 0 1 0 -3.80 0M422.0 682.8a1.90 1.90 0 1 0 3.80 0a1.90 1.90 0 1 0 -3.80 0M428.9 680.8a1.90 1.90 0 1 0 3.80 0a1.90 1.90 0 1 0 -3.80 0M413.7 685.2a1.90 1.90 0 1 0 3.80 0a1.90 1.90 0 1 0 -3.80 0M409.2 687.7a1.90 1.90 0 1 0 3.80 0a1.90 1.90 0 1 0 -3.80 0M440.4 675.0a1.90 1.90 0 1 0 3.80 0a1.90 1.90 0 1 0 -3.80 0M416.0 686.4a1.90 1.90 0 1 0 3.80 0a1.90 1.90 0 1 0 -3.80 0M553.4 608.8a1.90 1.90 0 1 0 3.80 0a1.90 1.90 0 1 0 -3.80 0M526.3 603.7a1.90 1.90 0 1 0 3.80 0a1.90 1.90 0 1 0 -3.80 0M428.8 677.9a1.90 1.90 0 1 0 3.80 0a1.90 1.90 0 1 0 -3.80 0M489.4 643.0a1.90 1.90 0 1 0 3.80 0a1.90 1.90 0 1 0 -3.80 0M417.2 685.2a1.90 1.90 0 1 0 3.80 0a1.90 1.90 0 1 0 -3.80 0M489.9 646.4a1.90 1.90 0 1 0 3.80 0a1.90 1.90 0 1 0 -3.80 0M565.6 570.7a1.90 1.90 0 1 0 3.80 0a1.90 1.90 0 1 0 -3.80 0M461.7 659.5a1.90 1.90 0 1 0 3.80 0a1.90 1.90 0 1 0 -3.80 0M575.1 573.6a1.90 1.90 0 1 0 3.80 0a1.90 1.90 0 1 0 -3.80 0M435.1 676.5a1.90 1.90 0 1 0 3.80 0a1.90 1.90 0 1 0 -3.80 0M429.5 681.5a1.90 1.90 0 1 0 3.80 0a1.90 1.90 0 1 0 -3.80 0M464.2 657.9a1.90 1.90 0 1 0 3.80 0a1.90 1.90 0 1 0 -3.80 0M437.6 674.4a1.90 1.90 0 1 0 3.80 0a1.90 1.90 0 1 0 -3.80 0M460.6 672.9a1.90 1.90 0 1 0 3.80 0a1.90 1.90 0 1 0 -3.80 0M442.4 676.5a1.90 1.90 0 1 0 3.80 0a1.90 1.90 0 1 0 -3.80 0M417.5 686.4a1.90 1.90 0 1 0 3.80 0a1.90 1.90 0 1 0 -3.80 0M411.7 688.0a1.90 1.90 0 1 0 3.80 0a1.90 1.90 0 1 0 -3.80 0M483.9 648.2a1.90 1.90 0 1 0 3.80 0a1.90 1.90 0 1 0 -3.80 0M420.0 683.5a1.90 1.90 0 1 0 3.80 0a1.90 1.90 0 1 0 -3.80 0M458.5 666.2a1.90 1.90 0 1 0 3.80 0a1.90 1.90 0 1 0 -3.80 0M450.4 670.2a1.90 1.90 0 1 0 3.80 0a1.90 1.90 0 1 0 -3.80 0M424.2 686.5a1.90 1.90 0 1 0 3.80 0a1.90 1.90 0 1 0 -3.80 0M410.2 687.2a1.90 1.90 0 1 0 3.80 0a1.90 1.90 0 1 0 -3.80 0M445.1 677.6a1.90 1.90 0 1 0 3.80 0a1.90 1.90 0 1 0 -3.80 0M497.1 631.4a1.90 1.90 0 1 0 3.80 0a1.90 1.90 0 1 0 -3.80 0M411.1 688.3a1.90 1.90 0 1 0 3.80 0a1.90 1.90 0 1 0 -3.80 0M442.2 678.8a1.90 1.90 0 1 0 3.80 0a1.90 1.90 0 1 0 -3.80 0M453.1 672.4a1.90 1.90 0 1 0 3.80 0a1.90 1.90 0 1 0 -3.80 0M505.7 627.1a1.90 1.90 0 1 0 3.80 0a1.90 1.90 0 1 0 -3.80 0M527.4 614.4a1.90 1.90 0 1 0 3.80 0a1.90 1.90 0 1 0 -3.80 0M450.0 669.5a1.90 1.90 0 1 0 3.80 0a1.90 1.90 0 1 0 -3.80 0M470.3 660.2a1.90 1.90 0 1 0 3.80 0a1.90 1.90 0 1 0 -3.80 0M421.2 685.4a1.90 1.90 0 1 0 3.80 0a1.90 1.90 0 1 0 -3.80 0M437.9 669.2a1.90 1.90 0 1 0 3.80 0a1.90 1.90 0 1 0 -3.80 0M412.6 685.6a1.90 1.90 0 1 0 3.80 0a1.90 1.90 0 1 0 -3.80 0M465.0 670.6a1.90 1.90 0 1 0 3.80 0a1.90 1.90 0 1 0 -3.80 0M458.2 670.9a1.90 1.90 0 1 0 3.80 0a1.90 1.90 0 1 0 -3.80 0M459.2 668.7a1.90 1.90 0 1 0 3.80 0a1.90 1.90 0 1 0 -3.80 0M462.7 661.6a1.90 1.90 0 1 0 3.80 0a1.90 1.90 0 1 0 -3.80 0M408.5 688.4a1.90 1.90 0 1 0 3.80 0a1.90 1.90 0 1 0 -3.80 0M431.6 677.0a1.90 1.90 0 1 0 3.80 0a1.90 1.90 0 1 0 -3.80 0M416.6 683.7a1.90 1.90 0 1 0 3.80 0a1.90 1.90 0 1 0 -3.80 0M428.4 682.8a1.90 1.90 0 1 0 3.80 0a1.90 1.90 0 1 0 -3.80 0M459.4 663.7a1.90 1.90 0 1 0 3.80 0a1.90 1.90 0 1 0 -3.80 0M516.4 616.0a1.90 1.90 0 1 0 3.80 0a1.90 1.90 0 1 0 -3.80 0M432.0 681.6a1.90 1.90 0 1 0 3.80 0a1.90 1.90 0 1 0 -3.80 0M419.6 685.8a1.90 1.90 0 1 0 3.80 0a1.90 1.90 0 1 0 -3.80 0M424.5 682.5a1.90 1.90 0 1 0 3.80 0a1.90 1.90 0 1 0 -3.80 0M434.0 678.8a1.90 1.90 0 1 0 3.80 0a1.90 1.90 0 1 0 -3.80 0M431.4 682.3a1.90 1.90 0 1 0 3.80 0a1.90 1.90 0 1 0 -3.80 0M445.4 673.7a1.90 1.90 0 1 0 3.80 0a1.90 1.90 0 1 0 -3.80 0M465.8 658.4a1.90 1.90 0 1 0 3.80 0a1.90 1.90 0 1 0 -3.80 0M409.9 687.9a1.90 1.90 0 1 0 3.80 0a1.90 1.90 0 1 0 -3.80 0M409.5 688.1a1.90 1.90 0 1 0 3.80 0a1.90 1.90 0 1 0 -3.80 0M420.0 683.1a1.90 1.90 0 1 0 3.80 0a1.90 1.90 0 1 0 -3.80 0M422.8 683.6a1.90 1.90 0 1 0 3.80 0a1.90 1.90 0 1 0 -3.80 0M514.1 628.7a1.90 1.90 0 1 0 3.80 0a1.90 1.90 0 1 0 -3.80 0M429.4 685.2a1.90 1.90 0 1 0 3.80 0a1.90 1.90 0 1 0 -3.80 0M479.2 650.6a1.90 1.90 0 1 0 3.80 0a1.90 1.90 0 1 0 -3.80 0M414.4 686.4a1.90 1.90 0 1 0 3.80 0a1.90 1.90 0 1 0 -3.80 0M483.8 641.6a1.90 1.90 0 1 0 3.80 0a1.90 1.90 0 1 0 -3.80 0M414.8 684.4a1.90 1.90 0 1 0 3.80 0a1.90 1.90 0 1 0 -3.80 0M432.4 680.9a1.90 1.90 0 1 0 3.80 0a1.90 1.90 0 1 0 -3.80 0M558.9 599.3a1.90 1.90 0 1 0 3.80 0a1.90 1.90 0 1 0 -3.80 0M454.4 673.8a1.90 1.90 0 1 0 3.80 0a1.90 1.90 0 1 0 -3.80 0M423.7 685.5a1.90 1.90 0 1 0 3.80 0a1.90 1.90 0 1 0 -3.80 0M479.4 647.3a1.90 1.90 0 1 0 3.80 0a1.90 1.90 0 1 0 -3.80 0M455.9 668.8a1.90 1.90 0 1 0 3.80 0a1.90 1.90 0 1 0 -3.80 0M408.0 688.2a1.90 1.90 0 1 0 3.80 0a1.90 1.90 0 1 0 -3.80 0M487.6 648.0a1.90 1.90 0 1 0 3.80 0a1.90 1.90 0 1 0 -3.80 0M435.8 678.4a1.90 1.90 0 1 0 3.80 0a1.90 1.90 0 1 0 -3.80 0M423.5 683.1a1.90 1.90 0 1 0 3.80 0a1.90 1.90 0 1 0 -3.80 0M419.3 685.5a1.90 1.90 0 1 0 3.80 0a1.90 1.90 0 1 0 -3.80 0M408.4 687.9a1.90 1.90 0 1 0 3.80 0a1.90 1.90 0 1 0 -3.80 0M442.8 677.3a1.90 1.90 0 1 0 3.80 0a1.90 1.90 0 1 0 -3.80 0M420.9 684.4a1.90 1.90 0 1 0 3.80 0a1.90 1.90 0 1 0 -3.80 0M413.5 686.6a1.90 1.90 0 1 0 3.80 0a1.90 1.90 0 1 0 -3.80 0M419.2 684.2a1.90 1.90 0 1 0 3.80 0a1.90 1.90 0 1 0 -3.80 0M575.7 607.7a1.90 1.90 0 1 0 3.80 0a1.90 1.90 0 1 0 -3.80 0M420.9 686.0a1.90 1.90 0 1 0 3.80 0a1.90 1.90 0 1 0 -3.80 0M490.8 650.9a1.90 1.90 0 1 0 3.80 0a1.90 1.90 0 1 0 -3.80 0M518.0 629.8a1.90 1.90 0 1 0 3.80 0a1.90 1.90 0 1 0 -3.80 0M442.1 676.6a1.90 1.90 0 1 0 3.80 0a1.90 1.90 0 1 0 -3.80 0M472.3 666.1a1.90 1.90 0 1 0 3.80 0a1.90 1.90 0 1 0 -3.80 0M415.5 685.5a1.90 1.90 0 1 0 3.80 0a1.90 1.90 0 1 0 -3.80 0M428.5 677.0a1.90 1.90 0 1 0 3.80 0a1.90 1.90 0 1 0 -3.80 0M443.3 674.4a1.90 1.90 0 1 0 3.80 0a1.90 1.90 0 1 0 -3.80 0M416.4 685.8a1.90 1.90 0 1 0 3.80 0a1.90 1.90 0 1 0 -3.80 0M417.0 685.5a1.90 1.90 0 1 0 3.80 0a1.90 1.90 0 1 0 -3.80 0M562.0 608.8a1.90 1.90 0 1 0 3.80 0a1.90 1.90 0 1 0 -3.80 0M498.7 633.0a1.90 1.90 0 1 0 3.80 0a1.90 1.90 0 1 0 -3.80 0M437.1 680.6a1.90 1.90 0 1 0 3.80 0a1.90 1.90 0 1 0 -3.80 0M415.1 686.3a1.90 1.90 0 1 0 3.80 0a1.90 1.90 0 1 0 -3.80 0M443.1 675.3a1.90 1.90 0 1 0 3.80 0a1.90 1.90 0 1 0 -3.80 0M415.3 686.5a1.90 1.90 0 1 0 3.80 0a1.90 1.90 0 1 0 -3.80 0M431.5 682.6a1.90 1.90 0 1 0 3.80 0a1.90 1.90 0 1 0 -3.80 0M439.5 678.7a1.90 1.90 0 1 0 3.80 0a1.90 1.90 0 1 0 -3.80 0M444.2 674.6a1.90 1.90 0 1 0 3.80 0a1.90 1.90 0 1 0 -3.80 0M421.9 685.1a1.90 1.90 0 1 0 3.80 0a1.90 1.90 0 1 0 -3.80 0M472.3 663.2a1.90 1.90 0 1 0 3.80 0a1.90 1.90 0 1 0 -3.80 0M505.7 623.4a1.90 1.90 0 1 0 3.80 0a1.90 1.90 0 1 0 -3.80 0M428.1 682.9a1.90 1.90 0 1 0 3.80 0a1.90 1.90 0 1 0 -3.80 0M445.8 677.8a1.90 1.90 0 1 0 3.80 0a1.90 1.90 0 1 0 -3.80 0M425.2 684.1a1.90 1.90 0 1 0 3.80 0a1.90 1.90 0 1 0 -3.80 0M446.1 677.8a1.90 1.90 0 1 0 3.80 0a1.90 1.90 0 1 0 -3.80 0M509.1 621.6a1.90 1.90 0 1 0 3.80 0a1.90 1.90 0 1 0 -3.80 0M423.8 684.5a1.90 1.90 0 1 0 3.80 0a1.90 1.90 0 1 0 -3.80 0M420.6 684.3a1.90 1.90 0 1 0 3.80 0a1.90 1.90 0 1 0 -3.80 0M432.8 677.9a1.90 1.90 0 1 0 3.80 0a1.90 1.90 0 1 0 -3.80 0M428.6 677.0a1.90 1.90 0 1 0 3.80 0a1.90 1.90 0 1 0 -3.80 0M446.6 678.0a1.90 1.90 0 1 0 3.80 0a1.90 1.90 0 1 0 -3.80 0M440.9 678.0a1.90 1.90 0 1 0 3.80 0a1.90 1.90 0 1 0 -3.80 0M442.9 679.8a1.90 1.90 0 1 0 3.80 0a1.90 1.90 0 1 0 -3.80 0M448.6 671.7a1.90 1.90 0 1 0 3.80 0a1.90 1.90 0 1 0 -3.80 0M449.8 668.5a1.90 1.90 0 1 0 3.80 0a1.90 1.90 0 1 0 -3.80 0M433.9 672.7a1.90 1.90 0 1 0 3.80 0a1.90 1.90 0 1 0 -3.80 0M424.4 682.5a1.90 1.90 0 1 0 3.80 0a1.90 1.90 0 1 0 -3.80 0M417.3 686.0a1.90 1.90 0 1 0 3.80 0a1.90 1.90 0 1 0 -3.80 0M439.1 678.4a1.90 1.90 0 1 0 3.80 0a1.90 1.90 0 1 0 -3.80 0M431.9 682.6a1.90 1.90 0 1 0 3.80 0a1.90 1.90 0 1 0 -3.80 0M434.2 682.8a1.90 1.90 0 1 0 3.80 0a1.90 1.90 0 1 0 -3.80 0M476.5 662.9a1.90 1.90 0 1 0 3.80 0a1.90 1.90 0 1 0 -3.80 0M421.8 680.6a1.90 1.90 0 1 0 3.80 0a1.90 1.90 0 1 0 -3.80 0M534.6 607.4a1.90 1.90 0 1 0 3.80 0a1.90 1.90 0 1 0 -3.80 0M430.7 677.9a1.90 1.90 0 1 0 3.80 0a1.90 1.90 0 1 0 -3.80 0M492.2 638.7a1.90 1.90 0 1 0 3.80 0a1.90 1.90 0 1 0 -3.80 0M427.9 679.2a1.90 1.90 0 1 0 3.80 0a1.90 1.90 0 1 0 -3.80 0M454.9 668.1a1.90 1.90 0 1 0 3.80 0a1.90 1.90 0 1 0 -3.80 0M434.2 680.9a1.90 1.90 0 1 0 3.80 0a1.90 1.90 0 1 0 -3.80 0M412.2 687.5a1.90 1.90 0 1 0 3.80 0a1.90 1.90 0 1 0 -3.80 0M454.8 666.7a1.90 1.90 0 1 0 3.80 0a1.90 1.90 0 1 0 -3.80 0M413.9 684.3a1.90 1.90 0 1 0 3.80 0a1.90 1.90 0 1 0 -3.80 0M429.8 679.8a1.90 1.90 0 1 0 3.80 0a1.90 1.90 0 1 0 -3.80 0M480.6 660.4a1.90 1.90 0 1 0 3.80 0a1.90 1.90 0 1 0 -3.80 0M423.4 681.5a1.90 1.90 0 1 0 3.80 0a1.90 1.90 0 1 0 -3.80 0M423.4 684.5a1.90 1.90 0 1 0 3.80 0a1.90 1.90 0 1 0 -3.80 0M484.7 651.2a1.90 1.90 0 1 0 3.80 0a1.90 1.90 0 1 0 -3.80 0M464.0 668.4a1.90 1.90 0 1 0 3.80 0a1.90 1.90 0 1 0 -3.80 0M467.6 657.2a1.90 1.90 0 1 0 3.80 0a1.90 1.90 0 1 0 -3.80 0M415.3 687.6a1.90 1.90 0 1 0 3.80 0a1.90 1.90 0 1 0 -3.80 0M411.7 687.0a1.90 1.90 0 1 0 3.80 0a1.90 1.90 0 1 0 -3.80 0M441.7 670.6a1.90 1.90 0 1 0 3.80 0a1.90 1.90 0 1 0 -3.80 0M472.4 649.1a1.90 1.90 0 1 0 3.80 0a1.90 1.90 0 1 0 -3.80 0M445.9 668.7a1.90 1.90 0 1 0 3.80 0a1.90 1.90 0 1 0 -3.80 0M442.5 679.8a1.90 1.90 0 1 0 3.80 0a1.90 1.90 0 1 0 -3.80 0M460.7 664.9a1.90 1.90 0 1 0 3.80 0a1.90 1.90 0 1 0 -3.80 0M478.1 648.7a1.90 1.90 0 1 0 3.80 0a1.90 1.90 0 1 0 -3.80 0M430.7 679.4a1.90 1.90 0 1 0 3.80 0a1.90 1.90 0 1 0 -3.80 0M426.9 682.4a1.90 1.90 0 1 0 3.80 0a1.90 1.90 0 1 0 -3.80 0M431.3 682.4a1.90 1.90 0 1 0 3.80 0a1.90 1.90 0 1 0 -3.80 0M428.1 679.8a1.90 1.90 0 1 0 3.80 0a1.90 1.90 0 1 0 -3.80 0M481.1 659.3a1.90 1.90 0 1 0 3.80 0a1.90 1.90 0 1 0 -3.80 0M468.5 668.8a1.90 1.90 0 1 0 3.80 0a1.90 1.90 0 1 0 -3.80 0M409.7 687.3a1.90 1.90 0 1 0 3.80 0a1.90 1.90 0 1 0 -3.80 0M425.2 682.7a1.90 1.90 0 1 0 3.80 0a1.90 1.90 0 1 0 -3.80 0M413.8 684.3a1.90 1.90 0 1 0 3.80 0a1.90 1.90 0 1 0 -3.80 0M432.2 680.2a1.90 1.90 0 1 0 3.80 0a1.90 1.90 0 1 0 -3.80 0M427.1 679.8a1.90 1.90 0 1 0 3.80 0a1.90 1.90 0 1 0 -3.80 0M420.3 685.0a1.90 1.90 0 1 0 3.80 0a1.90 1.90 0 1 0 -3.80 0M463.6 666.5a1.90 1.90 0 1 0 3.80 0a1.90 1.90 0 1 0 -3.80 0M426.5 683.1a1.90 1.90 0 1 0 3.80 0a1.90 1.90 0 1 0 -3.80 0M445.7 676.1a1.90 1.90 0 1 0 3.80 0a1.90 1.90 0 1 0 -3.80 0M431.7 677.2a1.90 1.90 0 1 0 3.80 0a1.90 1.90 0 1 0 -3.80 0M463.8 670.7a1.90 1.90 0 1 0 3.80 0a1.90 1.90 0 1 0 -3.80 0M461.7 671.7a1.90 1.90 0 1 0 3.80 0a1.90 1.90 0 1 0 -3.80 0M430.4 676.7a1.90 1.90 0 1 0 3.80 0a1.90 1.90 0 1 0 -3.80 0M454.2 668.0a1.90 1.90 0 1 0 3.80 0a1.90 1.90 0 1 0 -3.80 0M444.0 671.2a1.90 1.90 0 1 0 3.80 0a1.90 1.90 0 1 0 -3.80 0M512.8 629.1a1.90 1.90 0 1 0 3.80 0a1.90 1.90 0 1 0 -3.80 0M419.8 683.1a1.90 1.90 0 1 0 3.80 0a1.90 1.90 0 1 0 -3.80 0M445.6 679.0a1.90 1.90 0 1 0 3.80 0a1.90 1.90 0 1 0 -3.80 0M437.9 677.7a1.90 1.90 0 1 0 3.80 0a1.90 1.90 0 1 0 -3.80 0M432.6 678.8a1.90 1.90 0 1 0 3.80 0a1.90 1.90 0 1 0 -3.80 0M562.6 609.5a1.90 1.90 0 1 0 3.80 0a1.90 1.90 0 1 0 -3.80 0M449.8 674.2a1.90 1.90 0 1 0 3.80 0a1.90 1.90 0 1 0 -3.80 0M487.9 654.8a1.90 1.90 0 1 0 3.80 0a1.90 1.90 0 1 0 -3.80 0M491.9 648.1a1.90 1.90 0 1 0 3.80 0a1.90 1.90 0 1 0 -3.80 0M449.2 673.1a1.90 1.90 0 1 0 3.80 0a1.90 1.90 0 1 0 -3.80 0M451.0 672.9a1.90 1.90 0 1 0 3.80 0a1.90 1.90 0 1 0 -3.80 0M419.7 686.4a1.90 1.90 0 1 0 3.80 0a1.90 1.90 0 1 0 -3.80 0M421.8 681.3a1.90 1.90 0 1 0 3.80 0a1.90 1.90 0 1 0 -3.80 0M442.0 679.1a1.90 1.90 0 1 0 3.80 0a1.90 1.90 0 1 0 -3.80 0M478.8 652.2a1.90 1.90 0 1 0 3.80 0a1.90 1.90 0 1 0 -3.80 0M535.3 613.1a1.90 1.90 0 1 0 3.80 0a1.90 1.90 0 1 0 -3.80 0M413.5 687.8a1.90 1.90 0 1 0 3.80 0a1.90 1.90 0 1 0 -3.80 0M457.0 664.1a1.90 1.90 0 1 0 3.80 0a1.90 1.90 0 1 0 -3.80 0M482.7 651.9a1.90 1.90 0 1 0 3.80 0a1.90 1.90 0 1 0 -3.80 0M423.4 682.3a1.90 1.90 0 1 0 3.80 0a1.90 1.90 0 1 0 -3.80 0M420.2 683.7a1.90 1.90 0 1 0 3.80 0a1.90 1.90 0 1 0 -3.80 0M411.1 687.1a1.90 1.90 0 1 0 3.80 0a1.90 1.90 0 1 0 -3.80 0M463.4 667.3a1.90 1.90 0 1 0 3.80 0a1.90 1.90 0 1 0 -3.80 0M437.4 676.6a1.90 1.90 0 1 0 3.80 0a1.90 1.90 0 1 0 -3.80 0M454.4 666.3a1.90 1.90 0 1 0 3.80 0a1.90 1.90 0 1 0 -3.80 0M419.7 685.6a1.90 1.90 0 1 0 3.80 0a1.90 1.90 0 1 0 -3.80 0M440.8 679.1a1.90 1.90 0 1 0 3.80 0a1.90 1.90 0 1 0 -3.80 0M482.7 654.2a1.90 1.90 0 1 0 3.80 0a1.90 1.90 0 1 0 -3.80 0M440.2 672.7a1.90 1.90 0 1 0 3.80 0a1.90 1.90 0 1 0 -3.80 0M470.0 660.4a1.90 1.90 0 1 0 3.80 0a1.90 1.90 0 1 0 -3.80 0M494.5 631.0a1.90 1.90 0 1 0 3.80 0a1.90 1.90 0 1 0 -3.80 0M445.2 675.5a1.90 1.90 0 1 0 3.80 0a1.90 1.90 0 1 0 -3.80 0M460.7 665.8a1.90 1.90 0 1 0 3.80 0a1.90 1.90 0 1 0 -3.80 0M483.4 641.5a1.90 1.90 0 1 0 3.80 0a1.90 1.90 0 1 0 -3.80 0M479.4 643.7a1.90 1.90 0 1 0 3.80 0a1.90 1.90 0 1 0 -3.80 0M503.3 626.6a1.90 1.90 0 1 0 3.80 0a1.90 1.90 0 1 0 -3.80 0M443.4 678.4a1.90 1.90 0 1 0 3.80 0a1.90 1.90 0 1 0 -3.80 0M433.4 679.3a1.90 1.90 0 1 0 3.80 0a1.90 1.90 0 1 0 -3.80 0M575.6 572.6a1.90 1.90 0 1 0 3.80 0a1.90 1.90 0 1 0 -3.80 0M444.9 677.6a1.90 1.90 0 1 0 3.80 0a1.90 1.90 0 1 0 -3.80 0M461.9 660.0a1.90 1.90 0 1 0 3.80 0a1.90 1.90 0 1 0 -3.80 0M557.6 584.0a1.90 1.90 0 1 0 3.80 0a1.90 1.90 0 1 0 -3.80 0M429.2 683.0a1.90 1.90 0 1 0 3.80 0a1.90 1.90 0 1 0 -3.80 0M497.7 644.6a1.90 1.90 0 1 0 3.80 0a1.90 1.90 0 1 0 -3.80 0M433.7 678.8a1.90 1.90 0 1 0 3.80 0a1.90 1.90 0 1 0 -3.80 0M460.9 672.9a1.90 1.90 0 1 0 3.80 0a1.90 1.90 0 1 0 -3.80 0M470.2 655.6a1.90 1.90 0 1 0 3.80 0a1.90 1.90 0 1 0 -3.80 0M429.2 682.1a1.90 1.90 0 1 0 3.80 0a1.90 1.90 0 1 0 -3.80 0M452.5 675.5a1.90 1.90 0 1 0 3.80 0a1.90 1.90 0 1 0 -3.80 0M412.0 686.7a1.90 1.90 0 1 0 3.80 0a1.90 1.90 0 1 0 -3.80 0M425.0 684.5a1.90 1.90 0 1 0 3.80 0a1.90 1.90 0 1 0 -3.80 0M494.5 640.9a1.90 1.90 0 1 0 3.80 0a1.90 1.90 0 1 0 -3.80 0M459.4 666.2a1.90 1.90 0 1 0 3.80 0a1.90 1.90 0 1 0 -3.80 0M415.0 686.9a1.90 1.90 0 1 0 3.80 0a1.90 1.90 0 1 0 -3.80 0M417.0 684.8a1.90 1.90 0 1 0 3.80 0a1.90 1.90 0 1 0 -3.80 0M457.6 662.1a1.90 1.90 0 1 0 3.80 0a1.90 1.90 0 1 0 -3.80 0M412.1 686.4a1.90 1.90 0 1 0 3.80 0a1.90 1.90 0 1 0 -3.80 0M420.0 684.7a1.90 1.90 0 1 0 3.80 0a1.90 1.90 0 1 0 -3.80 0M435.8 675.5a1.90 1.90 0 1 0 3.80 0a1.90 1.90 0 1 0 -3.80 0M482.2 657.2a1.90 1.90 0 1 0 3.80 0a1.90 1.90 0 1 0 -3.80 0M423.4 683.8a1.90 1.90 0 1 0 3.80 0a1.90 1.90 0 1 0 -3.80 0M430.6 677.8a1.90 1.90 0 1 0 3.80 0a1.90 1.90 0 1 0 -3.80 0M444.0 678.2a1.90 1.90 0 1 0 3.80 0a1.90 1.90 0 1 0 -3.80 0M426.9 681.1a1.90 1.90 0 1 0 3.80 0a1.90 1.90 0 1 0 -3.80 0M431.6 678.4a1.90 1.90 0 1 0 3.80 0a1.90 1.90 0 1 0 -3.80 0M521.6 613.3a1.90 1.90 0 1 0 3.80 0a1.90 1.90 0 1 0 -3.80 0M530.6 593.2a1.90 1.90 0 1 0 3.80 0a1.90 1.90 0 1 0 -3.80 0M454.3 670.3a1.90 1.90 0 1 0 3.80 0a1.90 1.90 0 1 0 -3.80 0M450.6 673.5a1.90 1.90 0 1 0 3.80 0a1.90 1.90 0 1 0 -3.80 0M448.6 676.9a1.90 1.90 0 1 0 3.80 0a1.90 1.90 0 1 0 -3.80 0M507.1 625.8a1.90 1.90 0 1 0 3.80 0a1.90 1.90 0 1 0 -3.80 0M430.4 680.6a1.90 1.90 0 1 0 3.80 0a1.90 1.90 0 1 0 -3.80 0M486.8 651.9a1.90 1.90 0 1 0 3.80 0a1.90 1.90 0 1 0 -3.80 0M475.0 654.9a1.90 1.90 0 1 0 3.80 0a1.90 1.90 0 1 0 -3.80 0M537.3 589.2a1.90 1.90 0 1 0 3.80 0a1.90 1.90 0 1 0 -3.80 0M482.9 653.1a1.90 1.90 0 1 0 3.80 0a1.90 1.90 0 1 0 -3.80 0M429.1 677.6a1.90 1.90 0 1 0 3.80 0a1.90 1.90 0 1 0 -3.80 0M454.8 665.9a1.90 1.90 0 1 0 3.80 0a1.90 1.90 0 1 0 -3.80 0M453.5 670.5a1.90 1.90 0 1 0 3.80 0a1.90 1.90 0 1 0 -3.80 0M419.1 687.0a1.90 1.90 0 1 0 3.80 0a1.90 1.90 0 1 0 -3.80 0M427.8 684.9a1.90 1.90 0 1 0 3.80 0a1.90 1.90 0 1 0 -3.80 0M414.7 686.2a1.90 1.90 0 1 0 3.80 0a1.90 1.90 0 1 0 -3.80 0M410.6 687.4a1.90 1.90 0 1 0 3.80 0a1.90 1.90 0 1 0 -3.80 0M465.0 665.9a1.90 1.90 0 1 0 3.80 0a1.90 1.90 0 1 0 -3.80 0M413.3 687.9a1.90 1.90 0 1 0 3.80 0a1.90 1.90 0 1 0 -3.80 0M444.7 666.6a1.90 1.90 0 1 0 3.80 0a1.90 1.90 0 1 0 -3.80 0M422.3 683.1a1.90 1.90 0 1 0 3.80 0a1.90 1.90 0 1 0 -3.80 0M486.9 642.6a1.90 1.90 0 1 0 3.80 0a1.90 1.90 0 1 0 -3.80 0M453.9 670.0a1.90 1.90 0 1 0 3.80 0a1.90 1.90 0 1 0 -3.80 0M455.5 670.7a1.90 1.90 0 1 0 3.80 0a1.90 1.90 0 1 0 -3.80 0M477.1 656.4a1.90 1.90 0 1 0 3.80 0a1.90 1.90 0 1 0 -3.80 0M443.8 675.6a1.90 1.90 0 1 0 3.80 0a1.90 1.90 0 1 0 -3.80 0M414.7 686.2a1.90 1.90 0 1 0 3.80 0a1.90 1.90 0 1 0 -3.80 0M440.8 678.1a1.90 1.90 0 1 0 3.80 0a1.90 1.90 0 1 0 -3.80 0M455.0 668.1a1.90 1.90 0 1 0 3.80 0a1.90 1.90 0 1 0 -3.80 0M437.9 676.8a1.90 1.90 0 1 0 3.80 0a1.90 1.90 0 1 0 -3.80 0M450.3 679.3a1.90 1.90 0 1 0 3.80 0a1.90 1.90 0 1 0 -3.80 0M413.6 686.9a1.90 1.90 0 1 0 3.80 0a1.90 1.90 0 1 0 -3.80 0M448.4 671.3a1.90 1.90 0 1 0 3.80 0a1.90 1.90 0 1 0 -3.80 0M577.6 564.6a1.90 1.90 0 1 0 3.80 0a1.90 1.90 0 1 0 -3.80 0M418.1 684.4a1.90 1.90 0 1 0 3.80 0a1.90 1.90 0 1 0 -3.80 0M418.6 685.7a1.90 1.90 0 1 0 3.80 0a1.90 1.90 0 1 0 -3.80 0M470.4 661.0a1.90 1.90 0 1 0 3.80 0a1.90 1.90 0 1 0 -3.80 0M548.0 596.7a1.90 1.90 0 1 0 3.80 0a1.90 1.90 0 1 0 -3.80 0M500.9 631.9a1.90 1.90 0 1 0 3.80 0a1.90 1.90 0 1 0 -3.80 0M411.6 687.9a1.90 1.90 0 1 0 3.80 0a1.90 1.90 0 1 0 -3.80 0M519.7 619.2a1.90 1.90 0 1 0 3.80 0a1.90 1.90 0 1 0 -3.80 0M447.9 679.5a1.90 1.90 0 1 0 3.80 0a1.90 1.90 0 1 0 -3.80 0M421.5 685.3a1.90 1.90 0 1 0 3.80 0a1.90 1.90 0 1 0 -3.80 0M467.5 653.8a1.90 1.90 0 1 0 3.80 0a1.90 1.90 0 1 0 -3.80 0M454.1 666.7a1.90 1.90 0 1 0 3.80 0a1.90 1.90 0 1 0 -3.80 0M460.0 662.7a1.90 1.90 0 1 0 3.80 0a1.90 1.90 0 1 0 -3.80 0M414.0 685.9a1.90 1.90 0 1 0 3.80 0a1.90 1.90 0 1 0 -3.80 0M435.5 680.2a1.90 1.90 0 1 0 3.80 0a1.90 1.90 0 1 0 -3.80 0M484.1 639.6a1.90 1.90 0 1 0 3.80 0a1.90 1.90 0 1 0 -3.80 0M409.9 685.5a1.90 1.90 0 1 0 3.80 0a1.90 1.90 0 1 0 -3.80 0M413.8 687.8a1.90 1.90 0 1 0 3.80 0a1.90 1.90 0 1 0 -3.80 0M462.0 669.7a1.90 1.90 0 1 0 3.80 0a1.90 1.90 0 1 0 -3.80 0M475.6 659.4a1.90 1.90 0 1 0 3.80 0a1.90 1.90 0 1 0 -3.80 0M422.4 681.9a1.90 1.90 0 1 0 3.80 0a1.90 1.90 0 1 0 -3.80 0M470.8 658.7a1.90 1.90 0 1 0 3.80 0a1.90 1.90 0 1 0 -3.80 0M422.4 683.8a1.90 1.90 0 1 0 3.80 0a1.90 1.90 0 1 0 -3.80 0M424.7 682.2a1.90 1.90 0 1 0 3.80 0a1.90 1.90 0 1 0 -3.80 0M422.0 682.6a1.90 1.90 0 1 0 3.80 0a1.90 1.90 0 1 0 -3.80 0M416.2 684.3a1.90 1.90 0 1 0 3.80 0a1.90 1.90 0 1 0 -3.80 0M411.9 686.6a1.90 1.90 0 1 0 3.80 0a1.90 1.90 0 1 0 -3.80 0M441.7 671.6a1.90 1.90 0 1 0 3.80 0a1.90 1.90 0 1 0 -3.80 0M489.5 659.9a1.90 1.90 0 1 0 3.80 0a1.90 1.90 0 1 0 -3.80 0M468.1 658.8a1.90 1.90 0 1 0 3.80 0a1.90 1.90 0 1 0 -3.80 0M432.9 676.4a1.90 1.90 0 1 0 3.80 0a1.90 1.90 0 1 0 -3.80 0M454.3 668.1a1.90 1.90 0 1 0 3.80 0a1.90 1.90 0 1 0 -3.80 0M419.8 686.2a1.90 1.90 0 1 0 3.80 0a1.90 1.90 0 1 0 -3.80 0M442.3 673.2a1.90 1.90 0 1 0 3.80 0a1.90 1.90 0 1 0 -3.80 0M483.7 653.5a1.90 1.90 0 1 0 3.80 0a1.90 1.90 0 1 0 -3.80 0M450.3 677.0a1.90 1.90 0 1 0 3.80 0a1.90 1.90 0 1 0 -3.80 0M418.6 685.5a1.90 1.90 0 1 0 3.80 0a1.90 1.90 0 1 0 -3.80 0M416.3 685.2a1.90 1.90 0 1 0 3.80 0a1.90 1.90 0 1 0 -3.80 0M423.6 682.7a1.90 1.90 0 1 0 3.80 0a1.90 1.90 0 1 0 -3.80 0M414.9 686.0a1.90 1.90 0 1 0 3.80 0a1.90 1.90 0 1 0 -3.80 0M413.6 686.5a1.90 1.90 0 1 0 3.80 0a1.90 1.90 0 1 0 -3.80 0M445.4 675.7a1.90 1.90 0 1 0 3.80 0a1.90 1.90 0 1 0 -3.80 0M412.8 686.2a1.90 1.90 0 1 0 3.80 0a1.90 1.90 0 1 0 -3.80 0M419.4 682.8a1.90 1.90 0 1 0 3.80 0a1.90 1.90 0 1 0 -3.80 0M454.3 666.3a1.90 1.90 0 1 0 3.80 0a1.90 1.90 0 1 0 -3.80 0M408.9 688.6a1.90 1.90 0 1 0 3.80 0a1.90 1.90 0 1 0 -3.80 0M462.7 667.3a1.90 1.90 0 1 0 3.80 0a1.90 1.90 0 1 0 -3.80 0M415.8 685.6a1.90 1.90 0 1 0 3.80 0a1.90 1.90 0 1 0 -3.80 0M411.9 687.7a1.90 1.90 0 1 0 3.80 0a1.90 1.90 0 1 0 -3.80 0M429.4 684.2a1.90 1.90 0 1 0 3.80 0a1.90 1.90 0 1 0 -3.80 0M424.9 680.4a1.90 1.90 0 1 0 3.80 0a1.90 1.90 0 1 0 -3.80 0M429.7 679.9a1.90 1.90 0 1 0 3.80 0a1.90 1.90 0 1 0 -3.80 0M510.3 634.4a1.90 1.90 0 1 0 3.80 0a1.90 1.90 0 1 0 -3.80 0M441.2 679.4a1.90 1.90 0 1 0 3.80 0a1.90 1.90 0 1 0 -3.80 0M425.9 680.3a1.90 1.90 0 1 0 3.80 0a1.90 1.90 0 1 0 -3.80 0M453.3 662.3a1.90 1.90 0 1 0 3.80 0a1.90 1.90 0 1 0 -3.80 0M447.8 671.1a1.90 1.90 0 1 0 3.80 0a1.90 1.90 0 1 0 -3.80 0M416.1 685.4a1.90 1.90 0 1 0 3.80 0a1.90 1.90 0 1 0 -3.80 0M425.0 682.9a1.90 1.90 0 1 0 3.80 0a1.90 1.90 0 1 0 -3.80 0M422.2 684.5a1.90 1.90 0 1 0 3.80 0a1.90 1.90 0 1 0 -3.80 0M413.1 685.6a1.90 1.90 0 1 0 3.80 0a1.90 1.90 0 1 0 -3.80 0M436.4 676.1a1.90 1.90 0 1 0 3.80 0a1.90 1.90 0 1 0 -3.80 0M422.1 682.8a1.90 1.90 0 1 0 3.80 0a1.90 1.90 0 1 0 -3.80 0M432.8 683.9a1.90 1.90 0 1 0 3.80 0a1.90 1.90 0 1 0 -3.80 0M441.1 681.1a1.90 1.90 0 1 0 3.80 0a1.90 1.90 0 1 0 -3.80 0M421.7 682.2a1.90 1.90 0 1 0 3.80 0a1.90 1.90 0 1 0 -3.80 0M512.3 619.2a1.90 1.90 0 1 0 3.80 0a1.90 1.90 0 1 0 -3.80 0M443.8 670.6a1.90 1.90 0 1 0 3.80 0a1.90 1.90 0 1 0 -3.80 0M432.5 678.0a1.90 1.90 0 1 0 3.80 0a1.90 1.90 0 1 0 -3.80 0M441.4 675.6a1.90 1.90 0 1 0 3.80 0a1.90 1.90 0 1 0 -3.80 0M505.5 625.0a1.90 1.90 0 1 0 3.80 0a1.90 1.90 0 1 0 -3.80 0M415.6 686.9a1.90 1.90 0 1 0 3.80 0a1.90 1.90 0 1 0 -3.80 0M469.8 657.5a1.90 1.90 0 1 0 3.80 0a1.90 1.90 0 1 0 -3.80 0M415.2 686.7a1.90 1.90 0 1 0 3.80 0a1.90 1.90 0 1 0 -3.80 0M458.9 667.6a1.90 1.90 0 1 0 3.80 0a1.90 1.90 0 1 0 -3.80 0M413.1 687.1a1.90 1.90 0 1 0 3.80 0a1.90 1.90 0 1 0 -3.80 0M431.1 683.0a1.90 1.90 0 1 0 3.80 0a1.90 1.90 0 1 0 -3.80 0M421.0 683.1a1.90 1.90 0 1 0 3.80 0a1.90 1.90 0 1 0 -3.80 0M426.2 681.7a1.90 1.90 0 1 0 3.80 0a1.90 1.90 0 1 0 -3.80 0M478.9 658.2a1.90 1.90 0 1 0 3.80 0a1.90 1.90 0 1 0 -3.80 0M485.9 651.8a1.90 1.90 0 1 0 3.80 0a1.90 1.90 0 1 0 -3.80 0M437.7 679.8a1.90 1.90 0 1 0 3.80 0a1.90 1.90 0 1 0 -3.80 0M422.1 678.1a1.90 1.90 0 1 0 3.80 0a1.90 1.90 0 1 0 -3.80 0M476.6 655.6a1.90 1.90 0 1 0 3.80 0a1.90 1.90 0 1 0 -3.80 0M414.2 685.8a1.90 1.90 0 1 0 3.80 0a1.90 1.90 0 1 0 -3.80 0M411.1 687.7a1.90 1.90 0 1 0 3.80 0a1.90 1.90 0 1 0 -3.80 0M435.2 681.7a1.90 1.90 0 1 0 3.80 0a1.90 1.90 0 1 0 -3.80 0M434.9 681.7a1.90 1.90 0 1 0 3.80 0a1.90 1.90 0 1 0 -3.80 0M445.1 675.8a1.90 1.90 0 1 0 3.80 0a1.90 1.90 0 1 0 -3.80 0M438.1 675.0a1.90 1.90 0 1 0 3.80 0a1.90 1.90 0 1 0 -3.80 0M418.8 684.5a1.90 1.90 0 1 0 3.80 0a1.90 1.90 0 1 0 -3.80 0M426.9 682.1a1.90 1.90 0 1 0 3.80 0a1.90 1.90 0 1 0 -3.80 0M420.7 683.4a1.90 1.90 0 1 0 3.80 0a1.90 1.90 0 1 0 -3.80 0M479.8 653.9a1.90 1.90 0 1 0 3.80 0a1.90 1.90 0 1 0 -3.80 0M419.6 684.4a1.90 1.90 0 1 0 3.80 0a1.90 1.90 0 1 0 -3.80 0M413.9 685.1a1.90 1.90 0 1 0 3.80 0a1.90 1.90 0 1 0 -3.80 0M432.9 678.1a1.90 1.90 0 1 0 3.80 0a1.90 1.90 0 1 0 -3.80 0M422.7 680.4a1.90 1.90 0 1 0 3.80 0a1.90 1.90 0 1 0 -3.80 0M449.2 664.5a1.90 1.90 0 1 0 3.80 0a1.90 1.90 0 1 0 -3.80 0M471.8 665.4a1.90 1.90 0 1 0 3.80 0a1.90 1.90 0 1 0 -3.80 0M447.2 664.6a1.90 1.90 0 1 0 3.80 0a1.90 1.90 0 1 0 -3.80 0M427.7 684.1a1.90 1.90 0 1 0 3.80 0a1.90 1.90 0 1 0 -3.80 0M422.0 681.0a1.90 1.90 0 1 0 3.80 0a1.90 1.90 0 1 0 -3.80 0M452.7 671.3a1.90 1.90 0 1 0 3.80 0a1.90 1.90 0 1 0 -3.80 0M429.7 675.4a1.90 1.90 0 1 0 3.80 0a1.90 1.90 0 1 0 -3.80 0M451.9 665.8a1.90 1.90 0 1 0 3.80 0a1.90 1.90 0 1 0 -3.80 0M539.5 611.0a1.90 1.90 0 1 0 3.80 0a1.90 1.90 0 1 0 -3.80 0M440.0 674.0a1.90 1.90 0 1 0 3.80 0a1.90 1.90 0 1 0 -3.80 0M488.2 642.1a1.90 1.90 0 1 0 3.80 0a1.90 1.90 0 1 0 -3.80 0M461.4 668.7a1.90 1.90 0 1 0 3.80 0a1.90 1.90 0 1 0 -3.80 0M422.4 683.3a1.90 1.90 0 1 0 3.80 0a1.90 1.90 0 1 0 -3.80 0M501.1 638.0a1.90 1.90 0 1 0 3.80 0a1.90 1.90 0 1 0 -3.80 0M468.7 662.0a1.90 1.90 0 1 0 3.80 0a1.90 1.90 0 1 0 -3.80 0M416.5 685.2a1.90 1.90 0 1 0 3.80 0a1.90 1.90 0 1 0 -3.80 0M449.5 672.1a1.90 1.90 0 1 0 3.80 0a1.90 1.90 0 1 0 -3.80 0M544.3 610.8a1.90 1.90 0 1 0 3.80 0a1.90 1.90 0 1 0 -3.80 0M479.6 642.0a1.90 1.90 0 1 0 3.80 0a1.90 1.90 0 1 0 -3.80 0M470.3 666.1a1.90 1.90 0 1 0 3.80 0a1.90 1.90 0 1 0 -3.80 0M426.3 682.2a1.90 1.90 0 1 0 3.80 0a1.90 1.90 0 1 0 -3.80 0M437.6 679.7a1.90 1.90 0 1 0 3.80 0a1.90 1.90 0 1 0 -3.80 0M455.2 663.6a1.90 1.90 0 1 0 3.80 0a1.90 1.90 0 1 0 -3.80 0M420.5 684.9a1.90 1.90 0 1 0 3.80 0a1.90 1.90 0 1 0 -3.80 0M409.4 688.1a1.90 1.90 0 1 0 3.80 0a1.90 1.90 0 1 0 -3.80 0M525.8 595.7a1.90 1.90 0 1 0 3.80 0a1.90 1.90 0 1 0 -3.80 0M421.4 684.2a1.90 1.90 0 1 0 3.80 0a1.90 1.90 0 1 0 -3.80 0M526.2 619.6a1.90 1.90 0 1 0 3.80 0a1.90 1.90 0 1 0 -3.80 0M432.7 677.9a1.90 1.90 0 1 0 3.80 0a1.90 1.90 0 1 0 -3.80 0M417.8 686.0a1.90 1.90 0 1 0 3.80 0a1.90 1.90 0 1 0 -3.80 0M414.6 686.2a1.90 1.90 0 1 0 3.80 0a1.90 1.90 0 1 0 -3.80 0M486.5 650.7a1.90 1.90 0 1 0 3.80 0a1.90 1.90 0 1 0 -3.80 0M428.8 680.4a1.90 1.90 0 1 0 3.80 0a1.90 1.90 0 1 0 -3.80 0M412.1 688.1a1.90 1.90 0 1 0 3.80 0a1.90 1.90 0 1 0 -3.80 0M452.6 666.9a1.90 1.90 0 1 0 3.80 0a1.90 1.90 0 1 0 -3.80 0M438.1 674.4a1.90 1.90 0 1 0 3.80 0a1.90 1.90 0 1 0 -3.80 0M422.1 685.5a1.90 1.90 0 1 0 3.80 0a1.90 1.90 0 1 0 -3.80 0M421.1 684.2a1.90 1.90 0 1 0 3.80 0a1.90 1.90 0 1 0 -3.80 0M421.1 682.7a1.90 1.90 0 1 0 3.80 0a1.90 1.90 0 1 0 -3.80 0M438.2 680.7a1.90 1.90 0 1 0 3.80 0a1.90 1.90 0 1 0 -3.80 0M424.5 682.9a1.90 1.90 0 1 0 3.80 0a1.90 1.90 0 1 0 -3.80 0M414.2 685.7a1.90 1.90 0 1 0 3.80 0a1.90 1.90 0 1 0 -3.80 0M482.9 657.2a1.90 1.90 0 1 0 3.80 0a1.90 1.90 0 1 0 -3.80 0M506.0 636.6a1.90 1.90 0 1 0 3.80 0a1.90 1.90 0 1 0 -3.80 0M433.0 675.6a1.90 1.90 0 1 0 3.80 0a1.90 1.90 0 1 0 -3.80 0M438.7 676.3a1.90 1.90 0 1 0 3.80 0a1.90 1.90 0 1 0 -3.80 0M483.3 652.3a1.90 1.90 0 1 0 3.80 0a1.90 1.90 0 1 0 -3.80 0M421.5 685.2a1.90 1.90 0 1 0 3.80 0a1.90 1.90 0 1 0 -3.80 0M451.3 668.8a1.90 1.90 0 1 0 3.80 0a1.90 1.90 0 1 0 -3.80 0M498.8 639.5a1.90 1.90 0 1 0 3.80 0a1.90 1.90 0 1 0 -3.80 0M431.1 673.7a1.90 1.90 0 1 0 3.80 0a1.90 1.90 0 1 0 -3.80 0M408.2 688.0a1.90 1.90 0 1 0 3.80 0a1.90 1.90 0 1 0 -3.80 0M413.5 687.4a1.90 1.90 0 1 0 3.80 0a1.90 1.90 0 1 0 -3.80 0M420.4 685.0a1.90 1.90 0 1 0 3.80 0a1.90 1.90 0 1 0 -3.80 0M437.4 677.5a1.90 1.90 0 1 0 3.80 0a1.90 1.90 0 1 0 -3.80 0M409.5 688.0a1.90 1.90 0 1 0 3.80 0a1.90 1.90 0 1 0 -3.80 0M410.9 688.1a1.90 1.90 0 1 0 3.80 0a1.90 1.90 0 1 0 -3.80 0M453.7 671.2a1.90 1.90 0 1 0 3.80 0a1.90 1.90 0 1 0 -3.80 0M464.3 662.8a1.90 1.90 0 1 0 3.80 0a1.90 1.90 0 1 0 -3.80 0M433.5 675.7a1.90 1.90 0 1 0 3.80 0a1.90 1.90 0 1 0 -3.80 0M493.1 648.5a1.90 1.90 0 1 0 3.80 0a1.90 1.90 0 1 0 -3.80 0M490.1 635.4a1.90 1.90 0 1 0 3.80 0a1.90 1.90 0 1 0 -3.80 0M484.3 649.0a1.90 1.90 0 1 0 3.80 0a1.90 1.90 0 1 0 -3.80 0M413.1 686.8a1.90 1.90 0 1 0 3.80 0a1.90 1.90 0 1 0 -3.80 0M549.1 605.4a1.90 1.90 0 1 0 3.80 0a1.90 1.90 0 1 0 -3.80 0M411.4 686.6a1.90 1.90 0 1 0 3.80 0a1.90 1.90 0 1 0 -3.80 0M428.9 679.1a1.90 1.90 0 1 0 3.80 0a1.90 1.90 0 1 0 -3.80 0M449.8 673.4a1.90 1.90 0 1 0 3.80 0a1.90 1.90 0 1 0 -3.80 0M431.9 677.4a1.90 1.90 0 1 0 3.80 0a1.90 1.90 0 1 0 -3.80 0M464.6 663.1a1.90 1.90 0 1 0 3.80 0a1.90 1.90 0 1 0 -3.80 0M430.5 681.4a1.90 1.90 0 1 0 3.80 0a1.90 1.90 0 1 0 -3.80 0M413.2 687.5a1.90 1.90 0 1 0 3.80 0a1.90 1.90 0 1 0 -3.80 0M435.7 680.6a1.90 1.90 0 1 0 3.80 0a1.90 1.90 0 1 0 -3.80 0M567.1 584.1a1.90 1.90 0 1 0 3.80 0a1.90 1.90 0 1 0 -3.80 0M409.5 687.6a1.90 1.90 0 1 0 3.80 0a1.90 1.90 0 1 0 -3.80 0M464.4 662.5a1.90 1.90 0 1 0 3.80 0a1.90 1.90 0 1 0 -3.80 0M414.6 686.9a1.90 1.90 0 1 0 3.80 0a1.90 1.90 0 1 0 -3.80 0M419.6 685.1a1.90 1.90 0 1 0 3.80 0a1.90 1.90 0 1 0 -3.80 0M423.1 682.6a1.90 1.90 0 1 0 3.80 0a1.90 1.90 0 1 0 -3.80 0M470.4 660.9a1.90 1.90 0 1 0 3.80 0a1.90 1.90 0 1 0 -3.80 0M438.9 677.0a1.90 1.90 0 1 0 3.80 0a1.90 1.90 0 1 0 -3.80 0M442.5 670.2a1.90 1.90 0 1 0 3.80 0a1.90 1.90 0 1 0 -3.80 0M411.5 686.9a1.90 1.90 0 1 0 3.80 0a1.90 1.90 0 1 0 -3.80 0M473.7 658.7a1.90 1.90 0 1 0 3.80 0a1.90 1.90 0 1 0 -3.80 0M430.5 680.2a1.90 1.90 0 1 0 3.80 0a1.90 1.90 0 1 0 -3.80 0M425.8 683.9a1.90 1.90 0 1 0 3.80 0a1.90 1.90 0 1 0 -3.80 0M513.4 618.3a1.90 1.90 0 1 0 3.80 0a1.90 1.90 0 1 0 -3.80 0M479.8 652.0a1.90 1.90 0 1 0 3.80 0a1.90 1.90 0 1 0 -3.80 0M440.5 678.6a1.90 1.90 0 1 0 3.80 0a1.90 1.90 0 1 0 -3.80 0M471.0 666.3a1.90 1.90 0 1 0 3.80 0a1.90 1.90 0 1 0 -3.80 0M413.7 686.9a1.90 1.90 0 1 0 3.80 0a1.90 1.90 0 1 0 -3.80 0M433.7 679.0a1.90 1.90 0 1 0 3.80 0a1.90 1.90 0 1 0 -3.80 0M445.3 675.8a1.90 1.90 0 1 0 3.80 0a1.90 1.90 0 1 0 -3.80 0M427.4 681.2a1.90 1.90 0 1 0 3.80 0a1.90 1.90 0 1 0 -3.80 0M421.8 680.6a1.90 1.90 0 1 0 3.80 0a1.90 1.90 0 1 0 -3.80 0M435.1 682.6a1.90 1.90 0 1 0 3.80 0a1.90 1.90 0 1 0 -3.80 0M413.9 686.5a1.90 1.90 0 1 0 3.80 0a1.90 1.90 0 1 0 -3.80 0M435.3 675.2a1.90 1.90 0 1 0 3.80 0a1.90 1.90 0 1 0 -3.80 0M493.1 647.1a1.90 1.90 0 1 0 3.80 0a1.90 1.90 0 1 0 -3.80 0M460.1 663.1a1.90 1.90 0 1 0 3.80 0a1.90 1.90 0 1 0 -3.80 0M448.9 673.7a1.90 1.90 0 1 0 3.80 0a1.90 1.90 0 1 0 -3.80 0M423.8 681.5a1.90 1.90 0 1 0 3.80 0a1.90 1.90 0 1 0 -3.80 0M568.8 556.3a1.90 1.90 0 1 0 3.80 0a1.90 1.90 0 1 0 -3.80 0M441.9 670.0a1.90 1.90 0 1 0 3.80 0a1.90 1.90 0 1 0 -3.80 0M415.5 686.5a1.90 1.90 0 1 0 3.80 0a1.90 1.90 0 1 0 -3.80 0M581.6 573.4a1.90 1.90 0 1 0 3.80 0a1.90 1.90 0 1 0 -3.80 0M573.4 583.0a1.90 1.90 0 1 0 3.80 0a1.90 1.90 0 1 0 -3.80 0M442.3 677.0a1.90 1.90 0 1 0 3.80 0a1.90 1.90 0 1 0 -3.80 0M466.3 663.4a1.90 1.90 0 1 0 3.80 0a1.90 1.90 0 1 0 -3.80 0M456.8 662.5a1.90 1.90 0 1 0 3.80 0a1.90 1.90 0 1 0 -3.80 0M446.0 673.7a1.90 1.90 0 1 0 3.80 0a1.90 1.90 0 1 0 -3.80 0M476.0 655.6a1.90 1.90 0 1 0 3.80 0a1.90 1.90 0 1 0 -3.80 0M422.5 684.5a1.90 1.90 0 1 0 3.80 0a1.90 1.90 0 1 0 -3.80 0M422.8 680.4a1.90 1.90 0 1 0 3.80 0a1.90 1.90 0 1 0 -3.80 0M416.8 685.5a1.90 1.90 0 1 0 3.80 0a1.90 1.90 0 1 0 -3.80 0M456.2 670.7a1.90 1.90 0 1 0 3.80 0a1.90 1.90 0 1 0 -3.80 0M440.0 674.5a1.90 1.90 0 1 0 3.80 0a1.90 1.90 0 1 0 -3.80 0M437.1 678.2a1.90 1.90 0 1 0 3.80 0a1.90 1.90 0 1 0 -3.80 0M486.8 651.0a1.90 1.90 0 1 0 3.80 0a1.90 1.90 0 1 0 -3.80 0M425.5 680.4a1.90 1.90 0 1 0 3.80 0a1.90 1.90 0 1 0 -3.80 0M434.7 678.2a1.90 1.90 0 1 0 3.80 0a1.90 1.90 0 1 0 -3.80 0M458.7 670.3a1.90 1.90 0 1 0 3.80 0a1.90 1.90 0 1 0 -3.80 0M558.1 608.1a1.90 1.90 0 1 0 3.80 0a1.90 1.90 0 1 0 -3.80 0M556.6 594.7a1.90 1.90 0 1 0 3.80 0a1.90 1.90 0 1 0 -3.80 0M470.9 665.0a1.90 1.90 0 1 0 3.80 0a1.90 1.90 0 1 0 -3.80 0M444.6 674.8a1.90 1.90 0 1 0 3.80 0a1.90 1.90 0 1 0 -3.80 0M468.7 668.7a1.90 1.90 0 1 0 3.80 0a1.90 1.90 0 1 0 -3.80 0M469.3 659.7a1.90 1.90 0 1 0 3.80 0a1.90 1.90 0 1 0 -3.80 0M487.3 647.2a1.90 1.90 0 1 0 3.80 0a1.90 1.90 0 1 0 -3.80 0M438.9 671.1a1.90 1.90 0 1 0 3.80 0a1.90 1.90 0 1 0 -3.80 0M411.7 686.0a1.90 1.90 0 1 0 3.80 0a1.90 1.90 0 1 0 -3.80 0M470.2 659.1a1.90 1.90 0 1 0 3.80 0a1.90 1.90 0 1 0 -3.80 0M427.0 685.3a1.90 1.90 0 1 0 3.80 0a1.90 1.90 0 1 0 -3.80 0M440.5 675.5a1.90 1.90 0 1 0 3.80 0a1.90 1.90 0 1 0 -3.80 0M421.3 682.7a1.90 1.90 0 1 0 3.80 0a1.90 1.90 0 1 0 -3.80 0M448.0 668.3a1.90 1.90 0 1 0 3.80 0a1.90 1.90 0 1 0 -3.80 0M412.5 686.9a1.90 1.90 0 1 0 3.80 0a1.90 1.90 0 1 0 -3.80 0M431.2 681.8a1.90 1.90 0 1 0 3.80 0a1.90 1.90 0 1 0 -3.80 0M470.7 657.9a1.90 1.90 0 1 0 3.80 0a1.90 1.90 0 1 0 -3.80 0M432.8 679.4a1.90 1.90 0 1 0 3.80 0a1.90 1.90 0 1 0 -3.80 0M430.4 678.9a1.90 1.90 0 1 0 3.80 0a1.90 1.90 0 1 0 -3.80 0M506.8 612.0a1.90 1.90 0 1 0 3.80 0a1.90 1.90 0 1 0 -3.80 0M435.2 679.7a1.90 1.90 0 1 0 3.80 0a1.90 1.90 0 1 0 -3.80 0M432.0 682.6a1.90 1.90 0 1 0 3.80 0a1.90 1.90 0 1 0 -3.80 0M416.9 686.2a1.90 1.90 0 1 0 3.80 0a1.90 1.90 0 1 0 -3.80 0M452.7 671.4a1.90 1.90 0 1 0 3.80 0a1.90 1.90 0 1 0 -3.80 0M486.9 649.3a1.90 1.90 0 1 0 3.80 0a1.90 1.90 0 1 0 -3.80 0M451.9 667.7a1.90 1.90 0 1 0 3.80 0a1.90 1.90 0 1 0 -3.80 0M427.5 680.7a1.90 1.90 0 1 0 3.80 0a1.90 1.90 0 1 0 -3.80 0M462.1 669.9a1.90 1.90 0 1 0 3.80 0a1.90 1.90 0 1 0 -3.80 0M441.7 677.5a1.90 1.90 0 1 0 3.80 0a1.90 1.90 0 1 0 -3.80 0M429.9 678.8a1.90 1.90 0 1 0 3.80 0a1.90 1.90 0 1 0 -3.80 0M416.2 684.0a1.90 1.90 0 1 0 3.80 0a1.90 1.90 0 1 0 -3.80 0M457.3 663.6a1.90 1.90 0 1 0 3.80 0a1.90 1.90 0 1 0 -3.80 0M441.6 678.2a1.90 1.90 0 1 0 3.80 0a1.90 1.90 0 1 0 -3.80 0M508.3 629.9a1.90 1.90 0 1 0 3.80 0a1.90 1.90 0 1 0 -3.80 0M423.1 684.6a1.90 1.90 0 1 0 3.80 0a1.90 1.90 0 1 0 -3.80 0M444.3 679.3a1.90 1.90 0 1 0 3.80 0a1.90 1.90 0 1 0 -3.80 0M458.5 666.4a1.90 1.90 0 1 0 3.80 0a1.90 1.90 0 1 0 -3.80 0M425.9 681.4a1.90 1.90 0 1 0 3.80 0a1.90 1.90 0 1 0 -3.80 0M430.8 684.9a1.90 1.90 0 1 0 3.80 0a1.90 1.90 0 1 0 -3.80 0M432.2 680.3a1.90 1.90 0 1 0 3.80 0a1.90 1.90 0 1 0 -3.80 0M456.0 670.2a1.90 1.90 0 1 0 3.80 0a1.90 1.90 0 1 0 -3.80 0M534.8 592.6a1.90 1.90 0 1 0 3.80 0a1.90 1.90 0 1 0 -3.80 0M461.5 660.1a1.90 1.90 0 1 0 3.80 0a1.90 1.90 0 1 0 -3.80 0M411.4 687.6a1.90 1.90 0 1 0 3.80 0a1.90 1.90 0 1 0 -3.80 0M418.5 684.1a1.90 1.90 0 1 0 3.80 0a1.90 1.90 0 1 0 -3.80 0M438.6 677.3a1.90 1.90 0 1 0 3.80 0a1.90 1.90 0 1 0 -3.80 0M471.5 656.2a1.90 1.90 0 1 0 3.80 0a1.90 1.90 0 1 0 -3.80 0M448.1 677.5a1.90 1.90 0 1 0 3.80 0a1.90 1.90 0 1 0 -3.80 0M467.2 659.1a1.90 1.90 0 1 0 3.80 0a1.90 1.90 0 1 0 -3.80 0M421.0 682.9a1.90 1.90 0 1 0 3.80 0a1.90 1.90 0 1 0 -3.80 0M431.7 683.4a1.90 1.90 0 1 0 3.80 0a1.90 1.90 0 1 0 -3.80 0M411.2 687.0a1.90 1.90 0 1 0 3.80 0a1.90 1.90 0 1 0 -3.80 0M441.8 670.4a1.90 1.90 0 1 0 3.80 0a1.90 1.90 0 1 0 -3.80 0M550.9 594.3a1.90 1.90 0 1 0 3.80 0a1.90 1.90 0 1 0 -3.80 0M417.9 683.0a1.90 1.90 0 1 0 3.80 0a1.90 1.90 0 1 0 -3.80 0M465.7 667.5a1.90 1.90 0 1 0 3.80 0a1.90 1.90 0 1 0 -3.80 0M458.8 671.4a1.90 1.90 0 1 0 3.80 0a1.90 1.90 0 1 0 -3.80 0M529.0 623.1a1.90 1.90 0 1 0 3.80 0a1.90 1.90 0 1 0 -3.80 0M452.9 667.0a1.90 1.90 0 1 0 3.80 0a1.90 1.90 0 1 0 -3.80 0M480.7 663.6a1.90 1.90 0 1 0 3.80 0a1.90 1.90 0 1 0 -3.80 0M452.2 667.5a1.90 1.90 0 1 0 3.80 0a1.90 1.90 0 1 0 -3.80 0M460.3 667.6a1.90 1.90 0 1 0 3.80 0a1.90 1.90 0 1 0 -3.80 0M418.5 684.2a1.90 1.90 0 1 0 3.80 0a1.90 1.90 0 1 0 -3.80 0M415.5 685.9a1.90 1.90 0 1 0 3.80 0a1.90 1.90 0 1 0 -3.80 0M449.3 672.4a1.90 1.90 0 1 0 3.80 0a1.90 1.90 0 1 0 -3.80 0M440.4 674.6a1.90 1.90 0 1 0 3.80 0a1.90 1.90 0 1 0 -3.80 0M445.7 669.8a1.90 1.90 0 1 0 3.80 0a1.90 1.90 0 1 0 -3.80 0M504.6 622.1a1.90 1.90 0 1 0 3.80 0a1.90 1.90 0 1 0 -3.80 0M413.3 686.3a1.90 1.90 0 1 0 3.80 0a1.90 1.90 0 1 0 -3.80 0M439.2 673.9a1.90 1.90 0 1 0 3.80 0a1.90 1.90 0 1 0 -3.80 0M497.5 641.5a1.90 1.90 0 1 0 3.80 0a1.90 1.90 0 1 0 -3.80 0M417.8 685.8a1.90 1.90 0 1 0 3.80 0a1.90 1.90 0 1 0 -3.80 0M409.0 688.6a1.90 1.90 0 1 0 3.80 0a1.90 1.90 0 1 0 -3.80 0M466.9 663.3a1.90 1.90 0 1 0 3.80 0a1.90 1.90 0 1 0 -3.80 0M457.9 667.8a1.90 1.90 0 1 0 3.80 0a1.90 1.90 0 1 0 -3.80 0M411.1 686.9a1.90 1.90 0 1 0 3.80 0a1.90 1.90 0 1 0 -3.80 0M496.9 625.2a1.90 1.90 0 1 0 3.80 0a1.90 1.90 0 1 0 -3.80 0M426.5 684.5a1.90 1.90 0 1 0 3.80 0a1.90 1.90 0 1 0 -3.80 0M429.9 684.3a1.90 1.90 0 1 0 3.80 0a1.90 1.90 0 1 0 -3.80 0M458.9 670.2a1.90 1.90 0 1 0 3.80 0a1.90 1.90 0 1 0 -3.80 0M474.8 655.9a1.90 1.90 0 1 0 3.80 0a1.90 1.90 0 1 0 -3.80 0M417.2 683.1a1.90 1.90 0 1 0 3.80 0a1.90 1.90 0 1 0 -3.80 0M449.2 676.4a1.90 1.90 0 1 0 3.80 0a1.90 1.90 0 1 0 -3.80 0M437.1 681.7a1.90 1.90 0 1 0 3.80 0a1.90 1.90 0 1 0 -3.80 0M516.9 631.3a1.90 1.90 0 1 0 3.80 0a1.90 1.90 0 1 0 -3.80 0M420.8 682.2a1.90 1.90 0 1 0 3.80 0a1.90 1.90 0 1 0 -3.80 0M515.6 626.6a1.90 1.90 0 1 0 3.80 0a1.90 1.90 0 1 0 -3.80 0M409.2 687.6a1.90 1.90 0 1 0 3.80 0a1.90 1.90 0 1 0 -3.80 0M465.2 668.3a1.90 1.90 0 1 0 3.80 0a1.90 1.90 0 1 0 -3.80 0M468.5 657.9a1.90 1.90 0 1 0 3.80 0a1.90 1.90 0 1 0 -3.80 0M508.3 629.9a1.90 1.90 0 1 0 3.80 0a1.90 1.90 0 1 0 -3.80 0M488.6 645.4a1.90 1.90 0 1 0 3.80 0a1.90 1.90 0 1 0 -3.80 0M411.5 687.4a1.90 1.90 0 1 0 3.80 0a1.90 1.90 0 1 0 -3.80 0M423.1 684.7a1.90 1.90 0 1 0 3.80 0a1.90 1.90 0 1 0 -3.80 0M499.7 626.6a1.90 1.90 0 1 0 3.80 0a1.90 1.90 0 1 0 -3.80 0M449.8 674.0a1.90 1.90 0 1 0 3.80 0a1.90 1.90 0 1 0 -3.80 0M435.8 675.8a1.90 1.90 0 1 0 3.80 0a1.90 1.90 0 1 0 -3.80 0M518.1 622.6a1.90 1.90 0 1 0 3.80 0a1.90 1.90 0 1 0 -3.80 0M459.2 671.3a1.90 1.90 0 1 0 3.80 0a1.90 1.90 0 1 0 -3.80 0M414.6 685.4a1.90 1.90 0 1 0 3.80 0a1.90 1.90 0 1 0 -3.80 0M443.0 678.1a1.90 1.90 0 1 0 3.80 0a1.90 1.90 0 1 0 -3.80 0M428.2 680.9a1.90 1.90 0 1 0 3.80 0a1.90 1.90 0 1 0 -3.80 0M416.8 684.6a1.90 1.90 0 1 0 3.80 0a1.90 1.90 0 1 0 -3.80 0M432.5 680.6a1.90 1.90 0 1 0 3.80 0a1.90 1.90 0 1 0 -3.80 0M427.2 683.0a1.90 1.90 0 1 0 3.80 0a1.90 1.90 0 1 0 -3.80 0M439.0 674.0a1.90 1.90 0 1 0 3.80 0a1.90 1.90 0 1 0 -3.80 0M436.9 678.2a1.90 1.90 0 1 0 3.80 0a1.90 1.90 0 1 0 -3.80 0M429.4 682.7a1.90 1.90 0 1 0 3.80 0a1.90 1.90 0 1 0 -3.80 0M426.3 682.0a1.90 1.90 0 1 0 3.80 0a1.90 1.90 0 1 0 -3.80 0M439.6 674.1a1.90 1.90 0 1 0 3.80 0a1.90 1.90 0 1 0 -3.80 0M434.2 677.4a1.90 1.90 0 1 0 3.80 0a1.90 1.90 0 1 0 -3.80 0M439.4 675.4a1.90 1.90 0 1 0 3.80 0a1.90 1.90 0 1 0 -3.80 0M437.9 676.0a1.90 1.90 0 1 0 3.80 0a1.90 1.90 0 1 0 -3.80 0M418.9 685.1a1.90 1.90 0 1 0 3.80 0a1.90 1.90 0 1 0 -3.80 0M446.6 677.1a1.90 1.90 0 1 0 3.80 0a1.90 1.90 0 1 0 -3.80 0M415.3 686.2a1.90 1.90 0 1 0 3.80 0a1.90 1.90 0 1 0 -3.80 0M460.9 673.4a1.90 1.90 0 1 0 3.80 0a1.90 1.90 0 1 0 -3.80 0M537.2 599.5a1.90 1.90 0 1 0 3.80 0a1.90 1.90 0 1 0 -3.80 0M436.2 680.7a1.90 1.90 0 1 0 3.80 0a1.90 1.90 0 1 0 -3.80 0M442.1 679.4a1.90 1.90 0 1 0 3.80 0a1.90 1.90 0 1 0 -3.80 0M436.5 672.7a1.90 1.90 0 1 0 3.80 0a1.90 1.90 0 1 0 -3.80 0M415.2 686.2a1.90 1.90 0 1 0 3.80 0a1.90 1.90 0 1 0 -3.80 0M454.6 668.6a1.90 1.90 0 1 0 3.80 0a1.90 1.90 0 1 0 -3.80 0M417.8 685.2a1.90 1.90 0 1 0 3.80 0a1.90 1.90 0 1 0 -3.80 0M467.5 661.5a1.90 1.90 0 1 0 3.80 0a1.90 1.90 0 1 0 -3.80 0M413.6 686.9a1.90 1.90 0 1 0 3.80 0a1.90 1.90 0 1 0 -3.80 0M443.4 677.1a1.90 1.90 0 1 0 3.80 0a1.90 1.90 0 1 0 -3.80 0M450.0 672.1a1.90 1.90 0 1 0 3.80 0a1.90 1.90 0 1 0 -3.80 0M495.1 638.7a1.90 1.90 0 1 0 3.80 0a1.90 1.90 0 1 0 -3.80 0M455.5 677.7a1.90 1.90 0 1 0 3.80 0a1.90 1.90 0 1 0 -3.80 0M414.8 684.4a1.90 1.90 0 1 0 3.80 0a1.90 1.90 0 1 0 -3.80 0M447.7 675.8a1.90 1.90 0 1 0 3.80 0a1.90 1.90 0 1 0 -3.80 0M443.1 672.5a1.90 1.90 0 1 0 3.80 0a1.90 1.90 0 1 0 -3.80 0M524.4 603.1a1.90 1.90 0 1 0 3.80 0a1.90 1.90 0 1 0 -3.80 0M428.2 681.0a1.90 1.90 0 1 0 3.80 0a1.90 1.90 0 1 0 -3.80 0M432.3 680.8a1.90 1.90 0 1 0 3.80 0a1.90 1.90 0 1 0 -3.80 0M456.7 666.0a1.90 1.90 0 1 0 3.80 0a1.90 1.90 0 1 0 -3.80 0M432.6 680.7a1.90 1.90 0 1 0 3.80 0a1.90 1.90 0 1 0 -3.80 0M416.2 687.0a1.90 1.90 0 1 0 3.80 0a1.90 1.90 0 1 0 -3.80 0M421.0 686.6a1.90 1.90 0 1 0 3.80 0a1.90 1.90 0 1 0 -3.80 0M444.2 672.6a1.90 1.90 0 1 0 3.80 0a1.90 1.90 0 1 0 -3.80 0M439.1 676.0a1.90 1.90 0 1 0 3.80 0a1.90 1.90 0 1 0 -3.80 0M417.4 683.7a1.90 1.90 0 1 0 3.80 0a1.90 1.90 0 1 0 -3.80 0M432.6 680.2a1.90 1.90 0 1 0 3.80 0a1.90 1.90 0 1 0 -3.80 0M442.1 674.4a1.90 1.90 0 1 0 3.80 0a1.90 1.90 0 1 0 -3.80 0M408.0 687.7a1.90 1.90 0 1 0 3.80 0a1.90 1.90 0 1 0 -3.80 0M410.8 687.3a1.90 1.90 0 1 0 3.80 0a1.90 1.90 0 1 0 -3.80 0M408.2 688.3a1.90 1.90 0 1 0 3.80 0a1.90 1.90 0 1 0 -3.80 0M409.6 688.2a1.90 1.90 0 1 0 3.80 0a1.90 1.90 0 1 0 -3.80 0M446.9 670.9a1.90 1.90 0 1 0 3.80 0a1.90 1.90 0 1 0 -3.80 0M443.7 678.0a1.90 1.90 0 1 0 3.80 0a1.90 1.90 0 1 0 -3.80 0M408.9 688.4a1.90 1.90 0 1 0 3.80 0a1.90 1.90 0 1 0 -3.80 0M467.7 652.9a1.90 1.90 0 1 0 3.80 0a1.90 1.90 0 1 0 -3.80 0M483.1 649.2a1.90 1.90 0 1 0 3.80 0a1.90 1.90 0 1 0 -3.80 0M439.9 679.0a1.90 1.90 0 1 0 3.80 0a1.90 1.90 0 1 0 -3.80 0M452.7 674.8a1.90 1.90 0 1 0 3.80 0a1.90 1.90 0 1 0 -3.80 0M453.5 665.4a1.90 1.90 0 1 0 3.80 0a1.90 1.90 0 1 0 -3.80 0M422.9 682.1a1.90 1.90 0 1 0 3.80 0a1.90 1.90 0 1 0 -3.80 0M518.9 616.1a1.90 1.90 0 1 0 3.80 0a1.90 1.90 0 1 0 -3.80 0M417.5 684.2a1.90 1.90 0 1 0 3.80 0a1.90 1.90 0 1 0 -3.80 0M427.2 679.2a1.90 1.90 0 1 0 3.80 0a1.90 1.90 0 1 0 -3.80 0M470.3 658.1a1.90 1.90 0 1 0 3.80 0a1.90 1.90 0 1 0 -3.80 0M422.3 683.1a1.90 1.90 0 1 0 3.80 0a1.90 1.90 0 1 0 -3.80 0M532.1 611.5a1.90 1.90 0 1 0 3.80 0a1.90 1.90 0 1 0 -3.80 0M523.5 613.2a1.90 1.90 0 1 0 3.80 0a1.90 1.90 0 1 0 -3.80 0M407.6 688.3a1.90 1.90 0 1 0 3.80 0a1.90 1.90 0 1 0 -3.80 0M433.4 678.1a1.90 1.90 0 1 0 3.80 0a1.90 1.90 0 1 0 -3.80 0M438.2 680.0a1.90 1.90 0 1 0 3.80 0a1.90 1.90 0 1 0 -3.80 0M426.6 683.2a1.90 1.90 0 1 0 3.80 0a1.90 1.90 0 1 0 -3.80 0M417.1 687.0a1.90 1.90 0 1 0 3.80 0a1.90 1.90 0 1 0 -3.80 0M428.7 682.6a1.90 1.90 0 1 0 3.80 0a1.90 1.90 0 1 0 -3.80 0M439.8 676.7a1.90 1.90 0 1 0 3.80 0a1.90 1.90 0 1 0 -3.80 0M436.5 678.6a1.90 1.90 0 1 0 3.80 0a1.90 1.90 0 1 0 -3.80 0M430.2 680.9a1.90 1.90 0 1 0 3.80 0a1.90 1.90 0 1 0 -3.80 0M452.3 669.6a1.90 1.90 0 1 0 3.80 0a1.90 1.90 0 1 0 -3.80 0M430.8 678.3a1.90 1.90 0 1 0 3.80 0a1.90 1.90 0 1 0 -3.80 0M507.1 628.1a1.90 1.90 0 1 0 3.80 0a1.90 1.90 0 1 0 -3.80 0M419.4 684.5a1.90 1.90 0 1 0 3.80 0a1.90 1.90 0 1 0 -3.80 0M436.1 674.9a1.90 1.90 0 1 0 3.80 0a1.90 1.90 0 1 0 -3.80 0M455.5 674.3a1.90 1.90 0 1 0 3.80 0a1.90 1.90 0 1 0 -3.80 0M460.0 670.8a1.90 1.90 0 1 0 3.80 0a1.90 1.90 0 1 0 -3.80 0M509.9 636.3a1.90 1.90 0 1 0 3.80 0a1.90 1.90 0 1 0 -3.80 0M423.7 684.0a1.90 1.90 0 1 0 3.80 0a1.90 1.90 0 1 0 -3.80 0M479.7 656.2a1.90 1.90 0 1 0 3.80 0a1.90 1.90 0 1 0 -3.80 0M436.5 678.4a1.90 1.90 0 1 0 3.80 0a1.90 1.90 0 1 0 -3.80 0M408.7 688.3a1.90 1.90 0 1 0 3.80 0a1.90 1.90 0 1 0 -3.80 0M473.4 668.7a1.90 1.90 0 1 0 3.80 0a1.90 1.90 0 1 0 -3.80 0M412.7 686.3a1.90 1.90 0 1 0 3.80 0a1.90 1.90 0 1 0 -3.80 0M424.7 682.1a1.90 1.90 0 1 0 3.80 0a1.90 1.90 0 1 0 -3.80 0M455.9 670.4a1.90 1.90 0 1 0 3.80 0a1.90 1.90 0 1 0 -3.80 0M423.5 681.9a1.90 1.90 0 1 0 3.80 0a1.90 1.90 0 1 0 -3.80 0M417.4 685.1a1.90 1.90 0 1 0 3.80 0a1.90 1.90 0 1 0 -3.80 0M456.8 667.3a1.90 1.90 0 1 0 3.80 0a1.90 1.90 0 1 0 -3.80 0M481.5 650.8a1.90 1.90 0 1 0 3.80 0a1.90 1.90 0 1 0 -3.80 0M422.5 683.0a1.90 1.90 0 1 0 3.80 0a1.90 1.90 0 1 0 -3.80 0M428.1 683.0a1.90 1.90 0 1 0 3.80 0a1.90 1.90 0 1 0 -3.80 0M451.6 671.4a1.90 1.90 0 1 0 3.80 0a1.90 1.90 0 1 0 -3.80 0M439.7 675.4a1.90 1.90 0 1 0 3.80 0a1.90 1.90 0 1 0 -3.80 0M430.3 676.1a1.90 1.90 0 1 0 3.80 0a1.90 1.90 0 1 0 -3.80 0M539.2 596.6a1.90 1.90 0 1 0 3.80 0a1.90 1.90 0 1 0 -3.80 0M429.2 683.7a1.90 1.90 0 1 0 3.80 0a1.90 1.90 0 1 0 -3.80 0M417.6 685.2a1.90 1.90 0 1 0 3.80 0a1.90 1.90 0 1 0 -3.80 0M427.0 681.8a1.90 1.90 0 1 0 3.80 0a1.90 1.90 0 1 0 -3.80 0M450.4 669.5a1.90 1.90 0 1 0 3.80 0a1.90 1.90 0 1 0 -3.80 0M420.6 687.0a1.90 1.90 0 1 0 3.80 0a1.90 1.90 0 1 0 -3.80 0M416.7 686.5a1.90 1.90 0 1 0 3.80 0a1.90 1.90 0 1 0 -3.80 0M410.6 686.3a1.90 1.90 0 1 0 3.80 0a1.90 1.90 0 1 0 -3.80 0M560.9 583.5a1.90 1.90 0 1 0 3.80 0a1.90 1.90 0 1 0 -3.80 0M458.2 661.4a1.90 1.90 0 1 0 3.80 0a1.90 1.90 0 1 0 -3.80 0M413.9 686.3a1.90 1.90 0 1 0 3.80 0a1.90 1.90 0 1 0 -3.80 0M455.5 669.4a1.90 1.90 0 1 0 3.80 0a1.90 1.90 0 1 0 -3.80 0M452.7 673.8a1.90 1.90 0 1 0 3.80 0a1.90 1.90 0 1 0 -3.80 0M491.1 647.6a1.90 1.90 0 1 0 3.80 0a1.90 1.90 0 1 0 -3.80 0M491.2 645.2a1.90 1.90 0 1 0 3.80 0a1.90 1.90 0 1 0 -3.80 0M469.8 654.7a1.90 1.90 0 1 0 3.80 0a1.90 1.90 0 1 0 -3.80 0M414.0 685.8a1.90 1.90 0 1 0 3.80 0a1.90 1.90 0 1 0 -3.80 0M443.2 671.1a1.90 1.90 0 1 0 3.80 0a1.90 1.90 0 1 0 -3.80 0M444.7 674.8a1.90 1.90 0 1 0 3.80 0a1.90 1.90 0 1 0 -3.80 0M448.0 675.2a1.90 1.90 0 1 0 3.80 0a1.90 1.90 0 1 0 -3.80 0M407.8 688.7a1.90 1.90 0 1 0 3.80 0a1.90 1.90 0 1 0 -3.80 0M445.5 672.7a1.90 1.90 0 1 0 3.80 0a1.90 1.90 0 1 0 -3.80 0M427.2 680.5a1.90 1.90 0 1 0 3.80 0a1.90 1.90 0 1 0 -3.80 0M470.5 657.5a1.90 1.90 0 1 0 3.80 0a1.90 1.90 0 1 0 -3.80 0M444.0 672.8a1.90 1.90 0 1 0 3.80 0a1.90 1.90 0 1 0 -3.80 0M422.8 678.9a1.90 1.90 0 1 0 3.80 0a1.90 1.90 0 1 0 -3.80 0M416.1 685.6a1.90 1.90 0 1 0 3.80 0a1.90 1.90 0 1 0 -3.80 0M429.7 677.8a1.90 1.90 0 1 0 3.80 0a1.90 1.90 0 1 0 -3.80 0M446.6 670.2a1.90 1.90 0 1 0 3.80 0a1.90 1.90 0 1 0 -3.80 0M435.4 678.0a1.90 1.90 0 1 0 3.80 0a1.90 1.90 0 1 0 -3.80 0M411.6 687.0a1.90 1.90 0 1 0 3.80 0a1.90 1.90 0 1 0 -3.80 0M516.6 628.0a1.90 1.90 0 1 0 3.80 0a1.90 1.90 0 1 0 -3.80 0M471.4 664.8a1.90 1.90 0 1 0 3.80 0a1.90 1.90 0 1 0 -3.80 0M439.3 674.1a1.90 1.90 0 1 0 3.80 0a1.90 1.90 0 1 0 -3.80 0M443.9 672.7a1.90 1.90 0 1 0 3.80 0a1.90 1.90 0 1 0 -3.80 0M457.8 671.7a1.90 1.90 0 1 0 3.80 0a1.90 1.90 0 1 0 -3.80 0M445.2 672.3a1.90 1.90 0 1 0 3.80 0a1.90 1.90 0 1 0 -3.80 0M431.6 680.6a1.90 1.90 0 1 0 3.80 0a1.90 1.90 0 1 0 -3.80 0M487.0 643.3a1.90 1.90 0 1 0 3.80 0a1.90 1.90 0 1 0 -3.80 0M432.8 681.3a1.90 1.90 0 1 0 3.80 0a1.90 1.90 0 1 0 -3.80 0M429.4 682.3a1.90 1.90 0 1 0 3.80 0a1.90 1.90 0 1 0 -3.80 0M439.0 675.7a1.90 1.90 0 1 0 3.80 0a1.90 1.90 0 1 0 -3.80 0M434.5 675.6a1.90 1.90 0 1 0 3.80 0a1.90 1.90 0 1 0 -3.80 0M443.2 676.5a1.90 1.90 0 1 0 3.80 0a1.90 1.90 0 1 0 -3.80 0M424.6 678.2a1.90 1.90 0 1 0 3.80 0a1.90 1.90 0 1 0 -3.80 0M454.3 668.7a1.90 1.90 0 1 0 3.80 0a1.90 1.90 0 1 0 -3.80 0M473.5 656.4a1.90 1.90 0 1 0 3.80 0a1.90 1.90 0 1 0 -3.80 0M411.3 686.8a1.90 1.90 0 1 0 3.80 0a1.90 1.90 0 1 0 -3.80 0M430.3 682.7a1.90 1.90 0 1 0 3.80 0a1.90 1.90 0 1 0 -3.80 0M410.9 688.1a1.90 1.90 0 1 0 3.80 0a1.90 1.90 0 1 0 -3.80 0M420.7 684.1a1.90 1.90 0 1 0 3.80 0a1.90 1.90 0 1 0 -3.80 0M411.1 686.6a1.90 1.90 0 1 0 3.80 0a1.90 1.90 0 1 0 -3.80 0M444.0 671.8a1.90 1.90 0 1 0 3.80 0a1.90 1.90 0 1 0 -3.80 0M422.7 685.7a1.90 1.90 0 1 0 3.80 0a1.90 1.90 0 1 0 -3.80 0M481.2 646.6a1.90 1.90 0 1 0 3.80 0a1.90 1.90 0 1 0 -3.80 0M429.3 682.1a1.90 1.90 0 1 0 3.80 0a1.90 1.90 0 1 0 -3.80 0M427.1 683.3a1.90 1.90 0 1 0 3.80 0a1.90 1.90 0 1 0 -3.80 0M422.6 684.9a1.90 1.90 0 1 0 3.80 0a1.90 1.90 0 1 0 -3.80 0M418.6 684.5a1.90 1.90 0 1 0 3.80 0a1.90 1.90 0 1 0 -3.80 0M481.5 651.5a1.90 1.90 0 1 0 3.80 0a1.90 1.90 0 1 0 -3.80 0M412.2 687.5a1.90 1.90 0 1 0 3.80 0a1.90 1.90 0 1 0 -3.80 0M491.7 646.2a1.90 1.90 0 1 0 3.80 0a1.90 1.90 0 1 0 -3.80 0M431.7 679.7a1.90 1.90 0 1 0 3.80 0a1.90 1.90 0 1 0 -3.80 0M413.0 686.5a1.90 1.90 0 1 0 3.80 0a1.90 1.90 0 1 0 -3.80 0M440.3 678.3a1.90 1.90 0 1 0 3.80 0a1.90 1.90 0 1 0 -3.80 0M421.8 680.9a1.90 1.90 0 1 0 3.80 0a1.90 1.90 0 1 0 -3.80 0M421.1 685.7a1.90 1.90 0 1 0 3.80 0a1.90 1.90 0 1 0 -3.80 0M495.0 638.2a1.90 1.90 0 1 0 3.80 0a1.90 1.90 0 1 0 -3.80 0M460.5 664.2a1.90 1.90 0 1 0 3.80 0a1.90 1.90 0 1 0 -3.80 0M431.2 681.8a1.90 1.90 0 1 0 3.80 0a1.90 1.90 0 1 0 -3.80 0M431.0 679.8a1.90 1.90 0 1 0 3.80 0a1.90 1.90 0 1 0 -3.80 0M424.6 682.9a1.90 1.90 0 1 0 3.80 0a1.90 1.90 0 1 0 -3.80 0M515.3 626.4a1.90 1.90 0 1 0 3.80 0a1.90 1.90 0 1 0 -3.80 0M417.6 684.9a1.90 1.90 0 1 0 3.80 0a1.90 1.90 0 1 0 -3.80 0M418.0 684.7a1.90 1.90 0 1 0 3.80 0a1.90 1.90 0 1 0 -3.80 0M441.4 674.1a1.90 1.90 0 1 0 3.80 0a1.90 1.90 0 1 0 -3.80 0M485.8 644.4a1.90 1.90 0 1 0 3.80 0a1.90 1.90 0 1 0 -3.80 0M411.3 688.1a1.90 1.90 0 1 0 3.80 0a1.90 1.90 0 1 0 -3.80 0M431.0 681.5a1.90 1.90 0 1 0 3.80 0a1.90 1.90 0 1 0 -3.80 0M428.4 676.6a1.90 1.90 0 1 0 3.80 0a1.90 1.90 0 1 0 -3.80 0M459.8 673.2a1.90 1.90 0 1 0 3.80 0a1.90 1.90 0 1 0 -3.80 0M575.1 580.1a1.90 1.90 0 1 0 3.80 0a1.90 1.90 0 1 0 -3.80 0M469.4 660.3a1.90 1.90 0 1 0 3.80 0a1.90 1.90 0 1 0 -3.80 0M425.0 682.6a1.90 1.90 0 1 0 3.80 0a1.90 1.90 0 1 0 -3.80 0M418.8 685.1a1.90 1.90 0 1 0 3.80 0a1.90 1.90 0 1 0 -3.80 0M438.7 677.6a1.90 1.90 0 1 0 3.80 0a1.90 1.90 0 1 0 -3.80 0M472.8 664.0a1.90 1.90 0 1 0 3.80 0a1.90 1.90 0 1 0 -3.80 0M462.8 665.2a1.90 1.90 0 1 0 3.80 0a1.90 1.90 0 1 0 -3.80 0M423.2 681.8a1.90 1.90 0 1 0 3.80 0a1.90 1.90 0 1 0 -3.80 0M516.7 622.0a1.90 1.90 0 1 0 3.80 0a1.90 1.90 0 1 0 -3.80 0M413.9 686.3a1.90 1.90 0 1 0 3.80 0a1.90 1.90 0 1 0 -3.80 0M483.7 649.4a1.90 1.90 0 1 0 3.80 0a1.90 1.90 0 1 0 -3.80 0M454.4 675.1a1.90 1.90 0 1 0 3.80 0a1.90 1.90 0 1 0 -3.80 0M422.5 684.9a1.90 1.90 0 1 0 3.80 0a1.90 1.90 0 1 0 -3.80 0M481.9 651.6a1.90 1.90 0 1 0 3.80 0a1.90 1.90 0 1 0 -3.80 0M414.6 685.1a1.90 1.90 0 1 0 3.80 0a1.90 1.90 0 1 0 -3.80 0M417.2 685.4a1.90 1.90 0 1 0 3.80 0a1.90 1.90 0 1 0 -3.80 0M448.6 674.2a1.90 1.90 0 1 0 3.80 0a1.90 1.90 0 1 0 -3.80 0M541.9 586.9a1.90 1.90 0 1 0 3.80 0a1.90 1.90 0 1 0 -3.80 0M473.7 660.6a1.90 1.90 0 1 0 3.80 0a1.90 1.90 0 1 0 -3.80 0M421.3 684.1a1.90 1.90 0 1 0 3.80 0a1.90 1.90 0 1 0 -3.80 0M524.4 618.7a1.90 1.90 0 1 0 3.80 0a1.90 1.90 0 1 0 -3.80 0M447.0 674.8a1.90 1.90 0 1 0 3.80 0a1.90 1.90 0 1 0 -3.80 0M440.3 674.8a1.90 1.90 0 1 0 3.80 0a1.90 1.90 0 1 0 -3.80 0M415.5 685.3a1.90 1.90 0 1 0 3.80 0a1.90 1.90 0 1 0 -3.80 0M415.2 684.4a1.90 1.90 0 1 0 3.80 0a1.90 1.90 0 1 0 -3.80 0M411.4 687.7a1.90 1.90 0 1 0 3.80 0a1.90 1.90 0 1 0 -3.80 0M415.8 686.7a1.90 1.90 0 1 0 3.80 0a1.90 1.90 0 1 0 -3.80 0M410.1 687.4a1.90 1.90 0 1 0 3.80 0a1.90 1.90 0 1 0 -3.80 0M428.3 679.7a1.90 1.90 0 1 0 3.80 0a1.90 1.90 0 1 0 -3.80 0M419.3 683.3a1.90 1.90 0 1 0 3.80 0a1.90 1.90 0 1 0 -3.80 0M426.0 683.3a1.90 1.90 0 1 0 3.80 0a1.90 1.90 0 1 0 -3.80 0M451.3 664.8a1.90 1.90 0 1 0 3.80 0a1.90 1.90 0 1 0 -3.80 0M414.7 686.5a1.90 1.90 0 1 0 3.80 0a1.90 1.90 0 1 0 -3.80 0M419.5 684.7a1.90 1.90 0 1 0 3.80 0a1.90 1.90 0 1 0 -3.80 0M439.9 677.0a1.90 1.90 0 1 0 3.80 0a1.90 1.90 0 1 0 -3.80 0M471.7 652.6a1.90 1.90 0 1 0 3.80 0a1.90 1.90 0 1 0 -3.80 0M408.2 687.6a1.90 1.90 0 1 0 3.80 0a1.90 1.90 0 1 0 -3.80 0M462.7 660.9a1.90 1.90 0 1 0 3.80 0a1.90 1.90 0 1 0 -3.80 0M454.5 670.6a1.90 1.90 0 1 0 3.80 0a1.90 1.90 0 1 0 -3.80 0M428.6 681.3a1.90 1.90 0 1 0 3.80 0a1.90 1.90 0 1 0 -3.80 0M417.3 685.2a1.90 1.90 0 1 0 3.80 0a1.90 1.90 0 1 0 -3.80 0M448.2 675.2a1.90 1.90 0 1 0 3.80 0a1.90 1.90 0 1 0 -3.80 0M540.2 600.7a1.90 1.90 0 1 0 3.80 0a1.90 1.90 0 1 0 -3.80 0M477.7 658.6a1.90 1.90 0 1 0 3.80 0a1.90 1.90 0 1 0 -3.80 0M427.7 681.5a1.90 1.90 0 1 0 3.80 0a1.90 1.90 0 1 0 -3.80 0M427.5 679.2a1.90 1.90 0 1 0 3.80 0a1.90 1.90 0 1 0 -3.80 0M456.7 671.8a1.90 1.90 0 1 0 3.80 0a1.90 1.90 0 1 0 -3.80 0M453.7 665.9a1.90 1.90 0 1 0 3.80 0a1.90 1.90 0 1 0 -3.80 0M506.0 619.4a1.90 1.90 0 1 0 3.80 0a1.90 1.90 0 1 0 -3.80 0M437.8 677.8a1.90 1.90 0 1 0 3.80 0a1.90 1.90 0 1 0 -3.80 0M430.5 676.4a1.90 1.90 0 1 0 3.80 0a1.90 1.90 0 1 0 -3.80 0M422.0 682.8a1.90 1.90 0 1 0 3.80 0a1.90 1.90 0 1 0 -3.80 0M426.7 678.8a1.90 1.90 0 1 0 3.80 0a1.90 1.90 0 1 0 -3.80 0M420.4 684.9a1.90 1.90 0 1 0 3.80 0a1.90 1.90 0 1 0 -3.80 0M418.6 685.0a1.90 1.90 0 1 0 3.80 0a1.90 1.90 0 1 0 -3.80 0M409.5 688.0a1.90 1.90 0 1 0 3.80 0a1.90 1.90 0 1 0 -3.80 0M421.2 683.5a1.90 1.90 0 1 0 3.80 0a1.90 1.90 0 1 0 -3.80 0M454.0 672.1a1.90 1.90 0 1 0 3.80 0a1.90 1.90 0 1 0 -3.80 0M489.5 643.0a1.90 1.90 0 1 0 3.80 0a1.90 1.90 0 1 0 -3.80 0M434.3 679.2a1.90 1.90 0 1 0 3.80 0a1.90 1.90 0 1 0 -3.80 0M536.2 602.8a1.90 1.90 0 1 0 3.80 0a1.90 1.90 0 1 0 -3.80 0M513.6 628.9a1.90 1.90 0 1 0 3.80 0a1.90 1.90 0 1 0 -3.80 0M408.0 688.8a1.90 1.90 0 1 0 3.80 0a1.90 1.90 0 1 0 -3.80 0M442.9 676.9a1.90 1.90 0 1 0 3.80 0a1.90 1.90 0 1 0 -3.80 0M441.6 673.8a1.90 1.90 0 1 0 3.80 0a1.90 1.90 0 1 0 -3.80 0M461.3 657.3a1.90 1.90 0 1 0 3.80 0a1.90 1.90 0 1 0 -3.80 0M492.2 637.9a1.90 1.90 0 1 0 3.80 0a1.90 1.90 0 1 0 -3.80 0M426.3 684.9a1.90 1.90 0 1 0 3.80 0a1.90 1.90 0 1 0 -3.80 0M481.9 653.1a1.90 1.90 0 1 0 3.80 0a1.90 1.90 0 1 0 -3.80 0M408.6 687.6a1.90 1.90 0 1 0 3.80 0a1.90 1.90 0 1 0 -3.80 0M461.5 659.0a1.90 1.90 0 1 0 3.80 0a1.90 1.90 0 1 0 -3.80 0M413.1 687.3a1.90 1.90 0 1 0 3.80 0a1.90 1.90 0 1 0 -3.80 0M413.0 687.5a1.90 1.90 0 1 0 3.80 0a1.90 1.90 0 1 0 -3.80 0M476.1 651.4a1.90 1.90 0 1 0 3.80 0a1.90 1.90 0 1 0 -3.80 0M420.6 685.7a1.90 1.90 0 1 0 3.80 0a1.90 1.90 0 1 0 -3.80 0M462.3 671.8a1.90 1.90 0 1 0 3.80 0a1.90 1.90 0 1 0 -3.80 0M434.9 678.5a1.90 1.90 0 1 0 3.80 0a1.90 1.90 0 1 0 -3.80 0M447.1 676.2a1.90 1.90 0 1 0 3.80 0a1.90 1.90 0 1 0 -3.80 0M427.0 678.4a1.90 1.90 0 1 0 3.80 0a1.90 1.90 0 1 0 -3.80 0M409.3 687.4a1.90 1.90 0 1 0 3.80 0a1.90 1.90 0 1 0 -3.80 0M499.2 631.4a1.90 1.90 0 1 0 3.80 0a1.90 1.90 0 1 0 -3.80 0M499.5 620.5a1.90 1.90 0 1 0 3.80 0a1.90 1.90 0 1 0 -3.80 0M441.5 677.1a1.90 1.90 0 1 0 3.80 0a1.90 1.90 0 1 0 -3.80 0M434.5 676.2a1.90 1.90 0 1 0 3.80 0a1.90 1.90 0 1 0 -3.80 0M419.7 683.9a1.90 1.90 0 1 0 3.80 0a1.90 1.90 0 1 0 -3.80 0M416.4 686.0a1.90 1.90 0 1 0 3.80 0a1.90 1.90 0 1 0 -3.80 0M416.0 684.1a1.90 1.90 0 1 0 3.80 0a1.90 1.90 0 1 0 -3.80 0M411.8 687.5a1.90 1.90 0 1 0 3.80 0a1.90 1.90 0 1 0 -3.80 0M433.3 674.8a1.90 1.90 0 1 0 3.80 0a1.90 1.90 0 1 0 -3.80 0M496.9 638.8a1.90 1.90 0 1 0 3.80 0a1.90 1.90 0 1 0 -3.80 0M425.4 683.2a1.90 1.90 0 1 0 3.80 0a1.90 1.90 0 1 0 -3.80 0M454.5 671.0a1.90 1.90 0 1 0 3.80 0a1.90 1.90 0 1 0 -3.80 0M457.1 673.4a1.90 1.90 0 1 0 3.80 0a1.90 1.90 0 1 0 -3.80 0M419.6 685.8a1.90 1.90 0 1 0 3.80 0a1.90 1.90 0 1 0 -3.80 0M465.0 665.5a1.90 1.90 0 1 0 3.80 0a1.90 1.90 0 1 0 -3.80 0M435.5 676.9a1.90 1.90 0 1 0 3.80 0a1.90 1.90 0 1 0 -3.80 0M514.9 627.7a1.90 1.90 0 1 0 3.80 0a1.90 1.90 0 1 0 -3.80 0M504.4 625.9a1.90 1.90 0 1 0 3.80 0a1.90 1.90 0 1 0 -3.80 0M430.3 682.6a1.90 1.90 0 1 0 3.80 0a1.90 1.90 0 1 0 -3.80 0M430.5 680.3a1.90 1.90 0 1 0 3.80 0a1.90 1.90 0 1 0 -3.80 0M534.0 614.5a1.90 1.90 0 1 0 3.80 0a1.90 1.90 0 1 0 -3.80 0M416.7 685.0a1.90 1.90 0 1 0 3.80 0a1.90 1.90 0 1 0 -3.80 0M550.1 585.0a1.90 1.90 0 1 0 3.80 0a1.90 1.90 0 1 0 -3.80 0M501.8 642.9a1.90 1.90 0 1 0 3.80 0a1.90 1.90 0 1 0 -3.80 0M425.7 684.2a1.90 1.90 0 1 0 3.80 0a1.90 1.90 0 1 0 -3.80 0M435.0 679.4a1.90 1.90 0 1 0 3.80 0a1.90 1.90 0 1 0 -3.80 0M476.7 652.7a1.90 1.90 0 1 0 3.80 0a1.90 1.90 0 1 0 -3.80 0M414.1 685.5a1.90 1.90 0 1 0 3.80 0a1.90 1.90 0 1 0 -3.80 0M416.1 683.0a1.90 1.90 0 1 0 3.80 0a1.90 1.90 0 1 0 -3.80 0M477.0 652.8a1.90 1.90 0 1 0 3.80 0a1.90 1.90 0 1 0 -3.80 0M450.2 673.0a1.90 1.90 0 1 0 3.80 0a1.90 1.90 0 1 0 -3.80 0M453.5 669.9a1.90 1.90 0 1 0 3.80 0a1.90 1.90 0 1 0 -3.80 0M446.5 677.1a1.90 1.90 0 1 0 3.80 0a1.90 1.90 0 1 0 -3.80 0M426.0 683.1a1.90 1.90 0 1 0 3.80 0a1.90 1.90 0 1 0 -3.80 0M485.6 661.6a1.90 1.90 0 1 0 3.80 0a1.90 1.90 0 1 0 -3.80 0M462.7 664.9a1.90 1.90 0 1 0 3.80 0a1.90 1.90 0 1 0 -3.80 0M425.5 681.7a1.90 1.90 0 1 0 3.80 0a1.90 1.90 0 1 0 -3.80 0M561.0 585.7a1.90 1.90 0 1 0 3.80 0a1.90 1.90 0 1 0 -3.80 0M510.2 617.0a1.90 1.90 0 1 0 3.80 0a1.90 1.90 0 1 0 -3.80 0M537.0 606.0a1.90 1.90 0 1 0 3.80 0a1.90 1.90 0 1 0 -3.80 0M540.9 589.5a1.90 1.90 0 1 0 3.80 0a1.90 1.90 0 1 0 -3.80 0M518.6 620.3a1.90 1.90 0 1 0 3.80 0a1.90 1.90 0 1 0 -3.80 0M571.0 588.1a1.90 1.90 0 1 0 3.80 0a1.90 1.90 0 1 0 -3.80 0M518.8 607.6a1.90 1.90 0 1 0 3.80 0a1.90 1.90 0 1 0 -3.80 0M518.3 625.1a1.90 1.90 0 1 0 3.80 0a1.90 1.90 0 1 0 -3.80 0M550.3 572.7a1.90 1.90 0 1 0 3.80 0a1.90 1.90 0 1 0 -3.80 0M532.4 621.3a1.90 1.90 0 1 0 3.80 0a1.90 1.90 0 1 0 -3.80 0M553.1 606.4a1.90 1.90 0 1 0 3.80 0a1.90 1.90 0 1 0 -3.80 0M503.1 628.9a1.90 1.90 0 1 0 3.80 0a1.90 1.90 0 1 0 -3.80 0M502.7 621.5a1.90 1.90 0 1 0 3.80 0a1.90 1.90 0 1 0 -3.80 0M554.1 596.1a1.90 1.90 0 1 0 3.80 0a1.90 1.90 0 1 0 -3.80 0M523.7 604.0a1.90 1.90 0 1 0 3.80 0a1.90 1.90 0 1 0 -3.80 0M564.6 605.8a1.90 1.90 0 1 0 3.80 0a1.90 1.90 0 1 0 -3.80 0M510.2 621.8a1.90 1.90 0 1 0 3.80 0a1.90 1.90 0 1 0 -3.80 0M510.8 621.6a1.90 1.90 0 1 0 3.80 0a1.90 1.90 0 1 0 -3.80 0M565.2 590.5a1.90 1.90 0 1 0 3.80 0a1.90 1.90 0 1 0 -3.80 0M521.4 602.1a1.90 1.90 0 1 0 3.80 0a1.90 1.90 0 1 0 -3.80 0M499.4 638.2a1.90 1.90 0 1 0 3.80 0a1.90 1.90 0 1 0 -3.80 0M509.0 631.6a1.90 1.90 0 1 0 3.80 0a1.90 1.90 0 1 0 -3.80 0M557.0 583.5a1.90 1.90 0 1 0 3.80 0a1.90 1.90 0 1 0 -3.80 0M513.0 615.3a1.90 1.90 0 1 0 3.80 0a1.90 1.90 0 1 0 -3.80 0M538.3 594.8a1.90 1.90 0 1 0 3.80 0a1.90 1.90 0 1 0 -3.80 0M562.7 589.2a1.90 1.90 0 1 0 3.80 0a1.90 1.90 0 1 0 -3.80 0M543.1 590.0a1.90 1.90 0 1 0 3.80 0a1.90 1.90 0 1 0 -3.80 0M555.5 584.7a1.90 1.90 0 1 0 3.80 0a1.90 1.90 0 1 0 -3.80 0M575.1 593.7a1.90 1.90 0 1 0 3.80 0a1.90 1.90 0 1 0 -3.80 0M515.9 613.3a1.90 1.90 0 1 0 3.80 0a1.90 1.90 0 1 0 -3.80 0M566.3 584.4a1.90 1.90 0 1 0 3.80 0a1.90 1.90 0 1 0 -3.80 0M537.9 609.0a1.90 1.90 0 1 0 3.80 0a1.90 1.90 0 1 0 -3.80 0M507.4 635.7a1.90 1.90 0 1 0 3.80 0a1.90 1.90 0 1 0 -3.80 0M501.3 636.1a1.90 1.90 0 1 0 3.80 0a1.90 1.90 0 1 0 -3.80 0M518.4 611.4a1.90 1.90 0 1 0 3.80 0a1.90 1.90 0 1 0 -3.80 0M501.8 619.6a1.90 1.90 0 1 0 3.80 0a1.90 1.90 0 1 0 -3.80 0M557.2 584.2a1.90 1.90 0 1 0 3.80 0a1.90 1.90 0 1 0 -3.80 0M538.5 590.1a1.90 1.90 0 1 0 3.80 0a1.90 1.90 0 1 0 -3.80 0M493.7 634.0a1.90 1.90 0 1 0 3.80 0a1.90 1.90 0 1 0 -3.80 0M566.5 566.2a1.90 1.90 0 1 0 3.80 0a1.90 1.90 0 1 0 -3.80 0M541.8 608.3a1.90 1.90 0 1 0 3.80 0a1.90 1.90 0 1 0 -3.80 0M528.5 613.6a1.90 1.90 0 1 0 3.80 0a1.90 1.90 0 1 0 -3.80 0M502.1 638.2a1.90 1.90 0 1 0 3.80 0a1.90 1.90 0 1 0 -3.80 0M530.8 602.0a1.90 1.90 0 1 0 3.80 0a1.90 1.90 0 1 0 -3.80 0M569.9 591.9a1.90 1.90 0 1 0 3.80 0a1.90 1.90 0 1 0 -3.80 0M540.8 599.0a1.90 1.90 0 1 0 3.80 0a1.90 1.90 0 1 0 -3.80 0M529.9 609.7a1.90 1.90 0 1 0 3.80 0a1.90 1.90 0 1 0 -3.80 0M542.9 615.9a1.90 1.90 0 1 0 3.80 0a1.90 1.90 0 1 0 -3.80 0M537.9 606.4a1.90 1.90 0 1 0 3.80 0a1.90 1.90 0 1 0 -3.80 0M544.3 602.2a1.90 1.90 0 1 0 3.80 0a1.90 1.90 0 1 0 -3.80 0M507.2 623.5a1.90 1.90 0 1 0 3.80 0a1.90 1.90 0 1 0 -3.80 0M502.8 632.5a1.90 1.90 0 1 0 3.80 0a1.90 1.90 0 1 0 -3.80 0M490.9 647.9a1.90 1.90 0 1 0 3.80 0a1.90 1.90 0 1 0 -3.80 0M562.4 584.6a1.90 1.90 0 1 0 3.80 0a1.90 1.90 0 1 0 -3.80 0M490.1 636.3a1.90 1.90 0 1 0 3.80 0a1.90 1.90 0 1 0 -3.80 0M512.2 631.7a1.90 1.90 0 1 0 3.80 0a1.90 1.90 0 1 0 -3.80 0M540.9 593.2a1.90 1.90 0 1 0 3.80 0a1.90 1.90 0 1 0 -3.80 0M533.4 597.1a1.90 1.90 0 1 0 3.80 0a1.90 1.90 0 1 0 -3.80 0M568.5 579.8a1.90 1.90 0 1 0 3.80 0a1.90 1.90 0 1 0 -3.80 0M508.4 620.8a1.90 1.90 0 1 0 3.80 0a1.90 1.90 0 1 0 -3.80 0M499.8 631.7a1.90 1.90 0 1 0 3.80 0a1.90 1.90 0 1 0 -3.80 0M503.8 631.9a1.90 1.90 0 1 0 3.80 0a1.90 1.90 0 1 0 -3.80 0M533.3 606.9a1.90 1.90 0 1 0 3.80 0a1.90 1.90 0 1 0 -3.80 0M515.2 621.9a1.90 1.90 0 1 0 3.80 0a1.90 1.90 0 1 0 -3.80 0M529.6 629.9a1.90 1.90 0 1 0 3.80 0a1.90 1.90 0 1 0 -3.80 0M549.9 602.3a1.90 1.90 0 1 0 3.80 0a1.90 1.90 0 1 0 -3.80 0M517.9 626.1a1.90 1.90 0 1 0 3.80 0a1.90 1.90 0 1 0 -3.80 0M547.9 606.9a1.90 1.90 0 1 0 3.80 0a1.90 1.90 0 1 0 -3.80 0M491.5 634.7a1.90 1.90 0 1 0 3.80 0a1.90 1.90 0 1 0 -3.80 0M537.5 592.6a1.90 1.90 0 1 0 3.80 0a1.90 1.90 0 1 0 -3.80 0M569.0 594.9a1.90 1.90 0 1 0 3.80 0a1.90 1.90 0 1 0 -3.80 0M571.4 564.6a1.90 1.90 0 1 0 3.80 0a1.90 1.90 0 1 0 -3.80 0M539.7 594.6a1.90 1.90 0 1 0 3.80 0a1.90 1.90 0 1 0 -3.80 0M575.6 579.5a1.90 1.90 0 1 0 3.80 0a1.90 1.90 0 1 0 -3.80 0M510.4 614.7a1.90 1.90 0 1 0 3.80 0a1.90 1.90 0 1 0 -3.80 0M515.8 612.6a1.90 1.90 0 1 0 3.80 0a1.90 1.90 0 1 0 -3.80 0M528.9 601.6a1.90 1.90 0 1 0 3.80 0a1.90 1.90 0 1 0 -3.80 0M534.2 595.3a1.90 1.90 0 1 0 3.80 0a1.90 1.90 0 1 0 -3.80 0M561.4 576.6a1.90 1.90 0 1 0 3.80 0a1.90 1.90 0 1 0 -3.80 0M528.9 602.3a1.90 1.90 0 1 0 3.80 0a1.90 1.90 0 1 0 -3.80 0M494.0 647.8a1.90 1.90 0 1 0 3.80 0a1.90 1.90 0 1 0 -3.80 0M550.9 610.0a1.90 1.90 0 1 0 3.80 0a1.90 1.90 0 1 0 -3.80 0M509.2 612.9a1.90 1.90 0 1 0 3.80 0a1.90 1.90 0 1 0 -3.80 0M566.8 571.8a1.90 1.90 0 1 0 3.80 0a1.90 1.90 0 1 0 -3.80 0M508.3 621.1a1.90 1.90 0 1 0 3.80 0a1.90 1.90 0 1 0 -3.80 0M515.6 615.0a1.90 1.90 0 1 0 3.80 0a1.90 1.90 0 1 0 -3.80 0M501.8 628.0a1.90 1.90 0 1 0 3.80 0a1.90 1.90 0 1 0 -3.80 0M516.2 610.7a1.90 1.90 0 1 0 3.80 0a1.90 1.90 0 1 0 -3.80 0M542.3 592.9a1.90 1.90 0 1 0 3.80 0a1.90 1.90 0 1 0 -3.80 0M513.1 619.8a1.90 1.90 0 1 0 3.80 0a1.90 1.90 0 1 0 -3.80 0M494.0 638.7a1.90 1.90 0 1 0 3.80 0a1.90 1.90 0 1 0 -3.80 0M541.0 606.1a1.90 1.90 0 1 0 3.80 0a1.90 1.90 0 1 0 -3.80 0M554.0 580.4a1.90 1.90 0 1 0 3.80 0a1.90 1.90 0 1 0 -3.80 0M499.3 629.9a1.90 1.90 0 1 0 3.80 0a1.90 1.90 0 1 0 -3.80 0M526.8 622.2a1.90 1.90 0 1 0 3.80 0a1.90 1.90 0 1 0 -3.80 0M495.8 630.1a1.90 1.90 0 1 0 3.80 0a1.90 1.90 0 1 0 -3.80 0M491.3 654.1a1.90 1.90 0 1 0 3.80 0a1.90 1.90 0 1 0 -3.80 0M522.5 619.4a1.90 1.90 0 1 0 3.80 0a1.90 1.90 0 1 0 -3.80 0M514.8 620.4a1.90 1.90 0 1 0 3.80 0a1.90 1.90 0 1 0 -3.80 0M566.2 589.5a1.90 1.90 0 1 0 3.80 0a1.90 1.90 0 1 0 -3.80 0M491.0 646.5a1.90 1.90 0 1 0 3.80 0a1.90 1.90 0 1 0 -3.80 0M546.2 596.6a1.90 1.90 0 1 0 3.80 0a1.90 1.90 0 1 0 -3.80 0M553.9 579.0a1.90 1.90 0 1 0 3.80 0a1.90 1.90 0 1 0 -3.80 0M526.2 610.8a1.90 1.90 0 1 0 3.80 0a1.90 1.90 0 1 0 -3.80 0M533.5 619.8a1.90 1.90 0 1 0 3.80 0a1.90 1.90 0 1 0 -3.80 0M511.4 641.7a1.90 1.90 0 1 0 3.80 0a1.90 1.90 0 1 0 -3.80 0M511.8 636.5a1.90 1.90 0 1 0 3.80 0a1.90 1.90 0 1 0 -3.80 0M494.4 623.9a1.90 1.90 0 1 0 3.80 0a1.90 1.90 0 1 0 -3.80 0M568.9 596.5a1.90 1.90 0 1 0 3.80 0a1.90 1.90 0 1 0 -3.80 0M492.3 640.6a1.90 1.90 0 1 0 3.80 0a1.90 1.90 0 1 0 -3.80 0M501.8 632.3a1.90 1.90 0 1 0 3.80 0a1.90 1.90 0 1 0 -3.80 0M553.0 589.6a1.90 1.90 0 1 0 3.80 0a1.90 1.90 0 1 0 -3.80 0M529.8 612.2a1.90 1.90 0 1 0 3.80 0a1.90 1.90 0 1 0 -3.80 0M534.5 593.6a1.90 1.90 0 1 0 3.80 0a1.90 1.90 0 1 0 -3.80 0M515.5 625.5a1.90 1.90 0 1 0 3.80 0a1.90 1.90 0 1 0 -3.80 0M503.9 635.5a1.90 1.90 0 1 0 3.80 0a1.90 1.90 0 1 0 -3.80 0M559.6 591.5a1.90 1.90 0 1 0 3.80 0a1.90 1.90 0 1 0 -3.80 0M500.6 644.9a1.90 1.90 0 1 0 3.80 0a1.90 1.90 0 1 0 -3.80 0M515.6 626.9a1.90 1.90 0 1 0 3.80 0a1.90 1.90 0 1 0 -3.80 0M555.5 579.1a1.90 1.90 0 1 0 3.80 0a1.90 1.90 0 1 0 -3.80 0M515.8 620.5a1.90 1.90 0 1 0 3.80 0a1.90 1.90 0 1 0 -3.80 0M572.9 567.7a1.90 1.90 0 1 0 3.80 0a1.90 1.90 0 1 0 -3.80 0M505.1 628.6a1.90 1.90 0 1 0 3.80 0a1.90 1.90 0 1 0 -3.80 0M535.9 607.2a1.90 1.90 0 1 0 3.80 0a1.90 1.90 0 1 0 -3.80 0M536.8 621.0a1.90 1.90 0 1 0 3.80 0a1.90 1.90 0 1 0 -3.80 0M533.5 607.0a1.90 1.90 0 1 0 3.80 0a1.90 1.90 0 1 0 -3.80 0M557.4 592.1a1.90 1.90 0 1 0 3.80 0a1.90 1.90 0 1 0 -3.80 0M493.8 633.9a1.90 1.90 0 1 0 3.80 0a1.90 1.90 0 1 0 -3.80 0M537.5 616.6a1.90 1.90 0 1 0 3.80 0a1.90 1.90 0 1 0 -3.80 0M558.8 587.0a1.90 1.90 0 1 0 3.80 0a1.90 1.90 0 1 0 -3.80 0M494.2 642.1a1.90 1.90 0 1 0 3.80 0a1.90 1.90 0 1 0 -3.80 0M537.5 605.0a1.90 1.90 0 1 0 3.80 0a1.90 1.90 0 1 0 -3.80 0M528.3 605.0a1.90 1.90 0 1 0 3.80 0a1.90 1.90 0 1 0 -3.80 0M525.1 621.9a1.90 1.90 0 1 0 3.80 0a1.90 1.90 0 1 0 -3.80 0M536.8 583.5a1.90 1.90 0 1 0 3.80 0a1.90 1.90 0 1 0 -3.80 0M544.3 601.4a1.90 1.90 0 1 0 3.80 0a1.90 1.90 0 1 0 -3.80 0M551.2 603.0a1.90 1.90 0 1 0 3.80 0a1.90 1.90 0 1 0 -3.80 0M568.2 586.7a1.90 1.90 0 1 0 3.80 0a1.90 1.90 0 1 0 -3.80 0M547.1 589.5a1.90 1.90 0 1 0 3.80 0a1.90 1.90 0 1 0 -3.80 0M577.0 581.4a1.90 1.90 0 1 0 3.80 0a1.90 1.90 0 1 0 -3.80 0M547.9 594.4a1.90 1.90 0 1 0 3.80 0a1.90 1.90 0 1 0 -3.80 0M513.3 621.3a1.90 1.90 0 1 0 3.80 0a1.90 1.90 0 1 0 -3.80 0M502.7 638.5a1.90 1.90 0 1 0 3.80 0a1.90 1.90 0 1 0 -3.80 0M496.0 645.3a1.90 1.90 0 1 0 3.80 0a1.90 1.90 0 1 0 -3.80 0M513.2 623.0a1.90 1.90 0 1 0 3.80 0a1.90 1.90 0 1 0 -3.80 0M500.2 638.6a1.90 1.90 0 1 0 3.80 0a1.90 1.90 0 1 0 -3.80 0M549.5 596.0a1.90 1.90 0 1 0 3.80 0a1.90 1.90 0 1 0 -3.80 0M550.0 595.9a1.90 1.90 0 1 0 3.80 0a1.90 1.90 0 1 0 -3.80 0M543.2 586.3a1.90 1.90 0 1 0 3.80 0a1.90 1.90 0 1 0 -3.80 0M523.2 611.5a1.90 1.90 0 1 0 3.80 0a1.90 1.90 0 1 0 -3.80 0M670.1 455.6a1.90 1.90 0 1 0 3.80 0a1.90 1.90 0 1 0 -3.80 0M666.1 468.6a1.90 1.90 0 1 0 3.80 0a1.90 1.90 0 1 0 -3.80 0M642.6 470.2a1.90 1.90 0 1 0 3.80 0a1.90 1.90 0 1 0 -3.80 0M640.4 476.2a1.90 1.90 0 1 0 3.80 0a1.90 1.90 0 1 0 -3.80 0M630.2 491.0a1.90 1.90 0 1 0 3.80 0a1.90 1.90 0 1 0 -3.80 0M646.6 488.0a1.90 1.90 0 1 0 3.80 0a1.90 1.90 0 1 0 -3.80 0M644.7 493.7a1.90 1.90 0 1 0 3.80 0a1.90 1.90 0 1 0 -3.80 0M663.1 490.5a1.90 1.90 0 1 0 3.80 0a1.90 1.90 0 1 0 -3.80 0M626.1 508.0a1.90 1.90 0 1 0 3.80 0a1.90 1.90 0 1 0 -3.80 0M623.9 509.9a1.90 1.90 0 1 0 3.80 0a1.90 1.90 0 1 0 -3.80 0M627.2 512.6a1.90 1.90 0 1 0 3.80 0a1.90 1.90 0 1 0 -3.80 0M626.4 514.2a1.90 1.90 0 1 0 3.80 0a1.90 1.90 0 1 0 -3.80 0M639.3 513.7a1.90 1.90 0 1 0 3.80 0a1.90 1.90 0 1 0 -3.80 0M614.8 521.8a1.90 1.90 0 1 0 3.80 0a1.90 1.90 0 1 0 -3.80 0M621.0 523.2a1.90 1.90 0 1 0 3.80 0a1.90 1.90 0 1 0 -3.80 0M616.1 526.7a1.90 1.90 0 1 0 3.80 0a1.90 1.90 0 1 0 -3.80 0M617.7 529.1a1.90 1.90 0 1 0 3.80 0a1.90 1.90 0 1 0 -3.80 0M608.0 531.8a1.90 1.90 0 1 0 3.80 0a1.90 1.90 0 1 0 -3.80 0M611.0 532.3a1.90 1.90 0 1 0 3.80 0a1.90 1.90 0 1 0 -3.80 0M608.8 534.8a1.90 1.90 0 1 0 3.80 0a1.90 1.90 0 1 0 -3.80 0M614.2 535.6a1.90 1.90 0 1 0 3.80 0a1.90 1.90 0 1 0 -3.80 0M609.6 541.5a1.90 1.90 0 1 0 3.80 0a1.90 1.90 0 1 0 -3.80 0M589.1 536.4a1.90 1.90 0 1 0 3.80 0a1.90 1.90 0 1 0 -3.80 0M593.2 536.9a1.90 1.90 0 1 0 3.80 0a1.90 1.90 0 1 0 -3.80 0M595.9 536.4a1.90 1.90 0 1 0 3.80 0a1.90 1.90 0 1 0 -3.80 0M594.2 542.3a1.90 1.90 0 1 0 3.80 0a1.90 1.90 0 1 0 -3.80 0M595.3 543.4a1.90 1.90 0 1 0 3.80 0a1.90 1.90 0 1 0 -3.80 0M600.7 543.4a1.90 1.90 0 1 0 3.80 0a1.90 1.90 0 1 0 -3.80 0M604.2 545.0a1.90 1.90 0 1 0 3.80 0a1.90 1.90 0 1 0 -3.80 0M591.8 549.1a1.90 1.90 0 1 0 3.80 0a1.90 1.90 0 1 0 -3.80 0M606.4 548.0a1.90 1.90 0 1 0 3.80 0a1.90 1.90 0 1 0 -3.80 0M585.9 548.5a1.90 1.90 0 1 0 3.80 0a1.90 1.90 0 1 0 -3.80 0M587.2 548.5a1.90 1.90 0 1 0 3.80 0a1.90 1.90 0 1 0 -3.80 0M602.1 553.1a1.90 1.90 0 1 0 3.80 0a1.90 1.90 0 1 0 -3.80 0M605.3 559.1a1.90 1.90 0 1 0 3.80 0a1.90 1.90 0 1 0 -3.80 0M578.3 555.8a1.90 1.90 0 1 0 3.80 0a1.90 1.90 0 1 0 -3.80 0M581.8 554.5a1.90 1.90 0 1 0 3.80 0a1.90 1.90 0 1 0 -3.80 0M584.0 554.7a1.90 1.90 0 1 0 3.80 0a1.90 1.90 0 1 0 -3.80 0M585.3 554.0a1.90 1.90 0 1 0 3.80 0a1.90 1.90 0 1 0 -3.80 0M588.8 563.7a1.90 1.90 0 1 0 3.80 0a1.90 1.90 0 1 0 -3.80 0M597.5 566.1a1.90 1.90 0 1 0 3.80 0a1.90 1.90 0 1 0 -3.80 0M590.7 571.5a1.90 1.90 0 1 0 3.80 0a1.90 1.90 0 1 0 -3.80 0M555.9 563.1a1.90 1.90 0 1 0 3.80 0a1.90 1.90 0 1 0 -3.80 0M581.8 577.3a1.90 1.90 0 1 0 3.80 0a1.90 1.90 0 1 0 -3.80 0M537.8 636.4a1.90 1.90 0 1 0 3.80 0a1.90 1.90 0 1 0 -3.80 0M546.2 615.1a1.90 1.90 0 1 0 3.80 0a1.90 1.90 0 1 0 -3.80 0M517.5 602.7a1.90 1.90 0 1 0 3.80 0a1.90 1.90 0 1 0 -3.80 0M519.2 642.9a1.90 1.90 0 1 0 3.80 0a1.90 1.90 0 1 0 -3.80 0M507.6 655.6a1.90 1.90 0 1 0 3.80 0a1.90 1.90 0 1 0 -3.80 0" fill="none" stroke="#7cf000" stroke-width="1.00"/></svg></body></html>
